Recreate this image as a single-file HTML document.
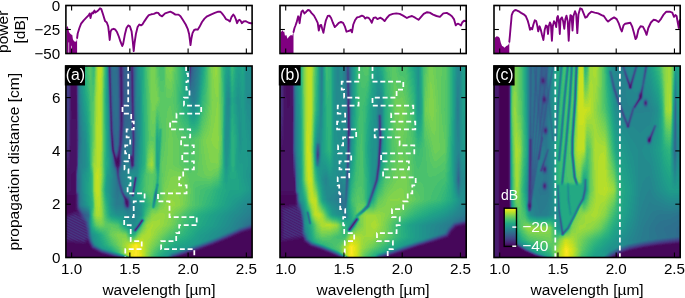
<!DOCTYPE html>
<html><head><meta charset="utf-8"><style>
html,body{margin:0;padding:0;background:#fff}
body{width:685px;height:298px;overflow:hidden;position:relative;font-family:"Liberation Sans",sans-serif}
canvas{position:absolute}
svg{position:absolute;left:0;top:0}
svg text{font-family:"Liberation Sans",sans-serif}
</style></head><body>
<svg width="186" height="192" shape-rendering="crispEdges" style="position:absolute;left:66px;top:66px"><path fill="#443b84" d="M0 0h3v4h-3zM53 0h1v4h-1zM56 0h1v4h-1zM0 4h3v4h-3zM44 4h1v4h-1zM53 4h1v4h-1zM56 4h1v4h-1zM124 4h1v4h-1zM0 8h3v4h-3zM44 8h1v4h-1zM56 8h1v4h-1zM0 12h3v4h-3zM43 12h2v4h-2zM56 12h1v4h-1zM0 16h3v4h-3zM43 16h1v4h-1zM65 16h1v4h-1zM0 20h3v4h-3zM43 20h1v4h-1zM65 20h1v4h-1zM0 24h3v4h-3zM65 24h1v4h-1zM0 28h3v4h-3zM65 28h1v4h-1zM0 32h3v4h-3zM65 32h1v4h-1zM67 32h1v4h-1zM0 36h3v4h-3zM45 36h1v4h-1zM67 36h1v4h-1zM0 40h3v4h-3zM11 40h1v4h-1zM45 40h1v4h-1zM67 40h1v4h-1zM0 44h3v4h-3zM11 44h1v4h-1zM45 44h1v4h-1zM67 44h1v4h-1zM1 48h2v4h-2zM11 48h1v4h-1zM44 48h1v4h-1zM67 48h1v4h-1zM1 52h2v4h-2zM11 52h1v4h-1zM44 52h1v4h-1zM66 52h2v4h-2zM1 56h2v4h-2zM11 56h1v4h-1zM66 56h2v4h-2zM1 60h2v4h-2zM11 60h1v4h-1zM56 60h1v4h-1zM66 60h1v4h-1zM1 64h2v4h-2zM46 64h1v4h-1zM56 64h1v4h-1zM1 68h2v4h-2zM1 72h2v4h-2zM45 72h1v4h-1zM53 72h1v4h-1zM2 76h1v4h-1zM47 76h1v4h-1zM53 76h1v4h-1zM55 76h1v4h-1zM11 84h1v4h-1zM46 84h1v4h-1zM48 84h1v4h-1zM54 84h1v4h-1zM66 84h1v4h-1zM11 88h1v4h-1zM47 88h1v4h-1zM50 88h1v4h-1zM65 88h1v4h-1zM11 92h1v4h-1zM11 96h1v4h-1zM67 96h1v4h-1zM50 100h1v4h-1zM51 104h2v4h-2zM10 108h1v4h-1zM10 112h1v4h-1zM69 112h1v4h-1zM10 116h1v4h-1zM10 120h1v4h-1zM67 120h1v4h-1zM10 124h1v4h-1zM11 128h1v4h-1zM58 128h1v4h-1zM11 132h1v4h-1zM11 136h1v4h-1zM15 148h1v4h-1zM17 152h1v4h-1zM19 156h1v4h-1zM20 160h1v4h-1zM182 160h2v4h-2zM21 164h1v4h-1zM171 164h1v4h-1zM21 168h1v4h-1zM162 168h2v4h-2zM23 172h1v4h-1zM153 172h1v4h-1zM143 176h1v4h-1zM28 180h1v4h-1zM132 180h1v4h-1zM35 184h1v4h-1zM120 184h2v4h-2zM48 188h2v4h-2zM108 188h2v4h-2z"/><path fill="#472e7c" d="M3 0h1v4h-1zM43 0h1v4h-1zM65 0h2v4h-2zM124 0h1v4h-1zM3 4h1v4h-1zM43 4h1v4h-1zM65 4h2v4h-2zM3 8h1v4h-1zM43 8h1v4h-1zM65 8h2v4h-2zM3 12h1v4h-1zM65 12h2v4h-2zM3 16h1v4h-1zM44 16h1v4h-1zM56 16h1v4h-1zM66 16h1v4h-1zM3 20h1v4h-1zM44 20h1v4h-1zM54 20h1v4h-1zM56 20h1v4h-1zM66 20h1v4h-1zM3 24h1v4h-1zM44 24h1v4h-1zM54 24h1v4h-1zM56 24h1v4h-1zM66 24h1v4h-1zM3 28h1v4h-1zM44 28h1v4h-1zM54 28h1v4h-1zM56 28h1v4h-1zM66 28h1v4h-1zM3 32h1v4h-1zM44 32h1v4h-1zM54 32h1v4h-1zM56 32h1v4h-1zM66 32h1v4h-1zM3 36h1v4h-1zM44 36h1v4h-1zM54 36h1v4h-1zM56 36h1v4h-1zM66 36h1v4h-1zM3 40h1v4h-1zM44 40h1v4h-1zM54 40h1v4h-1zM56 40h1v4h-1zM66 40h1v4h-1zM3 44h1v4h-1zM44 44h1v4h-1zM54 44h1v4h-1zM56 44h1v4h-1zM66 44h1v4h-1zM0 48h1v4h-1zM3 48h1v4h-1zM45 48h1v4h-1zM54 48h1v4h-1zM56 48h1v4h-1zM66 48h1v4h-1zM0 52h1v4h-1zM3 52h1v4h-1zM45 52h1v4h-1zM54 52h1v4h-1zM56 52h1v4h-1zM0 56h1v4h-1zM3 56h1v4h-1zM45 56h1v4h-1zM54 56h1v4h-1zM56 56h1v4h-1zM0 60h1v4h-1zM3 60h1v4h-1zM54 60h1v4h-1zM67 60h1v4h-1zM0 64h1v4h-1zM3 64h1v4h-1zM11 64h1v4h-1zM54 64h1v4h-1zM67 64h1v4h-1zM0 68h1v4h-1zM3 68h1v4h-1zM11 68h1v4h-1zM45 68h2v4h-2zM54 68h2v4h-2zM67 68h1v4h-1zM0 72h1v4h-1zM3 72h1v4h-1zM11 72h1v4h-1zM54 72h2v4h-2zM67 72h1v4h-1zM0 76h2v4h-2zM11 76h1v4h-1zM54 76h1v4h-1zM67 76h1v4h-1zM0 80h3v4h-3zM11 80h1v4h-1zM47 80h1v4h-1zM53 80h2v4h-2zM67 80h1v4h-1zM0 84h3v4h-3zM52 84h1v4h-1zM67 84h1v4h-1zM1 88h1v4h-1zM49 88h1v4h-1zM51 88h1v4h-1zM66 88h2v4h-2zM48 92h1v4h-1zM67 92h1v4h-1zM49 96h1v4h-1zM53 96h1v4h-1zM65 96h1v4h-1zM52 100h1v4h-1zM10 104h1v4h-1zM68 116h1v4h-1zM67 124h1v4h-1zM61 132h1v4h-1zM59 136h1v4h-1zM62 136h1v4h-1zM11 140h1v4h-1zM13 144h1v4h-1zM7 148h3v4h-3zM14 148h1v4h-1zM2 152h15v4h-15zM2 156h17v4h-17zM2 160h18v4h-18zM184 160h2v4h-2zM1 164h20v4h-20zM172 164h2v4h-2zM2 168h19v4h-19zM164 168h1v4h-1zM17 172h1v4h-1zM22 172h1v4h-1zM154 172h2v4h-2zM24 176h1v4h-1zM144 176h2v4h-2zM27 180h1v4h-1zM133 180h2v4h-2zM34 184h1v4h-1zM122 184h2v4h-2zM46 188h2v4h-2zM110 188h2v4h-2z"/><path fill="#482071" d="M4 0h1v4h-1zM10 0h1v4h-1zM54 0h2v4h-2zM4 4h1v4h-1zM10 4h1v4h-1zM54 4h2v4h-2zM4 8h1v4h-1zM10 8h1v4h-1zM54 8h2v4h-2zM4 12h1v4h-1zM10 12h1v4h-1zM54 12h2v4h-2zM4 16h1v4h-1zM10 16h1v4h-1zM54 16h2v4h-2zM4 20h1v4h-1zM55 20h1v4h-1zM4 24h1v4h-1zM55 24h1v4h-1zM4 28h1v4h-1zM55 28h1v4h-1zM4 32h1v4h-1zM4 36h1v4h-1zM55 36h1v4h-1zM4 40h1v4h-1zM55 40h1v4h-1zM4 44h1v4h-1zM55 44h1v4h-1zM4 48h1v4h-1zM55 48h1v4h-1zM4 52h1v4h-1zM55 52h1v4h-1zM4 56h1v4h-1zM55 56h1v4h-1zM4 60h1v4h-1zM45 60h1v4h-1zM55 60h1v4h-1zM45 64h1v4h-1zM55 64h1v4h-1zM46 72h1v4h-1zM3 76h1v4h-1zM46 76h1v4h-1zM3 80h1v4h-1zM46 80h1v4h-1zM3 84h1v4h-1zM47 84h1v4h-1zM53 84h1v4h-1zM0 88h1v4h-1zM2 88h2v4h-2zM48 88h1v4h-1zM52 88h2v4h-2zM0 92h4v4h-4zM53 92h1v4h-1zM65 92h2v4h-2zM0 96h3v4h-3zM66 96h1v4h-1zM0 100h2v4h-2zM10 100h1v4h-1zM51 100h1v4h-1zM10 128h1v4h-1zM10 132h1v4h-1zM59 132h2v4h-2zM10 136h1v4h-1zM60 136h1v4h-1zM11 144h2v4h-2zM1 148h6v4h-6zM10 148h4v4h-4zM0 152h2v4h-2zM0 156h2v4h-2zM0 160h2v4h-2zM0 164h1v4h-1zM174 164h3v4h-3zM0 168h2v4h-2zM165 168h2v4h-2zM0 172h17v4h-17zM18 172h4v4h-4zM156 172h2v4h-2zM146 176h2v4h-2zM26 180h1v4h-1zM135 180h2v4h-2zM32 184h2v4h-2zM124 184h2v4h-2zM44 188h2v4h-2zM112 188h2v4h-2z"/><path fill="#471164" d="M5 0h5v4h-5zM5 4h5v4h-5zM5 8h5v4h-5zM5 12h5v4h-5zM5 16h5v4h-5zM5 20h6v4h-6zM5 24h6v4h-6zM5 28h6v4h-6zM5 32h6v4h-6zM55 32h1v4h-1zM5 36h6v4h-6zM5 40h6v4h-6zM5 44h6v4h-6zM5 48h6v4h-6zM5 52h6v4h-6zM5 56h6v4h-6zM5 60h6v4h-6zM4 64h7v4h-7zM4 68h7v4h-7zM4 72h7v4h-7zM4 76h7v4h-7zM4 80h7v4h-7zM4 84h7v4h-7zM4 88h7v4h-7zM4 92h7v4h-7zM49 92h4v4h-4zM3 96h8v4h-8zM50 96h3v4h-3zM2 100h8v4h-8zM0 104h10v4h-10zM0 108h10v4h-10zM0 112h10v4h-10zM0 116h10v4h-10zM0 120h10v4h-10zM0 124h10v4h-10zM0 128h10v4h-10zM9 132h1v4h-1zM9 136h1v4h-1zM61 136h1v4h-1zM9 140h2v4h-2zM3 144h8v4h-8zM0 148h1v4h-1zM177 164h7v4h-7zM167 168h6v4h-6zM158 172h6v4h-6zM2 176h19v4h-19zM22 176h2v4h-2zM148 176h6v4h-6zM24 180h2v4h-2zM137 180h7v4h-7zM28 184h4v4h-4zM126 184h6v4h-6zM37 188h7v4h-7zM114 188h7v4h-7z"/><path fill="#3f4889" d="M11 0h1v4h-1zM44 0h1v4h-1zM64 0h1v4h-1zM67 0h1v4h-1zM11 4h1v4h-1zM64 4h1v4h-1zM67 4h1v4h-1zM11 8h1v4h-1zM53 8h1v4h-1zM67 8h1v4h-1zM124 8h1v4h-1zM11 12h1v4h-1zM53 12h1v4h-1zM57 12h1v4h-1zM67 12h1v4h-1zM11 16h1v4h-1zM53 16h1v4h-1zM57 16h1v4h-1zM67 16h1v4h-1zM11 20h1v4h-1zM53 20h1v4h-1zM57 20h1v4h-1zM67 20h1v4h-1zM11 24h1v4h-1zM43 24h1v4h-1zM53 24h1v4h-1zM57 24h1v4h-1zM67 24h1v4h-1zM11 28h1v4h-1zM43 28h1v4h-1zM45 28h1v4h-1zM53 28h1v4h-1zM57 28h1v4h-1zM67 28h1v4h-1zM11 32h1v4h-1zM45 32h1v4h-1zM53 32h1v4h-1zM57 32h1v4h-1zM11 36h1v4h-1zM53 36h1v4h-1zM57 36h1v4h-1zM65 36h1v4h-1zM53 40h1v4h-1zM57 40h1v4h-1zM65 40h1v4h-1zM57 44h1v4h-1zM57 48h1v4h-1zM44 56h1v4h-1zM46 56h1v4h-1zM44 60h1v4h-1zM46 60h1v4h-1zM53 60h1v4h-1zM53 64h1v4h-1zM66 64h1v4h-1zM53 68h1v4h-1zM56 68h1v4h-1zM66 68h1v4h-1zM47 72h1v4h-1zM66 72h1v4h-1zM45 76h1v4h-1zM66 76h1v4h-1zM52 80h1v4h-1zM55 80h1v4h-1zM66 80h1v4h-1zM51 84h1v4h-1zM54 88h1v4h-1zM64 88h1v4h-1zM54 92h1v4h-1zM64 92h1v4h-1zM48 96h1v4h-1zM54 96h1v4h-1zM11 100h1v4h-1zM53 100h1v4h-1zM51 108h2v4h-2zM52 112h1v4h-1zM53 116h1v4h-1zM54 120h1v4h-1zM68 120h1v4h-1zM55 124h2v4h-2zM57 128h1v4h-1zM58 132h1v4h-1zM62 132h1v4h-1zM12 140h1v4h-1zM14 144h1v4h-1zM16 148h1v4h-1zM18 152h1v4h-1zM20 156h1v4h-1zM73 156h1v4h-1zM21 160h1v4h-1zM70 160h1v4h-1zM180 160h2v4h-2zM170 164h1v4h-1zM22 168h1v4h-1zM161 168h1v4h-1zM152 172h1v4h-1zM25 176h1v4h-1zM141 176h2v4h-2zM29 180h1v4h-1zM130 180h2v4h-2zM36 184h2v4h-2zM119 184h1v4h-1zM50 188h2v4h-2zM107 188h1v4h-1z"/><path fill="#2f6c8e" d="M12 0h1v4h-1zM46 0h1v4h-1zM49 0h3v4h-3zM123 0h1v4h-1zM127 0h2v4h-2zM12 4h1v4h-1zM46 4h1v4h-1zM49 4h3v4h-3zM123 4h1v4h-1zM127 4h1v4h-1zM12 8h1v4h-1zM42 8h1v4h-1zM46 8h2v4h-2zM49 8h3v4h-3zM126 8h2v4h-2zM12 12h1v4h-1zM42 12h1v4h-1zM46 12h2v4h-2zM49 12h3v4h-3zM126 12h2v4h-2zM12 16h1v4h-1zM46 16h2v4h-2zM50 16h2v4h-2zM125 16h2v4h-2zM12 20h1v4h-1zM46 20h3v4h-3zM50 20h2v4h-2zM124 20h1v4h-1zM12 24h1v4h-1zM46 24h3v4h-3zM50 24h2v4h-2zM12 28h1v4h-1zM47 28h2v4h-2zM50 28h2v4h-2zM12 32h1v4h-1zM47 32h2v4h-2zM50 32h2v4h-2zM47 36h2v4h-2zM50 36h2v4h-2zM47 40h5v4h-5zM43 44h1v4h-1zM47 44h5v4h-5zM43 48h1v4h-1zM47 48h5v4h-5zM61 48h3v4h-3zM47 52h5v4h-5zM60 52h5v4h-5zM48 56h4v4h-4zM59 56h6v4h-6zM48 60h4v4h-4zM59 60h6v4h-6zM48 64h4v4h-4zM58 64h7v4h-7zM69 64h1v4h-1zM13 68h1v4h-1zM49 68h3v4h-3zM58 68h5v4h-5zM64 68h2v4h-2zM69 68h1v4h-1zM13 72h1v4h-1zM44 72h1v4h-1zM49 72h3v4h-3zM58 72h4v4h-4zM65 72h1v4h-1zM69 72h1v4h-1zM49 76h3v4h-3zM57 76h3v4h-3zM65 76h1v4h-1zM69 76h1v4h-1zM49 80h2v4h-2zM57 80h1v4h-1zM65 80h1v4h-1zM45 84h1v4h-1zM56 84h1v4h-1zM65 84h1v4h-1zM12 88h1v4h-1zM46 88h1v4h-1zM56 88h1v4h-1zM63 88h1v4h-1zM12 92h1v4h-1zM56 92h1v4h-1zM63 92h1v4h-1zM47 96h1v4h-1zM56 96h1v4h-1zM68 96h1v4h-1zM48 100h1v4h-1zM55 100h1v4h-1zM49 104h1v4h-1zM11 108h1v4h-1zM50 108h1v4h-1zM11 112h1v4h-1zM54 112h1v4h-1zM70 112h1v4h-1zM12 116h1v4h-1zM51 116h1v4h-1zM55 116h1v4h-1zM67 116h1v4h-1zM12 120h1v4h-1zM52 120h1v4h-1zM56 120h1v4h-1zM12 124h1v4h-1zM54 124h1v4h-1zM68 124h1v4h-1zM13 128h1v4h-1zM60 128h2v4h-2zM67 128h1v4h-1zM13 132h1v4h-1zM57 132h1v4h-1zM13 136h1v4h-1zM57 136h1v4h-1zM14 140h1v4h-1zM59 140h1v4h-1zM63 140h1v4h-1zM18 144h2v4h-2zM21 148h2v4h-2zM21 152h1v4h-1zM76 152h1v4h-1zM22 156h1v4h-1zM182 156h4v4h-4zM173 160h3v4h-3zM23 164h1v4h-1zM165 164h2v4h-2zM157 168h1v4h-1zM147 172h2v4h-2zM137 176h2v4h-2zM31 180h1v4h-1zM126 180h1v4h-1zM41 184h1v4h-1zM114 184h2v4h-2zM54 188h1v4h-1z"/><path fill="#26818e" d="M13 0h1v4h-1zM70 0h1v4h-1zM131 0h2v4h-2zM13 4h1v4h-1zM70 4h1v4h-1zM131 4h2v4h-2zM13 8h1v4h-1zM70 8h1v4h-1zM130 8h2v4h-2zM13 12h1v4h-1zM70 12h1v4h-1zM130 12h2v4h-2zM13 16h1v4h-1zM70 16h1v4h-1zM123 16h1v4h-1zM129 16h3v4h-3zM13 20h1v4h-1zM70 20h1v4h-1zM123 20h1v4h-1zM129 20h2v4h-2zM13 24h1v4h-1zM70 24h1v4h-1zM128 24h3v4h-3zM42 28h1v4h-1zM70 28h1v4h-1zM124 28h6v4h-6zM42 32h1v4h-1zM70 32h1v4h-1zM125 32h5v4h-5zM14 36h1v4h-1zM70 36h1v4h-1zM14 40h1v4h-1zM70 40h1v4h-1zM14 44h1v4h-1zM70 44h1v4h-1zM14 48h1v4h-1zM70 48h2v4h-2zM14 52h1v4h-1zM70 52h2v4h-2zM14 56h2v4h-2zM70 56h2v4h-2zM14 60h2v4h-2zM70 60h2v4h-2zM15 64h1v4h-1zM43 64h1v4h-1zM70 64h2v4h-2zM15 68h1v4h-1zM43 68h1v4h-1zM71 68h1v4h-1zM15 72h2v4h-2zM71 72h1v4h-1zM15 76h2v4h-2zM70 76h2v4h-2zM15 80h1v4h-1zM44 80h1v4h-1zM70 80h2v4h-2zM14 84h2v4h-2zM44 84h1v4h-1zM70 84h1v4h-1zM14 88h2v4h-2zM45 88h1v4h-1zM70 88h1v4h-1zM14 92h2v4h-2zM45 92h1v4h-1zM59 92h3v4h-3zM69 92h2v4h-2zM13 96h3v4h-3zM45 96h1v4h-1zM58 96h5v4h-5zM69 96h1v4h-1zM13 100h3v4h-3zM46 100h1v4h-1zM57 100h7v4h-7zM68 100h1v4h-1zM14 104h1v4h-1zM47 104h1v4h-1zM56 104h4v4h-4zM14 108h1v4h-1zM47 108h2v4h-2zM55 108h5v4h-5zM70 108h1v4h-1zM14 112h1v4h-1zM47 112h2v4h-2zM56 112h4v4h-4zM67 112h1v4h-1zM14 116h1v4h-1zM47 116h3v4h-3zM56 116h4v4h-4zM14 120h1v4h-1zM47 120h2v4h-2zM57 120h3v4h-3zM66 120h1v4h-1zM69 120h1v4h-1zM14 124h1v4h-1zM47 124h3v4h-3zM59 124h2v4h-2zM65 124h1v4h-1zM14 128h2v4h-2zM47 128h3v4h-3zM63 128h2v4h-2zM14 132h2v4h-2zM47 132h3v4h-3zM53 132h3v4h-3zM65 132h1v4h-1zM88 132h1v4h-1zM15 136h1v4h-1zM48 136h8v4h-8zM65 136h3v4h-3zM18 140h2v4h-2zM49 140h9v4h-9zM65 140h4v4h-4zM182 140h4v4h-4zM22 144h1v4h-1zM59 144h10v4h-10zM179 144h7v4h-7zM23 148h1v4h-1zM62 148h7v4h-7zM176 148h10v4h-10zM23 152h1v4h-1zM74 152h1v4h-1zM172 152h9v4h-9zM23 156h1v4h-1zM71 156h1v4h-1zM75 156h1v4h-1zM169 156h9v4h-9zM68 160h1v4h-1zM167 160h4v4h-4zM24 164h1v4h-1zM161 164h3v4h-3zM25 168h1v4h-1zM153 168h2v4h-2zM26 172h1v4h-1zM144 172h2v4h-2zM28 176h1v4h-1zM134 176h1v4h-1zM33 180h1v4h-1zM123 180h1v4h-1zM44 184h1v4h-1zM111 184h2v4h-2zM56 188h1v4h-1zM103 188h1v4h-1z"/><path fill="#1f958b" d="M14 0h1v4h-1zM72 0h2v4h-2zM135 0h1v4h-1zM179 0h2v4h-2zM14 4h2v4h-2zM72 4h2v4h-2zM134 4h2v4h-2zM162 4h1v4h-1zM179 4h1v4h-1zM15 8h1v4h-1zM72 8h2v4h-2zM122 8h1v4h-1zM134 8h1v4h-1zM161 8h2v4h-2zM172 8h1v4h-1zM178 8h2v4h-2zM15 12h1v4h-1zM41 12h1v4h-1zM73 12h2v4h-2zM122 12h1v4h-1zM134 12h1v4h-1zM160 12h4v4h-4zM172 12h2v4h-2zM178 12h2v4h-2zM15 16h2v4h-2zM41 16h1v4h-1zM73 16h2v4h-2zM122 16h1v4h-1zM133 16h1v4h-1zM160 16h4v4h-4zM171 16h3v4h-3zM178 16h2v4h-2zM15 20h2v4h-2zM41 20h1v4h-1zM73 20h2v4h-2zM122 20h1v4h-1zM133 20h1v4h-1zM160 20h2v4h-2zM163 20h1v4h-1zM171 20h4v4h-4zM178 20h2v4h-2zM15 24h2v4h-2zM41 24h1v4h-1zM73 24h2v4h-2zM122 24h1v4h-1zM133 24h1v4h-1zM160 24h1v4h-1zM163 24h1v4h-1zM170 24h5v4h-5zM178 24h2v4h-2zM16 28h1v4h-1zM41 28h1v4h-1zM73 28h2v4h-2zM132 28h1v4h-1zM159 28h2v4h-2zM164 28h1v4h-1zM170 28h6v4h-6zM178 28h2v4h-2zM16 32h2v4h-2zM41 32h1v4h-1zM74 32h1v4h-1zM123 32h1v4h-1zM132 32h1v4h-1zM159 32h1v4h-1zM164 32h1v4h-1zM169 32h7v4h-7zM177 32h3v4h-3zM16 36h2v4h-2zM41 36h1v4h-1zM74 36h1v4h-1zM123 36h1v4h-1zM131 36h2v4h-2zM159 36h1v4h-1zM164 36h1v4h-1zM170 36h10v4h-10zM16 40h2v4h-2zM41 40h1v4h-1zM74 40h1v4h-1zM124 40h2v4h-2zM129 40h3v4h-3zM159 40h1v4h-1zM164 40h1v4h-1zM170 40h10v4h-10zM17 44h2v4h-2zM41 44h1v4h-1zM74 44h1v4h-1zM125 44h5v4h-5zM159 44h1v4h-1zM164 44h1v4h-1zM171 44h10v4h-10zM17 48h2v4h-2zM41 48h1v4h-1zM74 48h1v4h-1zM159 48h1v4h-1zM171 48h10v4h-10zM17 52h3v4h-3zM74 52h1v4h-1zM159 52h1v4h-1zM163 52h1v4h-1zM171 52h12v4h-12zM18 56h2v4h-2zM74 56h1v4h-1zM159 56h1v4h-1zM163 56h1v4h-1zM171 56h13v4h-13zM18 60h3v4h-3zM42 60h1v4h-1zM74 60h1v4h-1zM159 60h1v4h-1zM163 60h1v4h-1zM172 60h13v4h-13zM19 64h2v4h-2zM42 64h1v4h-1zM74 64h1v4h-1zM159 64h1v4h-1zM163 64h1v4h-1zM172 64h13v4h-13zM19 68h2v4h-2zM42 68h1v4h-1zM74 68h1v4h-1zM159 68h1v4h-1zM163 68h1v4h-1zM172 68h6v4h-6zM179 68h7v4h-7zM20 72h1v4h-1zM42 72h1v4h-1zM73 72h2v4h-2zM159 72h5v4h-5zM172 72h6v4h-6zM179 72h7v4h-7zM20 76h1v4h-1zM42 76h1v4h-1zM73 76h2v4h-2zM159 76h5v4h-5zM172 76h6v4h-6zM179 76h7v4h-7zM20 80h2v4h-2zM42 80h1v4h-1zM73 80h2v4h-2zM159 80h5v4h-5zM172 80h5v4h-5zM179 80h7v4h-7zM20 84h2v4h-2zM42 84h2v4h-2zM73 84h1v4h-1zM159 84h4v4h-4zM173 84h4v4h-4zM179 84h7v4h-7zM20 88h2v4h-2zM43 88h1v4h-1zM73 88h1v4h-1zM159 88h4v4h-4zM173 88h4v4h-4zM179 88h7v4h-7zM20 92h2v4h-2zM43 92h1v4h-1zM72 92h2v4h-2zM159 92h4v4h-4zM173 92h2v4h-2zM178 92h8v4h-8zM20 96h2v4h-2zM43 96h1v4h-1zM72 96h2v4h-2zM159 96h4v4h-4zM178 96h8v4h-8zM19 100h3v4h-3zM43 100h1v4h-1zM72 100h1v4h-1zM159 100h3v4h-3zM178 100h8v4h-8zM18 104h3v4h-3zM42 104h3v4h-3zM72 104h1v4h-1zM177 104h9v4h-9zM17 108h4v4h-4zM42 108h3v4h-3zM66 108h1v4h-1zM72 108h1v4h-1zM178 108h8v4h-8zM17 112h3v4h-3zM41 112h3v4h-3zM64 112h3v4h-3zM71 112h1v4h-1zM179 112h7v4h-7zM17 116h3v4h-3zM41 116h3v4h-3zM64 116h2v4h-2zM180 116h6v4h-6zM17 120h3v4h-3zM41 120h3v4h-3zM64 120h2v4h-2zM90 120h1v4h-1zM181 120h5v4h-5zM17 124h3v4h-3zM41 124h3v4h-3zM69 124h1v4h-1zM179 124h7v4h-7zM18 128h2v4h-2zM42 128h3v4h-3zM69 128h2v4h-2zM175 128h9v4h-9zM18 132h3v4h-3zM43 132h2v4h-2zM70 132h4v4h-4zM89 132h1v4h-1zM169 132h11v4h-11zM19 136h3v4h-3zM43 136h2v4h-2zM73 136h3v4h-3zM88 136h1v4h-1zM166 136h9v4h-9zM23 140h1v4h-1zM44 140h2v4h-2zM74 140h2v4h-2zM162 140h10v4h-10zM45 144h3v4h-3zM74 144h2v4h-2zM157 144h11v4h-11zM49 148h9v4h-9zM73 148h3v4h-3zM153 148h11v4h-11zM24 152h1v4h-1zM57 152h4v4h-4zM71 152h3v4h-3zM151 152h11v4h-11zM24 156h1v4h-1zM60 156h3v4h-3zM149 156h10v4h-10zM64 160h3v4h-3zM145 160h11v4h-11zM25 164h1v4h-1zM140 164h12v4h-12zM26 168h4v4h-4zM135 168h13v4h-13zM28 172h3v4h-3zM133 172h8v4h-8zM30 176h3v4h-3zM127 176h4v4h-4zM36 180h2v4h-2zM117 180h3v4h-3zM46 184h2v4h-2zM105 184h3v4h-3zM100 188h2v4h-2z"/><path fill="#1fa088" d="M15 0h2v4h-2zM40 0h1v4h-1zM74 0h2v4h-2zM119 0h3v4h-3zM136 0h1v4h-1zM160 0h4v4h-4zM170 0h6v4h-6zM177 0h2v4h-2zM16 4h2v4h-2zM40 4h1v4h-1zM74 4h2v4h-2zM120 4h2v4h-2zM136 4h1v4h-1zM159 4h3v4h-3zM163 4h1v4h-1zM170 4h9v4h-9zM16 8h2v4h-2zM40 8h1v4h-1zM74 8h2v4h-2zM120 8h2v4h-2zM135 8h2v4h-2zM159 8h2v4h-2zM163 8h1v4h-1zM169 8h3v4h-3zM173 8h5v4h-5zM16 12h2v4h-2zM40 12h1v4h-1zM75 12h1v4h-1zM120 12h2v4h-2zM135 12h1v4h-1zM159 12h1v4h-1zM164 12h1v4h-1zM169 12h3v4h-3zM174 12h4v4h-4zM17 16h1v4h-1zM40 16h1v4h-1zM75 16h1v4h-1zM120 16h2v4h-2zM134 16h2v4h-2zM159 16h1v4h-1zM164 16h1v4h-1zM169 16h2v4h-2zM174 16h4v4h-4zM17 20h2v4h-2zM40 20h1v4h-1zM75 20h1v4h-1zM120 20h2v4h-2zM134 20h1v4h-1zM159 20h1v4h-1zM164 20h1v4h-1zM168 20h3v4h-3zM175 20h3v4h-3zM17 24h2v4h-2zM40 24h1v4h-1zM75 24h1v4h-1zM121 24h1v4h-1zM134 24h1v4h-1zM159 24h1v4h-1zM164 24h1v4h-1zM168 24h2v4h-2zM175 24h3v4h-3zM17 28h2v4h-2zM40 28h1v4h-1zM75 28h1v4h-1zM121 28h2v4h-2zM133 28h2v4h-2zM165 28h1v4h-1zM167 28h3v4h-3zM176 28h2v4h-2zM18 32h2v4h-2zM40 32h1v4h-1zM75 32h1v4h-1zM121 32h2v4h-2zM133 32h1v4h-1zM165 32h1v4h-1zM167 32h2v4h-2zM176 32h1v4h-1zM18 36h2v4h-2zM40 36h1v4h-1zM75 36h1v4h-1zM122 36h1v4h-1zM133 36h1v4h-1zM165 36h1v4h-1zM167 36h3v4h-3zM18 40h3v4h-3zM40 40h1v4h-1zM75 40h1v4h-1zM123 40h1v4h-1zM132 40h1v4h-1zM165 40h1v4h-1zM167 40h3v4h-3zM19 44h2v4h-2zM40 44h1v4h-1zM75 44h1v4h-1zM123 44h2v4h-2zM130 44h2v4h-2zM158 44h1v4h-1zM165 44h1v4h-1zM168 44h3v4h-3zM19 48h2v4h-2zM40 48h1v4h-1zM75 48h1v4h-1zM124 48h7v4h-7zM158 48h1v4h-1zM164 48h1v4h-1zM168 48h3v4h-3zM20 52h2v4h-2zM41 52h1v4h-1zM75 52h1v4h-1zM125 52h4v4h-4zM158 52h1v4h-1zM164 52h1v4h-1zM169 52h2v4h-2zM20 56h2v4h-2zM41 56h1v4h-1zM75 56h1v4h-1zM158 56h1v4h-1zM164 56h1v4h-1zM169 56h2v4h-2zM21 60h1v4h-1zM41 60h1v4h-1zM75 60h1v4h-1zM158 60h1v4h-1zM164 60h1v4h-1zM169 60h3v4h-3zM21 64h1v4h-1zM41 64h1v4h-1zM75 64h1v4h-1zM158 64h1v4h-1zM164 64h1v4h-1zM170 64h2v4h-2zM21 68h1v4h-1zM41 68h1v4h-1zM75 68h1v4h-1zM158 68h1v4h-1zM164 68h1v4h-1zM170 68h2v4h-2zM178 68h1v4h-1zM21 72h2v4h-2zM41 72h1v4h-1zM75 72h1v4h-1zM91 72h1v4h-1zM158 72h1v4h-1zM164 72h1v4h-1zM170 72h2v4h-2zM178 72h1v4h-1zM21 76h2v4h-2zM41 76h1v4h-1zM75 76h1v4h-1zM91 76h1v4h-1zM158 76h1v4h-1zM164 76h1v4h-1zM170 76h2v4h-2zM178 76h1v4h-1zM22 80h1v4h-1zM41 80h1v4h-1zM75 80h1v4h-1zM91 80h1v4h-1zM158 80h1v4h-1zM164 80h1v4h-1zM170 80h2v4h-2zM177 80h2v4h-2zM22 84h1v4h-1zM41 84h1v4h-1zM74 84h2v4h-2zM91 84h1v4h-1zM158 84h1v4h-1zM163 84h2v4h-2zM170 84h3v4h-3zM177 84h2v4h-2zM22 88h1v4h-1zM41 88h2v4h-2zM74 88h2v4h-2zM91 88h1v4h-1zM158 88h1v4h-1zM163 88h2v4h-2zM170 88h3v4h-3zM177 88h2v4h-2zM22 92h1v4h-1zM41 92h2v4h-2zM74 92h2v4h-2zM91 92h2v4h-2zM158 92h1v4h-1zM163 92h2v4h-2zM170 92h3v4h-3zM175 92h3v4h-3zM22 96h1v4h-1zM41 96h2v4h-2zM74 96h2v4h-2zM91 96h2v4h-2zM158 96h1v4h-1zM163 96h1v4h-1zM170 96h8v4h-8zM22 100h1v4h-1zM41 100h2v4h-2zM73 100h2v4h-2zM158 100h1v4h-1zM162 100h2v4h-2zM170 100h8v4h-8zM21 104h2v4h-2zM41 104h1v4h-1zM73 104h1v4h-1zM158 104h6v4h-6zM170 104h7v4h-7zM21 108h2v4h-2zM40 108h2v4h-2zM73 108h1v4h-1zM159 108h4v4h-4zM171 108h7v4h-7zM20 112h3v4h-3zM40 112h1v4h-1zM72 112h1v4h-1zM159 112h4v4h-4zM171 112h8v4h-8zM20 116h3v4h-3zM40 116h1v4h-1zM71 116h2v4h-2zM91 116h1v4h-1zM159 116h5v4h-5zM170 116h10v4h-10zM20 120h3v4h-3zM40 120h1v4h-1zM70 120h2v4h-2zM91 120h1v4h-1zM162 120h19v4h-19zM20 124h3v4h-3zM40 124h1v4h-1zM70 124h2v4h-2zM161 124h18v4h-18zM20 128h3v4h-3zM40 128h2v4h-2zM71 128h3v4h-3zM90 128h1v4h-1zM160 128h15v4h-15zM21 132h2v4h-2zM41 132h2v4h-2zM74 132h2v4h-2zM87 132h1v4h-1zM158 132h11v4h-11zM22 136h2v4h-2zM42 136h1v4h-1zM76 136h2v4h-2zM157 136h9v4h-9zM24 140h1v4h-1zM43 140h1v4h-1zM76 140h2v4h-2zM153 140h9v4h-9zM24 144h1v4h-1zM43 144h2v4h-2zM76 144h1v4h-1zM147 144h10v4h-10zM24 148h1v4h-1zM44 148h5v4h-5zM76 148h1v4h-1zM142 148h11v4h-11zM54 152h3v4h-3zM77 152h1v4h-1zM140 152h11v4h-11zM57 156h3v4h-3zM138 156h11v4h-11zM25 160h1v4h-1zM62 160h2v4h-2zM73 160h1v4h-1zM134 160h11v4h-11zM26 164h3v4h-3zM66 164h2v4h-2zM70 164h1v4h-1zM130 164h10v4h-10zM30 168h3v4h-3zM127 168h8v4h-8zM31 172h4v4h-4zM123 172h10v4h-10zM33 176h3v4h-3zM115 176h12v4h-12zM38 180h3v4h-3zM107 180h10v4h-10zM48 184h1v4h-1zM101 184h4v4h-4zM58 188h1v4h-1zM97 188h3v4h-3z"/><path fill="#24aa83" d="M17 0h2v4h-2zM76 0h2v4h-2zM116 0h3v4h-3zM137 0h2v4h-2zM158 0h2v4h-2zM164 0h1v4h-1zM168 0h2v4h-2zM176 0h1v4h-1zM18 4h1v4h-1zM76 4h2v4h-2zM116 4h4v4h-4zM137 4h2v4h-2zM158 4h1v4h-1zM164 4h1v4h-1zM168 4h2v4h-2zM18 8h1v4h-1zM76 8h2v4h-2zM116 8h4v4h-4zM137 8h1v4h-1zM158 8h1v4h-1zM164 8h1v4h-1zM168 8h1v4h-1zM18 12h2v4h-2zM76 12h2v4h-2zM116 12h4v4h-4zM136 12h2v4h-2zM158 12h1v4h-1zM165 12h1v4h-1zM167 12h2v4h-2zM18 16h2v4h-2zM76 16h2v4h-2zM116 16h4v4h-4zM136 16h2v4h-2zM158 16h1v4h-1zM165 16h1v4h-1zM167 16h2v4h-2zM19 20h1v4h-1zM76 20h2v4h-2zM116 20h4v4h-4zM135 20h2v4h-2zM158 20h1v4h-1zM165 20h3v4h-3zM19 24h2v4h-2zM76 24h2v4h-2zM116 24h5v4h-5zM135 24h1v4h-1zM158 24h1v4h-1zM165 24h3v4h-3zM19 28h2v4h-2zM39 28h1v4h-1zM76 28h2v4h-2zM116 28h5v4h-5zM135 28h1v4h-1zM158 28h1v4h-1zM166 28h1v4h-1zM20 32h2v4h-2zM39 32h1v4h-1zM76 32h2v4h-2zM116 32h5v4h-5zM134 32h2v4h-2zM158 32h1v4h-1zM166 32h1v4h-1zM20 36h2v4h-2zM39 36h1v4h-1zM76 36h2v4h-2zM117 36h5v4h-5zM134 36h1v4h-1zM158 36h1v4h-1zM166 36h1v4h-1zM21 40h1v4h-1zM39 40h1v4h-1zM76 40h2v4h-2zM119 40h4v4h-4zM133 40h2v4h-2zM158 40h1v4h-1zM166 40h1v4h-1zM21 44h2v4h-2zM76 44h2v4h-2zM121 44h2v4h-2zM132 44h2v4h-2zM166 44h2v4h-2zM21 48h2v4h-2zM76 48h2v4h-2zM122 48h2v4h-2zM131 48h2v4h-2zM165 48h3v4h-3zM22 52h1v4h-1zM40 52h1v4h-1zM76 52h2v4h-2zM123 52h2v4h-2zM129 52h3v4h-3zM165 52h4v4h-4zM22 56h1v4h-1zM40 56h1v4h-1zM76 56h2v4h-2zM124 56h6v4h-6zM165 56h4v4h-4zM22 60h1v4h-1zM40 60h1v4h-1zM76 60h2v4h-2zM165 60h4v4h-4zM22 64h1v4h-1zM40 64h1v4h-1zM76 64h2v4h-2zM91 64h1v4h-1zM94 64h1v4h-1zM165 64h5v4h-5zM22 68h2v4h-2zM40 68h1v4h-1zM76 68h2v4h-2zM90 68h2v4h-2zM93 68h2v4h-2zM157 68h1v4h-1zM165 68h1v4h-1zM167 68h3v4h-3zM23 72h1v4h-1zM40 72h1v4h-1zM76 72h2v4h-2zM90 72h1v4h-1zM92 72h2v4h-2zM157 72h1v4h-1zM165 72h1v4h-1zM168 72h2v4h-2zM23 76h1v4h-1zM40 76h1v4h-1zM76 76h2v4h-2zM90 76h1v4h-1zM92 76h2v4h-2zM157 76h1v4h-1zM165 76h1v4h-1zM168 76h2v4h-2zM23 80h1v4h-1zM40 80h1v4h-1zM76 80h2v4h-2zM90 80h1v4h-1zM92 80h2v4h-2zM157 80h1v4h-1zM165 80h1v4h-1zM168 80h2v4h-2zM23 84h1v4h-1zM40 84h1v4h-1zM76 84h2v4h-2zM90 84h1v4h-1zM92 84h2v4h-2zM157 84h1v4h-1zM165 84h1v4h-1zM168 84h2v4h-2zM23 88h1v4h-1zM40 88h1v4h-1zM76 88h2v4h-2zM90 88h1v4h-1zM92 88h2v4h-2zM157 88h1v4h-1zM165 88h1v4h-1zM168 88h2v4h-2zM23 92h1v4h-1zM40 92h1v4h-1zM76 92h2v4h-2zM90 92h1v4h-1zM93 92h1v4h-1zM157 92h1v4h-1zM165 92h1v4h-1zM168 92h2v4h-2zM23 96h1v4h-1zM40 96h1v4h-1zM76 96h2v4h-2zM90 96h1v4h-1zM157 96h1v4h-1zM164 96h2v4h-2zM168 96h2v4h-2zM23 100h1v4h-1zM40 100h1v4h-1zM75 100h2v4h-2zM91 100h2v4h-2zM157 100h1v4h-1zM164 100h6v4h-6zM23 104h2v4h-2zM40 104h1v4h-1zM74 104h2v4h-2zM91 104h2v4h-2zM157 104h1v4h-1zM164 104h6v4h-6zM23 108h2v4h-2zM74 108h1v4h-1zM157 108h2v4h-2zM163 108h8v4h-8zM23 112h2v4h-2zM39 112h1v4h-1zM73 112h2v4h-2zM91 112h1v4h-1zM156 112h3v4h-3zM163 112h8v4h-8zM23 116h2v4h-2zM39 116h1v4h-1zM73 116h2v4h-2zM90 116h1v4h-1zM156 116h3v4h-3zM164 116h6v4h-6zM23 120h2v4h-2zM39 120h1v4h-1zM72 120h2v4h-2zM89 120h1v4h-1zM154 120h8v4h-8zM23 124h2v4h-2zM39 124h1v4h-1zM72 124h3v4h-3zM91 124h1v4h-1zM152 124h9v4h-9zM23 128h2v4h-2zM39 128h1v4h-1zM74 128h3v4h-3zM151 128h9v4h-9zM23 132h3v4h-3zM40 132h1v4h-1zM76 132h3v4h-3zM150 132h8v4h-8zM24 136h2v4h-2zM40 136h2v4h-2zM78 136h2v4h-2zM86 136h1v4h-1zM148 136h9v4h-9zM25 140h1v4h-1zM41 140h2v4h-2zM78 140h1v4h-1zM144 140h9v4h-9zM25 144h1v4h-1zM42 144h1v4h-1zM77 144h2v4h-2zM137 144h10v4h-10zM25 148h1v4h-1zM43 148h1v4h-1zM77 148h1v4h-1zM132 148h10v4h-10zM25 152h1v4h-1zM48 152h6v4h-6zM130 152h10v4h-10zM25 156h1v4h-1zM55 156h2v4h-2zM128 156h10v4h-10zM26 160h2v4h-2zM59 160h3v4h-3zM125 160h9v4h-9zM29 164h3v4h-3zM63 164h3v4h-3zM123 164h7v4h-7zM33 168h3v4h-3zM119 168h8v4h-8zM35 172h3v4h-3zM113 172h10v4h-10zM36 176h4v4h-4zM106 176h9v4h-9zM41 180h4v4h-4zM101 180h6v4h-6zM49 184h2v4h-2zM96 184h5v4h-5zM59 188h1v4h-1zM93 188h4v4h-4z"/><path fill="#2fb47c" d="M19 0h1v4h-1zM27 0h1v4h-1zM39 0h1v4h-1zM78 0h1v4h-1zM114 0h2v4h-2zM139 0h1v4h-1zM157 0h1v4h-1zM165 0h1v4h-1zM167 0h1v4h-1zM19 4h2v4h-2zM39 4h1v4h-1zM78 4h1v4h-1zM114 4h2v4h-2zM139 4h1v4h-1zM157 4h1v4h-1zM165 4h3v4h-3zM19 8h2v4h-2zM39 8h1v4h-1zM78 8h1v4h-1zM114 8h2v4h-2zM138 8h2v4h-2zM157 8h1v4h-1zM165 8h3v4h-3zM20 12h1v4h-1zM39 12h1v4h-1zM78 12h1v4h-1zM114 12h2v4h-2zM138 12h2v4h-2zM157 12h1v4h-1zM166 12h1v4h-1zM20 16h2v4h-2zM39 16h1v4h-1zM78 16h1v4h-1zM114 16h2v4h-2zM138 16h1v4h-1zM157 16h1v4h-1zM166 16h1v4h-1zM20 20h3v4h-3zM39 20h1v4h-1zM78 20h1v4h-1zM114 20h2v4h-2zM137 20h2v4h-2zM157 20h1v4h-1zM21 24h2v4h-2zM39 24h1v4h-1zM78 24h2v4h-2zM114 24h2v4h-2zM136 24h3v4h-3zM157 24h1v4h-1zM21 28h2v4h-2zM78 28h2v4h-2zM113 28h3v4h-3zM136 28h2v4h-2zM157 28h1v4h-1zM22 32h2v4h-2zM78 32h2v4h-2zM113 32h3v4h-3zM136 32h2v4h-2zM157 32h1v4h-1zM22 36h2v4h-2zM78 36h2v4h-2zM114 36h3v4h-3zM135 36h2v4h-2zM157 36h1v4h-1zM22 40h2v4h-2zM78 40h2v4h-2zM115 40h4v4h-4zM135 40h1v4h-1zM157 40h1v4h-1zM23 44h1v4h-1zM39 44h1v4h-1zM78 44h2v4h-2zM115 44h6v4h-6zM134 44h2v4h-2zM157 44h1v4h-1zM23 48h1v4h-1zM39 48h1v4h-1zM78 48h2v4h-2zM116 48h6v4h-6zM133 48h2v4h-2zM157 48h1v4h-1zM23 52h1v4h-1zM39 52h1v4h-1zM78 52h2v4h-2zM118 52h5v4h-5zM132 52h2v4h-2zM157 52h1v4h-1zM23 56h1v4h-1zM39 56h1v4h-1zM78 56h2v4h-2zM91 56h1v4h-1zM121 56h3v4h-3zM130 56h3v4h-3zM157 56h1v4h-1zM23 60h2v4h-2zM39 60h1v4h-1zM78 60h2v4h-2zM90 60h3v4h-3zM123 60h9v4h-9zM157 60h1v4h-1zM23 64h2v4h-2zM39 64h1v4h-1zM78 64h2v4h-2zM90 64h1v4h-1zM92 64h2v4h-2zM124 64h4v4h-4zM157 64h1v4h-1zM24 68h1v4h-1zM39 68h1v4h-1zM78 68h2v4h-2zM92 68h1v4h-1zM166 68h1v4h-1zM24 72h1v4h-1zM39 72h1v4h-1zM78 72h2v4h-2zM94 72h1v4h-1zM166 72h2v4h-2zM24 76h1v4h-1zM39 76h1v4h-1zM78 76h2v4h-2zM94 76h1v4h-1zM166 76h2v4h-2zM24 80h1v4h-1zM39 80h1v4h-1zM78 80h2v4h-2zM94 80h1v4h-1zM166 80h2v4h-2zM24 84h1v4h-1zM39 84h1v4h-1zM78 84h2v4h-2zM166 84h2v4h-2zM24 88h1v4h-1zM39 88h1v4h-1zM78 88h2v4h-2zM166 88h2v4h-2zM24 92h1v4h-1zM39 92h1v4h-1zM78 92h2v4h-2zM166 92h2v4h-2zM24 96h1v4h-1zM39 96h1v4h-1zM78 96h1v4h-1zM93 96h1v4h-1zM166 96h2v4h-2zM24 100h1v4h-1zM39 100h1v4h-1zM77 100h2v4h-2zM90 100h1v4h-1zM93 100h1v4h-1zM156 100h1v4h-1zM25 104h1v4h-1zM39 104h1v4h-1zM76 104h2v4h-2zM90 104h1v4h-1zM156 104h1v4h-1zM25 108h1v4h-1zM39 108h1v4h-1zM75 108h3v4h-3zM91 108h2v4h-2zM155 108h2v4h-2zM25 112h1v4h-1zM38 112h1v4h-1zM75 112h2v4h-2zM90 112h1v4h-1zM92 112h1v4h-1zM154 112h2v4h-2zM25 116h1v4h-1zM38 116h1v4h-1zM75 116h2v4h-2zM92 116h1v4h-1zM152 116h4v4h-4zM25 120h1v4h-1zM38 120h1v4h-1zM74 120h3v4h-3zM147 120h7v4h-7zM25 124h1v4h-1zM38 124h1v4h-1zM75 124h2v4h-2zM88 124h1v4h-1zM144 124h8v4h-8zM25 128h1v4h-1zM38 128h1v4h-1zM77 128h2v4h-2zM87 128h1v4h-1zM142 128h9v4h-9zM26 132h1v4h-1zM39 132h1v4h-1zM79 132h2v4h-2zM90 132h1v4h-1zM141 132h9v4h-9zM26 136h1v4h-1zM39 136h1v4h-1zM80 136h3v4h-3zM89 136h1v4h-1zM139 136h9v4h-9zM26 140h1v4h-1zM40 140h1v4h-1zM79 140h3v4h-3zM87 140h1v4h-1zM134 140h10v4h-10zM40 144h2v4h-2zM79 144h1v4h-1zM129 144h8v4h-8zM41 148h2v4h-2zM78 148h1v4h-1zM125 148h7v4h-7zM26 152h1v4h-1zM43 152h5v4h-5zM123 152h7v4h-7zM26 156h1v4h-1zM53 156h2v4h-2zM76 156h1v4h-1zM121 156h7v4h-7zM28 160h1v4h-1zM57 160h2v4h-2zM119 160h6v4h-6zM32 164h3v4h-3zM62 164h1v4h-1zM116 164h7v4h-7zM36 168h3v4h-3zM65 168h3v4h-3zM111 168h8v4h-8zM38 172h3v4h-3zM105 172h8v4h-8zM40 176h3v4h-3zM101 176h5v4h-5zM45 180h3v4h-3zM96 180h5v4h-5zM51 184h2v4h-2zM92 184h4v4h-4zM90 188h3v4h-3z"/><path fill="#42be71" d="M20 0h2v4h-2zM25 0h2v4h-2zM28 0h1v4h-1zM38 0h1v4h-1zM79 0h2v4h-2zM93 0h5v4h-5zM111 0h3v4h-3zM140 0h2v4h-2zM155 0h2v4h-2zM166 0h1v4h-1zM21 4h2v4h-2zM25 4h4v4h-4zM38 4h1v4h-1zM79 4h2v4h-2zM93 4h5v4h-5zM111 4h3v4h-3zM140 4h2v4h-2zM156 4h1v4h-1zM21 8h2v4h-2zM25 8h3v4h-3zM38 8h1v4h-1zM79 8h2v4h-2zM94 8h4v4h-4zM111 8h3v4h-3zM140 8h2v4h-2zM156 8h1v4h-1zM21 12h3v4h-3zM25 12h3v4h-3zM38 12h1v4h-1zM79 12h2v4h-2zM111 12h3v4h-3zM140 12h1v4h-1zM156 12h1v4h-1zM22 16h2v4h-2zM25 16h3v4h-3zM38 16h1v4h-1zM79 16h2v4h-2zM111 16h3v4h-3zM139 16h2v4h-2zM156 16h1v4h-1zM23 20h5v4h-5zM38 20h1v4h-1zM79 20h3v4h-3zM111 20h3v4h-3zM139 20h2v4h-2zM156 20h1v4h-1zM23 24h4v4h-4zM38 24h1v4h-1zM80 24h2v4h-2zM110 24h4v4h-4zM139 24h2v4h-2zM156 24h1v4h-1zM23 28h2v4h-2zM38 28h1v4h-1zM80 28h2v4h-2zM110 28h3v4h-3zM138 28h3v4h-3zM156 28h1v4h-1zM24 32h1v4h-1zM38 32h1v4h-1zM80 32h2v4h-2zM110 32h3v4h-3zM138 32h3v4h-3zM156 32h1v4h-1zM24 36h2v4h-2zM38 36h1v4h-1zM80 36h2v4h-2zM110 36h4v4h-4zM137 36h3v4h-3zM156 36h1v4h-1zM24 40h2v4h-2zM38 40h1v4h-1zM80 40h2v4h-2zM111 40h4v4h-4zM136 40h3v4h-3zM156 40h1v4h-1zM24 44h2v4h-2zM38 44h1v4h-1zM80 44h2v4h-2zM111 44h4v4h-4zM136 44h2v4h-2zM156 44h1v4h-1zM24 48h2v4h-2zM38 48h1v4h-1zM80 48h2v4h-2zM91 48h1v4h-1zM112 48h4v4h-4zM135 48h2v4h-2zM156 48h1v4h-1zM24 52h2v4h-2zM38 52h1v4h-1zM80 52h2v4h-2zM90 52h3v4h-3zM113 52h5v4h-5zM134 52h2v4h-2zM156 52h1v4h-1zM24 56h2v4h-2zM38 56h1v4h-1zM80 56h2v4h-2zM90 56h1v4h-1zM92 56h2v4h-2zM114 56h7v4h-7zM133 56h3v4h-3zM156 56h1v4h-1zM25 60h1v4h-1zM38 60h1v4h-1zM80 60h2v4h-2zM93 60h2v4h-2zM115 60h8v4h-8zM132 60h3v4h-3zM156 60h1v4h-1zM25 64h1v4h-1zM38 64h1v4h-1zM80 64h2v4h-2zM89 64h1v4h-1zM95 64h1v4h-1zM117 64h7v4h-7zM128 64h5v4h-5zM156 64h1v4h-1zM25 68h1v4h-1zM38 68h1v4h-1zM80 68h2v4h-2zM89 68h1v4h-1zM95 68h1v4h-1zM120 68h11v4h-11zM156 68h1v4h-1zM25 72h1v4h-1zM38 72h1v4h-1zM80 72h2v4h-2zM89 72h1v4h-1zM95 72h1v4h-1zM156 72h1v4h-1zM25 76h1v4h-1zM38 76h1v4h-1zM80 76h2v4h-2zM89 76h1v4h-1zM95 76h1v4h-1zM156 76h1v4h-1zM25 80h1v4h-1zM38 80h1v4h-1zM80 80h1v4h-1zM89 80h1v4h-1zM156 80h1v4h-1zM25 84h1v4h-1zM38 84h1v4h-1zM80 84h1v4h-1zM89 84h1v4h-1zM94 84h1v4h-1zM156 84h1v4h-1zM25 88h1v4h-1zM38 88h1v4h-1zM80 88h1v4h-1zM89 88h1v4h-1zM94 88h1v4h-1zM156 88h1v4h-1zM38 92h1v4h-1zM80 92h1v4h-1zM89 92h1v4h-1zM94 92h1v4h-1zM156 92h1v4h-1zM38 96h1v4h-1zM79 96h1v4h-1zM89 96h1v4h-1zM155 96h2v4h-2zM25 100h1v4h-1zM38 100h1v4h-1zM79 100h1v4h-1zM89 100h1v4h-1zM155 100h1v4h-1zM38 104h1v4h-1zM78 104h2v4h-2zM89 104h1v4h-1zM93 104h1v4h-1zM154 104h2v4h-2zM26 108h1v4h-1zM38 108h1v4h-1zM78 108h2v4h-2zM90 108h1v4h-1zM93 108h1v4h-1zM153 108h2v4h-2zM26 112h1v4h-1zM77 112h3v4h-3zM89 112h1v4h-1zM93 112h1v4h-1zM151 112h3v4h-3zM26 116h1v4h-1zM37 116h1v4h-1zM77 116h3v4h-3zM89 116h1v4h-1zM93 116h1v4h-1zM144 116h8v4h-8zM26 120h1v4h-1zM37 120h1v4h-1zM77 120h2v4h-2zM88 120h1v4h-1zM92 120h2v4h-2zM132 120h15v4h-15zM26 124h1v4h-1zM37 124h1v4h-1zM77 124h4v4h-4zM87 124h1v4h-1zM92 124h1v4h-1zM130 124h14v4h-14zM26 128h1v4h-1zM79 128h4v4h-4zM91 128h1v4h-1zM130 128h12v4h-12zM38 132h1v4h-1zM81 132h4v4h-4zM86 132h1v4h-1zM130 132h11v4h-11zM27 136h1v4h-1zM38 136h1v4h-1zM83 136h3v4h-3zM90 136h1v4h-1zM130 136h9v4h-9zM39 140h1v4h-1zM82 140h2v4h-2zM86 140h1v4h-1zM88 140h1v4h-1zM126 140h8v4h-8zM26 144h1v4h-1zM39 144h1v4h-1zM80 144h2v4h-2zM122 144h7v4h-7zM26 148h1v4h-1zM39 148h2v4h-2zM79 148h1v4h-1zM118 148h7v4h-7zM27 152h1v4h-1zM40 152h3v4h-3zM78 152h1v4h-1zM117 152h6v4h-6zM27 156h2v4h-2zM48 156h5v4h-5zM115 156h6v4h-6zM29 160h4v4h-4zM54 160h3v4h-3zM74 160h1v4h-1zM112 160h7v4h-7zM35 164h6v4h-6zM60 164h2v4h-2zM71 164h1v4h-1zM108 164h8v4h-8zM39 168h3v4h-3zM63 168h2v4h-2zM68 168h2v4h-2zM103 168h8v4h-8zM41 172h3v4h-3zM99 172h6v4h-6zM43 176h4v4h-4zM96 176h5v4h-5zM48 180h3v4h-3zM92 180h4v4h-4zM53 184h1v4h-1zM89 184h3v4h-3zM60 188h1v4h-1zM87 188h3v4h-3z"/><path fill="#58c765" d="M22 0h3v4h-3zM81 0h2v4h-2zM90 0h3v4h-3zM98 0h2v4h-2zM108 0h3v4h-3zM142 0h1v4h-1zM154 0h1v4h-1zM23 4h2v4h-2zM81 4h2v4h-2zM90 4h3v4h-3zM98 4h2v4h-2zM108 4h3v4h-3zM142 4h1v4h-1zM154 4h2v4h-2zM23 8h2v4h-2zM28 8h1v4h-1zM81 8h2v4h-2zM91 8h3v4h-3zM98 8h2v4h-2zM108 8h3v4h-3zM142 8h1v4h-1zM154 8h2v4h-2zM24 12h1v4h-1zM28 12h1v4h-1zM81 12h2v4h-2zM91 12h9v4h-9zM107 12h4v4h-4zM141 12h2v4h-2zM154 12h2v4h-2zM24 16h1v4h-1zM28 16h1v4h-1zM37 16h1v4h-1zM81 16h3v4h-3zM92 16h8v4h-8zM107 16h4v4h-4zM141 16h2v4h-2zM154 16h2v4h-2zM28 20h1v4h-1zM37 20h1v4h-1zM82 20h2v4h-2zM92 20h8v4h-8zM106 20h5v4h-5zM141 20h2v4h-2zM154 20h2v4h-2zM27 24h2v4h-2zM37 24h1v4h-1zM82 24h2v4h-2zM93 24h7v4h-7zM106 24h4v4h-4zM141 24h3v4h-3zM154 24h2v4h-2zM25 28h3v4h-3zM37 28h1v4h-1zM82 28h2v4h-2zM93 28h17v4h-17zM141 28h3v4h-3zM154 28h2v4h-2zM25 32h3v4h-3zM37 32h1v4h-1zM82 32h2v4h-2zM93 32h17v4h-17zM141 32h3v4h-3zM154 32h2v4h-2zM26 36h2v4h-2zM37 36h1v4h-1zM82 36h2v4h-2zM93 36h17v4h-17zM140 36h3v4h-3zM155 36h1v4h-1zM26 40h2v4h-2zM37 40h1v4h-1zM82 40h2v4h-2zM91 40h20v4h-20zM139 40h4v4h-4zM155 40h1v4h-1zM26 44h2v4h-2zM37 44h1v4h-1zM82 44h2v4h-2zM90 44h21v4h-21zM138 44h4v4h-4zM155 44h1v4h-1zM26 48h2v4h-2zM37 48h1v4h-1zM82 48h2v4h-2zM89 48h2v4h-2zM92 48h12v4h-12zM105 48h7v4h-7zM137 48h5v4h-5zM155 48h1v4h-1zM26 52h2v4h-2zM37 52h1v4h-1zM82 52h3v4h-3zM89 52h1v4h-1zM93 52h10v4h-10zM106 52h7v4h-7zM136 52h5v4h-5zM155 52h1v4h-1zM26 56h2v4h-2zM37 56h1v4h-1zM82 56h3v4h-3zM89 56h1v4h-1zM94 56h8v4h-8zM106 56h8v4h-8zM136 56h4v4h-4zM155 56h1v4h-1zM26 60h2v4h-2zM37 60h1v4h-1zM82 60h3v4h-3zM89 60h1v4h-1zM95 60h7v4h-7zM107 60h8v4h-8zM135 60h3v4h-3zM155 60h1v4h-1zM26 64h2v4h-2zM37 64h1v4h-1zM82 64h7v4h-7zM96 64h5v4h-5zM108 64h9v4h-9zM133 64h4v4h-4zM155 64h1v4h-1zM26 68h1v4h-1zM37 68h1v4h-1zM82 68h7v4h-7zM96 68h5v4h-5zM109 68h11v4h-11zM131 68h5v4h-5zM155 68h1v4h-1zM26 72h1v4h-1zM37 72h1v4h-1zM82 72h7v4h-7zM96 72h5v4h-5zM110 72h24v4h-24zM155 72h1v4h-1zM26 76h1v4h-1zM37 76h1v4h-1zM82 76h2v4h-2zM87 76h2v4h-2zM96 76h5v4h-5zM110 76h24v4h-24zM155 76h1v4h-1zM26 80h1v4h-1zM37 80h1v4h-1zM81 80h2v4h-2zM88 80h1v4h-1zM95 80h5v4h-5zM110 80h24v4h-24zM155 80h1v4h-1zM26 84h1v4h-1zM37 84h1v4h-1zM81 84h1v4h-1zM88 84h1v4h-1zM95 84h5v4h-5zM110 84h24v4h-24zM154 84h2v4h-2zM26 88h1v4h-1zM37 88h1v4h-1zM81 88h1v4h-1zM88 88h1v4h-1zM95 88h4v4h-4zM110 88h24v4h-24zM154 88h2v4h-2zM25 92h1v4h-1zM37 92h1v4h-1zM81 92h1v4h-1zM95 92h4v4h-4zM110 92h24v4h-24zM154 92h2v4h-2zM25 96h1v4h-1zM37 96h1v4h-1zM80 96h1v4h-1zM94 96h4v4h-4zM111 96h23v4h-23zM154 96h1v4h-1zM26 100h1v4h-1zM37 100h1v4h-1zM80 100h2v4h-2zM88 100h1v4h-1zM94 100h4v4h-4zM115 100h19v4h-19zM153 100h2v4h-2zM26 104h1v4h-1zM37 104h1v4h-1zM80 104h3v4h-3zM88 104h1v4h-1zM94 104h4v4h-4zM119 104h15v4h-15zM152 104h2v4h-2zM37 108h1v4h-1zM80 108h10v4h-10zM94 108h4v4h-4zM121 108h16v4h-16zM147 108h6v4h-6zM37 112h1v4h-1zM80 112h9v4h-9zM94 112h3v4h-3zM122 112h29v4h-29zM80 116h9v4h-9zM94 116h3v4h-3zM123 116h21v4h-21zM36 120h1v4h-1zM79 120h9v4h-9zM94 120h3v4h-3zM124 120h8v4h-8zM36 124h1v4h-1zM81 124h6v4h-6zM93 124h3v4h-3zM124 124h6v4h-6zM27 128h1v4h-1zM37 128h1v4h-1zM83 128h4v4h-4zM92 128h3v4h-3zM123 128h7v4h-7zM27 132h1v4h-1zM37 132h1v4h-1zM85 132h1v4h-1zM91 132h3v4h-3zM123 132h7v4h-7zM37 136h1v4h-1zM91 136h2v4h-2zM122 136h8v4h-8zM27 140h1v4h-1zM38 140h1v4h-1zM84 140h2v4h-2zM89 140h2v4h-2zM119 140h7v4h-7zM27 144h1v4h-1zM38 144h1v4h-1zM82 144h2v4h-2zM115 144h7v4h-7zM27 148h1v4h-1zM38 148h1v4h-1zM80 148h3v4h-3zM112 148h6v4h-6zM28 152h1v4h-1zM38 152h2v4h-2zM79 152h1v4h-1zM111 152h6v4h-6zM29 156h1v4h-1zM38 156h10v4h-10zM77 156h1v4h-1zM109 156h6v4h-6zM33 160h21v4h-21zM75 160h1v4h-1zM106 160h6v4h-6zM41 164h4v4h-4zM56 164h4v4h-4zM72 164h2v4h-2zM102 164h6v4h-6zM42 168h3v4h-3zM61 168h2v4h-2zM70 168h1v4h-1zM98 168h5v4h-5zM44 172h4v4h-4zM94 172h5v4h-5zM47 176h3v4h-3zM91 176h5v4h-5zM51 180h2v4h-2zM88 180h4v4h-4zM54 184h2v4h-2zM86 184h3v4h-3zM61 188h1v4h-1zM84 188h3v4h-3z"/><path fill="#70cf57" d="M29 0h1v4h-1zM37 0h1v4h-1zM83 0h7v4h-7zM100 0h2v4h-2zM106 0h2v4h-2zM143 0h3v4h-3zM153 0h1v4h-1zM29 4h1v4h-1zM37 4h1v4h-1zM83 4h7v4h-7zM100 4h4v4h-4zM105 4h3v4h-3zM143 4h3v4h-3zM153 4h1v4h-1zM29 8h1v4h-1zM37 8h1v4h-1zM83 8h8v4h-8zM100 8h8v4h-8zM143 8h3v4h-3zM153 8h1v4h-1zM29 12h1v4h-1zM37 12h1v4h-1zM83 12h8v4h-8zM100 12h7v4h-7zM143 12h3v4h-3zM153 12h1v4h-1zM29 16h1v4h-1zM84 16h8v4h-8zM100 16h7v4h-7zM143 16h3v4h-3zM153 16h1v4h-1zM29 20h1v4h-1zM84 20h8v4h-8zM100 20h6v4h-6zM143 20h3v4h-3zM153 20h1v4h-1zM84 24h9v4h-9zM100 24h6v4h-6zM144 24h3v4h-3zM153 24h1v4h-1zM28 28h1v4h-1zM84 28h9v4h-9zM144 28h3v4h-3zM153 28h1v4h-1zM28 32h1v4h-1zM84 32h9v4h-9zM144 32h3v4h-3zM153 32h1v4h-1zM28 36h1v4h-1zM84 36h9v4h-9zM143 36h4v4h-4zM153 36h2v4h-2zM28 40h1v4h-1zM84 40h7v4h-7zM143 40h3v4h-3zM153 40h2v4h-2zM28 44h1v4h-1zM84 44h6v4h-6zM142 44h4v4h-4zM153 44h2v4h-2zM28 48h1v4h-1zM84 48h5v4h-5zM104 48h1v4h-1zM142 48h4v4h-4zM153 48h2v4h-2zM28 52h1v4h-1zM85 52h4v4h-4zM103 52h3v4h-3zM141 52h4v4h-4zM153 52h2v4h-2zM28 56h1v4h-1zM85 56h4v4h-4zM102 56h4v4h-4zM140 56h5v4h-5zM153 56h2v4h-2zM28 60h1v4h-1zM85 60h4v4h-4zM102 60h5v4h-5zM138 60h7v4h-7zM153 60h2v4h-2zM28 64h1v4h-1zM101 64h7v4h-7zM137 64h7v4h-7zM153 64h2v4h-2zM27 68h2v4h-2zM101 68h8v4h-8zM136 68h7v4h-7zM153 68h2v4h-2zM27 72h2v4h-2zM101 72h9v4h-9zM134 72h7v4h-7zM153 72h2v4h-2zM27 76h1v4h-1zM84 76h3v4h-3zM101 76h9v4h-9zM134 76h7v4h-7zM153 76h2v4h-2zM27 80h1v4h-1zM36 80h1v4h-1zM83 80h5v4h-5zM100 80h10v4h-10zM134 80h8v4h-8zM153 80h2v4h-2zM27 84h1v4h-1zM36 84h1v4h-1zM82 84h6v4h-6zM100 84h10v4h-10zM134 84h9v4h-9zM152 84h2v4h-2zM27 88h1v4h-1zM36 88h1v4h-1zM82 88h2v4h-2zM87 88h1v4h-1zM99 88h11v4h-11zM134 88h10v4h-10zM152 88h2v4h-2zM26 92h1v4h-1zM36 92h1v4h-1zM82 92h1v4h-1zM87 92h2v4h-2zM99 92h11v4h-11zM134 92h13v4h-13zM152 92h2v4h-2zM26 96h1v4h-1zM36 96h1v4h-1zM81 96h2v4h-2zM88 96h1v4h-1zM98 96h13v4h-13zM134 96h20v4h-20zM36 100h1v4h-1zM82 100h2v4h-2zM87 100h1v4h-1zM98 100h17v4h-17zM134 100h19v4h-19zM27 104h1v4h-1zM36 104h1v4h-1zM83 104h5v4h-5zM98 104h21v4h-21zM134 104h18v4h-18zM27 108h1v4h-1zM36 108h1v4h-1zM98 108h23v4h-23zM137 108h10v4h-10zM27 112h1v4h-1zM36 112h1v4h-1zM97 112h9v4h-9zM112 112h10v4h-10zM27 116h1v4h-1zM36 116h1v4h-1zM97 116h7v4h-7zM114 116h9v4h-9zM27 120h1v4h-1zM97 120h5v4h-5zM116 120h8v4h-8zM27 124h1v4h-1zM96 124h4v4h-4zM117 124h7v4h-7zM36 128h1v4h-1zM95 128h4v4h-4zM116 128h7v4h-7zM36 132h1v4h-1zM94 132h4v4h-4zM116 132h7v4h-7zM28 136h1v4h-1zM36 136h1v4h-1zM93 136h5v4h-5zM116 136h6v4h-6zM28 140h1v4h-1zM36 140h2v4h-2zM91 140h4v4h-4zM113 140h6v4h-6zM37 144h1v4h-1zM84 144h7v4h-7zM108 144h7v4h-7zM28 148h1v4h-1zM37 148h1v4h-1zM83 148h2v4h-2zM106 148h6v4h-6zM29 152h1v4h-1zM36 152h2v4h-2zM80 152h3v4h-3zM105 152h6v4h-6zM30 156h8v4h-8zM78 156h2v4h-2zM103 156h6v4h-6zM76 160h2v4h-2zM99 160h7v4h-7zM45 164h11v4h-11zM74 164h2v4h-2zM96 164h6v4h-6zM45 168h7v4h-7zM59 168h2v4h-2zM71 168h1v4h-1zM92 168h6v4h-6zM48 172h5v4h-5zM63 172h5v4h-5zM89 172h5v4h-5zM50 176h4v4h-4zM87 176h4v4h-4zM53 180h3v4h-3zM85 180h3v4h-3zM56 184h1v4h-1zM83 184h3v4h-3zM62 188h1v4h-1zM82 188h2v4h-2z"/><path fill="#8bd646" d="M30 0h1v4h-1zM36 0h1v4h-1zM102 0h4v4h-4zM146 0h7v4h-7zM30 4h1v4h-1zM36 4h1v4h-1zM104 4h1v4h-1zM146 4h7v4h-7zM30 8h1v4h-1zM36 8h1v4h-1zM146 8h7v4h-7zM30 12h1v4h-1zM36 12h1v4h-1zM146 12h7v4h-7zM30 16h1v4h-1zM36 16h1v4h-1zM146 16h7v4h-7zM30 20h1v4h-1zM36 20h1v4h-1zM146 20h7v4h-7zM29 24h1v4h-1zM36 24h1v4h-1zM147 24h6v4h-6zM29 28h1v4h-1zM36 28h1v4h-1zM147 28h6v4h-6zM29 32h1v4h-1zM36 32h1v4h-1zM147 32h6v4h-6zM29 36h1v4h-1zM36 36h1v4h-1zM147 36h6v4h-6zM29 40h1v4h-1zM36 40h1v4h-1zM146 40h7v4h-7zM29 44h1v4h-1zM36 44h1v4h-1zM146 44h7v4h-7zM29 48h1v4h-1zM36 48h1v4h-1zM146 48h7v4h-7zM29 52h1v4h-1zM36 52h1v4h-1zM145 52h8v4h-8zM29 56h1v4h-1zM36 56h1v4h-1zM145 56h8v4h-8zM29 60h1v4h-1zM36 60h1v4h-1zM145 60h8v4h-8zM29 64h1v4h-1zM36 64h1v4h-1zM144 64h9v4h-9zM29 68h1v4h-1zM36 68h1v4h-1zM143 68h10v4h-10zM29 72h1v4h-1zM36 72h1v4h-1zM141 72h12v4h-12zM28 76h2v4h-2zM36 76h1v4h-1zM141 76h12v4h-12zM28 80h1v4h-1zM142 80h11v4h-11zM28 84h1v4h-1zM143 84h9v4h-9zM28 88h1v4h-1zM35 88h1v4h-1zM84 88h3v4h-3zM144 88h8v4h-8zM27 92h2v4h-2zM35 92h1v4h-1zM83 92h4v4h-4zM147 92h5v4h-5zM27 96h1v4h-1zM35 96h1v4h-1zM83 96h2v4h-2zM86 96h2v4h-2zM27 100h1v4h-1zM35 100h1v4h-1zM84 100h3v4h-3zM35 104h1v4h-1zM35 108h1v4h-1zM35 112h1v4h-1zM106 112h6v4h-6zM35 116h1v4h-1zM104 116h10v4h-10zM35 120h1v4h-1zM102 120h14v4h-14zM35 124h1v4h-1zM100 124h17v4h-17zM28 128h1v4h-1zM35 128h1v4h-1zM99 128h17v4h-17zM28 132h1v4h-1zM35 132h1v4h-1zM98 132h18v4h-18zM35 136h1v4h-1zM98 136h18v4h-18zM35 140h1v4h-1zM95 140h18v4h-18zM28 144h2v4h-2zM35 144h2v4h-2zM91 144h17v4h-17zM29 148h1v4h-1zM35 148h2v4h-2zM85 148h21v4h-21zM30 152h6v4h-6zM83 152h8v4h-8zM94 152h11v4h-11zM80 156h3v4h-3zM94 156h9v4h-9zM78 160h3v4h-3zM91 160h8v4h-8zM76 164h3v4h-3zM88 164h8v4h-8zM52 168h7v4h-7zM72 168h3v4h-3zM87 168h5v4h-5zM53 172h10v4h-10zM68 172h2v4h-2zM84 172h5v4h-5zM54 176h5v4h-5zM83 176h4v4h-4zM56 180h3v4h-3zM81 180h4v4h-4zM57 184h2v4h-2zM81 184h2v4h-2zM80 188h2v4h-2z"/><path fill="#a8db34" d="M31 0h1v4h-1zM35 0h1v4h-1zM31 4h1v4h-1zM35 4h1v4h-1zM31 8h1v4h-1zM35 8h1v4h-1zM31 12h1v4h-1zM35 12h1v4h-1zM31 16h1v4h-1zM34 16h2v4h-2zM31 20h1v4h-1zM34 20h2v4h-2zM30 24h2v4h-2zM34 24h2v4h-2zM30 28h2v4h-2zM34 28h2v4h-2zM30 32h6v4h-6zM30 36h6v4h-6zM30 40h6v4h-6zM30 44h6v4h-6zM30 48h6v4h-6zM30 52h3v4h-3zM34 52h2v4h-2zM30 56h3v4h-3zM34 56h2v4h-2zM30 60h3v4h-3zM34 60h2v4h-2zM30 64h3v4h-3zM34 64h2v4h-2zM30 68h3v4h-3zM35 68h1v4h-1zM30 72h3v4h-3zM35 72h1v4h-1zM30 76h3v4h-3zM34 76h2v4h-2zM29 80h7v4h-7zM29 84h7v4h-7zM29 88h3v4h-3zM33 88h2v4h-2zM29 92h3v4h-3zM33 92h2v4h-2zM28 96h4v4h-4zM33 96h2v4h-2zM85 96h1v4h-1zM28 100h3v4h-3zM33 100h2v4h-2zM28 104h2v4h-2zM34 104h1v4h-1zM28 108h2v4h-2zM34 108h1v4h-1zM28 112h2v4h-2zM34 112h1v4h-1zM28 116h2v4h-2zM33 116h2v4h-2zM28 120h2v4h-2zM33 120h2v4h-2zM28 124h2v4h-2zM33 124h2v4h-2zM29 128h1v4h-1zM33 128h2v4h-2zM29 132h3v4h-3zM33 132h2v4h-2zM29 136h3v4h-3zM33 136h2v4h-2zM29 140h6v4h-6zM30 144h5v4h-5zM30 148h5v4h-5zM91 152h3v4h-3zM83 156h11v4h-11zM81 160h10v4h-10zM79 164h9v4h-9zM75 168h12v4h-12zM70 172h5v4h-5zM76 172h8v4h-8zM59 176h4v4h-4zM78 176h5v4h-5zM59 180h2v4h-2zM78 180h3v4h-3zM59 184h2v4h-2zM78 184h3v4h-3zM63 188h1v4h-1zM78 188h2v4h-2z"/><path fill="#c5e021" d="M32 0h3v4h-3zM32 4h3v4h-3zM32 8h3v4h-3zM32 12h3v4h-3zM32 16h2v4h-2zM32 20h2v4h-2zM32 24h2v4h-2zM32 28h2v4h-2zM33 52h1v4h-1zM33 56h1v4h-1zM33 60h1v4h-1zM33 64h1v4h-1zM33 68h2v4h-2zM33 72h2v4h-2zM33 76h1v4h-1zM32 88h1v4h-1zM32 92h1v4h-1zM32 96h1v4h-1zM31 100h2v4h-2zM30 104h4v4h-4zM30 108h4v4h-4zM30 112h4v4h-4zM30 116h3v4h-3zM30 120h3v4h-3zM30 124h3v4h-3zM30 128h3v4h-3zM32 132h1v4h-1zM32 136h1v4h-1zM75 172h1v4h-1zM63 176h4v4h-4zM75 176h3v4h-3zM61 180h3v4h-3zM76 180h2v4h-2zM61 184h2v4h-2zM76 184h2v4h-2zM64 188h1v4h-1zM76 188h2v4h-2z"/><path fill="#228b8d" d="M41 0h1v4h-1zM71 0h1v4h-1zM122 0h1v4h-1zM133 0h2v4h-2zM181 0h5v4h-5zM41 4h1v4h-1zM71 4h1v4h-1zM122 4h1v4h-1zM133 4h1v4h-1zM180 4h6v4h-6zM14 8h1v4h-1zM41 8h1v4h-1zM71 8h1v4h-1zM132 8h2v4h-2zM180 8h6v4h-6zM14 12h1v4h-1zM71 12h2v4h-2zM132 12h2v4h-2zM180 12h6v4h-6zM14 16h1v4h-1zM71 16h2v4h-2zM132 16h1v4h-1zM180 16h6v4h-6zM14 20h1v4h-1zM71 20h2v4h-2zM131 20h2v4h-2zM162 20h1v4h-1zM180 20h6v4h-6zM14 24h1v4h-1zM71 24h2v4h-2zM123 24h1v4h-1zM131 24h2v4h-2zM161 24h2v4h-2zM180 24h6v4h-6zM14 28h2v4h-2zM71 28h2v4h-2zM123 28h1v4h-1zM130 28h2v4h-2zM161 28h3v4h-3zM180 28h6v4h-6zM14 32h2v4h-2zM71 32h3v4h-3zM124 32h1v4h-1zM130 32h2v4h-2zM160 32h4v4h-4zM180 32h6v4h-6zM15 36h1v4h-1zM42 36h1v4h-1zM71 36h3v4h-3zM124 36h7v4h-7zM160 36h4v4h-4zM180 36h6v4h-6zM15 40h1v4h-1zM42 40h1v4h-1zM71 40h3v4h-3zM126 40h3v4h-3zM160 40h4v4h-4zM180 40h6v4h-6zM15 44h2v4h-2zM42 44h1v4h-1zM71 44h3v4h-3zM160 44h4v4h-4zM181 44h5v4h-5zM15 48h2v4h-2zM42 48h1v4h-1zM72 48h2v4h-2zM160 48h4v4h-4zM181 48h5v4h-5zM15 52h2v4h-2zM42 52h1v4h-1zM72 52h2v4h-2zM160 52h3v4h-3zM183 52h3v4h-3zM16 56h2v4h-2zM42 56h1v4h-1zM72 56h2v4h-2zM160 56h3v4h-3zM184 56h2v4h-2zM16 60h2v4h-2zM72 60h2v4h-2zM160 60h3v4h-3zM185 60h1v4h-1zM16 64h3v4h-3zM72 64h2v4h-2zM160 64h3v4h-3zM185 64h1v4h-1zM16 68h3v4h-3zM72 68h2v4h-2zM160 68h3v4h-3zM17 72h3v4h-3zM43 72h1v4h-1zM72 72h1v4h-1zM17 76h3v4h-3zM43 76h1v4h-1zM72 76h1v4h-1zM16 80h4v4h-4zM43 80h1v4h-1zM72 80h1v4h-1zM16 84h4v4h-4zM71 84h2v4h-2zM16 88h4v4h-4zM44 88h1v4h-1zM71 88h2v4h-2zM16 92h4v4h-4zM44 92h1v4h-1zM71 92h1v4h-1zM16 96h4v4h-4zM44 96h1v4h-1zM70 96h2v4h-2zM16 100h3v4h-3zM44 100h2v4h-2zM69 100h3v4h-3zM15 104h3v4h-3zM45 104h2v4h-2zM60 104h12v4h-12zM15 108h2v4h-2zM45 108h2v4h-2zM60 108h6v4h-6zM67 108h2v4h-2zM71 108h1v4h-1zM15 112h2v4h-2zM44 112h3v4h-3zM60 112h4v4h-4zM15 116h2v4h-2zM44 116h3v4h-3zM60 116h4v4h-4zM66 116h1v4h-1zM70 116h1v4h-1zM15 120h2v4h-2zM44 120h3v4h-3zM60 120h4v4h-4zM15 124h2v4h-2zM44 124h3v4h-3zM61 124h4v4h-4zM89 124h2v4h-2zM16 128h2v4h-2zM45 128h2v4h-2zM68 128h1v4h-1zM88 128h1v4h-1zM184 128h2v4h-2zM16 132h2v4h-2zM45 132h2v4h-2zM66 132h4v4h-4zM180 132h6v4h-6zM16 136h3v4h-3zM45 136h3v4h-3zM68 136h5v4h-5zM87 136h1v4h-1zM175 136h11v4h-11zM20 140h3v4h-3zM46 140h3v4h-3zM69 140h5v4h-5zM172 140h10v4h-10zM23 144h1v4h-1zM48 144h11v4h-11zM69 144h5v4h-5zM168 144h11v4h-11zM58 148h4v4h-4zM69 148h4v4h-4zM164 148h12v4h-12zM61 152h10v4h-10zM162 152h10v4h-10zM63 156h8v4h-8zM159 156h10v4h-10zM24 160h1v4h-1zM67 160h1v4h-1zM156 160h11v4h-11zM68 164h2v4h-2zM152 164h9v4h-9zM148 168h5v4h-5zM27 172h1v4h-1zM141 172h3v4h-3zM29 176h1v4h-1zM131 176h3v4h-3zM34 180h2v4h-2zM120 180h3v4h-3zM45 184h1v4h-1zM108 184h3v4h-3zM57 188h1v4h-1zM102 188h1v4h-1z"/><path fill="#3a548c" d="M42 0h1v4h-1zM52 0h1v4h-1zM57 0h1v4h-1zM63 0h1v4h-1zM125 0h1v4h-1zM52 4h1v4h-1zM57 4h1v4h-1zM63 4h1v4h-1zM125 4h1v4h-1zM57 8h1v4h-1zM63 8h2v4h-2zM64 12h1v4h-1zM124 12h1v4h-1zM45 16h1v4h-1zM64 16h1v4h-1zM45 20h1v4h-1zM58 20h1v4h-1zM64 20h1v4h-1zM45 24h1v4h-1zM58 24h1v4h-1zM64 24h1v4h-1zM58 28h1v4h-1zM64 28h1v4h-1zM43 32h1v4h-1zM58 32h1v4h-1zM64 32h1v4h-1zM46 44h1v4h-1zM53 44h1v4h-1zM65 44h1v4h-1zM46 48h1v4h-1zM53 48h1v4h-1zM65 48h1v4h-1zM46 52h1v4h-1zM53 52h1v4h-1zM57 52h1v4h-1zM65 52h1v4h-1zM53 56h1v4h-1zM57 56h1v4h-1zM68 56h1v4h-1zM57 60h1v4h-1zM68 60h1v4h-1zM12 64h1v4h-1zM44 64h1v4h-1zM68 64h1v4h-1zM12 68h1v4h-1zM47 68h1v4h-1zM68 68h1v4h-1zM12 72h1v4h-1zM56 72h1v4h-1zM68 72h1v4h-1zM52 76h1v4h-1zM56 76h1v4h-1zM68 76h1v4h-1zM45 80h1v4h-1zM48 80h1v4h-1zM68 80h1v4h-1zM55 84h1v4h-1zM64 96h1v4h-1zM49 100h1v4h-1zM50 104h1v4h-1zM53 112h1v4h-1zM68 112h1v4h-1zM54 116h1v4h-1zM55 120h1v4h-1zM11 124h1v4h-1zM66 124h1v4h-1zM12 128h1v4h-1zM59 128h1v4h-1zM12 132h1v4h-1zM12 136h1v4h-1zM58 136h1v4h-1zM63 136h1v4h-1zM13 140h1v4h-1zM60 140h2v4h-2zM15 144h1v4h-1zM17 148h2v4h-2zM19 152h1v4h-1zM21 156h1v4h-1zM74 156h1v4h-1zM71 160h1v4h-1zM178 160h2v4h-2zM22 164h1v4h-1zM168 164h2v4h-2zM160 168h1v4h-1zM24 172h1v4h-1zM150 172h2v4h-2zM140 176h1v4h-1zM30 180h1v4h-1zM129 180h1v4h-1zM38 184h1v4h-1zM117 184h2v4h-2zM52 188h1v4h-1zM106 188h1v4h-1z"/><path fill="#34608d" d="M45 0h1v4h-1zM58 0h5v4h-5zM68 0h1v4h-1zM126 0h1v4h-1zM42 4h1v4h-1zM45 4h1v4h-1zM58 4h5v4h-5zM68 4h1v4h-1zM126 4h1v4h-1zM45 8h1v4h-1zM52 8h1v4h-1zM58 8h5v4h-5zM68 8h1v4h-1zM125 8h1v4h-1zM45 12h1v4h-1zM52 12h1v4h-1zM58 12h6v4h-6zM68 12h1v4h-1zM125 12h1v4h-1zM52 16h1v4h-1zM58 16h6v4h-6zM68 16h1v4h-1zM124 16h1v4h-1zM52 20h1v4h-1zM59 20h5v4h-5zM68 20h1v4h-1zM52 24h1v4h-1zM59 24h5v4h-5zM68 24h1v4h-1zM46 28h1v4h-1zM52 28h1v4h-1zM59 28h5v4h-5zM68 28h1v4h-1zM46 32h1v4h-1zM52 32h1v4h-1zM59 32h5v4h-5zM68 32h1v4h-1zM12 36h1v4h-1zM43 36h1v4h-1zM46 36h1v4h-1zM52 36h1v4h-1zM58 36h7v4h-7zM68 36h1v4h-1zM12 40h1v4h-1zM43 40h1v4h-1zM46 40h1v4h-1zM52 40h1v4h-1zM58 40h7v4h-7zM68 40h1v4h-1zM12 44h1v4h-1zM52 44h1v4h-1zM58 44h7v4h-7zM68 44h1v4h-1zM12 48h1v4h-1zM52 48h1v4h-1zM58 48h3v4h-3zM64 48h1v4h-1zM68 48h1v4h-1zM12 52h1v4h-1zM52 52h1v4h-1zM58 52h2v4h-2zM68 52h1v4h-1zM12 56h1v4h-1zM47 56h1v4h-1zM52 56h1v4h-1zM58 56h1v4h-1zM65 56h1v4h-1zM12 60h1v4h-1zM47 60h1v4h-1zM52 60h1v4h-1zM58 60h1v4h-1zM65 60h1v4h-1zM47 64h1v4h-1zM52 64h1v4h-1zM57 64h1v4h-1zM65 64h1v4h-1zM44 68h1v4h-1zM48 68h1v4h-1zM52 68h1v4h-1zM57 68h1v4h-1zM48 72h1v4h-1zM52 72h1v4h-1zM57 72h1v4h-1zM12 76h1v4h-1zM48 76h1v4h-1zM12 80h1v4h-1zM51 80h1v4h-1zM56 80h1v4h-1zM12 84h1v4h-1zM49 84h2v4h-2zM68 84h1v4h-1zM55 88h1v4h-1zM68 88h1v4h-1zM47 92h1v4h-1zM55 92h1v4h-1zM68 92h1v4h-1zM55 96h1v4h-1zM54 100h1v4h-1zM65 100h2v4h-2zM11 104h1v4h-1zM53 104h1v4h-1zM53 108h1v4h-1zM51 112h1v4h-1zM11 116h1v4h-1zM52 116h1v4h-1zM69 116h1v4h-1zM11 120h1v4h-1zM53 120h1v4h-1zM57 124h1v4h-1zM56 128h1v4h-1zM66 128h1v4h-1zM63 132h1v4h-1zM62 140h1v4h-1zM16 144h2v4h-2zM19 148h2v4h-2zM20 152h1v4h-1zM75 152h1v4h-1zM72 156h1v4h-1zM22 160h1v4h-1zM69 160h1v4h-1zM176 160h2v4h-2zM167 164h1v4h-1zM23 168h1v4h-1zM158 168h2v4h-2zM149 172h1v4h-1zM26 176h1v4h-1zM139 176h1v4h-1zM127 180h2v4h-2zM39 184h2v4h-2zM116 184h1v4h-1zM53 188h1v4h-1zM105 188h1v4h-1z"/><path fill="#2a768e" d="M47 0h2v4h-2zM69 0h1v4h-1zM129 0h2v4h-2zM47 4h2v4h-2zM69 4h1v4h-1zM128 4h3v4h-3zM48 8h1v4h-1zM69 8h1v4h-1zM123 8h1v4h-1zM128 8h2v4h-2zM48 12h1v4h-1zM69 12h1v4h-1zM123 12h1v4h-1zM128 12h2v4h-2zM42 16h1v4h-1zM48 16h2v4h-2zM69 16h1v4h-1zM127 16h2v4h-2zM42 20h1v4h-1zM49 20h1v4h-1zM69 20h1v4h-1zM125 20h4v4h-4zM42 24h1v4h-1zM49 24h1v4h-1zM69 24h1v4h-1zM124 24h4v4h-4zM13 28h1v4h-1zM49 28h1v4h-1zM69 28h1v4h-1zM13 32h1v4h-1zM49 32h1v4h-1zM69 32h1v4h-1zM13 36h1v4h-1zM49 36h1v4h-1zM69 36h1v4h-1zM13 40h1v4h-1zM69 40h1v4h-1zM13 44h1v4h-1zM69 44h1v4h-1zM13 48h1v4h-1zM69 48h1v4h-1zM13 52h1v4h-1zM43 52h1v4h-1zM69 52h1v4h-1zM13 56h1v4h-1zM43 56h1v4h-1zM69 56h1v4h-1zM13 60h1v4h-1zM43 60h1v4h-1zM69 60h1v4h-1zM13 64h2v4h-2zM14 68h1v4h-1zM63 68h1v4h-1zM70 68h1v4h-1zM14 72h1v4h-1zM62 72h3v4h-3zM70 72h1v4h-1zM13 76h2v4h-2zM44 76h1v4h-1zM60 76h5v4h-5zM13 80h2v4h-2zM58 80h7v4h-7zM69 80h1v4h-1zM13 84h1v4h-1zM57 84h8v4h-8zM69 84h1v4h-1zM13 88h1v4h-1zM57 88h6v4h-6zM69 88h1v4h-1zM13 92h1v4h-1zM46 92h1v4h-1zM57 92h2v4h-2zM62 92h1v4h-1zM12 96h1v4h-1zM46 96h1v4h-1zM57 96h1v4h-1zM63 96h1v4h-1zM12 100h1v4h-1zM47 100h1v4h-1zM56 100h1v4h-1zM64 100h1v4h-1zM67 100h1v4h-1zM12 104h2v4h-2zM48 104h1v4h-1zM54 104h2v4h-2zM12 108h2v4h-2zM49 108h1v4h-1zM54 108h1v4h-1zM69 108h1v4h-1zM12 112h2v4h-2zM49 112h2v4h-2zM55 112h1v4h-1zM13 116h1v4h-1zM50 116h1v4h-1zM13 120h1v4h-1zM49 120h3v4h-3zM13 124h1v4h-1zM50 124h4v4h-4zM58 124h1v4h-1zM50 128h6v4h-6zM62 128h1v4h-1zM65 128h1v4h-1zM89 128h1v4h-1zM50 132h3v4h-3zM56 132h1v4h-1zM64 132h1v4h-1zM14 136h1v4h-1zM56 136h1v4h-1zM64 136h1v4h-1zM15 140h3v4h-3zM58 140h1v4h-1zM64 140h1v4h-1zM20 144h2v4h-2zM22 152h1v4h-1zM181 152h5v4h-5zM178 156h4v4h-4zM23 160h1v4h-1zM72 160h1v4h-1zM171 160h2v4h-2zM164 164h1v4h-1zM24 168h1v4h-1zM155 168h2v4h-2zM25 172h1v4h-1zM146 172h1v4h-1zM27 176h1v4h-1zM135 176h2v4h-2zM32 180h1v4h-1zM124 180h2v4h-2zM42 184h2v4h-2zM113 184h1v4h-1zM55 188h1v4h-1zM104 188h1v4h-1z"/><path fill="#440154" d="M0 132h9v4h-9zM0 136h9v4h-9zM0 140h9v4h-9zM0 144h3v4h-3zM184 164h2v4h-2zM173 168h13v4h-13zM164 172h22v4h-22zM0 176h2v4h-2zM21 176h1v4h-1zM154 176h32v4h-32zM0 180h24v4h-24zM144 180h42v4h-42zM0 184h28v4h-28zM132 184h54v4h-54zM0 188h37v4h-37zM121 188h65v4h-65z"/><path fill="#e2e418" d="M67 176h8v4h-8zM64 180h3v4h-3zM72 180h4v4h-4zM63 184h4v4h-4zM72 184h4v4h-4zM65 188h2v4h-2zM73 188h3v4h-3z"/><path fill="#fde725" d="M67 180h5v4h-5zM67 184h5v4h-5zM67 188h6v4h-6z"/></svg><canvas id="ca" width="186" height="192" style="left:66px;top:66px"></canvas><svg width="186" height="192" shape-rendering="crispEdges" style="position:absolute;left:280px;top:66px"><path fill="#472e7c" d="M0 0h3v4h-3zM0 4h3v4h-3zM0 8h3v4h-3zM0 12h3v4h-3zM0 16h3v4h-3zM0 20h3v4h-3zM0 24h3v4h-3zM0 28h3v4h-3zM0 32h3v4h-3zM68 32h1v4h-1zM0 36h3v4h-3zM68 36h1v4h-1zM0 40h3v4h-3zM68 40h1v4h-1zM0 44h3v4h-3zM68 44h1v4h-1zM0 48h2v4h-2zM68 48h1v4h-1zM0 52h2v4h-2zM68 52h1v4h-1zM0 56h1v4h-1zM68 64h1v4h-1zM68 68h1v4h-1zM100 68h1v4h-1zM68 72h1v4h-1zM100 72h1v4h-1zM68 76h1v4h-1zM100 76h1v4h-1zM99 80h1v4h-1zM99 84h1v4h-1zM99 88h1v4h-1zM13 92h1v4h-1zM13 96h1v4h-1zM98 100h1v4h-1zM14 104h1v4h-1zM15 120h1v4h-1zM16 128h1v4h-1zM17 136h1v4h-1zM17 140h1v4h-1zM4 144h2v4h-2zM8 144h3v4h-3zM14 144h3v4h-3zM19 144h1v4h-1zM6 148h3v4h-3zM11 148h3v4h-3zM16 148h3v4h-3zM20 148h1v4h-1zM4 152h2v4h-2zM8 152h3v4h-3zM14 152h3v4h-3zM19 152h2v4h-2zM6 156h3v4h-3zM11 156h3v4h-3zM16 156h3v4h-3zM21 156h1v4h-1zM180 156h3v4h-3zM4 160h2v4h-2zM8 160h3v4h-3zM13 160h3v4h-3zM19 160h3v4h-3zM5 164h3v4h-3zM11 164h3v4h-3zM16 164h3v4h-3zM21 164h1v4h-1zM169 164h1v4h-1zM4 168h1v4h-1zM166 168h1v4h-1zM154 172h2v4h-2zM29 176h1v4h-1zM141 176h2v4h-2zM38 180h2v4h-2zM129 180h2v4h-2zM48 184h2v4h-2zM117 184h2v4h-2zM58 188h1v4h-1zM105 188h2v4h-2z"/><path fill="#482071" d="M3 0h1v4h-1zM12 0h1v4h-1zM3 4h1v4h-1zM3 8h1v4h-1zM3 12h1v4h-1zM3 16h1v4h-1zM3 20h1v4h-1zM3 24h1v4h-1zM3 28h1v4h-1zM3 32h1v4h-1zM3 36h1v4h-1zM3 40h1v4h-1zM3 44h1v4h-1zM2 48h2v4h-2zM2 52h2v4h-2zM1 56h3v4h-3zM68 56h1v4h-1zM0 60h4v4h-4zM68 60h1v4h-1zM0 64h3v4h-3zM0 68h3v4h-3zM0 72h2v4h-2zM13 100h1v4h-1zM13 104h1v4h-1zM14 108h1v4h-1zM15 124h1v4h-1zM16 132h1v4h-1zM16 136h1v4h-1zM3 140h14v4h-14zM2 144h2v4h-2zM6 144h2v4h-2zM11 144h3v4h-3zM17 144h2v4h-2zM2 148h4v4h-4zM9 148h2v4h-2zM14 148h2v4h-2zM19 148h1v4h-1zM2 152h2v4h-2zM6 152h2v4h-2zM11 152h3v4h-3zM17 152h2v4h-2zM2 156h4v4h-4zM9 156h2v4h-2zM14 156h2v4h-2zM19 156h2v4h-2zM183 156h3v4h-3zM2 160h2v4h-2zM6 160h2v4h-2zM11 160h2v4h-2zM16 160h3v4h-3zM173 160h2v4h-2zM2 164h3v4h-3zM8 164h3v4h-3zM14 164h2v4h-2zM19 164h2v4h-2zM170 164h1v4h-1zM2 168h2v4h-2zM5 168h18v4h-18zM167 168h1v4h-1zM24 172h1v4h-1zM156 172h3v4h-3zM28 176h1v4h-1zM143 176h3v4h-3zM36 180h2v4h-2zM131 180h2v4h-2zM47 184h1v4h-1zM119 184h2v4h-2zM56 188h2v4h-2zM107 188h2v4h-2z"/><path fill="#471164" d="M4 0h8v4h-8zM4 4h9v4h-9zM4 8h9v4h-9zM4 12h9v4h-9zM4 16h9v4h-9zM4 20h9v4h-9zM4 24h9v4h-9zM4 28h9v4h-9zM4 32h9v4h-9zM4 36h9v4h-9zM4 40h9v4h-9zM4 44h9v4h-9zM4 48h9v4h-9zM4 52h9v4h-9zM4 56h9v4h-9zM4 60h9v4h-9zM3 64h10v4h-10zM3 68h10v4h-10zM2 72h11v4h-11zM0 76h13v4h-13zM0 80h13v4h-13zM0 84h13v4h-13zM0 88h13v4h-13zM0 92h13v4h-13zM0 96h13v4h-13zM0 100h13v4h-13zM0 104h13v4h-13zM0 108h14v4h-14zM0 112h15v4h-15zM0 116h15v4h-15zM0 120h15v4h-15zM0 124h15v4h-15zM0 128h16v4h-16zM15 132h1v4h-1zM4 136h12v4h-12zM0 140h3v4h-3zM0 144h2v4h-2zM0 148h2v4h-2zM0 152h2v4h-2zM0 156h2v4h-2zM0 160h2v4h-2zM175 160h6v4h-6zM0 164h2v4h-2zM171 164h2v4h-2zM0 168h2v4h-2zM168 168h3v4h-3zM0 172h24v4h-24zM159 172h6v4h-6zM25 176h3v4h-3zM146 176h7v4h-7zM30 180h6v4h-6zM133 180h7v4h-7zM42 184h5v4h-5zM121 184h7v4h-7zM52 188h4v4h-4zM109 188h6v4h-6z"/><path fill="#3f4889" d="M13 0h1v4h-1zM67 0h1v4h-1zM13 4h1v4h-1zM67 4h2v4h-2zM13 8h1v4h-1zM67 8h2v4h-2zM13 12h1v4h-1zM67 12h2v4h-2zM67 16h2v4h-2zM67 20h1v4h-1zM67 24h1v4h-1zM67 28h1v4h-1zM67 32h1v4h-1zM69 36h1v4h-1zM69 40h1v4h-1zM100 52h1v4h-1zM100 56h1v4h-1zM99 64h1v4h-1zM69 68h1v4h-1zM99 68h1v4h-1zM69 72h1v4h-1zM99 72h1v4h-1zM13 76h1v4h-1zM13 80h1v4h-1zM37 84h1v4h-1zM100 84h1v4h-1zM37 88h1v4h-1zM68 88h1v4h-1zM98 88h1v4h-1zM14 92h1v4h-1zM68 92h1v4h-1zM14 96h1v4h-1zM99 96h1v4h-1zM98 104h1v4h-1zM15 108h1v4h-1zM15 112h1v4h-1zM95 116h1v4h-1zM94 120h1v4h-1zM17 132h1v4h-1zM18 136h1v4h-1zM19 140h1v4h-1zM21 148h1v4h-1zM22 152h1v4h-1zM76 152h1v4h-1zM72 156h1v4h-1zM175 156h3v4h-3zM71 160h1v4h-1zM171 160h1v4h-1zM168 164h1v4h-1zM162 168h2v4h-2zM26 172h1v4h-1zM151 172h1v4h-1zM138 176h2v4h-2zM41 180h1v4h-1zM126 180h1v4h-1zM51 184h1v4h-1zM114 184h2v4h-2zM102 188h1v4h-1z"/><path fill="#2f6c8e" d="M14 0h1v4h-1zM69 0h1v4h-1zM14 4h1v4h-1zM69 4h1v4h-1zM14 8h1v4h-1zM66 12h1v4h-1zM66 16h1v4h-1zM66 20h1v4h-1zM66 24h1v4h-1zM66 28h1v4h-1zM70 40h1v4h-1zM70 44h1v4h-1zM70 48h1v4h-1zM98 48h1v4h-1zM70 52h1v4h-1zM70 56h1v4h-1zM98 56h1v4h-1zM101 56h1v4h-1zM70 60h1v4h-1zM98 60h1v4h-1zM101 60h1v4h-1zM98 64h1v4h-1zM101 64h1v4h-1zM98 76h1v4h-1zM101 76h1v4h-1zM36 84h1v4h-1zM39 84h1v4h-1zM15 88h1v4h-1zM36 88h1v4h-1zM39 88h1v4h-1zM69 88h1v4h-1zM100 92h1v4h-1zM97 96h1v4h-1zM66 100h1v4h-1zM66 104h1v4h-1zM68 104h1v4h-1zM96 104h1v4h-1zM178 104h1v4h-1zM68 108h1v4h-1zM98 108h1v4h-1zM178 108h1v4h-1zM16 112h1v4h-1zM177 112h1v4h-1zM179 112h1v4h-1zM16 116h1v4h-1zM178 116h1v4h-1zM67 120h1v4h-1zM65 124h1v4h-1zM18 128h1v4h-1zM59 128h2v4h-2zM65 128h2v4h-2zM90 128h1v4h-1zM92 128h1v4h-1zM60 132h2v4h-2zM65 132h2v4h-2zM62 136h1v4h-1zM65 136h1v4h-1zM63 140h2v4h-2zM64 144h1v4h-1zM23 152h1v4h-1zM180 152h4v4h-4zM23 156h1v4h-1zM172 156h1v4h-1zM168 160h1v4h-1zM24 164h1v4h-1zM166 164h1v4h-1zM25 168h1v4h-1zM157 168h2v4h-2zM146 172h2v4h-2zM33 176h1v4h-1zM134 176h1v4h-1zM44 180h1v4h-1zM122 180h1v4h-1zM53 184h1v4h-1zM110 184h2v4h-2zM61 188h1v4h-1zM98 188h1v4h-1z"/><path fill="#26818e" d="M15 0h1v4h-1zM41 0h2v4h-2zM63 0h2v4h-2zM71 0h1v4h-1zM15 4h1v4h-1zM41 4h2v4h-2zM63 4h2v4h-2zM71 4h1v4h-1zM15 8h1v4h-1zM41 8h1v4h-1zM63 8h2v4h-2zM71 8h1v4h-1zM15 12h1v4h-1zM41 12h1v4h-1zM63 12h2v4h-2zM41 16h1v4h-1zM63 16h2v4h-2zM178 16h1v4h-1zM41 20h1v4h-1zM64 20h1v4h-1zM177 20h2v4h-2zM41 24h1v4h-1zM64 24h2v4h-2zM177 24h2v4h-2zM64 28h2v4h-2zM177 28h2v4h-2zM64 32h2v4h-2zM177 32h2v4h-2zM65 36h1v4h-1zM98 36h2v4h-2zM177 36h2v4h-2zM65 40h1v4h-1zM98 40h4v4h-4zM177 40h2v4h-2zM65 44h1v4h-1zM98 44h4v4h-4zM177 44h2v4h-2zM16 48h1v4h-1zM65 48h1v4h-1zM97 48h1v4h-1zM177 48h2v4h-2zM16 52h1v4h-1zM65 52h1v4h-1zM97 52h1v4h-1zM177 52h2v4h-2zM16 56h1v4h-1zM97 56h1v4h-1zM177 56h2v4h-2zM16 60h1v4h-1zM66 60h1v4h-1zM97 60h1v4h-1zM177 60h2v4h-2zM16 64h1v4h-1zM66 64h1v4h-1zM97 64h1v4h-1zM177 64h2v4h-2zM16 68h1v4h-1zM66 68h1v4h-1zM177 68h2v4h-2zM16 72h1v4h-1zM66 72h1v4h-1zM177 72h2v4h-2zM16 76h1v4h-1zM39 76h1v4h-1zM66 76h1v4h-1zM70 76h1v4h-1zM97 76h1v4h-1zM178 76h1v4h-1zM16 80h1v4h-1zM66 80h1v4h-1zM70 80h1v4h-1zM97 80h1v4h-1zM16 84h1v4h-1zM66 84h1v4h-1zM70 84h1v4h-1zM97 84h1v4h-1zM101 84h1v4h-1zM178 84h1v4h-1zM16 88h1v4h-1zM66 88h1v4h-1zM177 88h3v4h-3zM39 92h1v4h-1zM177 92h1v4h-1zM179 92h1v4h-1zM17 96h1v4h-1zM100 96h1v4h-1zM176 96h2v4h-2zM179 96h2v4h-2zM17 100h1v4h-1zM69 100h1v4h-1zM96 100h1v4h-1zM176 100h1v4h-1zM180 100h1v4h-1zM17 104h1v4h-1zM65 104h1v4h-1zM99 104h1v4h-1zM176 104h1v4h-1zM180 104h1v4h-1zM17 108h1v4h-1zM65 108h1v4h-1zM95 108h1v4h-1zM176 108h1v4h-1zM180 108h1v4h-1zM17 112h1v4h-1zM60 112h1v4h-1zM65 112h1v4h-1zM94 112h1v4h-1zM176 112h1v4h-1zM180 112h2v4h-2zM17 116h1v4h-1zM59 116h3v4h-3zM68 116h1v4h-1zM93 116h1v4h-1zM176 116h1v4h-1zM180 116h1v4h-1zM17 120h1v4h-1zM58 120h5v4h-5zM64 120h1v4h-1zM92 120h1v4h-1zM177 120h1v4h-1zM179 120h2v4h-2zM18 124h1v4h-1zM56 124h9v4h-9zM94 124h1v4h-1zM178 124h2v4h-2zM55 128h3v4h-3zM63 128h1v4h-1zM67 128h1v4h-1zM19 132h1v4h-1zM53 132h6v4h-6zM91 132h1v4h-1zM56 136h4v4h-4zM87 136h1v4h-1zM22 140h1v4h-1zM60 140h2v4h-2zM66 140h1v4h-1zM86 140h1v4h-1zM183 140h3v4h-3zM23 144h1v4h-1zM62 144h1v4h-1zM179 144h7v4h-7zM27 148h1v4h-1zM64 148h1v4h-1zM66 148h1v4h-1zM174 148h8v4h-8zM28 152h1v4h-1zM169 152h6v4h-6zM24 156h1v4h-1zM75 156h1v4h-1zM162 156h8v4h-8zM24 160h1v4h-1zM68 160h1v4h-1zM158 160h9v4h-9zM25 164h1v4h-1zM157 164h7v4h-7zM152 168h3v4h-3zM29 172h1v4h-1zM142 172h2v4h-2zM35 176h1v4h-1zM130 176h2v4h-2zM46 180h1v4h-1zM119 180h2v4h-2zM55 184h1v4h-1zM108 184h1v4h-1zM97 188h1v4h-1z"/><path fill="#228b8d" d="M16 0h1v4h-1zM40 0h1v4h-1zM55 0h8v4h-8zM72 0h1v4h-1zM176 0h5v4h-5zM16 4h1v4h-1zM40 4h1v4h-1zM55 4h8v4h-8zM176 4h5v4h-5zM16 8h1v4h-1zM40 8h1v4h-1zM42 8h1v4h-1zM55 8h8v4h-8zM176 8h5v4h-5zM16 12h1v4h-1zM40 12h1v4h-1zM42 12h1v4h-1zM55 12h8v4h-8zM71 12h1v4h-1zM176 12h5v4h-5zM16 16h1v4h-1zM40 16h1v4h-1zM42 16h1v4h-1zM55 16h8v4h-8zM71 16h1v4h-1zM176 16h2v4h-2zM179 16h2v4h-2zM16 20h1v4h-1zM40 20h1v4h-1zM42 20h1v4h-1zM55 20h9v4h-9zM71 20h1v4h-1zM176 20h1v4h-1zM179 20h2v4h-2zM16 24h2v4h-2zM40 24h1v4h-1zM42 24h1v4h-1zM55 24h9v4h-9zM71 24h1v4h-1zM97 24h3v4h-3zM176 24h1v4h-1zM179 24h2v4h-2zM16 28h2v4h-2zM40 28h3v4h-3zM55 28h9v4h-9zM71 28h1v4h-1zM97 28h5v4h-5zM176 28h1v4h-1zM179 28h2v4h-2zM16 32h2v4h-2zM40 32h3v4h-3zM55 32h9v4h-9zM71 32h1v4h-1zM97 32h5v4h-5zM176 32h1v4h-1zM179 32h2v4h-2zM16 36h2v4h-2zM40 36h2v4h-2zM55 36h10v4h-10zM71 36h1v4h-1zM96 36h2v4h-2zM100 36h2v4h-2zM176 36h1v4h-1zM179 36h2v4h-2zM16 40h2v4h-2zM40 40h2v4h-2zM55 40h10v4h-10zM71 40h1v4h-1zM96 40h2v4h-2zM102 40h1v4h-1zM175 40h2v4h-2zM179 40h2v4h-2zM16 44h2v4h-2zM40 44h2v4h-2zM55 44h10v4h-10zM71 44h1v4h-1zM96 44h2v4h-2zM102 44h1v4h-1zM175 44h2v4h-2zM179 44h2v4h-2zM17 48h1v4h-1zM40 48h2v4h-2zM55 48h10v4h-10zM71 48h1v4h-1zM96 48h1v4h-1zM102 48h1v4h-1zM175 48h2v4h-2zM179 48h2v4h-2zM17 52h1v4h-1zM40 52h2v4h-2zM55 52h10v4h-10zM71 52h1v4h-1zM96 52h1v4h-1zM102 52h1v4h-1zM175 52h2v4h-2zM179 52h2v4h-2zM17 56h1v4h-1zM39 56h3v4h-3zM56 56h10v4h-10zM71 56h1v4h-1zM96 56h1v4h-1zM102 56h1v4h-1zM175 56h2v4h-2zM179 56h2v4h-2zM17 60h1v4h-1zM39 60h3v4h-3zM56 60h10v4h-10zM71 60h1v4h-1zM96 60h1v4h-1zM102 60h1v4h-1zM175 60h2v4h-2zM179 60h2v4h-2zM17 64h1v4h-1zM39 64h2v4h-2zM57 64h9v4h-9zM71 64h1v4h-1zM96 64h1v4h-1zM102 64h1v4h-1zM175 64h2v4h-2zM179 64h2v4h-2zM17 68h1v4h-1zM38 68h3v4h-3zM57 68h9v4h-9zM71 68h1v4h-1zM96 68h2v4h-2zM102 68h1v4h-1zM175 68h2v4h-2zM179 68h2v4h-2zM17 72h1v4h-1zM37 72h4v4h-4zM58 72h8v4h-8zM71 72h1v4h-1zM96 72h2v4h-2zM102 72h1v4h-1zM175 72h2v4h-2zM179 72h2v4h-2zM17 76h1v4h-1zM36 76h1v4h-1zM40 76h1v4h-1zM59 76h7v4h-7zM71 76h1v4h-1zM96 76h1v4h-1zM102 76h1v4h-1zM175 76h3v4h-3zM179 76h2v4h-2zM17 80h1v4h-1zM40 80h1v4h-1zM60 80h6v4h-6zM96 80h1v4h-1zM175 80h6v4h-6zM17 84h1v4h-1zM35 84h1v4h-1zM40 84h1v4h-1zM59 84h7v4h-7zM96 84h1v4h-1zM175 84h3v4h-3zM179 84h2v4h-2zM17 88h1v4h-1zM35 88h1v4h-1zM40 88h1v4h-1zM58 88h8v4h-8zM70 88h1v4h-1zM96 88h1v4h-1zM101 88h1v4h-1zM175 88h2v4h-2zM180 88h2v4h-2zM17 92h2v4h-2zM40 92h1v4h-1zM58 92h8v4h-8zM70 92h1v4h-1zM95 92h2v4h-2zM175 92h2v4h-2zM180 92h2v4h-2zM18 96h1v4h-1zM36 96h1v4h-1zM39 96h1v4h-1zM57 96h9v4h-9zM95 96h2v4h-2zM175 96h1v4h-1zM181 96h2v4h-2zM18 100h1v4h-1zM57 100h9v4h-9zM95 100h1v4h-1zM100 100h1v4h-1zM175 100h1v4h-1zM181 100h3v4h-3zM18 104h1v4h-1zM45 104h1v4h-1zM56 104h9v4h-9zM69 104h1v4h-1zM94 104h2v4h-2zM175 104h1v4h-1zM181 104h4v4h-4zM18 108h1v4h-1zM43 108h5v4h-5zM56 108h9v4h-9zM69 108h1v4h-1zM94 108h1v4h-1zM175 108h1v4h-1zM181 108h5v4h-5zM18 112h1v4h-1zM42 112h8v4h-8zM53 112h7v4h-7zM61 112h4v4h-4zM93 112h1v4h-1zM98 112h1v4h-1zM175 112h1v4h-1zM182 112h4v4h-4zM18 116h1v4h-1zM43 116h16v4h-16zM62 116h3v4h-3zM97 116h1v4h-1zM175 116h1v4h-1zM181 116h5v4h-5zM18 120h1v4h-1zM44 120h14v4h-14zM63 120h1v4h-1zM68 120h1v4h-1zM176 120h1v4h-1zM181 120h5v4h-5zM19 124h1v4h-1zM45 124h11v4h-11zM176 124h2v4h-2zM180 124h6v4h-6zM19 128h1v4h-1zM45 128h10v4h-10zM177 128h9v4h-9zM20 132h1v4h-1zM47 132h6v4h-6zM67 132h1v4h-1zM88 132h1v4h-1zM180 132h6v4h-6zM21 136h2v4h-2zM50 136h6v4h-6zM178 136h8v4h-8zM23 140h1v4h-1zM53 140h7v4h-7zM85 140h1v4h-1zM176 140h7v4h-7zM24 144h1v4h-1zM27 144h1v4h-1zM56 144h6v4h-6zM66 144h1v4h-1zM172 144h7v4h-7zM24 148h1v4h-1zM63 148h1v4h-1zM67 148h1v4h-1zM167 148h7v4h-7zM24 152h1v4h-1zM159 152h10v4h-10zM29 156h1v4h-1zM149 156h13v4h-13zM25 160h1v4h-1zM146 160h12v4h-12zM26 164h1v4h-1zM146 164h11v4h-11zM27 168h1v4h-1zM146 168h6v4h-6zM30 172h1v4h-1zM139 172h3v4h-3zM36 176h1v4h-1zM128 176h2v4h-2zM47 180h1v4h-1zM117 180h2v4h-2zM56 184h1v4h-1zM106 184h2v4h-2zM63 188h1v4h-1z"/><path fill="#1f958b" d="M17 0h1v4h-1zM39 0h1v4h-1zM53 0h2v4h-2zM73 0h1v4h-1zM136 0h4v4h-4zM175 0h1v4h-1zM181 0h2v4h-2zM17 4h1v4h-1zM39 4h1v4h-1zM53 4h2v4h-2zM72 4h2v4h-2zM97 4h1v4h-1zM136 4h4v4h-4zM175 4h1v4h-1zM181 4h2v4h-2zM17 8h1v4h-1zM39 8h1v4h-1zM53 8h2v4h-2zM72 8h2v4h-2zM97 8h2v4h-2zM137 8h3v4h-3zM175 8h1v4h-1zM181 8h2v4h-2zM17 12h2v4h-2zM39 12h1v4h-1zM53 12h2v4h-2zM72 12h2v4h-2zM96 12h4v4h-4zM137 12h3v4h-3zM175 12h1v4h-1zM181 12h2v4h-2zM17 16h2v4h-2zM39 16h1v4h-1zM53 16h2v4h-2zM72 16h2v4h-2zM96 16h5v4h-5zM137 16h3v4h-3zM175 16h1v4h-1zM181 16h2v4h-2zM17 20h2v4h-2zM39 20h1v4h-1zM53 20h2v4h-2zM72 20h2v4h-2zM95 20h7v4h-7zM137 20h3v4h-3zM175 20h1v4h-1zM181 20h2v4h-2zM18 24h1v4h-1zM39 24h1v4h-1zM53 24h2v4h-2zM72 24h2v4h-2zM95 24h2v4h-2zM100 24h3v4h-3zM137 24h3v4h-3zM174 24h2v4h-2zM181 24h2v4h-2zM18 28h1v4h-1zM39 28h1v4h-1zM53 28h2v4h-2zM72 28h2v4h-2zM94 28h3v4h-3zM102 28h1v4h-1zM137 28h3v4h-3zM174 28h2v4h-2zM181 28h2v4h-2zM18 32h1v4h-1zM39 32h1v4h-1zM53 32h2v4h-2zM72 32h2v4h-2zM94 32h3v4h-3zM102 32h1v4h-1zM137 32h3v4h-3zM174 32h2v4h-2zM181 32h2v4h-2zM18 36h1v4h-1zM39 36h1v4h-1zM42 36h1v4h-1zM53 36h2v4h-2zM72 36h1v4h-1zM93 36h3v4h-3zM102 36h1v4h-1zM137 36h3v4h-3zM174 36h2v4h-2zM181 36h2v4h-2zM18 40h2v4h-2zM39 40h1v4h-1zM42 40h1v4h-1zM53 40h2v4h-2zM72 40h1v4h-1zM93 40h3v4h-3zM103 40h1v4h-1zM137 40h3v4h-3zM174 40h1v4h-1zM181 40h2v4h-2zM18 44h2v4h-2zM39 44h1v4h-1zM42 44h1v4h-1zM53 44h2v4h-2zM72 44h1v4h-1zM92 44h4v4h-4zM103 44h1v4h-1zM138 44h2v4h-2zM174 44h1v4h-1zM181 44h2v4h-2zM18 48h2v4h-2zM39 48h1v4h-1zM42 48h1v4h-1zM53 48h2v4h-2zM72 48h1v4h-1zM92 48h4v4h-4zM103 48h1v4h-1zM174 48h1v4h-1zM181 48h2v4h-2zM18 52h2v4h-2zM38 52h2v4h-2zM42 52h1v4h-1zM53 52h2v4h-2zM72 52h1v4h-1zM92 52h4v4h-4zM103 52h1v4h-1zM174 52h1v4h-1zM181 52h2v4h-2zM18 56h2v4h-2zM38 56h1v4h-1zM42 56h1v4h-1zM53 56h3v4h-3zM72 56h1v4h-1zM92 56h4v4h-4zM103 56h1v4h-1zM174 56h1v4h-1zM181 56h3v4h-3zM18 60h2v4h-2zM37 60h2v4h-2zM42 60h1v4h-1zM53 60h3v4h-3zM72 60h1v4h-1zM91 60h5v4h-5zM103 60h1v4h-1zM174 60h1v4h-1zM181 60h4v4h-4zM18 64h2v4h-2zM37 64h2v4h-2zM41 64h2v4h-2zM53 64h4v4h-4zM72 64h1v4h-1zM91 64h5v4h-5zM103 64h1v4h-1zM174 64h1v4h-1zM181 64h4v4h-4zM18 68h2v4h-2zM36 68h2v4h-2zM41 68h2v4h-2zM53 68h4v4h-4zM72 68h1v4h-1zM91 68h5v4h-5zM103 68h1v4h-1zM174 68h1v4h-1zM181 68h4v4h-4zM18 72h2v4h-2zM36 72h1v4h-1zM41 72h1v4h-1zM53 72h5v4h-5zM72 72h1v4h-1zM90 72h6v4h-6zM103 72h1v4h-1zM174 72h1v4h-1zM181 72h5v4h-5zM18 76h2v4h-2zM35 76h1v4h-1zM41 76h1v4h-1zM53 76h6v4h-6zM72 76h1v4h-1zM90 76h6v4h-6zM174 76h1v4h-1zM181 76h5v4h-5zM18 80h2v4h-2zM35 80h1v4h-1zM41 80h1v4h-1zM53 80h7v4h-7zM71 80h2v4h-2zM90 80h6v4h-6zM102 80h1v4h-1zM174 80h1v4h-1zM181 80h5v4h-5zM18 84h2v4h-2zM41 84h1v4h-1zM53 84h6v4h-6zM71 84h2v4h-2zM90 84h6v4h-6zM102 84h1v4h-1zM174 84h1v4h-1zM181 84h5v4h-5zM18 88h2v4h-2zM41 88h1v4h-1zM53 88h5v4h-5zM71 88h1v4h-1zM90 88h6v4h-6zM174 88h1v4h-1zM182 88h4v4h-4zM19 92h1v4h-1zM35 92h1v4h-1zM41 92h2v4h-2zM53 92h5v4h-5zM71 92h1v4h-1zM90 92h5v4h-5zM101 92h1v4h-1zM174 92h1v4h-1zM182 92h4v4h-4zM19 96h1v4h-1zM40 96h6v4h-6zM52 96h5v4h-5zM70 96h1v4h-1zM90 96h5v4h-5zM174 96h1v4h-1zM183 96h3v4h-3zM19 100h1v4h-1zM37 100h11v4h-11zM51 100h6v4h-6zM70 100h1v4h-1zM90 100h5v4h-5zM174 100h1v4h-1zM184 100h2v4h-2zM19 104h1v4h-1zM39 104h6v4h-6zM46 104h10v4h-10zM90 104h4v4h-4zM174 104h1v4h-1zM185 104h1v4h-1zM19 108h2v4h-2zM40 108h3v4h-3zM48 108h8v4h-8zM90 108h4v4h-4zM99 108h1v4h-1zM174 108h1v4h-1zM19 112h2v4h-2zM40 112h2v4h-2zM50 112h3v4h-3zM69 112h1v4h-1zM91 112h2v4h-2zM174 112h1v4h-1zM19 116h2v4h-2zM41 116h2v4h-2zM69 116h1v4h-1zM91 116h2v4h-2zM174 116h1v4h-1zM19 120h2v4h-2zM42 120h2v4h-2zM91 120h1v4h-1zM96 120h1v4h-1zM174 120h2v4h-2zM20 124h1v4h-1zM42 124h3v4h-3zM68 124h1v4h-1zM90 124h1v4h-1zM175 124h1v4h-1zM20 128h2v4h-2zM43 128h2v4h-2zM68 128h1v4h-1zM89 128h1v4h-1zM93 128h1v4h-1zM175 128h2v4h-2zM21 132h2v4h-2zM44 132h3v4h-3zM176 132h4v4h-4zM23 136h1v4h-1zM47 136h3v4h-3zM67 136h1v4h-1zM174 136h4v4h-4zM24 140h1v4h-1zM50 140h3v4h-3zM67 140h1v4h-1zM84 140h1v4h-1zM87 140h1v4h-1zM171 140h5v4h-5zM25 144h2v4h-2zM52 144h4v4h-4zM67 144h1v4h-1zM82 144h1v4h-1zM165 144h7v4h-7zM25 148h2v4h-2zM29 148h1v4h-1zM57 148h6v4h-6zM68 148h1v4h-1zM157 148h10v4h-10zM25 152h3v4h-3zM73 152h1v4h-1zM147 152h12v4h-12zM25 156h4v4h-4zM30 156h1v4h-1zM70 156h1v4h-1zM139 156h10v4h-10zM26 160h2v4h-2zM136 160h10v4h-10zM27 164h2v4h-2zM136 164h10v4h-10zM28 168h2v4h-2zM136 168h10v4h-10zM31 172h1v4h-1zM134 172h5v4h-5zM37 176h2v4h-2zM125 176h3v4h-3zM48 180h1v4h-1zM115 180h2v4h-2zM57 184h1v4h-1zM104 184h2v4h-2zM96 188h1v4h-1z"/><path fill="#1fa088" d="M18 0h2v4h-2zM43 0h1v4h-1zM52 0h1v4h-1zM74 0h1v4h-1zM94 0h6v4h-6zM134 0h2v4h-2zM140 0h1v4h-1zM173 0h2v4h-2zM183 0h3v4h-3zM18 4h2v4h-2zM38 4h1v4h-1zM43 4h1v4h-1zM52 4h1v4h-1zM74 4h1v4h-1zM93 4h4v4h-4zM98 4h3v4h-3zM134 4h2v4h-2zM140 4h1v4h-1zM173 4h2v4h-2zM183 4h3v4h-3zM18 8h2v4h-2zM38 8h1v4h-1zM43 8h1v4h-1zM52 8h1v4h-1zM74 8h1v4h-1zM93 8h4v4h-4zM99 8h3v4h-3zM135 8h2v4h-2zM140 8h1v4h-1zM173 8h2v4h-2zM183 8h3v4h-3zM19 12h1v4h-1zM38 12h1v4h-1zM43 12h1v4h-1zM52 12h1v4h-1zM74 12h1v4h-1zM93 12h3v4h-3zM100 12h3v4h-3zM135 12h2v4h-2zM140 12h1v4h-1zM173 12h2v4h-2zM183 12h3v4h-3zM19 16h1v4h-1zM38 16h1v4h-1zM43 16h1v4h-1zM52 16h1v4h-1zM74 16h1v4h-1zM92 16h4v4h-4zM101 16h2v4h-2zM135 16h2v4h-2zM140 16h1v4h-1zM173 16h2v4h-2zM183 16h3v4h-3zM19 20h1v4h-1zM38 20h1v4h-1zM43 20h1v4h-1zM52 20h1v4h-1zM74 20h1v4h-1zM92 20h3v4h-3zM102 20h1v4h-1zM135 20h2v4h-2zM140 20h1v4h-1zM173 20h2v4h-2zM183 20h3v4h-3zM19 24h1v4h-1zM38 24h1v4h-1zM43 24h1v4h-1zM52 24h1v4h-1zM74 24h1v4h-1zM92 24h3v4h-3zM103 24h1v4h-1zM136 24h1v4h-1zM140 24h1v4h-1zM173 24h1v4h-1zM183 24h3v4h-3zM19 28h1v4h-1zM38 28h1v4h-1zM43 28h2v4h-2zM52 28h1v4h-1zM74 28h1v4h-1zM91 28h3v4h-3zM103 28h1v4h-1zM136 28h1v4h-1zM140 28h1v4h-1zM173 28h1v4h-1zM183 28h3v4h-3zM19 32h1v4h-1zM38 32h1v4h-1zM43 32h2v4h-2zM52 32h1v4h-1zM74 32h1v4h-1zM91 32h3v4h-3zM103 32h1v4h-1zM136 32h1v4h-1zM140 32h1v4h-1zM173 32h1v4h-1zM183 32h3v4h-3zM19 36h2v4h-2zM38 36h1v4h-1zM43 36h2v4h-2zM52 36h1v4h-1zM73 36h2v4h-2zM91 36h2v4h-2zM103 36h1v4h-1zM136 36h1v4h-1zM140 36h2v4h-2zM173 36h1v4h-1zM183 36h3v4h-3zM20 40h1v4h-1zM38 40h1v4h-1zM43 40h2v4h-2zM52 40h1v4h-1zM73 40h2v4h-2zM90 40h3v4h-3zM136 40h1v4h-1zM140 40h2v4h-2zM173 40h1v4h-1zM183 40h3v4h-3zM20 44h1v4h-1zM38 44h1v4h-1zM43 44h2v4h-2zM52 44h1v4h-1zM73 44h2v4h-2zM90 44h2v4h-2zM136 44h2v4h-2zM140 44h1v4h-1zM173 44h1v4h-1zM183 44h3v4h-3zM20 48h1v4h-1zM37 48h2v4h-2zM43 48h2v4h-2zM52 48h1v4h-1zM73 48h2v4h-2zM89 48h3v4h-3zM137 48h4v4h-4zM173 48h1v4h-1zM183 48h3v4h-3zM20 52h1v4h-1zM37 52h1v4h-1zM43 52h2v4h-2zM52 52h1v4h-1zM73 52h2v4h-2zM89 52h3v4h-3zM104 52h1v4h-1zM137 52h4v4h-4zM173 52h1v4h-1zM183 52h3v4h-3zM20 56h1v4h-1zM36 56h2v4h-2zM43 56h2v4h-2zM52 56h1v4h-1zM73 56h2v4h-2zM89 56h3v4h-3zM104 56h1v4h-1zM138 56h1v4h-1zM173 56h1v4h-1zM184 56h2v4h-2zM20 60h1v4h-1zM36 60h1v4h-1zM43 60h2v4h-2zM52 60h1v4h-1zM73 60h2v4h-2zM89 60h2v4h-2zM104 60h1v4h-1zM173 60h1v4h-1zM185 60h1v4h-1zM20 64h1v4h-1zM36 64h1v4h-1zM43 64h2v4h-2zM52 64h1v4h-1zM73 64h1v4h-1zM89 64h2v4h-2zM104 64h1v4h-1zM173 64h1v4h-1zM185 64h1v4h-1zM20 68h1v4h-1zM35 68h1v4h-1zM43 68h1v4h-1zM52 68h1v4h-1zM73 68h1v4h-1zM88 68h3v4h-3zM104 68h1v4h-1zM172 68h2v4h-2zM185 68h1v4h-1zM20 72h1v4h-1zM35 72h1v4h-1zM42 72h2v4h-2zM52 72h1v4h-1zM73 72h1v4h-1zM88 72h2v4h-2zM104 72h1v4h-1zM172 72h2v4h-2zM20 76h1v4h-1zM42 76h2v4h-2zM52 76h1v4h-1zM73 76h1v4h-1zM88 76h2v4h-2zM103 76h2v4h-2zM172 76h2v4h-2zM20 80h1v4h-1zM42 80h2v4h-2zM52 80h1v4h-1zM73 80h1v4h-1zM88 80h2v4h-2zM103 80h2v4h-2zM172 80h2v4h-2zM20 84h1v4h-1zM42 84h3v4h-3zM52 84h1v4h-1zM73 84h1v4h-1zM88 84h2v4h-2zM103 84h1v4h-1zM172 84h2v4h-2zM20 88h1v4h-1zM42 88h4v4h-4zM51 88h2v4h-2zM72 88h2v4h-2zM88 88h2v4h-2zM102 88h2v4h-2zM172 88h2v4h-2zM20 92h1v4h-1zM43 92h5v4h-5zM51 92h2v4h-2zM72 92h1v4h-1zM88 92h2v4h-2zM102 92h1v4h-1zM172 92h2v4h-2zM20 96h1v4h-1zM35 96h1v4h-1zM46 96h6v4h-6zM71 96h2v4h-2zM88 96h2v4h-2zM101 96h1v4h-1zM172 96h2v4h-2zM20 100h1v4h-1zM36 100h1v4h-1zM48 100h3v4h-3zM71 100h1v4h-1zM89 100h1v4h-1zM101 100h1v4h-1zM172 100h2v4h-2zM20 104h1v4h-1zM37 104h2v4h-2zM70 104h2v4h-2zM89 104h1v4h-1zM100 104h1v4h-1zM172 104h2v4h-2zM38 108h2v4h-2zM70 108h1v4h-1zM89 108h1v4h-1zM172 108h2v4h-2zM21 112h1v4h-1zM39 112h1v4h-1zM70 112h1v4h-1zM89 112h2v4h-2zM172 112h2v4h-2zM21 116h1v4h-1zM40 116h1v4h-1zM70 116h1v4h-1zM89 116h2v4h-2zM172 116h2v4h-2zM21 120h1v4h-1zM40 120h2v4h-2zM69 120h1v4h-1zM89 120h2v4h-2zM172 120h2v4h-2zM21 124h2v4h-2zM41 124h1v4h-1zM69 124h1v4h-1zM89 124h1v4h-1zM95 124h1v4h-1zM173 124h2v4h-2zM22 128h1v4h-1zM42 128h1v4h-1zM88 128h1v4h-1zM173 128h2v4h-2zM23 132h1v4h-1zM42 132h2v4h-2zM68 132h1v4h-1zM92 132h1v4h-1zM173 132h3v4h-3zM24 136h1v4h-1zM45 136h2v4h-2zM68 136h1v4h-1zM90 136h1v4h-1zM169 136h5v4h-5zM25 140h1v4h-1zM48 140h2v4h-2zM68 140h2v4h-2zM164 140h7v4h-7zM28 144h1v4h-1zM50 144h2v4h-2zM68 144h2v4h-2zM81 144h1v4h-1zM83 144h1v4h-1zM155 144h10v4h-10zM52 148h5v4h-5zM69 148h1v4h-1zM77 148h1v4h-1zM146 148h11v4h-11zM30 152h1v4h-1zM63 152h7v4h-7zM138 152h9v4h-9zM69 156h1v4h-1zM130 156h9v4h-9zM28 160h2v4h-2zM67 160h1v4h-1zM73 160h1v4h-1zM129 160h7v4h-7zM29 164h2v4h-2zM69 164h1v4h-1zM129 164h7v4h-7zM30 168h1v4h-1zM129 168h7v4h-7zM32 172h1v4h-1zM125 172h9v4h-9zM39 176h1v4h-1zM119 176h6v4h-6zM49 180h1v4h-1zM112 180h3v4h-3zM102 184h2v4h-2zM64 188h1v4h-1zM95 188h1v4h-1z"/><path fill="#24aa83" d="M20 0h1v4h-1zM38 0h1v4h-1zM44 0h1v4h-1zM51 0h1v4h-1zM75 0h1v4h-1zM92 0h2v4h-2zM100 0h3v4h-3zM131 0h3v4h-3zM141 0h1v4h-1zM172 0h1v4h-1zM20 4h1v4h-1zM44 4h1v4h-1zM51 4h1v4h-1zM75 4h1v4h-1zM91 4h2v4h-2zM101 4h2v4h-2zM131 4h3v4h-3zM141 4h1v4h-1zM172 4h1v4h-1zM20 8h1v4h-1zM44 8h1v4h-1zM51 8h1v4h-1zM75 8h1v4h-1zM91 8h2v4h-2zM102 8h2v4h-2zM132 8h3v4h-3zM141 8h1v4h-1zM172 8h1v4h-1zM20 12h1v4h-1zM44 12h1v4h-1zM51 12h1v4h-1zM75 12h1v4h-1zM91 12h2v4h-2zM103 12h1v4h-1zM133 12h2v4h-2zM141 12h1v4h-1zM172 12h1v4h-1zM20 16h1v4h-1zM37 16h1v4h-1zM44 16h1v4h-1zM51 16h1v4h-1zM75 16h1v4h-1zM90 16h2v4h-2zM103 16h1v4h-1zM133 16h2v4h-2zM141 16h1v4h-1zM172 16h1v4h-1zM20 20h1v4h-1zM37 20h1v4h-1zM44 20h2v4h-2zM51 20h1v4h-1zM75 20h1v4h-1zM90 20h2v4h-2zM103 20h2v4h-2zM134 20h1v4h-1zM141 20h1v4h-1zM172 20h1v4h-1zM20 24h1v4h-1zM37 24h1v4h-1zM44 24h2v4h-2zM51 24h1v4h-1zM75 24h1v4h-1zM90 24h2v4h-2zM104 24h1v4h-1zM134 24h2v4h-2zM141 24h1v4h-1zM172 24h1v4h-1zM20 28h1v4h-1zM37 28h1v4h-1zM45 28h1v4h-1zM51 28h1v4h-1zM75 28h1v4h-1zM89 28h2v4h-2zM104 28h1v4h-1zM134 28h2v4h-2zM141 28h1v4h-1zM172 28h1v4h-1zM20 32h1v4h-1zM37 32h1v4h-1zM45 32h1v4h-1zM51 32h1v4h-1zM75 32h1v4h-1zM89 32h2v4h-2zM104 32h1v4h-1zM135 32h1v4h-1zM141 32h1v4h-1zM172 32h1v4h-1zM37 36h1v4h-1zM45 36h1v4h-1zM51 36h1v4h-1zM75 36h1v4h-1zM88 36h3v4h-3zM104 36h1v4h-1zM135 36h1v4h-1zM172 36h1v4h-1zM37 40h1v4h-1zM45 40h1v4h-1zM51 40h1v4h-1zM75 40h2v4h-2zM88 40h2v4h-2zM104 40h2v4h-2zM135 40h1v4h-1zM172 40h1v4h-1zM21 44h1v4h-1zM36 44h2v4h-2zM45 44h1v4h-1zM51 44h1v4h-1zM75 44h1v4h-1zM87 44h3v4h-3zM104 44h2v4h-2zM135 44h1v4h-1zM141 44h1v4h-1zM172 44h1v4h-1zM21 48h1v4h-1zM36 48h1v4h-1zM45 48h1v4h-1zM51 48h1v4h-1zM75 48h1v4h-1zM87 48h2v4h-2zM104 48h2v4h-2zM136 48h1v4h-1zM141 48h1v4h-1zM171 48h2v4h-2zM21 52h1v4h-1zM36 52h1v4h-1zM45 52h1v4h-1zM51 52h1v4h-1zM75 52h1v4h-1zM87 52h2v4h-2zM105 52h1v4h-1zM136 52h1v4h-1zM141 52h1v4h-1zM171 52h2v4h-2zM21 56h1v4h-1zM35 56h1v4h-1zM45 56h1v4h-1zM51 56h1v4h-1zM75 56h1v4h-1zM87 56h2v4h-2zM105 56h1v4h-1zM136 56h2v4h-2zM139 56h3v4h-3zM171 56h2v4h-2zM21 60h1v4h-1zM35 60h1v4h-1zM45 60h2v4h-2zM51 60h1v4h-1zM75 60h1v4h-1zM87 60h2v4h-2zM105 60h1v4h-1zM136 60h5v4h-5zM171 60h2v4h-2zM21 64h1v4h-1zM35 64h1v4h-1zM45 64h2v4h-2zM51 64h1v4h-1zM74 64h2v4h-2zM86 64h3v4h-3zM105 64h1v4h-1zM137 64h4v4h-4zM171 64h2v4h-2zM21 68h1v4h-1zM44 68h3v4h-3zM51 68h1v4h-1zM74 68h2v4h-2zM86 68h2v4h-2zM105 68h1v4h-1zM138 68h1v4h-1zM171 68h1v4h-1zM21 72h1v4h-1zM44 72h3v4h-3zM51 72h1v4h-1zM74 72h2v4h-2zM86 72h2v4h-2zM105 72h2v4h-2zM171 72h1v4h-1zM21 76h1v4h-1zM34 76h1v4h-1zM44 76h3v4h-3zM51 76h1v4h-1zM74 76h2v4h-2zM86 76h2v4h-2zM105 76h2v4h-2zM171 76h1v4h-1zM21 80h1v4h-1zM34 80h1v4h-1zM44 80h3v4h-3zM51 80h1v4h-1zM74 80h2v4h-2zM86 80h2v4h-2zM105 80h2v4h-2zM171 80h1v4h-1zM21 84h1v4h-1zM34 84h1v4h-1zM45 84h3v4h-3zM51 84h1v4h-1zM74 84h1v4h-1zM86 84h2v4h-2zM104 84h2v4h-2zM171 84h1v4h-1zM21 88h1v4h-1zM34 88h1v4h-1zM46 88h5v4h-5zM74 88h1v4h-1zM86 88h2v4h-2zM104 88h2v4h-2zM171 88h1v4h-1zM21 92h1v4h-1zM48 92h3v4h-3zM73 92h2v4h-2zM86 92h2v4h-2zM103 92h2v4h-2zM170 92h2v4h-2zM21 96h1v4h-1zM73 96h1v4h-1zM86 96h2v4h-2zM102 96h2v4h-2zM170 96h2v4h-2zM21 100h1v4h-1zM35 100h1v4h-1zM72 100h2v4h-2zM87 100h2v4h-2zM102 100h1v4h-1zM170 100h2v4h-2zM21 104h1v4h-1zM36 104h1v4h-1zM72 104h2v4h-2zM87 104h2v4h-2zM101 104h1v4h-1zM170 104h2v4h-2zM21 108h1v4h-1zM37 108h1v4h-1zM71 108h2v4h-2zM87 108h2v4h-2zM100 108h2v4h-2zM170 108h2v4h-2zM37 112h2v4h-2zM71 112h2v4h-2zM87 112h2v4h-2zM99 112h2v4h-2zM170 112h2v4h-2zM22 116h1v4h-1zM38 116h2v4h-2zM71 116h1v4h-1zM87 116h2v4h-2zM98 116h1v4h-1zM170 116h2v4h-2zM22 120h1v4h-1zM39 120h1v4h-1zM70 120h1v4h-1zM87 120h2v4h-2zM97 120h1v4h-1zM169 120h3v4h-3zM23 124h1v4h-1zM40 124h1v4h-1zM70 124h1v4h-1zM87 124h2v4h-2zM96 124h1v4h-1zM169 124h4v4h-4zM23 128h1v4h-1zM41 128h1v4h-1zM69 128h2v4h-2zM87 128h1v4h-1zM94 128h1v4h-1zM168 128h5v4h-5zM24 132h1v4h-1zM41 132h1v4h-1zM69 132h1v4h-1zM87 132h1v4h-1zM93 132h1v4h-1zM167 132h6v4h-6zM25 136h1v4h-1zM43 136h2v4h-2zM69 136h2v4h-2zM86 136h1v4h-1zM162 136h7v4h-7zM26 140h1v4h-1zM46 140h2v4h-2zM70 140h1v4h-1zM88 140h1v4h-1zM153 140h11v4h-11zM48 144h2v4h-2zM70 144h2v4h-2zM80 144h1v4h-1zM144 144h11v4h-11zM50 148h2v4h-2zM70 148h2v4h-2zM76 148h1v4h-1zM78 148h1v4h-1zM137 148h9v4h-9zM60 152h3v4h-3zM70 152h3v4h-3zM78 152h1v4h-1zM130 152h8v4h-8zM31 156h1v4h-1zM65 156h4v4h-4zM76 156h1v4h-1zM124 156h6v4h-6zM30 160h2v4h-2zM66 160h1v4h-1zM122 160h7v4h-7zM31 164h1v4h-1zM68 164h1v4h-1zM123 164h6v4h-6zM31 168h2v4h-2zM123 168h6v4h-6zM33 172h2v4h-2zM119 172h6v4h-6zM40 176h2v4h-2zM113 176h6v4h-6zM50 180h1v4h-1zM107 180h5v4h-5zM58 184h1v4h-1zM99 184h3v4h-3zM94 188h1v4h-1z"/><path fill="#2fb47c" d="M21 0h1v4h-1zM37 0h1v4h-1zM45 0h1v4h-1zM48 0h3v4h-3zM76 0h2v4h-2zM90 0h2v4h-2zM103 0h2v4h-2zM128 0h3v4h-3zM142 0h1v4h-1zM170 0h2v4h-2zM21 4h1v4h-1zM37 4h1v4h-1zM45 4h1v4h-1zM48 4h3v4h-3zM76 4h2v4h-2zM90 4h1v4h-1zM103 4h3v4h-3zM128 4h3v4h-3zM142 4h1v4h-1zM170 4h2v4h-2zM21 8h1v4h-1zM37 8h1v4h-1zM45 8h1v4h-1zM48 8h3v4h-3zM76 8h2v4h-2zM89 8h2v4h-2zM104 8h2v4h-2zM129 8h3v4h-3zM142 8h1v4h-1zM170 8h2v4h-2zM21 12h1v4h-1zM36 12h2v4h-2zM45 12h1v4h-1zM48 12h3v4h-3zM76 12h2v4h-2zM89 12h2v4h-2zM104 12h2v4h-2zM129 12h4v4h-4zM142 12h1v4h-1zM170 12h2v4h-2zM21 16h1v4h-1zM36 16h1v4h-1zM45 16h6v4h-6zM76 16h2v4h-2zM89 16h1v4h-1zM104 16h2v4h-2zM130 16h3v4h-3zM142 16h1v4h-1zM170 16h2v4h-2zM21 20h1v4h-1zM36 20h1v4h-1zM46 20h5v4h-5zM76 20h2v4h-2zM88 20h2v4h-2zM105 20h2v4h-2zM131 20h3v4h-3zM142 20h1v4h-1zM170 20h2v4h-2zM21 24h1v4h-1zM36 24h1v4h-1zM46 24h5v4h-5zM76 24h2v4h-2zM88 24h2v4h-2zM105 24h2v4h-2zM131 24h3v4h-3zM142 24h1v4h-1zM170 24h2v4h-2zM21 28h1v4h-1zM36 28h1v4h-1zM46 28h5v4h-5zM76 28h2v4h-2zM87 28h2v4h-2zM105 28h3v4h-3zM132 28h2v4h-2zM142 28h1v4h-1zM170 28h2v4h-2zM21 32h1v4h-1zM36 32h1v4h-1zM46 32h5v4h-5zM76 32h2v4h-2zM86 32h3v4h-3zM105 32h3v4h-3zM133 32h2v4h-2zM142 32h1v4h-1zM170 32h2v4h-2zM21 36h1v4h-1zM36 36h1v4h-1zM46 36h5v4h-5zM76 36h3v4h-3zM86 36h2v4h-2zM105 36h4v4h-4zM133 36h2v4h-2zM142 36h1v4h-1zM170 36h2v4h-2zM21 40h1v4h-1zM36 40h1v4h-1zM46 40h5v4h-5zM77 40h2v4h-2zM85 40h3v4h-3zM106 40h3v4h-3zM134 40h1v4h-1zM142 40h1v4h-1zM170 40h2v4h-2zM35 44h1v4h-1zM46 44h5v4h-5zM76 44h3v4h-3zM85 44h2v4h-2zM106 44h3v4h-3zM134 44h1v4h-1zM142 44h1v4h-1zM170 44h2v4h-2zM35 48h1v4h-1zM46 48h5v4h-5zM76 48h3v4h-3zM85 48h2v4h-2zM106 48h3v4h-3zM134 48h2v4h-2zM142 48h1v4h-1zM170 48h1v4h-1zM35 52h1v4h-1zM46 52h5v4h-5zM76 52h2v4h-2zM85 52h2v4h-2zM106 52h3v4h-3zM134 52h2v4h-2zM142 52h1v4h-1zM170 52h1v4h-1zM46 56h5v4h-5zM76 56h2v4h-2zM84 56h3v4h-3zM106 56h3v4h-3zM135 56h1v4h-1zM142 56h1v4h-1zM170 56h1v4h-1zM34 60h1v4h-1zM47 60h4v4h-4zM76 60h2v4h-2zM84 60h3v4h-3zM106 60h3v4h-3zM135 60h1v4h-1zM141 60h2v4h-2zM169 60h2v4h-2zM34 64h1v4h-1zM47 64h4v4h-4zM76 64h2v4h-2zM84 64h2v4h-2zM106 64h3v4h-3zM135 64h2v4h-2zM141 64h2v4h-2zM169 64h2v4h-2zM34 68h1v4h-1zM47 68h4v4h-4zM76 68h2v4h-2zM84 68h2v4h-2zM106 68h3v4h-3zM135 68h3v4h-3zM139 68h3v4h-3zM169 68h2v4h-2zM34 72h1v4h-1zM47 72h4v4h-4zM76 72h1v4h-1zM84 72h2v4h-2zM107 72h2v4h-2zM136 72h6v4h-6zM169 72h2v4h-2zM22 76h1v4h-1zM47 76h4v4h-4zM76 76h1v4h-1zM84 76h2v4h-2zM107 76h2v4h-2zM137 76h4v4h-4zM169 76h2v4h-2zM22 80h1v4h-1zM47 80h4v4h-4zM76 80h1v4h-1zM84 80h2v4h-2zM107 80h2v4h-2zM169 80h2v4h-2zM22 84h1v4h-1zM48 84h3v4h-3zM75 84h2v4h-2zM84 84h2v4h-2zM106 84h3v4h-3zM169 84h2v4h-2zM22 88h1v4h-1zM75 88h2v4h-2zM84 88h2v4h-2zM106 88h2v4h-2zM169 88h2v4h-2zM22 92h1v4h-1zM34 92h1v4h-1zM75 92h1v4h-1zM84 92h2v4h-2zM105 92h2v4h-2zM168 92h2v4h-2zM22 96h1v4h-1zM34 96h1v4h-1zM74 96h2v4h-2zM84 96h2v4h-2zM104 96h2v4h-2zM168 96h2v4h-2zM22 100h1v4h-1zM74 100h2v4h-2zM84 100h3v4h-3zM103 100h2v4h-2zM168 100h2v4h-2zM22 104h1v4h-1zM35 104h1v4h-1zM74 104h2v4h-2zM84 104h3v4h-3zM102 104h2v4h-2zM168 104h2v4h-2zM22 108h1v4h-1zM36 108h1v4h-1zM73 108h2v4h-2zM85 108h2v4h-2zM102 108h2v4h-2zM167 108h3v4h-3zM22 112h1v4h-1zM36 112h1v4h-1zM73 112h2v4h-2zM85 112h2v4h-2zM101 112h2v4h-2zM167 112h3v4h-3zM37 116h1v4h-1zM72 116h2v4h-2zM85 116h2v4h-2zM99 116h2v4h-2zM166 116h4v4h-4zM23 120h1v4h-1zM38 120h1v4h-1zM71 120h2v4h-2zM85 120h2v4h-2zM98 120h2v4h-2zM165 120h4v4h-4zM24 124h1v4h-1zM39 124h1v4h-1zM71 124h2v4h-2zM85 124h2v4h-2zM97 124h1v4h-1zM164 124h5v4h-5zM24 128h2v4h-2zM39 128h2v4h-2zM71 128h1v4h-1zM85 128h2v4h-2zM95 128h2v4h-2zM162 128h6v4h-6zM25 132h1v4h-1zM40 132h1v4h-1zM70 132h1v4h-1zM86 132h1v4h-1zM94 132h1v4h-1zM160 132h7v4h-7zM26 136h1v4h-1zM42 136h1v4h-1zM71 136h1v4h-1zM91 136h2v4h-2zM150 136h12v4h-12zM27 140h1v4h-1zM44 140h2v4h-2zM71 140h2v4h-2zM83 140h1v4h-1zM141 140h12v4h-12zM29 144h1v4h-1zM47 144h1v4h-1zM72 144h2v4h-2zM79 144h1v4h-1zM84 144h1v4h-1zM135 144h9v4h-9zM49 148h1v4h-1zM72 148h4v4h-4zM130 148h7v4h-7zM57 152h3v4h-3zM123 152h7v4h-7zM62 156h3v4h-3zM118 156h6v4h-6zM32 160h1v4h-1zM63 160h3v4h-3zM117 160h5v4h-5zM32 164h2v4h-2zM64 164h2v4h-2zM67 164h1v4h-1zM70 164h1v4h-1zM117 164h6v4h-6zM33 168h2v4h-2zM117 168h6v4h-6zM35 172h3v4h-3zM113 172h6v4h-6zM42 176h4v4h-4zM108 176h5v4h-5zM51 180h2v4h-2zM102 180h5v4h-5zM59 184h1v4h-1zM95 184h4v4h-4zM65 188h1v4h-1zM91 188h3v4h-3z"/><path fill="#42be71" d="M22 0h1v4h-1zM36 0h1v4h-1zM46 0h2v4h-2zM78 0h4v4h-4zM89 0h1v4h-1zM105 0h3v4h-3zM118 0h10v4h-10zM143 0h2v4h-2zM167 0h3v4h-3zM22 4h1v4h-1zM36 4h1v4h-1zM46 4h2v4h-2zM78 4h4v4h-4zM88 4h2v4h-2zM106 4h3v4h-3zM119 4h9v4h-9zM143 4h1v4h-1zM167 4h3v4h-3zM22 8h1v4h-1zM35 8h2v4h-2zM46 8h2v4h-2zM78 8h5v4h-5zM88 8h1v4h-1zM106 8h4v4h-4zM125 8h4v4h-4zM143 8h1v4h-1zM167 8h3v4h-3zM22 12h1v4h-1zM35 12h1v4h-1zM46 12h2v4h-2zM78 12h11v4h-11zM106 12h4v4h-4zM126 12h3v4h-3zM143 12h1v4h-1zM167 12h3v4h-3zM22 16h1v4h-1zM35 16h1v4h-1zM78 16h11v4h-11zM106 16h5v4h-5zM127 16h3v4h-3zM143 16h1v4h-1zM167 16h3v4h-3zM22 20h1v4h-1zM35 20h1v4h-1zM78 20h10v4h-10zM107 20h4v4h-4zM127 20h4v4h-4zM143 20h1v4h-1zM167 20h3v4h-3zM22 24h1v4h-1zM35 24h1v4h-1zM78 24h10v4h-10zM107 24h4v4h-4zM128 24h3v4h-3zM143 24h1v4h-1zM167 24h3v4h-3zM22 28h1v4h-1zM35 28h1v4h-1zM78 28h9v4h-9zM108 28h3v4h-3zM129 28h3v4h-3zM143 28h1v4h-1zM167 28h3v4h-3zM22 32h1v4h-1zM35 32h1v4h-1zM78 32h8v4h-8zM108 32h4v4h-4zM129 32h4v4h-4zM143 32h1v4h-1zM168 32h2v4h-2zM22 36h1v4h-1zM35 36h1v4h-1zM79 36h7v4h-7zM109 36h3v4h-3zM130 36h3v4h-3zM143 36h1v4h-1zM168 36h2v4h-2zM22 40h1v4h-1zM35 40h1v4h-1zM79 40h6v4h-6zM109 40h3v4h-3zM130 40h4v4h-4zM143 40h1v4h-1zM168 40h2v4h-2zM22 44h1v4h-1zM79 44h6v4h-6zM109 44h3v4h-3zM131 44h3v4h-3zM143 44h1v4h-1zM168 44h2v4h-2zM22 48h1v4h-1zM34 48h1v4h-1zM79 48h6v4h-6zM109 48h3v4h-3zM131 48h3v4h-3zM143 48h1v4h-1zM168 48h2v4h-2zM22 52h1v4h-1zM34 52h1v4h-1zM78 52h7v4h-7zM109 52h3v4h-3zM131 52h3v4h-3zM143 52h1v4h-1zM167 52h3v4h-3zM22 56h1v4h-1zM34 56h1v4h-1zM78 56h6v4h-6zM109 56h3v4h-3zM131 56h4v4h-4zM143 56h1v4h-1zM167 56h3v4h-3zM22 60h1v4h-1zM78 60h6v4h-6zM109 60h3v4h-3zM132 60h3v4h-3zM143 60h1v4h-1zM167 60h2v4h-2zM22 64h1v4h-1zM78 64h6v4h-6zM109 64h3v4h-3zM132 64h3v4h-3zM143 64h1v4h-1zM167 64h2v4h-2zM22 68h1v4h-1zM78 68h6v4h-6zM109 68h3v4h-3zM132 68h3v4h-3zM142 68h2v4h-2zM167 68h2v4h-2zM22 72h1v4h-1zM77 72h7v4h-7zM109 72h3v4h-3zM132 72h4v4h-4zM142 72h2v4h-2zM167 72h2v4h-2zM33 76h1v4h-1zM77 76h7v4h-7zM109 76h3v4h-3zM133 76h4v4h-4zM141 76h3v4h-3zM167 76h2v4h-2zM33 80h1v4h-1zM77 80h7v4h-7zM109 80h3v4h-3zM133 80h12v4h-12zM167 80h2v4h-2zM33 84h1v4h-1zM77 84h7v4h-7zM109 84h3v4h-3zM133 84h12v4h-12zM167 84h2v4h-2zM77 88h7v4h-7zM108 88h3v4h-3zM134 88h11v4h-11zM166 88h3v4h-3zM76 92h8v4h-8zM107 92h4v4h-4zM134 92h11v4h-11zM166 92h2v4h-2zM76 96h8v4h-8zM106 96h4v4h-4zM134 96h11v4h-11zM166 96h2v4h-2zM23 100h1v4h-1zM34 100h1v4h-1zM76 100h8v4h-8zM105 100h4v4h-4zM134 100h11v4h-11zM165 100h3v4h-3zM23 104h1v4h-1zM34 104h1v4h-1zM76 104h8v4h-8zM104 104h4v4h-4zM135 104h9v4h-9zM164 104h4v4h-4zM23 108h1v4h-1zM35 108h1v4h-1zM75 108h10v4h-10zM104 108h3v4h-3zM136 108h6v4h-6zM158 108h9v4h-9zM23 112h1v4h-1zM35 112h1v4h-1zM75 112h6v4h-6zM82 112h3v4h-3zM103 112h2v4h-2zM152 112h15v4h-15zM23 116h1v4h-1zM36 116h1v4h-1zM74 116h5v4h-5zM82 116h3v4h-3zM101 116h3v4h-3zM150 116h16v4h-16zM24 120h1v4h-1zM37 120h1v4h-1zM73 120h4v4h-4zM82 120h3v4h-3zM100 120h3v4h-3zM147 120h18v4h-18zM25 124h1v4h-1zM38 124h1v4h-1zM73 124h3v4h-3zM83 124h2v4h-2zM98 124h3v4h-3zM147 124h17v4h-17zM72 128h3v4h-3zM83 128h2v4h-2zM97 128h1v4h-1zM146 128h16v4h-16zM26 132h1v4h-1zM39 132h1v4h-1zM71 132h3v4h-3zM84 132h2v4h-2zM95 132h2v4h-2zM145 132h15v4h-15zM27 136h1v4h-1zM41 136h1v4h-1zM72 136h3v4h-3zM85 136h1v4h-1zM93 136h2v4h-2zM138 136h12v4h-12zM28 140h1v4h-1zM43 140h1v4h-1zM73 140h2v4h-2zM82 140h1v4h-1zM89 140h1v4h-1zM132 140h9v4h-9zM45 144h2v4h-2zM74 144h2v4h-2zM78 144h1v4h-1zM128 144h7v4h-7zM30 148h1v4h-1zM47 148h2v4h-2zM79 148h1v4h-1zM123 148h7v4h-7zM31 152h1v4h-1zM52 152h5v4h-5zM117 152h6v4h-6zM32 156h2v4h-2zM60 156h2v4h-2zM113 156h5v4h-5zM33 160h2v4h-2zM61 160h2v4h-2zM74 160h1v4h-1zM113 160h4v4h-4zM34 164h2v4h-2zM60 164h4v4h-4zM66 164h1v4h-1zM112 164h5v4h-5zM35 168h2v4h-2zM57 168h9v4h-9zM112 168h5v4h-5zM38 172h5v4h-5zM52 172h9v4h-9zM108 172h5v4h-5zM46 176h10v4h-10zM103 176h5v4h-5zM53 180h4v4h-4zM97 180h5v4h-5zM60 184h1v4h-1zM91 184h4v4h-4zM87 188h4v4h-4z"/><path fill="#70cf57" d="M23 0h1v4h-1zM33 0h1v4h-1zM147 0h10v4h-10zM23 4h1v4h-1zM33 4h1v4h-1zM147 4h11v4h-11zM23 8h1v4h-1zM33 8h1v4h-1zM147 8h12v4h-12zM23 12h1v4h-1zM33 12h1v4h-1zM147 12h12v4h-12zM33 16h1v4h-1zM146 16h13v4h-13zM24 20h1v4h-1zM33 20h1v4h-1zM146 20h13v4h-13zM24 24h1v4h-1zM33 24h1v4h-1zM115 24h2v4h-2zM146 24h4v4h-4zM152 24h8v4h-8zM24 28h1v4h-1zM33 28h1v4h-1zM114 28h9v4h-9zM145 28h5v4h-5zM153 28h7v4h-7zM24 32h1v4h-1zM33 32h1v4h-1zM114 32h11v4h-11zM145 32h5v4h-5zM153 32h7v4h-7zM24 36h1v4h-1zM33 36h1v4h-1zM114 36h12v4h-12zM145 36h5v4h-5zM154 36h6v4h-6zM24 40h1v4h-1zM33 40h1v4h-1zM114 40h12v4h-12zM145 40h4v4h-4zM154 40h6v4h-6zM24 44h1v4h-1zM33 44h1v4h-1zM114 44h13v4h-13zM145 44h5v4h-5zM154 44h6v4h-6zM24 48h1v4h-1zM33 48h1v4h-1zM114 48h12v4h-12zM145 48h6v4h-6zM153 48h7v4h-7zM24 52h1v4h-1zM115 52h11v4h-11zM145 52h15v4h-15zM24 56h1v4h-1zM115 56h11v4h-11zM146 56h15v4h-15zM24 60h1v4h-1zM115 60h11v4h-11zM147 60h14v4h-14zM24 64h1v4h-1zM116 64h10v4h-10zM148 64h13v4h-13zM24 68h1v4h-1zM32 68h1v4h-1zM117 68h8v4h-8zM149 68h13v4h-13zM24 72h1v4h-1zM32 72h1v4h-1zM117 72h8v4h-8zM150 72h12v4h-12zM24 76h1v4h-1zM32 76h1v4h-1zM118 76h6v4h-6zM151 76h12v4h-12zM24 80h1v4h-1zM32 80h1v4h-1zM118 80h6v4h-6zM152 80h12v4h-12zM24 84h1v4h-1zM32 84h1v4h-1zM118 84h6v4h-6zM153 84h9v4h-9zM24 88h1v4h-1zM32 88h1v4h-1zM118 88h8v4h-8zM154 88h4v4h-4zM24 92h1v4h-1zM117 92h10v4h-10zM24 96h1v4h-1zM116 96h12v4h-12zM24 100h1v4h-1zM33 100h1v4h-1zM115 100h14v4h-14zM24 104h1v4h-1zM33 104h1v4h-1zM114 104h15v4h-15zM24 108h1v4h-1zM33 108h1v4h-1zM113 108h17v4h-17zM24 112h1v4h-1zM112 112h18v4h-18zM25 116h1v4h-1zM34 116h1v4h-1zM109 116h21v4h-21zM26 120h1v4h-1zM35 120h1v4h-1zM107 120h24v4h-24zM36 124h1v4h-1zM105 124h11v4h-11zM122 124h10v4h-10zM27 128h1v4h-1zM37 128h1v4h-1zM103 128h7v4h-7zM123 128h10v4h-10zM100 132h8v4h-8zM123 132h11v4h-11zM29 136h1v4h-1zM38 136h1v4h-1zM97 136h10v4h-10zM118 136h11v4h-11zM30 140h1v4h-1zM40 140h1v4h-1zM78 140h3v4h-3zM95 140h8v4h-8zM111 140h13v4h-13zM31 144h1v4h-1zM42 144h2v4h-2zM86 144h8v4h-8zM109 144h11v4h-11zM32 148h1v4h-1zM44 148h2v4h-2zM81 148h1v4h-1zM107 148h9v4h-9zM33 152h2v4h-2zM47 152h3v4h-3zM80 152h1v4h-1zM106 152h5v4h-5zM35 156h2v4h-2zM57 156h2v4h-2zM78 156h4v4h-4zM105 156h4v4h-4zM36 160h3v4h-3zM57 160h2v4h-2zM76 160h4v4h-4zM104 160h4v4h-4zM38 164h4v4h-4zM50 164h7v4h-7zM73 164h2v4h-2zM103 164h5v4h-5zM41 168h6v4h-6zM68 168h1v4h-1zM101 168h6v4h-6zM66 172h1v4h-1zM96 172h7v4h-7zM62 176h2v4h-2zM90 176h7v4h-7zM61 180h1v4h-1zM87 180h5v4h-5zM62 184h1v4h-1zM83 184h4v4h-4zM82 188h2v4h-2z"/><path fill="#8bd646" d="M24 0h2v4h-2zM24 4h2v4h-2zM24 8h2v4h-2zM24 12h2v4h-2zM24 16h2v4h-2zM32 16h1v4h-1zM25 20h1v4h-1zM32 20h1v4h-1zM25 24h1v4h-1zM32 24h1v4h-1zM150 24h2v4h-2zM25 28h1v4h-1zM32 28h1v4h-1zM150 28h3v4h-3zM25 32h1v4h-1zM32 32h1v4h-1zM150 32h3v4h-3zM25 36h1v4h-1zM32 36h1v4h-1zM150 36h4v4h-4zM25 40h1v4h-1zM32 40h1v4h-1zM149 40h5v4h-5zM25 44h1v4h-1zM32 44h1v4h-1zM150 44h4v4h-4zM25 48h1v4h-1zM32 48h1v4h-1zM151 48h2v4h-2zM25 52h1v4h-1zM32 52h1v4h-1zM25 56h1v4h-1zM32 56h1v4h-1zM25 60h1v4h-1zM32 60h1v4h-1zM25 64h1v4h-1zM32 64h1v4h-1zM25 68h1v4h-1zM25 72h1v4h-1zM31 80h1v4h-1zM25 84h1v4h-1zM31 84h1v4h-1zM25 88h1v4h-1zM25 92h1v4h-1zM32 92h1v4h-1zM25 96h1v4h-1zM32 96h1v4h-1zM25 100h1v4h-1zM32 100h1v4h-1zM25 104h1v4h-1zM32 104h1v4h-1zM25 108h1v4h-1zM25 112h1v4h-1zM33 112h1v4h-1zM26 116h1v4h-1zM33 116h1v4h-1zM27 120h1v4h-1zM34 120h1v4h-1zM27 124h1v4h-1zM34 124h2v4h-2zM116 124h6v4h-6zM28 128h1v4h-1zM36 128h1v4h-1zM110 128h13v4h-13zM28 132h1v4h-1zM37 132h1v4h-1zM108 132h15v4h-15zM30 136h1v4h-1zM37 136h1v4h-1zM107 136h11v4h-11zM31 140h1v4h-1zM38 140h2v4h-2zM103 140h8v4h-8zM32 144h1v4h-1zM40 144h2v4h-2zM94 144h15v4h-15zM33 148h1v4h-1zM43 148h1v4h-1zM82 148h5v4h-5zM96 148h11v4h-11zM35 152h2v4h-2zM44 152h3v4h-3zM81 152h5v4h-5zM98 152h8v4h-8zM37 156h3v4h-3zM52 156h5v4h-5zM82 156h4v4h-4zM99 156h6v4h-6zM39 160h3v4h-3zM52 160h5v4h-5zM80 160h6v4h-6zM98 160h6v4h-6zM42 164h8v4h-8zM75 164h11v4h-11zM96 164h7v4h-7zM69 168h2v4h-2zM93 168h8v4h-8zM67 172h2v4h-2zM84 172h12v4h-12zM64 176h2v4h-2zM83 176h7v4h-7zM62 180h2v4h-2zM82 180h5v4h-5zM63 184h1v4h-1zM81 184h2v4h-2zM80 188h2v4h-2z"/><path fill="#a8db34" d="M26 0h2v4h-2zM32 0h1v4h-1zM26 4h2v4h-2zM32 4h1v4h-1zM26 8h2v4h-2zM32 8h1v4h-1zM26 12h2v4h-2zM32 12h1v4h-1zM26 16h2v4h-2zM26 20h2v4h-2zM26 24h2v4h-2zM26 28h2v4h-2zM26 32h2v4h-2zM26 36h2v4h-2zM26 40h2v4h-2zM26 44h2v4h-2zM31 44h1v4h-1zM26 48h1v4h-1zM31 48h1v4h-1zM26 52h1v4h-1zM31 52h1v4h-1zM26 56h1v4h-1zM31 56h1v4h-1zM26 60h1v4h-1zM31 60h1v4h-1zM26 64h1v4h-1zM31 64h1v4h-1zM26 68h1v4h-1zM31 68h1v4h-1zM26 72h1v4h-1zM31 72h1v4h-1zM25 76h2v4h-2zM31 76h1v4h-1zM25 80h2v4h-2zM26 84h1v4h-1zM26 88h1v4h-1zM31 88h1v4h-1zM26 92h1v4h-1zM31 92h1v4h-1zM26 96h1v4h-1zM31 96h1v4h-1zM26 100h1v4h-1zM31 100h1v4h-1zM26 104h1v4h-1zM31 104h1v4h-1zM26 108h1v4h-1zM32 108h1v4h-1zM26 112h2v4h-2zM32 112h1v4h-1zM27 116h1v4h-1zM32 116h1v4h-1zM28 120h1v4h-1zM32 120h2v4h-2zM28 124h2v4h-2zM33 124h1v4h-1zM29 128h2v4h-2zM34 128h2v4h-2zM29 132h2v4h-2zM36 132h1v4h-1zM31 136h2v4h-2zM36 136h1v4h-1zM32 140h2v4h-2zM36 140h2v4h-2zM33 144h2v4h-2zM38 144h2v4h-2zM34 148h2v4h-2zM40 148h3v4h-3zM87 148h9v4h-9zM37 152h7v4h-7zM86 152h12v4h-12zM40 156h12v4h-12zM86 156h13v4h-13zM42 160h10v4h-10zM86 160h12v4h-12zM86 164h10v4h-10zM71 168h22v4h-22zM69 172h1v4h-1zM78 172h6v4h-6zM66 176h2v4h-2zM79 176h4v4h-4zM64 180h2v4h-2zM79 180h3v4h-3zM64 184h2v4h-2zM79 184h2v4h-2zM67 188h1v4h-1zM78 188h2v4h-2z"/><path fill="#c5e021" d="M28 0h4v4h-4zM28 4h4v4h-4zM28 8h4v4h-4zM28 12h4v4h-4zM28 16h4v4h-4zM28 20h4v4h-4zM28 24h4v4h-4zM28 28h4v4h-4zM28 32h4v4h-4zM28 36h4v4h-4zM28 40h4v4h-4zM28 44h3v4h-3zM27 48h4v4h-4zM27 52h4v4h-4zM27 56h4v4h-4zM27 60h4v4h-4zM27 64h4v4h-4zM27 68h4v4h-4zM27 72h4v4h-4zM27 76h4v4h-4zM27 80h4v4h-4zM27 84h4v4h-4zM27 88h4v4h-4zM27 92h4v4h-4zM27 96h4v4h-4zM27 100h4v4h-4zM27 104h4v4h-4zM27 108h5v4h-5zM28 112h4v4h-4zM28 116h4v4h-4zM29 120h3v4h-3zM30 124h3v4h-3zM31 128h3v4h-3zM31 132h5v4h-5zM33 136h3v4h-3zM34 140h2v4h-2zM35 144h3v4h-3zM36 148h4v4h-4zM70 172h8v4h-8zM68 176h2v4h-2zM75 176h4v4h-4zM66 180h2v4h-2zM77 180h2v4h-2zM66 184h2v4h-2zM76 184h3v4h-3zM68 188h1v4h-1zM76 188h2v4h-2z"/><path fill="#58c765" d="M34 0h2v4h-2zM82 0h7v4h-7zM108 0h10v4h-10zM145 0h2v4h-2zM157 0h10v4h-10zM34 4h2v4h-2zM82 4h6v4h-6zM109 4h10v4h-10zM144 4h3v4h-3zM158 4h9v4h-9zM34 8h1v4h-1zM83 8h5v4h-5zM110 8h15v4h-15zM144 8h3v4h-3zM159 8h8v4h-8zM34 12h1v4h-1zM110 12h16v4h-16zM144 12h3v4h-3zM159 12h8v4h-8zM23 16h1v4h-1zM34 16h1v4h-1zM111 16h16v4h-16zM144 16h2v4h-2zM159 16h8v4h-8zM23 20h1v4h-1zM34 20h1v4h-1zM111 20h16v4h-16zM144 20h2v4h-2zM159 20h8v4h-8zM23 24h1v4h-1zM34 24h1v4h-1zM111 24h4v4h-4zM117 24h11v4h-11zM144 24h2v4h-2zM160 24h7v4h-7zM23 28h1v4h-1zM34 28h1v4h-1zM111 28h3v4h-3zM123 28h6v4h-6zM144 28h1v4h-1zM160 28h7v4h-7zM23 32h1v4h-1zM34 32h1v4h-1zM112 32h2v4h-2zM125 32h4v4h-4zM144 32h1v4h-1zM160 32h8v4h-8zM23 36h1v4h-1zM34 36h1v4h-1zM112 36h2v4h-2zM126 36h4v4h-4zM144 36h1v4h-1zM160 36h8v4h-8zM23 40h1v4h-1zM34 40h1v4h-1zM112 40h2v4h-2zM126 40h4v4h-4zM144 40h1v4h-1zM160 40h8v4h-8zM23 44h1v4h-1zM34 44h1v4h-1zM112 44h2v4h-2zM127 44h4v4h-4zM144 44h1v4h-1zM160 44h8v4h-8zM23 48h1v4h-1zM112 48h2v4h-2zM126 48h5v4h-5zM144 48h1v4h-1zM160 48h8v4h-8zM23 52h1v4h-1zM33 52h1v4h-1zM112 52h3v4h-3zM126 52h5v4h-5zM144 52h1v4h-1zM160 52h7v4h-7zM23 56h1v4h-1zM33 56h1v4h-1zM112 56h3v4h-3zM126 56h5v4h-5zM144 56h2v4h-2zM161 56h6v4h-6zM23 60h1v4h-1zM33 60h1v4h-1zM112 60h3v4h-3zM126 60h6v4h-6zM144 60h3v4h-3zM161 60h6v4h-6zM23 64h1v4h-1zM33 64h1v4h-1zM112 64h4v4h-4zM126 64h6v4h-6zM144 64h4v4h-4zM161 64h6v4h-6zM23 68h1v4h-1zM33 68h1v4h-1zM112 68h5v4h-5zM125 68h7v4h-7zM144 68h5v4h-5zM162 68h5v4h-5zM23 72h1v4h-1zM33 72h1v4h-1zM112 72h5v4h-5zM125 72h7v4h-7zM144 72h6v4h-6zM162 72h5v4h-5zM23 76h1v4h-1zM112 76h6v4h-6zM124 76h9v4h-9zM144 76h7v4h-7zM163 76h4v4h-4zM23 80h1v4h-1zM112 80h6v4h-6zM124 80h9v4h-9zM145 80h7v4h-7zM164 80h3v4h-3zM23 84h1v4h-1zM112 84h6v4h-6zM124 84h9v4h-9zM145 84h8v4h-8zM162 84h5v4h-5zM23 88h1v4h-1zM33 88h1v4h-1zM111 88h7v4h-7zM126 88h8v4h-8zM145 88h9v4h-9zM158 88h8v4h-8zM23 92h1v4h-1zM33 92h1v4h-1zM111 92h6v4h-6zM127 92h7v4h-7zM145 92h21v4h-21zM23 96h1v4h-1zM33 96h1v4h-1zM110 96h6v4h-6zM128 96h6v4h-6zM145 96h21v4h-21zM109 100h6v4h-6zM129 100h5v4h-5zM145 100h20v4h-20zM108 104h6v4h-6zM129 104h6v4h-6zM144 104h20v4h-20zM34 108h1v4h-1zM107 108h6v4h-6zM130 108h6v4h-6zM142 108h16v4h-16zM34 112h1v4h-1zM81 112h1v4h-1zM105 112h7v4h-7zM130 112h22v4h-22zM24 116h1v4h-1zM35 116h1v4h-1zM79 116h3v4h-3zM104 116h5v4h-5zM130 116h20v4h-20zM25 120h1v4h-1zM36 120h1v4h-1zM77 120h5v4h-5zM103 120h4v4h-4zM131 120h16v4h-16zM26 124h1v4h-1zM37 124h1v4h-1zM76 124h7v4h-7zM101 124h4v4h-4zM132 124h15v4h-15zM26 128h1v4h-1zM38 128h1v4h-1zM75 128h8v4h-8zM98 128h5v4h-5zM133 128h13v4h-13zM27 132h1v4h-1zM38 132h1v4h-1zM74 132h10v4h-10zM97 132h3v4h-3zM134 132h11v4h-11zM28 136h1v4h-1zM39 136h2v4h-2zM75 136h10v4h-10zM95 136h2v4h-2zM129 136h9v4h-9zM29 140h1v4h-1zM41 140h2v4h-2zM75 140h3v4h-3zM81 140h1v4h-1zM90 140h5v4h-5zM124 140h8v4h-8zM30 144h1v4h-1zM44 144h1v4h-1zM76 144h2v4h-2zM85 144h1v4h-1zM120 144h8v4h-8zM31 148h1v4h-1zM46 148h1v4h-1zM80 148h1v4h-1zM116 148h7v4h-7zM32 152h1v4h-1zM50 152h2v4h-2zM79 152h1v4h-1zM111 152h6v4h-6zM34 156h1v4h-1zM59 156h1v4h-1zM77 156h1v4h-1zM109 156h4v4h-4zM35 160h1v4h-1zM59 160h2v4h-2zM75 160h1v4h-1zM108 160h5v4h-5zM36 164h2v4h-2zM57 164h3v4h-3zM71 164h2v4h-2zM108 164h4v4h-4zM37 168h4v4h-4zM47 168h10v4h-10zM66 168h2v4h-2zM107 168h5v4h-5zM43 172h9v4h-9zM61 172h5v4h-5zM103 172h5v4h-5zM56 176h6v4h-6zM97 176h6v4h-6zM57 180h4v4h-4zM92 180h5v4h-5zM61 184h1v4h-1zM87 184h4v4h-4zM66 188h1v4h-1zM84 188h3v4h-3z"/><path fill="#2a768e" d="M65 0h1v4h-1zM70 0h1v4h-1zM65 4h1v4h-1zM70 4h1v4h-1zM65 8h1v4h-1zM70 8h1v4h-1zM65 12h1v4h-1zM70 12h1v4h-1zM15 16h1v4h-1zM65 16h1v4h-1zM70 16h1v4h-1zM15 20h1v4h-1zM65 20h1v4h-1zM70 20h1v4h-1zM15 24h1v4h-1zM70 24h1v4h-1zM15 28h1v4h-1zM70 28h1v4h-1zM15 32h1v4h-1zM66 32h1v4h-1zM70 32h1v4h-1zM15 36h1v4h-1zM66 36h1v4h-1zM70 36h1v4h-1zM15 40h1v4h-1zM66 40h1v4h-1zM15 44h1v4h-1zM66 44h1v4h-1zM15 48h1v4h-1zM66 48h1v4h-1zM101 48h1v4h-1zM15 52h1v4h-1zM66 52h1v4h-1zM101 52h1v4h-1zM15 56h1v4h-1zM66 56h1v4h-1zM15 60h1v4h-1zM15 64h1v4h-1zM70 64h1v4h-1zM15 68h1v4h-1zM70 68h1v4h-1zM98 68h1v4h-1zM15 72h1v4h-1zM70 72h1v4h-1zM98 72h1v4h-1zM15 76h1v4h-1zM37 76h2v4h-2zM15 80h1v4h-1zM36 80h1v4h-1zM39 80h1v4h-1zM101 80h1v4h-1zM15 84h1v4h-1zM97 88h1v4h-1zM16 92h1v4h-1zM36 92h1v4h-1zM66 92h1v4h-1zM69 92h1v4h-1zM97 92h1v4h-1zM178 92h1v4h-1zM16 96h1v4h-1zM37 96h2v4h-2zM66 96h1v4h-1zM69 96h1v4h-1zM178 96h1v4h-1zM16 100h1v4h-1zM177 100h3v4h-3zM16 104h1v4h-1zM177 104h1v4h-1zM179 104h1v4h-1zM16 108h1v4h-1zM177 108h1v4h-1zM179 108h1v4h-1zM68 112h1v4h-1zM65 116h1v4h-1zM177 116h1v4h-1zM179 116h1v4h-1zM65 120h1v4h-1zM95 120h1v4h-1zM178 120h1v4h-1zM17 124h1v4h-1zM67 124h1v4h-1zM91 124h1v4h-1zM58 128h1v4h-1zM61 128h2v4h-2zM64 128h1v4h-1zM59 132h1v4h-1zM62 132h3v4h-3zM20 136h1v4h-1zM60 136h2v4h-2zM63 136h2v4h-2zM66 136h1v4h-1zM89 136h1v4h-1zM21 140h1v4h-1zM62 140h1v4h-1zM65 140h1v4h-1zM22 144h1v4h-1zM63 144h1v4h-1zM65 144h1v4h-1zM23 148h1v4h-1zM28 148h1v4h-1zM65 148h1v4h-1zM182 148h4v4h-4zM29 152h1v4h-1zM74 152h1v4h-1zM77 152h1v4h-1zM175 152h5v4h-5zM71 156h1v4h-1zM170 156h2v4h-2zM72 160h1v4h-1zM167 160h1v4h-1zM164 164h2v4h-2zM26 168h1v4h-1zM155 168h2v4h-2zM28 172h1v4h-1zM144 172h2v4h-2zM34 176h1v4h-1zM132 176h2v4h-2zM45 180h1v4h-1zM121 180h1v4h-1zM54 184h1v4h-1zM109 184h1v4h-1zM62 188h1v4h-1z"/><path fill="#34608d" d="M66 0h1v4h-1zM66 4h1v4h-1zM66 8h1v4h-1zM69 8h1v4h-1zM14 12h1v4h-1zM69 12h1v4h-1zM14 16h1v4h-1zM69 16h1v4h-1zM14 20h1v4h-1zM69 20h1v4h-1zM14 24h1v4h-1zM14 28h1v4h-1zM14 32h1v4h-1zM14 36h1v4h-1zM14 40h1v4h-1zM14 44h1v4h-1zM14 48h1v4h-1zM100 48h1v4h-1zM14 52h1v4h-1zM98 52h1v4h-1zM14 56h1v4h-1zM14 60h1v4h-1zM14 64h1v4h-1zM14 68h1v4h-1zM101 68h1v4h-1zM14 72h1v4h-1zM101 72h1v4h-1zM14 76h1v4h-1zM67 76h1v4h-1zM14 80h1v4h-1zM37 80h2v4h-2zM67 80h1v4h-1zM98 80h1v4h-1zM14 84h1v4h-1zM67 84h1v4h-1zM69 84h1v4h-1zM100 88h1v4h-1zM15 92h1v4h-1zM37 92h2v4h-2zM15 96h1v4h-1zM68 100h1v4h-1zM99 100h1v4h-1zM66 108h1v4h-1zM66 112h1v4h-1zM95 112h1v4h-1zM178 112h1v4h-1zM66 116h2v4h-2zM94 116h1v4h-1zM96 116h1v4h-1zM16 120h1v4h-1zM66 120h1v4h-1zM66 124h1v4h-1zM93 124h1v4h-1zM18 132h1v4h-1zM89 132h2v4h-2zM19 136h1v4h-1zM88 136h1v4h-1zM21 144h1v4h-1zM22 148h1v4h-1zM184 152h2v4h-2zM173 156h1v4h-1zM23 160h1v4h-1zM169 160h1v4h-1zM159 168h2v4h-2zM27 172h1v4h-1zM148 172h1v4h-1zM32 176h1v4h-1zM135 176h2v4h-2zM43 180h1v4h-1zM123 180h2v4h-2zM112 184h1v4h-1zM99 188h1v4h-1z"/><path fill="#3a548c" d="M68 0h1v4h-1zM69 24h1v4h-1zM69 28h1v4h-1zM69 32h1v4h-1zM67 36h1v4h-1zM67 40h1v4h-1zM67 44h1v4h-1zM67 48h1v4h-1zM99 48h1v4h-1zM67 52h1v4h-1zM67 56h1v4h-1zM67 60h1v4h-1zM67 64h1v4h-1zM67 68h1v4h-1zM67 72h1v4h-1zM69 76h1v4h-1zM69 80h1v4h-1zM38 84h1v4h-1zM98 84h1v4h-1zM14 88h1v4h-1zM38 88h1v4h-1zM67 88h1v4h-1zM67 92h1v4h-1zM67 96h2v4h-2zM15 100h1v4h-1zM67 100h1v4h-1zM97 100h1v4h-1zM15 104h1v4h-1zM67 104h1v4h-1zM67 108h1v4h-1zM96 108h1v4h-1zM67 112h1v4h-1zM97 112h1v4h-1zM93 120h1v4h-1zM16 124h1v4h-1zM92 124h1v4h-1zM17 128h1v4h-1zM91 128h1v4h-1zM20 140h1v4h-1zM75 152h1v4h-1zM74 156h1v4h-1zM174 156h1v4h-1zM69 160h1v4h-1zM170 160h1v4h-1zM23 164h1v4h-1zM167 164h1v4h-1zM24 168h1v4h-1zM161 168h1v4h-1zM149 172h2v4h-2zM31 176h1v4h-1zM137 176h1v4h-1zM42 180h1v4h-1zM125 180h1v4h-1zM52 184h1v4h-1zM113 184h1v4h-1zM60 188h1v4h-1zM100 188h2v4h-2z"/><path fill="#443b84" d="M13 16h1v4h-1zM13 20h1v4h-1zM68 20h1v4h-1zM13 24h1v4h-1zM68 24h1v4h-1zM13 28h1v4h-1zM68 28h1v4h-1zM13 32h1v4h-1zM13 36h1v4h-1zM13 40h1v4h-1zM13 44h1v4h-1zM69 44h1v4h-1zM13 48h1v4h-1zM69 48h1v4h-1zM13 52h1v4h-1zM69 52h1v4h-1zM99 52h1v4h-1zM13 56h1v4h-1zM69 56h1v4h-1zM99 56h1v4h-1zM13 60h1v4h-1zM69 60h1v4h-1zM99 60h2v4h-2zM13 64h1v4h-1zM69 64h1v4h-1zM100 64h1v4h-1zM13 68h1v4h-1zM13 72h1v4h-1zM99 76h1v4h-1zM68 80h1v4h-1zM100 80h1v4h-1zM13 84h1v4h-1zM68 84h1v4h-1zM13 88h1v4h-1zM98 92h2v4h-2zM98 96h1v4h-1zM14 100h1v4h-1zM97 104h1v4h-1zM97 108h1v4h-1zM96 112h1v4h-1zM15 116h1v4h-1zM18 140h1v4h-1zM20 144h1v4h-1zM21 152h1v4h-1zM22 156h1v4h-1zM73 156h1v4h-1zM178 156h2v4h-2zM22 160h1v4h-1zM70 160h1v4h-1zM172 160h1v4h-1zM22 164h1v4h-1zM23 168h1v4h-1zM164 168h2v4h-2zM25 172h1v4h-1zM152 172h2v4h-2zM30 176h1v4h-1zM140 176h1v4h-1zM40 180h1v4h-1zM127 180h2v4h-2zM50 184h1v4h-1zM116 184h1v4h-1zM59 188h1v4h-1zM103 188h2v4h-2z"/><path fill="#440154" d="M0 132h15v4h-15zM0 136h4v4h-4zM181 160h5v4h-5zM173 164h13v4h-13zM171 168h15v4h-15zM165 172h21v4h-21zM0 176h25v4h-25zM153 176h33v4h-33zM0 180h30v4h-30zM140 180h46v4h-46zM0 184h42v4h-42zM128 184h58v4h-58zM0 188h52v4h-52zM115 188h71v4h-71z"/><path fill="#e2e418" d="M70 176h5v4h-5zM68 180h2v4h-2zM73 180h4v4h-4zM68 184h2v4h-2zM73 184h3v4h-3zM69 188h1v4h-1zM73 188h3v4h-3z"/><path fill="#fde725" d="M70 180h3v4h-3zM70 184h3v4h-3zM70 188h3v4h-3z"/></svg><canvas id="cb" width="186" height="192" style="left:280px;top:66px"></canvas><svg width="186" height="192" shape-rendering="crispEdges" style="position:absolute;left:494px;top:66px"><path fill="#482071" d="M0 0h4v4h-4zM15 0h1v4h-1zM0 4h4v4h-4zM15 4h1v4h-1zM0 8h4v4h-4zM15 8h1v4h-1zM0 12h4v4h-4zM15 12h1v4h-1zM0 16h4v4h-4zM15 16h1v4h-1zM0 20h4v4h-4zM15 20h1v4h-1zM0 24h4v4h-4zM15 24h1v4h-1zM0 28h4v4h-4zM15 28h1v4h-1zM0 32h4v4h-4zM15 32h1v4h-1zM0 36h4v4h-4zM15 36h1v4h-1zM0 40h4v4h-4zM15 40h1v4h-1zM0 44h4v4h-4zM15 44h1v4h-1zM0 48h4v4h-4zM15 48h1v4h-1zM0 52h4v4h-4zM15 52h1v4h-1zM0 56h4v4h-4zM15 56h1v4h-1zM0 60h4v4h-4zM15 60h1v4h-1zM0 64h4v4h-4zM15 64h1v4h-1zM0 68h4v4h-4zM15 68h1v4h-1zM0 72h4v4h-4zM15 72h1v4h-1zM155 72h1v4h-1zM0 76h4v4h-4zM15 76h1v4h-1zM0 80h4v4h-4zM15 80h1v4h-1zM0 84h4v4h-4zM15 84h1v4h-1zM0 88h4v4h-4zM15 88h1v4h-1zM0 92h4v4h-4zM15 92h1v4h-1zM0 96h4v4h-4zM15 96h1v4h-1zM0 100h4v4h-4zM15 100h1v4h-1zM0 104h4v4h-4zM15 104h1v4h-1zM0 108h4v4h-4zM15 108h1v4h-1zM0 112h4v4h-4zM15 112h1v4h-1zM0 116h4v4h-4zM15 116h1v4h-1zM0 120h4v4h-4zM15 120h1v4h-1zM0 124h4v4h-4zM15 124h1v4h-1zM0 128h4v4h-4zM0 132h4v4h-4zM0 136h4v4h-4zM0 140h4v4h-4zM0 144h4v4h-4zM0 148h4v4h-4zM16 148h1v4h-1zM0 152h4v4h-4zM16 152h1v4h-1zM0 156h4v4h-4zM0 160h4v4h-4zM0 164h4v4h-4zM18 164h1v4h-1zM0 168h4v4h-4zM18 168h1v4h-1zM0 172h4v4h-4zM19 172h1v4h-1zM0 176h4v4h-4zM164 176h9v4h-9zM0 180h4v4h-4zM26 180h1v4h-1zM141 180h5v4h-5zM0 184h4v4h-4zM32 184h2v4h-2zM127 184h3v4h-3zM0 188h4v4h-4zM41 188h2v4h-2zM119 188h2v4h-2z"/><path fill="#471164" d="M4 0h2v4h-2zM4 4h2v4h-2zM4 8h2v4h-2zM4 12h2v4h-2zM4 16h2v4h-2zM4 20h2v4h-2zM4 24h2v4h-2zM4 28h2v4h-2zM146 28h1v4h-1zM4 32h2v4h-2zM4 36h2v4h-2zM4 40h2v4h-2zM4 44h2v4h-2zM4 48h2v4h-2zM4 52h2v4h-2zM4 56h2v4h-2zM4 60h2v4h-2zM4 64h2v4h-2zM4 68h2v4h-2zM4 72h2v4h-2zM4 76h2v4h-2zM4 80h2v4h-2zM4 84h2v4h-2zM4 88h2v4h-2zM4 92h2v4h-2zM4 96h2v4h-2zM4 100h2v4h-2zM4 104h2v4h-2zM4 108h2v4h-2zM4 112h2v4h-2zM4 116h2v4h-2zM4 120h2v4h-2zM4 124h2v4h-2zM4 128h2v4h-2zM15 128h1v4h-1zM4 132h2v4h-2zM15 132h1v4h-1zM4 136h2v4h-2zM15 136h1v4h-1zM4 140h2v4h-2zM15 140h1v4h-1zM4 144h2v4h-2zM15 144h1v4h-1zM4 148h2v4h-2zM4 152h2v4h-2zM4 156h2v4h-2zM16 156h1v4h-1zM4 160h2v4h-2zM17 160h1v4h-1zM4 164h2v4h-2zM17 164h1v4h-1zM4 168h2v4h-2zM4 172h2v4h-2zM18 172h1v4h-1zM4 176h2v4h-2zM20 176h1v4h-1zM173 176h13v4h-13zM4 180h2v4h-2zM24 180h2v4h-2zM146 180h12v4h-12zM4 184h2v4h-2zM30 184h2v4h-2zM130 184h6v4h-6zM4 188h2v4h-2zM39 188h2v4h-2zM121 188h4v4h-4z"/><path fill="#440154" d="M6 0h9v4h-9zM6 4h9v4h-9zM6 8h9v4h-9zM6 12h9v4h-9zM6 16h9v4h-9zM6 20h9v4h-9zM6 24h9v4h-9zM6 28h9v4h-9zM6 32h9v4h-9zM6 36h9v4h-9zM6 40h9v4h-9zM6 44h9v4h-9zM6 48h9v4h-9zM6 52h9v4h-9zM6 56h9v4h-9zM6 60h9v4h-9zM6 64h9v4h-9zM6 68h9v4h-9zM6 72h9v4h-9zM6 76h9v4h-9zM6 80h9v4h-9zM6 84h9v4h-9zM6 88h9v4h-9zM6 92h9v4h-9zM6 96h9v4h-9zM6 100h9v4h-9zM6 104h9v4h-9zM6 108h9v4h-9zM6 112h9v4h-9zM6 116h9v4h-9zM6 120h9v4h-9zM6 124h9v4h-9zM6 128h9v4h-9zM6 132h9v4h-9zM6 136h9v4h-9zM6 140h9v4h-9zM6 144h9v4h-9zM6 148h10v4h-10zM6 152h10v4h-10zM6 156h10v4h-10zM6 160h11v4h-11zM6 164h11v4h-11zM6 168h12v4h-12zM6 172h12v4h-12zM6 176h14v4h-14zM6 180h18v4h-18zM158 180h28v4h-28zM6 184h24v4h-24zM136 184h50v4h-50zM6 188h33v4h-33zM125 188h61v4h-61z"/><path fill="#2f6c8e" d="M16 0h1v4h-1zM38 0h3v4h-3zM43 0h3v4h-3zM128 0h1v4h-1zM130 0h1v4h-1zM39 4h1v4h-1zM43 4h3v4h-3zM53 4h1v4h-1zM82 4h1v4h-1zM139 4h1v4h-1zM37 8h1v4h-1zM40 8h1v4h-1zM43 8h3v4h-3zM53 8h1v4h-1zM57 8h1v4h-1zM82 8h1v4h-1zM117 8h1v4h-1zM133 8h1v4h-1zM149 8h1v4h-1zM151 8h1v4h-1zM37 12h1v4h-1zM40 12h1v4h-1zM43 12h2v4h-2zM53 12h1v4h-1zM56 12h1v4h-1zM81 12h1v4h-1zM117 12h1v4h-1zM37 16h1v4h-1zM40 16h1v4h-1zM43 16h2v4h-2zM53 16h1v4h-1zM55 16h2v4h-2zM81 16h1v4h-1zM133 16h1v4h-1zM37 20h1v4h-1zM40 20h1v4h-1zM43 20h2v4h-2zM54 20h2v4h-2zM149 20h1v4h-1zM37 24h1v4h-1zM40 24h1v4h-1zM43 24h2v4h-2zM52 24h1v4h-1zM55 24h1v4h-1zM122 24h1v4h-1zM37 28h1v4h-1zM39 28h1v4h-1zM42 28h1v4h-1zM81 28h1v4h-1zM121 28h1v4h-1zM144 28h1v4h-1zM37 32h1v4h-1zM39 32h1v4h-1zM42 32h1v4h-1zM81 32h1v4h-1zM125 32h1v4h-1zM147 32h1v4h-1zM150 32h1v4h-1zM152 32h1v4h-1zM37 36h1v4h-1zM39 36h1v4h-1zM41 36h2v4h-2zM46 36h1v4h-1zM54 36h2v4h-2zM80 36h1v4h-1zM140 36h1v4h-1zM144 36h1v4h-1zM149 36h1v4h-1zM153 36h1v4h-1zM181 36h1v4h-1zM37 40h1v4h-1zM39 40h1v4h-1zM41 40h2v4h-2zM46 40h1v4h-1zM53 40h1v4h-1zM55 40h1v4h-1zM125 40h1v4h-1zM128 40h1v4h-1zM138 40h1v4h-1zM181 40h1v4h-1zM37 44h3v4h-3zM41 44h2v4h-2zM80 44h1v4h-1zM139 44h1v4h-1zM181 44h1v4h-1zM35 48h1v4h-1zM37 48h2v4h-2zM41 48h2v4h-2zM52 48h1v4h-1zM128 48h1v4h-1zM181 48h1v4h-1zM35 52h1v4h-1zM37 52h2v4h-2zM40 52h1v4h-1zM42 52h1v4h-1zM44 52h1v4h-1zM48 52h1v4h-1zM51 52h2v4h-2zM79 52h1v4h-1zM134 52h1v4h-1zM181 52h1v4h-1zM35 56h1v4h-1zM37 56h2v4h-2zM40 56h1v4h-1zM42 56h3v4h-3zM51 56h2v4h-2zM131 56h1v4h-1zM181 56h1v4h-1zM35 60h1v4h-1zM37 60h2v4h-2zM40 60h2v4h-2zM43 60h2v4h-2zM53 60h1v4h-1zM79 60h1v4h-1zM133 60h2v4h-2zM159 60h1v4h-1zM181 60h1v4h-1zM35 64h1v4h-1zM37 64h2v4h-2zM41 64h2v4h-2zM44 64h1v4h-1zM78 64h1v4h-1zM157 64h1v4h-1zM181 64h1v4h-1zM35 68h1v4h-1zM38 68h2v4h-2zM41 68h2v4h-2zM44 68h3v4h-3zM49 68h4v4h-4zM158 68h1v4h-1zM181 68h1v4h-1zM39 72h1v4h-1zM41 72h5v4h-5zM49 72h1v4h-1zM157 72h1v4h-1zM181 72h1v4h-1zM39 76h3v4h-3zM43 76h3v4h-3zM48 76h1v4h-1zM180 76h2v4h-2zM39 80h6v4h-6zM180 80h2v4h-2zM39 84h5v4h-5zM52 84h1v4h-1zM180 84h2v4h-2zM39 88h4v4h-4zM46 88h1v4h-1zM50 88h1v4h-1zM40 92h1v4h-1zM42 92h1v4h-1zM45 92h1v4h-1zM49 92h1v4h-1zM78 92h1v4h-1zM40 96h1v4h-1zM43 96h1v4h-1zM51 96h1v4h-1zM34 100h1v4h-1zM46 100h1v4h-1zM79 100h1v4h-1zM34 104h1v4h-1zM42 104h1v4h-1zM46 104h1v4h-1zM48 104h1v4h-1zM80 104h1v4h-1zM34 108h1v4h-1zM41 108h1v4h-1zM34 112h1v4h-1zM81 112h1v4h-1zM16 116h1v4h-1zM40 116h1v4h-1zM48 116h1v4h-1zM16 120h1v4h-1zM48 120h1v4h-1zM53 120h1v4h-1zM91 120h1v4h-1zM16 124h1v4h-1zM39 124h1v4h-1zM38 128h1v4h-1zM64 132h1v4h-1zM64 136h1v4h-1zM64 140h1v4h-1zM17 144h1v4h-1zM65 144h1v4h-1zM65 148h1v4h-1zM18 152h1v4h-1zM19 156h1v4h-1zM66 156h2v4h-2zM180 156h6v4h-6zM173 160h13v4h-13zM20 164h1v4h-1zM69 164h1v4h-1zM173 164h13v4h-13zM174 168h12v4h-12zM21 172h1v4h-1zM156 172h6v4h-6zM24 176h1v4h-1zM139 176h3v4h-3zM30 180h1v4h-1zM127 180h2v4h-2zM119 184h1v4h-1zM48 188h1v4h-1zM113 188h1v4h-1z"/><path fill="#2fb47c" d="M17 0h1v4h-1zM29 0h1v4h-1zM75 0h1v4h-1zM79 0h2v4h-2zM91 0h2v4h-2zM111 0h2v4h-2zM162 0h3v4h-3zM180 0h1v4h-1zM17 4h1v4h-1zM29 4h1v4h-1zM71 4h1v4h-1zM75 4h1v4h-1zM80 4h1v4h-1zM91 4h1v4h-1zM111 4h2v4h-2zM163 4h3v4h-3zM17 8h1v4h-1zM29 8h1v4h-1zM68 8h1v4h-1zM74 8h2v4h-2zM80 8h1v4h-1zM83 8h1v4h-1zM112 8h1v4h-1zM164 8h2v4h-2zM17 12h1v4h-1zM29 12h1v4h-1zM68 12h1v4h-1zM70 12h1v4h-1zM75 12h1v4h-1zM78 12h1v4h-1zM112 12h1v4h-1zM165 12h2v4h-2zM17 16h1v4h-1zM29 16h1v4h-1zM73 16h1v4h-1zM112 16h1v4h-1zM165 16h2v4h-2zM179 16h1v4h-1zM17 20h1v4h-1zM29 20h1v4h-1zM67 20h1v4h-1zM112 20h2v4h-2zM166 20h1v4h-1zM179 20h1v4h-1zM17 24h1v4h-1zM29 24h1v4h-1zM67 24h1v4h-1zM69 24h1v4h-1zM74 24h1v4h-1zM112 24h2v4h-2zM166 24h2v4h-2zM29 28h1v4h-1zM72 28h1v4h-1zM74 28h1v4h-1zM77 28h1v4h-1zM112 28h2v4h-2zM167 28h1v4h-1zM29 32h1v4h-1zM66 32h1v4h-1zM68 32h1v4h-1zM79 32h1v4h-1zM82 32h1v4h-1zM113 32h2v4h-2zM167 32h1v4h-1zM29 36h2v4h-2zM66 36h1v4h-1zM113 36h2v4h-2zM168 36h1v4h-1zM29 40h2v4h-2zM67 40h1v4h-1zM71 40h1v4h-1zM73 40h1v4h-1zM113 40h2v4h-2zM168 40h1v4h-1zM29 44h2v4h-2zM65 44h1v4h-1zM67 44h1v4h-1zM114 44h2v4h-2zM168 44h1v4h-1zM178 44h1v4h-1zM29 48h2v4h-2zM65 48h2v4h-2zM78 48h1v4h-1zM81 48h1v4h-1zM114 48h2v4h-2zM168 48h1v4h-1zM178 48h1v4h-1zM30 52h1v4h-1zM65 52h2v4h-2zM70 52h1v4h-1zM72 52h1v4h-1zM115 52h2v4h-2zM168 52h1v4h-1zM178 52h1v4h-1zM17 56h1v4h-1zM30 56h1v4h-1zM65 56h2v4h-2zM116 56h1v4h-1zM168 56h2v4h-2zM17 60h1v4h-1zM30 60h1v4h-1zM65 60h1v4h-1zM77 60h1v4h-1zM116 60h2v4h-2zM169 60h1v4h-1zM17 64h1v4h-1zM30 64h1v4h-1zM64 64h2v4h-2zM69 64h1v4h-1zM71 64h1v4h-1zM117 64h1v4h-1zM169 64h1v4h-1zM17 68h1v4h-1zM30 68h1v4h-1zM64 68h1v4h-1zM74 68h1v4h-1zM117 68h2v4h-2zM169 68h2v4h-2zM177 68h1v4h-1zM17 72h1v4h-1zM30 72h2v4h-2zM64 72h1v4h-1zM70 72h1v4h-1zM118 72h1v4h-1zM169 72h2v4h-2zM30 76h2v4h-2zM68 76h1v4h-1zM73 76h1v4h-1zM118 76h2v4h-2zM170 76h3v4h-3zM176 76h1v4h-1zM30 80h2v4h-2zM118 80h2v4h-2zM171 80h6v4h-6zM30 84h2v4h-2zM67 84h1v4h-1zM69 84h1v4h-1zM76 84h1v4h-1zM119 84h2v4h-2zM172 84h4v4h-4zM30 88h2v4h-2zM67 88h1v4h-1zM72 88h1v4h-1zM120 88h1v4h-1zM174 88h2v4h-2zM30 92h1v4h-1zM68 92h1v4h-1zM120 92h2v4h-2zM30 96h1v4h-1zM63 96h3v4h-3zM68 96h1v4h-1zM77 96h1v4h-1zM121 96h2v4h-2zM29 100h2v4h-2zM63 100h3v4h-3zM67 100h1v4h-1zM71 100h1v4h-1zM92 100h1v4h-1zM122 100h2v4h-2zM29 104h2v4h-2zM63 104h3v4h-3zM67 104h1v4h-1zM78 104h1v4h-1zM81 104h1v4h-1zM90 104h4v4h-4zM123 104h2v4h-2zM29 108h1v4h-1zM63 108h4v4h-4zM70 108h1v4h-1zM89 108h1v4h-1zM92 108h2v4h-2zM123 108h2v4h-2zM18 112h1v4h-1zM29 112h1v4h-1zM63 112h4v4h-4zM70 112h1v4h-1zM88 112h1v4h-1zM93 112h1v4h-1zM124 112h2v4h-2zM18 116h1v4h-1zM29 116h1v4h-1zM70 116h3v4h-3zM75 116h6v4h-6zM84 116h1v4h-1zM86 116h2v4h-2zM124 116h2v4h-2zM18 120h1v4h-1zM28 120h2v4h-2zM125 120h2v4h-2zM18 124h1v4h-1zM28 124h2v4h-2zM93 124h1v4h-1zM125 124h2v4h-2zM29 128h1v4h-1zM92 128h1v4h-1zM124 128h2v4h-2zM19 132h1v4h-1zM29 132h2v4h-2zM91 132h1v4h-1zM124 132h2v4h-2zM19 136h1v4h-1zM30 136h1v4h-1zM88 136h1v4h-1zM123 136h3v4h-3zM20 140h1v4h-1zM30 140h2v4h-2zM123 140h2v4h-2zM20 144h1v4h-1zM31 144h1v4h-1zM122 144h3v4h-3zM21 148h1v4h-1zM32 148h1v4h-1zM120 148h4v4h-4zM22 152h1v4h-1zM34 152h3v4h-3zM118 152h4v4h-4zM22 156h2v4h-2zM58 156h2v4h-2zM116 156h4v4h-4zM23 160h2v4h-2zM60 160h1v4h-1zM114 160h4v4h-4zM25 164h1v4h-1zM61 164h1v4h-1zM111 164h4v4h-4zM27 168h2v4h-2zM67 168h1v4h-1zM69 168h1v4h-1zM107 168h5v4h-5zM29 172h4v4h-4zM102 172h5v4h-5zM36 176h4v4h-4zM98 176h5v4h-5zM42 180h7v4h-7zM96 180h4v4h-4zM51 184h5v4h-5zM93 184h4v4h-4zM56 188h2v4h-2zM91 188h4v4h-4z"/><path fill="#58c765" d="M18 0h1v4h-1zM24 0h3v4h-3zM94 0h1v4h-1zM108 0h2v4h-2zM167 0h1v4h-1zM179 0h1v4h-1zM18 4h1v4h-1zM24 4h3v4h-3zM93 4h1v4h-1zM108 4h2v4h-2zM167 4h2v4h-2zM18 8h1v4h-1zM25 8h2v4h-2zM90 8h1v4h-1zM93 8h1v4h-1zM108 8h2v4h-2zM168 8h1v4h-1zM178 8h1v4h-1zM18 12h1v4h-1zM25 12h2v4h-2zM90 12h3v4h-3zM108 12h2v4h-2zM168 12h1v4h-1zM178 12h1v4h-1zM18 16h1v4h-1zM25 16h2v4h-2zM83 16h1v4h-1zM91 16h1v4h-1zM108 16h2v4h-2zM168 16h1v4h-1zM178 16h1v4h-1zM18 20h1v4h-1zM25 20h2v4h-2zM108 20h2v4h-2zM169 20h1v4h-1zM178 20h1v4h-1zM25 24h3v4h-3zM108 24h2v4h-2zM169 24h1v4h-1zM178 24h1v4h-1zM25 28h3v4h-3zM78 28h1v4h-1zM108 28h3v4h-3zM169 28h1v4h-1zM25 32h3v4h-3zM78 32h1v4h-1zM108 32h3v4h-3zM169 32h1v4h-1zM25 36h3v4h-3zM78 36h1v4h-1zM108 36h3v4h-3zM169 36h1v4h-1zM25 40h3v4h-3zM77 40h1v4h-1zM82 40h1v4h-1zM108 40h3v4h-3zM26 44h2v4h-2zM77 44h1v4h-1zM108 44h4v4h-4zM170 44h1v4h-1zM26 48h2v4h-2zM77 48h1v4h-1zM109 48h3v4h-3zM170 48h1v4h-1zM27 52h1v4h-1zM76 52h1v4h-1zM81 52h1v4h-1zM111 52h2v4h-2zM170 52h1v4h-1zM177 52h1v4h-1zM18 56h1v4h-1zM27 56h1v4h-1zM76 56h1v4h-1zM112 56h2v4h-2zM171 56h1v4h-1zM177 56h1v4h-1zM18 60h1v4h-1zM27 60h2v4h-2zM76 60h1v4h-1zM112 60h2v4h-2zM171 60h2v4h-2zM176 60h1v4h-1zM18 64h1v4h-1zM27 64h2v4h-2zM75 64h2v4h-2zM113 64h2v4h-2zM172 64h5v4h-5zM18 68h1v4h-1zM28 68h1v4h-1zM75 68h1v4h-1zM80 68h1v4h-1zM114 68h1v4h-1zM173 68h3v4h-3zM18 72h1v4h-1zM28 72h1v4h-1zM75 72h1v4h-1zM114 72h2v4h-2zM18 76h1v4h-1zM28 76h1v4h-1zM75 76h1v4h-1zM93 76h1v4h-1zM115 76h1v4h-1zM28 80h1v4h-1zM74 80h2v4h-2zM93 80h3v4h-3zM115 80h2v4h-2zM28 84h1v4h-1zM74 84h2v4h-2zM92 84h4v4h-4zM116 84h1v4h-1zM28 88h1v4h-1zM74 88h2v4h-2zM80 88h1v4h-1zM92 88h1v4h-1zM94 88h2v4h-2zM116 88h2v4h-2zM19 92h1v4h-1zM28 92h1v4h-1zM74 92h2v4h-2zM91 92h1v4h-1zM94 92h2v4h-2zM117 92h2v4h-2zM19 96h1v4h-1zM27 96h1v4h-1zM75 96h2v4h-2zM89 96h2v4h-2zM95 96h1v4h-1zM118 96h2v4h-2zM19 100h1v4h-1zM27 100h1v4h-1zM75 100h2v4h-2zM81 100h1v4h-1zM88 100h1v4h-1zM95 100h1v4h-1zM118 100h2v4h-2zM19 104h1v4h-1zM27 104h1v4h-1zM76 104h1v4h-1zM87 104h1v4h-1zM95 104h2v4h-2zM119 104h2v4h-2zM19 108h1v4h-1zM27 108h1v4h-1zM76 108h2v4h-2zM82 108h1v4h-1zM87 108h1v4h-1zM95 108h2v4h-2zM120 108h2v4h-2zM19 112h1v4h-1zM27 112h1v4h-1zM77 112h2v4h-2zM86 112h1v4h-1zM95 112h2v4h-2zM121 112h1v4h-1zM19 116h1v4h-1zM26 116h1v4h-1zM95 116h2v4h-2zM122 116h1v4h-1zM19 120h1v4h-1zM26 120h1v4h-1zM95 120h2v4h-2zM122 120h1v4h-1zM26 124h1v4h-1zM95 124h1v4h-1zM122 124h1v4h-1zM20 128h1v4h-1zM26 128h1v4h-1zM94 128h2v4h-2zM122 128h1v4h-1zM21 132h1v4h-1zM26 132h1v4h-1zM93 132h2v4h-2zM121 132h1v4h-1zM21 136h2v4h-2zM25 136h3v4h-3zM92 136h2v4h-2zM119 136h3v4h-3zM22 140h6v4h-6zM86 140h1v4h-1zM88 140h4v4h-4zM117 140h4v4h-4zM23 144h6v4h-6zM84 144h1v4h-1zM116 144h3v4h-3zM25 148h5v4h-5zM82 148h1v4h-1zM114 148h3v4h-3zM25 152h7v4h-7zM80 152h1v4h-1zM112 152h3v4h-3zM26 156h4v4h-4zM34 156h12v4h-12zM78 156h1v4h-1zM110 156h3v4h-3zM26 160h3v4h-3zM57 160h2v4h-2zM76 160h1v4h-1zM107 160h4v4h-4zM29 164h3v4h-3zM58 164h1v4h-1zM74 164h1v4h-1zM102 164h5v4h-5zM32 168h4v4h-4zM58 168h2v4h-2zM66 168h1v4h-1zM95 168h7v4h-7zM37 172h13v4h-13zM58 172h6v4h-6zM91 172h5v4h-5zM49 176h13v4h-13zM89 176h4v4h-4zM56 180h3v4h-3zM88 180h4v4h-4zM58 184h2v4h-2zM87 184h3v4h-3zM59 188h2v4h-2zM86 188h2v4h-2z"/><path fill="#70cf57" d="M19 0h5v4h-5zM106 0h2v4h-2zM168 0h2v4h-2zM178 0h1v4h-1zM19 4h5v4h-5zM94 4h1v4h-1zM106 4h2v4h-2zM169 4h1v4h-1zM178 4h1v4h-1zM19 8h6v4h-6zM94 8h1v4h-1zM106 8h2v4h-2zM169 8h1v4h-1zM19 12h1v4h-1zM22 12h3v4h-3zM93 12h2v4h-2zM106 12h2v4h-2zM169 12h2v4h-2zM19 16h1v4h-1zM22 16h3v4h-3zM90 16h1v4h-1zM92 16h2v4h-2zM106 16h2v4h-2zM169 16h2v4h-2zM19 20h1v4h-1zM22 20h3v4h-3zM83 20h1v4h-1zM90 20h4v4h-4zM105 20h3v4h-3zM170 20h1v4h-1zM18 24h2v4h-2zM22 24h3v4h-3zM83 24h1v4h-1zM91 24h1v4h-1zM105 24h3v4h-3zM170 24h1v4h-1zM18 28h2v4h-2zM23 28h2v4h-2zM105 28h3v4h-3zM170 28h1v4h-1zM18 32h1v4h-1zM23 32h2v4h-2zM105 32h3v4h-3zM170 32h1v4h-1zM18 36h1v4h-1zM23 36h2v4h-2zM104 36h4v4h-4zM170 36h1v4h-1zM18 40h1v4h-1zM23 40h2v4h-2zM104 40h4v4h-4zM170 40h1v4h-1zM18 44h1v4h-1zM23 44h3v4h-3zM82 44h1v4h-1zM104 44h4v4h-4zM177 44h1v4h-1zM18 48h1v4h-1zM23 48h3v4h-3zM82 48h1v4h-1zM105 48h4v4h-4zM171 48h1v4h-1zM177 48h1v4h-1zM18 52h2v4h-2zM24 52h3v4h-3zM106 52h5v4h-5zM171 52h2v4h-2zM19 56h1v4h-1zM24 56h3v4h-3zM81 56h1v4h-1zM107 56h5v4h-5zM172 56h5v4h-5zM19 60h1v4h-1zM25 60h2v4h-2zM81 60h1v4h-1zM109 60h3v4h-3zM173 60h3v4h-3zM19 64h1v4h-1zM26 64h1v4h-1zM111 64h2v4h-2zM19 68h1v4h-1zM26 68h2v4h-2zM93 68h3v4h-3zM112 68h2v4h-2zM19 72h1v4h-1zM27 72h1v4h-1zM80 72h1v4h-1zM92 72h5v4h-5zM112 72h2v4h-2zM19 76h1v4h-1zM27 76h1v4h-1zM80 76h1v4h-1zM92 76h1v4h-1zM94 76h4v4h-4zM113 76h2v4h-2zM19 80h1v4h-1zM27 80h1v4h-1zM80 80h1v4h-1zM92 80h1v4h-1zM96 80h2v4h-2zM114 80h1v4h-1zM19 84h1v4h-1zM27 84h1v4h-1zM80 84h1v4h-1zM91 84h1v4h-1zM96 84h2v4h-2zM114 84h2v4h-2zM19 88h1v4h-1zM27 88h1v4h-1zM91 88h1v4h-1zM96 88h2v4h-2zM114 88h2v4h-2zM27 92h1v4h-1zM89 92h2v4h-2zM96 92h2v4h-2zM115 92h2v4h-2zM20 96h1v4h-1zM26 96h1v4h-1zM81 96h1v4h-1zM88 96h1v4h-1zM96 96h2v4h-2zM115 96h3v4h-3zM20 100h1v4h-1zM26 100h1v4h-1zM87 100h1v4h-1zM96 100h2v4h-2zM116 100h2v4h-2zM20 104h1v4h-1zM26 104h1v4h-1zM82 104h1v4h-1zM86 104h1v4h-1zM97 104h1v4h-1zM117 104h2v4h-2zM20 108h1v4h-1zM26 108h1v4h-1zM83 108h4v4h-4zM97 108h2v4h-2zM118 108h2v4h-2zM20 112h1v4h-1zM25 112h2v4h-2zM84 112h2v4h-2zM97 112h2v4h-2zM119 112h2v4h-2zM20 116h1v4h-1zM25 116h1v4h-1zM97 116h2v4h-2zM120 116h2v4h-2zM20 120h1v4h-1zM25 120h1v4h-1zM97 120h2v4h-2zM121 120h1v4h-1zM20 124h1v4h-1zM25 124h1v4h-1zM96 124h3v4h-3zM121 124h1v4h-1zM21 128h1v4h-1zM24 128h2v4h-2zM96 128h2v4h-2zM120 128h2v4h-2zM22 132h4v4h-4zM95 132h2v4h-2zM118 132h3v4h-3zM23 136h2v4h-2zM94 136h2v4h-2zM116 136h3v4h-3zM87 140h1v4h-1zM92 140h2v4h-2zM114 140h3v4h-3zM85 144h1v4h-1zM87 144h4v4h-4zM113 144h3v4h-3zM83 148h1v4h-1zM111 148h3v4h-3zM81 152h1v4h-1zM108 152h4v4h-4zM30 156h4v4h-4zM79 156h1v4h-1zM105 156h5v4h-5zM29 160h3v4h-3zM55 160h2v4h-2zM77 160h2v4h-2zM101 160h6v4h-6zM32 164h3v4h-3zM56 164h2v4h-2zM75 164h2v4h-2zM95 164h7v4h-7zM36 168h22v4h-22zM70 168h2v4h-2zM89 168h6v4h-6zM50 172h8v4h-8zM64 172h2v4h-2zM86 172h5v4h-5zM62 176h2v4h-2zM85 176h4v4h-4zM59 180h4v4h-4zM85 180h3v4h-3zM60 184h2v4h-2zM85 184h2v4h-2zM61 188h1v4h-1zM84 188h2v4h-2z"/><path fill="#42be71" d="M27 0h2v4h-2zM69 0h3v4h-3zM90 0h1v4h-1zM93 0h1v4h-1zM110 0h1v4h-1zM165 0h2v4h-2zM27 4h2v4h-2zM69 4h2v4h-2zM79 4h1v4h-1zM90 4h1v4h-1zM92 4h1v4h-1zM110 4h1v4h-1zM166 4h1v4h-1zM179 4h1v4h-1zM27 8h2v4h-2zM69 8h2v4h-2zM79 8h1v4h-1zM91 8h2v4h-2zM110 8h2v4h-2zM166 8h2v4h-2zM179 8h1v4h-1zM27 12h2v4h-2zM69 12h1v4h-1zM74 12h1v4h-1zM79 12h1v4h-1zM83 12h1v4h-1zM110 12h2v4h-2zM167 12h1v4h-1zM179 12h1v4h-1zM27 16h2v4h-2zM68 16h2v4h-2zM74 16h1v4h-1zM78 16h2v4h-2zM110 16h2v4h-2zM167 16h1v4h-1zM27 20h2v4h-2zM68 20h2v4h-2zM73 20h2v4h-2zM78 20h2v4h-2zM110 20h2v4h-2zM167 20h2v4h-2zM28 24h1v4h-1zM68 24h1v4h-1zM73 24h1v4h-1zM78 24h2v4h-2zM110 24h2v4h-2zM168 24h1v4h-1zM17 28h1v4h-1zM28 28h1v4h-1zM67 28h2v4h-2zM73 28h1v4h-1zM79 28h1v4h-1zM111 28h1v4h-1zM168 28h1v4h-1zM178 28h1v4h-1zM17 32h1v4h-1zM28 32h1v4h-1zM67 32h1v4h-1zM72 32h2v4h-2zM77 32h1v4h-1zM111 32h2v4h-2zM168 32h1v4h-1zM178 32h1v4h-1zM17 36h1v4h-1zM28 36h1v4h-1zM67 36h1v4h-1zM72 36h2v4h-2zM77 36h1v4h-1zM82 36h1v4h-1zM111 36h2v4h-2zM178 36h1v4h-1zM17 40h1v4h-1zM28 40h1v4h-1zM66 40h1v4h-1zM72 40h1v4h-1zM78 40h1v4h-1zM111 40h2v4h-2zM169 40h1v4h-1zM178 40h1v4h-1zM17 44h1v4h-1zM28 44h1v4h-1zM66 44h1v4h-1zM71 44h2v4h-2zM76 44h1v4h-1zM78 44h1v4h-1zM112 44h2v4h-2zM169 44h1v4h-1zM17 48h1v4h-1zM28 48h1v4h-1zM71 48h2v4h-2zM76 48h1v4h-1zM112 48h2v4h-2zM169 48h1v4h-1zM17 52h1v4h-1zM28 52h2v4h-2zM71 52h1v4h-1zM77 52h1v4h-1zM113 52h2v4h-2zM169 52h1v4h-1zM28 56h2v4h-2zM70 56h2v4h-2zM75 56h1v4h-1zM77 56h1v4h-1zM114 56h2v4h-2zM170 56h1v4h-1zM29 60h1v4h-1zM70 60h2v4h-2zM75 60h1v4h-1zM114 60h2v4h-2zM170 60h1v4h-1zM177 60h1v4h-1zM29 64h1v4h-1zM70 64h1v4h-1zM80 64h1v4h-1zM115 64h2v4h-2zM170 64h2v4h-2zM177 64h1v4h-1zM29 68h1v4h-1zM69 68h2v4h-2zM76 68h1v4h-1zM115 68h2v4h-2zM171 68h2v4h-2zM176 68h1v4h-1zM29 72h1v4h-1zM69 72h1v4h-1zM74 72h1v4h-1zM76 72h1v4h-1zM116 72h2v4h-2zM171 72h6v4h-6zM29 76h1v4h-1zM69 76h1v4h-1zM74 76h1v4h-1zM76 76h1v4h-1zM116 76h2v4h-2zM173 76h3v4h-3zM18 80h1v4h-1zM29 80h1v4h-1zM68 80h2v4h-2zM73 80h1v4h-1zM76 80h1v4h-1zM117 80h1v4h-1zM18 84h1v4h-1zM29 84h1v4h-1zM68 84h1v4h-1zM73 84h1v4h-1zM117 84h2v4h-2zM18 88h1v4h-1zM29 88h1v4h-1zM68 88h1v4h-1zM73 88h1v4h-1zM76 88h1v4h-1zM93 88h1v4h-1zM118 88h2v4h-2zM18 92h1v4h-1zM29 92h1v4h-1zM67 92h1v4h-1zM72 92h2v4h-2zM76 92h1v4h-1zM80 92h1v4h-1zM92 92h2v4h-2zM119 92h1v4h-1zM18 96h1v4h-1zM28 96h2v4h-2zM66 96h2v4h-2zM72 96h3v4h-3zM91 96h4v4h-4zM120 96h1v4h-1zM18 100h1v4h-1zM28 100h1v4h-1zM66 100h1v4h-1zM72 100h3v4h-3zM77 100h1v4h-1zM89 100h3v4h-3zM93 100h2v4h-2zM120 100h2v4h-2zM18 104h1v4h-1zM28 104h1v4h-1zM66 104h1v4h-1zM71 104h5v4h-5zM77 104h1v4h-1zM88 104h2v4h-2zM94 104h1v4h-1zM121 104h2v4h-2zM18 108h1v4h-1zM28 108h1v4h-1zM71 108h5v4h-5zM78 108h1v4h-1zM88 108h1v4h-1zM94 108h1v4h-1zM122 108h1v4h-1zM28 112h1v4h-1zM71 112h6v4h-6zM79 112h1v4h-1zM83 112h1v4h-1zM87 112h1v4h-1zM94 112h1v4h-1zM122 112h2v4h-2zM27 116h2v4h-2zM85 116h1v4h-1zM94 116h1v4h-1zM123 116h1v4h-1zM27 120h1v4h-1zM94 120h1v4h-1zM123 120h2v4h-2zM19 124h1v4h-1zM27 124h1v4h-1zM94 124h1v4h-1zM123 124h2v4h-2zM19 128h1v4h-1zM27 128h2v4h-2zM93 128h1v4h-1zM123 128h1v4h-1zM20 132h1v4h-1zM27 132h2v4h-2zM92 132h1v4h-1zM122 132h2v4h-2zM20 136h1v4h-1zM28 136h2v4h-2zM89 136h3v4h-3zM122 136h1v4h-1zM21 140h1v4h-1zM28 140h2v4h-2zM121 140h2v4h-2zM21 144h2v4h-2zM29 144h2v4h-2zM119 144h3v4h-3zM22 148h3v4h-3zM30 148h2v4h-2zM117 148h3v4h-3zM23 152h2v4h-2zM32 152h2v4h-2zM115 152h3v4h-3zM24 156h2v4h-2zM46 156h12v4h-12zM113 156h3v4h-3zM25 160h1v4h-1zM59 160h1v4h-1zM111 160h3v4h-3zM26 164h3v4h-3zM59 164h2v4h-2zM73 164h1v4h-1zM107 164h4v4h-4zM29 168h3v4h-3zM60 168h6v4h-6zM102 168h5v4h-5zM33 172h4v4h-4zM96 172h6v4h-6zM40 176h9v4h-9zM93 176h5v4h-5zM49 180h7v4h-7zM92 180h4v4h-4zM56 184h2v4h-2zM90 184h3v4h-3zM58 188h1v4h-1zM88 188h3v4h-3z"/><path fill="#24aa83" d="M30 0h1v4h-1zM63 0h3v4h-3zM113 0h1v4h-1zM159 0h3v4h-3zM30 4h1v4h-1zM63 4h2v4h-2zM68 4h1v4h-1zM74 4h1v4h-1zM83 4h1v4h-1zM113 4h1v4h-1zM160 4h3v4h-3zM180 4h1v4h-1zM30 8h1v4h-1zM63 8h2v4h-2zM71 8h1v4h-1zM78 8h1v4h-1zM113 8h1v4h-1zM161 8h3v4h-3zM180 8h1v4h-1zM30 12h1v4h-1zM63 12h2v4h-2zM80 12h1v4h-1zM113 12h2v4h-2zM162 12h3v4h-3zM30 16h1v4h-1zM63 16h1v4h-1zM67 16h1v4h-1zM70 16h1v4h-1zM75 16h1v4h-1zM113 16h2v4h-2zM163 16h2v4h-2zM30 20h2v4h-2zM62 20h2v4h-2zM114 20h2v4h-2zM164 20h2v4h-2zM30 24h2v4h-2zM66 24h1v4h-1zM72 24h1v4h-1zM77 24h1v4h-1zM114 24h2v4h-2zM165 24h1v4h-1zM179 24h1v4h-1zM30 28h2v4h-2zM66 28h1v4h-1zM69 28h1v4h-1zM82 28h1v4h-1zM114 28h2v4h-2zM165 28h2v4h-2zM179 28h1v4h-1zM30 32h2v4h-2zM74 32h1v4h-1zM115 32h2v4h-2zM166 32h1v4h-1zM179 32h1v4h-1zM31 36h1v4h-1zM68 36h1v4h-1zM71 36h1v4h-1zM79 36h1v4h-1zM115 36h2v4h-2zM166 36h2v4h-2zM31 40h1v4h-1zM65 40h1v4h-1zM76 40h1v4h-1zM115 40h2v4h-2zM167 40h1v4h-1zM31 44h1v4h-1zM73 44h1v4h-1zM81 44h1v4h-1zM116 44h2v4h-2zM167 44h1v4h-1zM31 48h1v4h-1zM67 48h1v4h-1zM70 48h1v4h-1zM116 48h2v4h-2zM167 48h1v4h-1zM31 52h1v4h-1zM75 52h1v4h-1zM117 52h2v4h-2zM167 52h1v4h-1zM31 56h1v4h-1zM64 56h1v4h-1zM72 56h1v4h-1zM117 56h2v4h-2zM167 56h1v4h-1zM178 56h1v4h-1zM31 60h1v4h-1zM64 60h1v4h-1zM66 60h1v4h-1zM69 60h1v4h-1zM80 60h1v4h-1zM118 60h2v4h-2zM167 60h2v4h-2zM178 60h1v4h-1zM31 64h1v4h-1zM74 64h1v4h-1zM77 64h1v4h-1zM118 64h2v4h-2zM167 64h2v4h-2zM178 64h1v4h-1zM31 68h2v4h-2zM65 68h1v4h-1zM71 68h1v4h-1zM119 68h1v4h-1zM167 68h2v4h-2zM32 72h1v4h-1zM63 72h1v4h-1zM65 72h1v4h-1zM68 72h1v4h-1zM119 72h2v4h-2zM167 72h2v4h-2zM177 72h1v4h-1zM17 76h1v4h-1zM32 76h1v4h-1zM62 76h3v4h-3zM70 76h1v4h-1zM120 76h1v4h-1zM168 76h2v4h-2zM177 76h1v4h-1zM17 80h1v4h-1zM32 80h1v4h-1zM62 80h3v4h-3zM67 80h1v4h-1zM120 80h2v4h-2zM168 80h3v4h-3zM17 84h1v4h-1zM32 84h1v4h-1zM62 84h2v4h-2zM72 84h1v4h-1zM121 84h1v4h-1zM168 84h4v4h-4zM176 84h1v4h-1zM17 88h1v4h-1zM32 88h1v4h-1zM62 88h2v4h-2zM69 88h1v4h-1zM121 88h3v4h-3zM169 88h5v4h-5zM176 88h1v4h-1zM17 92h1v4h-1zM31 92h2v4h-2zM62 92h2v4h-2zM66 92h1v4h-1zM77 92h1v4h-1zM122 92h3v4h-3zM169 92h8v4h-8zM17 96h1v4h-1zM31 96h1v4h-1zM62 96h1v4h-1zM71 96h1v4h-1zM123 96h3v4h-3zM170 96h7v4h-7zM17 100h1v4h-1zM31 100h1v4h-1zM62 100h1v4h-1zM124 100h3v4h-3zM172 100h5v4h-5zM17 104h1v4h-1zM31 104h1v4h-1zM62 104h1v4h-1zM125 104h2v4h-2zM174 104h2v4h-2zM30 108h2v4h-2zM62 108h1v4h-1zM67 108h1v4h-1zM90 108h2v4h-2zM125 108h3v4h-3zM30 112h1v4h-1zM62 112h1v4h-1zM126 112h2v4h-2zM30 116h1v4h-1zM61 116h2v4h-2zM64 116h3v4h-3zM69 116h1v4h-1zM73 116h2v4h-2zM88 116h1v4h-1zM93 116h1v4h-1zM126 116h3v4h-3zM30 120h1v4h-1zM61 120h1v4h-1zM66 120h6v4h-6zM76 120h13v4h-13zM93 120h1v4h-1zM127 120h3v4h-3zM30 124h1v4h-1zM66 124h7v4h-7zM76 124h12v4h-12zM127 124h3v4h-3zM18 128h1v4h-1zM30 128h1v4h-1zM66 128h7v4h-7zM76 128h11v4h-11zM126 128h3v4h-3zM18 132h1v4h-1zM31 132h1v4h-1zM67 132h6v4h-6zM76 132h10v4h-10zM126 132h3v4h-3zM31 136h1v4h-1zM67 136h6v4h-6zM77 136h7v4h-7zM126 136h2v4h-2zM19 140h1v4h-1zM67 140h7v4h-7zM77 140h5v4h-5zM85 140h1v4h-1zM125 140h3v4h-3zM19 144h1v4h-1zM32 144h1v4h-1zM68 144h7v4h-7zM78 144h2v4h-2zM83 144h1v4h-1zM125 144h3v4h-3zM20 148h1v4h-1zM33 148h1v4h-1zM68 148h8v4h-8zM81 148h1v4h-1zM124 148h3v4h-3zM21 152h1v4h-1zM37 152h8v4h-8zM53 152h5v4h-5zM69 152h7v4h-7zM79 152h1v4h-1zM122 152h4v4h-4zM60 156h1v4h-1zM69 156h4v4h-4zM77 156h1v4h-1zM120 156h4v4h-4zM22 160h1v4h-1zM61 160h1v4h-1zM75 160h1v4h-1zM118 160h4v4h-4zM23 164h2v4h-2zM62 164h4v4h-4zM72 164h1v4h-1zM115 164h4v4h-4zM25 168h2v4h-2zM68 168h1v4h-1zM112 168h5v4h-5zM27 172h2v4h-2zM107 172h6v4h-6zM33 176h3v4h-3zM103 176h6v4h-6zM39 180h3v4h-3zM100 180h5v4h-5zM45 184h6v4h-6zM97 184h4v4h-4zM55 188h1v4h-1zM95 188h4v4h-4z"/><path fill="#1fa088" d="M31 0h1v4h-1zM61 0h2v4h-2zM68 0h1v4h-1zM72 0h1v4h-1zM76 0h1v4h-1zM83 0h1v4h-1zM114 0h2v4h-2zM156 0h3v4h-3zM181 0h5v4h-5zM31 4h1v4h-1zM61 4h2v4h-2zM65 4h1v4h-1zM78 4h1v4h-1zM114 4h1v4h-1zM157 4h3v4h-3zM182 4h4v4h-4zM31 8h1v4h-1zM61 8h2v4h-2zM114 8h1v4h-1zM158 8h3v4h-3zM183 8h3v4h-3zM31 12h2v4h-2zM61 12h2v4h-2zM67 12h1v4h-1zM73 12h1v4h-1zM115 12h1v4h-1zM159 12h3v4h-3zM180 12h1v4h-1zM183 12h3v4h-3zM31 16h2v4h-2zM61 16h2v4h-2zM64 16h1v4h-1zM80 16h1v4h-1zM115 16h1v4h-1zM159 16h4v4h-4zM180 16h1v4h-1zM184 16h2v4h-2zM32 20h1v4h-1zM61 20h1v4h-1zM70 20h1v4h-1zM75 20h1v4h-1zM77 20h1v4h-1zM116 20h1v4h-1zM160 20h4v4h-4zM184 20h2v4h-2zM32 24h1v4h-1zM61 24h3v4h-3zM82 24h1v4h-1zM116 24h2v4h-2zM162 24h3v4h-3zM184 24h2v4h-2zM32 28h1v4h-1zM61 28h2v4h-2zM116 28h2v4h-2zM163 28h2v4h-2zM185 28h1v4h-1zM32 32h1v4h-1zM61 32h2v4h-2zM71 32h1v4h-1zM117 32h2v4h-2zM164 32h2v4h-2zM32 36h1v4h-1zM61 36h2v4h-2zM65 36h1v4h-1zM76 36h1v4h-1zM117 36h2v4h-2zM165 36h1v4h-1zM179 36h1v4h-1zM32 40h1v4h-1zM61 40h1v4h-1zM68 40h1v4h-1zM117 40h2v4h-2zM165 40h2v4h-2zM179 40h1v4h-1zM32 44h1v4h-1zM61 44h1v4h-1zM70 44h1v4h-1zM118 44h1v4h-1zM165 44h2v4h-2zM179 44h1v4h-1zM32 48h1v4h-1zM64 48h1v4h-1zM75 48h1v4h-1zM118 48h2v4h-2zM165 48h2v4h-2zM32 52h1v4h-1zM64 52h1v4h-1zM67 52h1v4h-1zM78 52h1v4h-1zM119 52h1v4h-1zM165 52h2v4h-2zM32 56h1v4h-1zM69 56h1v4h-1zM80 56h1v4h-1zM119 56h2v4h-2zM165 56h2v4h-2zM32 60h1v4h-1zM74 60h1v4h-1zM120 60h1v4h-1zM165 60h2v4h-2zM32 64h1v4h-1zM66 64h1v4h-1zM120 64h2v4h-2zM165 64h2v4h-2zM63 68h1v4h-1zM68 68h1v4h-1zM77 68h1v4h-1zM120 68h3v4h-3zM165 68h2v4h-2zM178 68h1v4h-1zM73 72h1v4h-1zM79 72h1v4h-1zM121 72h3v4h-3zM165 72h2v4h-2zM178 72h1v4h-1zM61 76h1v4h-1zM79 76h1v4h-1zM121 76h4v4h-4zM164 76h4v4h-4zM61 80h1v4h-1zM70 80h1v4h-1zM79 80h1v4h-1zM122 80h4v4h-4zM164 80h4v4h-4zM177 80h1v4h-1zM61 84h1v4h-1zM64 84h1v4h-1zM79 84h1v4h-1zM122 84h6v4h-6zM164 84h4v4h-4zM177 84h1v4h-1zM61 88h1v4h-1zM66 88h1v4h-1zM124 88h5v4h-5zM165 88h4v4h-4zM177 88h1v4h-1zM61 92h1v4h-1zM125 92h5v4h-5zM166 92h3v4h-3zM177 92h1v4h-1zM32 96h1v4h-1zM61 96h1v4h-1zM80 96h1v4h-1zM126 96h5v4h-5zM166 96h4v4h-4zM177 96h1v4h-1zM32 100h1v4h-1zM61 100h1v4h-1zM68 100h1v4h-1zM78 100h1v4h-1zM127 100h5v4h-5zM167 100h5v4h-5zM177 100h1v4h-1zM32 104h1v4h-1zM61 104h1v4h-1zM70 104h1v4h-1zM127 104h6v4h-6zM168 104h6v4h-6zM176 104h2v4h-2zM17 108h1v4h-1zM32 108h1v4h-1zM61 108h1v4h-1zM128 108h6v4h-6zM169 108h9v4h-9zM17 112h1v4h-1zM31 112h1v4h-1zM61 112h1v4h-1zM89 112h1v4h-1zM92 112h1v4h-1zM128 112h7v4h-7zM170 112h8v4h-8zM17 116h1v4h-1zM31 116h1v4h-1zM60 116h1v4h-1zM63 116h1v4h-1zM81 116h1v4h-1zM83 116h1v4h-1zM89 116h1v4h-1zM129 116h7v4h-7zM172 116h7v4h-7zM17 120h1v4h-1zM31 120h1v4h-1zM60 120h1v4h-1zM62 120h1v4h-1zM65 120h1v4h-1zM72 120h1v4h-1zM75 120h1v4h-1zM130 120h7v4h-7zM174 120h6v4h-6zM183 120h3v4h-3zM17 124h1v4h-1zM31 124h1v4h-1zM60 124h3v4h-3zM65 124h1v4h-1zM75 124h1v4h-1zM88 124h1v4h-1zM92 124h1v4h-1zM130 124h7v4h-7zM31 128h1v4h-1zM61 128h2v4h-2zM75 128h1v4h-1zM87 128h1v4h-1zM91 128h1v4h-1zM129 128h7v4h-7zM32 132h1v4h-1zM61 132h1v4h-1zM66 132h1v4h-1zM73 132h1v4h-1zM86 132h1v4h-1zM90 132h1v4h-1zM129 132h6v4h-6zM18 136h1v4h-1zM32 136h1v4h-1zM66 136h1v4h-1zM73 136h1v4h-1zM76 136h1v4h-1zM87 136h1v4h-1zM128 136h7v4h-7zM18 140h1v4h-1zM32 140h1v4h-1zM66 140h1v4h-1zM74 140h1v4h-1zM76 140h1v4h-1zM128 140h6v4h-6zM33 144h1v4h-1zM67 144h1v4h-1zM75 144h1v4h-1zM77 144h1v4h-1zM80 144h1v4h-1zM128 144h5v4h-5zM19 148h1v4h-1zM34 148h2v4h-2zM67 148h1v4h-1zM76 148h3v4h-3zM127 148h5v4h-5zM45 152h8v4h-8zM58 152h3v4h-3zM68 152h1v4h-1zM126 152h5v4h-5zM21 156h1v4h-1zM61 156h1v4h-1zM73 156h1v4h-1zM124 156h5v4h-5zM62 160h1v4h-1zM69 160h2v4h-2zM122 160h6v4h-6zM22 164h1v4h-1zM66 164h1v4h-1zM119 164h6v4h-6zM24 168h1v4h-1zM117 168h5v4h-5zM26 172h1v4h-1zM113 172h7v4h-7zM30 176h3v4h-3zM109 176h6v4h-6zM36 180h3v4h-3zM105 180h6v4h-6zM42 184h3v4h-3zM101 184h8v4h-8zM54 188h1v4h-1zM99 188h8v4h-8z"/><path fill="#1f958b" d="M32 0h1v4h-1zM60 0h1v4h-1zM74 0h1v4h-1zM78 0h1v4h-1zM116 0h2v4h-2zM154 0h2v4h-2zM32 4h1v4h-1zM60 4h1v4h-1zM76 4h1v4h-1zM154 4h3v4h-3zM181 4h1v4h-1zM32 8h1v4h-1zM59 8h2v4h-2zM65 8h1v4h-1zM67 8h1v4h-1zM115 8h1v4h-1zM153 8h5v4h-5zM181 8h2v4h-2zM59 12h2v4h-2zM71 12h1v4h-1zM153 12h6v4h-6zM182 12h1v4h-1zM59 16h2v4h-2zM116 16h1v4h-1zM155 16h4v4h-4zM182 16h2v4h-2zM58 20h3v4h-3zM64 20h1v4h-1zM66 20h1v4h-1zM72 20h1v4h-1zM80 20h1v4h-1zM82 20h1v4h-1zM117 20h1v4h-1zM156 20h4v4h-4zM180 20h1v4h-1zM183 20h1v4h-1zM59 24h2v4h-2zM118 24h1v4h-1zM157 24h5v4h-5zM180 24h1v4h-1zM183 24h1v4h-1zM59 28h2v4h-2zM63 28h1v4h-1zM118 28h2v4h-2zM158 28h5v4h-5zM183 28h2v4h-2zM59 32h2v4h-2zM65 32h1v4h-1zM69 32h1v4h-1zM119 32h1v4h-1zM160 32h4v4h-4zM183 32h3v4h-3zM59 36h2v4h-2zM74 36h1v4h-1zM119 36h2v4h-2zM161 36h4v4h-4zM183 36h3v4h-3zM59 40h2v4h-2zM62 40h1v4h-1zM70 40h1v4h-1zM79 40h1v4h-1zM81 40h1v4h-1zM119 40h2v4h-2zM163 40h2v4h-2zM183 40h3v4h-3zM33 44h1v4h-1zM59 44h2v4h-2zM64 44h1v4h-1zM68 44h1v4h-1zM119 44h3v4h-3zM163 44h2v4h-2zM184 44h2v4h-2zM33 48h1v4h-1zM59 48h3v4h-3zM73 48h1v4h-1zM120 48h2v4h-2zM163 48h2v4h-2zM179 48h1v4h-1zM184 48h2v4h-2zM33 52h1v4h-1zM59 52h3v4h-3zM69 52h1v4h-1zM120 52h3v4h-3zM162 52h3v4h-3zM179 52h1v4h-1zM184 52h2v4h-2zM33 56h1v4h-1zM59 56h2v4h-2zM67 56h1v4h-1zM78 56h1v4h-1zM121 56h3v4h-3zM163 56h2v4h-2zM179 56h1v4h-1zM184 56h2v4h-2zM33 60h1v4h-1zM60 60h1v4h-1zM63 60h1v4h-1zM72 60h1v4h-1zM121 60h4v4h-4zM163 60h2v4h-2zM179 60h1v4h-1zM185 60h1v4h-1zM33 64h1v4h-1zM63 64h1v4h-1zM68 64h1v4h-1zM122 64h6v4h-6zM162 64h3v4h-3zM185 64h1v4h-1zM33 68h1v4h-1zM123 68h8v4h-8zM160 68h5v4h-5zM33 72h1v4h-1zM71 72h1v4h-1zM124 72h9v4h-9zM159 72h6v4h-6zM33 76h1v4h-1zM60 76h1v4h-1zM65 76h1v4h-1zM67 76h1v4h-1zM125 76h9v4h-9zM158 76h6v4h-6zM178 76h1v4h-1zM33 80h1v4h-1zM60 80h1v4h-1zM72 80h1v4h-1zM126 80h10v4h-10zM157 80h7v4h-7zM178 80h1v4h-1zM33 84h1v4h-1zM60 84h1v4h-1zM128 84h9v4h-9zM156 84h8v4h-8zM178 84h1v4h-1zM33 88h1v4h-1zM60 88h1v4h-1zM77 88h1v4h-1zM79 88h1v4h-1zM129 88h10v4h-10zM157 88h8v4h-8zM178 88h1v4h-1zM33 92h1v4h-1zM60 92h1v4h-1zM69 92h1v4h-1zM71 92h1v4h-1zM130 92h10v4h-10zM158 92h8v4h-8zM178 92h1v4h-1zM33 96h1v4h-1zM60 96h1v4h-1zM131 96h9v4h-9zM159 96h7v4h-7zM178 96h1v4h-1zM185 96h1v4h-1zM33 100h1v4h-1zM59 100h2v4h-2zM132 100h9v4h-9zM160 100h7v4h-7zM178 100h1v4h-1zM184 100h2v4h-2zM59 104h2v4h-2zM133 104h8v4h-8zM161 104h7v4h-7zM178 104h2v4h-2zM183 104h3v4h-3zM59 108h2v4h-2zM79 108h1v4h-1zM81 108h1v4h-1zM134 108h8v4h-8zM162 108h7v4h-7zM178 108h2v4h-2zM182 108h4v4h-4zM32 112h1v4h-1zM59 112h2v4h-2zM67 112h1v4h-1zM69 112h1v4h-1zM80 112h1v4h-1zM82 112h1v4h-1zM90 112h1v4h-1zM135 112h7v4h-7zM163 112h7v4h-7zM178 112h3v4h-3zM182 112h4v4h-4zM32 116h1v4h-1zM59 116h1v4h-1zM67 116h2v4h-2zM92 116h1v4h-1zM136 116h6v4h-6zM164 116h8v4h-8zM179 116h7v4h-7zM32 120h1v4h-1zM59 120h1v4h-1zM73 120h2v4h-2zM89 120h1v4h-1zM92 120h1v4h-1zM137 120h5v4h-5zM165 120h9v4h-9zM180 120h3v4h-3zM32 124h1v4h-1zM59 124h1v4h-1zM73 124h1v4h-1zM137 124h5v4h-5zM168 124h18v4h-18zM17 128h1v4h-1zM32 128h1v4h-1zM59 128h2v4h-2zM65 128h1v4h-1zM73 128h1v4h-1zM136 128h6v4h-6zM172 128h14v4h-14zM59 132h2v4h-2zM62 132h1v4h-1zM75 132h1v4h-1zM135 132h6v4h-6zM60 136h3v4h-3zM74 136h2v4h-2zM84 136h1v4h-1zM135 136h5v4h-5zM60 140h3v4h-3zM75 140h1v4h-1zM82 140h1v4h-1zM134 140h6v4h-6zM18 144h1v4h-1zM76 144h1v4h-1zM133 144h6v4h-6zM36 148h3v4h-3zM57 148h4v4h-4zM132 148h7v4h-7zM20 152h1v4h-1zM61 152h2v4h-2zM76 152h1v4h-1zM131 152h6v4h-6zM62 156h3v4h-3zM68 156h1v4h-1zM74 156h1v4h-1zM129 156h7v4h-7zM21 160h1v4h-1zM63 160h3v4h-3zM71 160h1v4h-1zM128 160h6v4h-6zM125 164h7v4h-7zM22 168h2v4h-2zM122 168h8v4h-8zM24 172h2v4h-2zM120 172h6v4h-6zM28 176h2v4h-2zM115 176h10v4h-10zM34 180h2v4h-2zM111 180h9v4h-9zM41 184h1v4h-1zM109 184h5v4h-5zM52 188h2v4h-2zM107 188h3v4h-3z"/><path fill="#228b8d" d="M33 0h1v4h-1zM66 0h1v4h-1zM81 0h1v4h-1zM118 0h4v4h-4zM133 0h7v4h-7zM144 0h6v4h-6zM33 4h1v4h-1zM59 4h1v4h-1zM67 4h1v4h-1zM72 4h1v4h-1zM115 4h1v4h-1zM118 4h4v4h-4zM134 4h4v4h-4zM143 4h6v4h-6zM153 4h1v4h-1zM33 8h1v4h-1zM73 8h1v4h-1zM76 8h1v4h-1zM119 8h4v4h-4zM135 8h2v4h-2zM142 8h7v4h-7zM152 8h1v4h-1zM33 12h1v4h-1zM58 12h1v4h-1zM65 12h1v4h-1zM116 12h1v4h-1zM121 12h3v4h-3zM141 12h7v4h-7zM152 12h1v4h-1zM181 12h1v4h-1zM33 16h1v4h-1zM58 16h1v4h-1zM66 16h1v4h-1zM77 16h1v4h-1zM82 16h1v4h-1zM122 16h2v4h-2zM140 16h7v4h-7zM151 16h4v4h-4zM181 16h1v4h-1zM33 20h1v4h-1zM57 20h1v4h-1zM123 20h2v4h-2zM139 20h7v4h-7zM151 20h5v4h-5zM182 20h1v4h-1zM33 24h1v4h-1zM57 24h2v4h-2zM70 24h1v4h-1zM75 24h1v4h-1zM80 24h1v4h-1zM134 24h10v4h-10zM150 24h7v4h-7zM182 24h1v4h-1zM33 28h1v4h-1zM57 28h2v4h-2zM65 28h1v4h-1zM71 28h1v4h-1zM134 28h9v4h-9zM150 28h8v4h-8zM180 28h1v4h-1zM182 28h1v4h-1zM33 32h1v4h-1zM57 32h2v4h-2zM63 32h1v4h-1zM76 32h1v4h-1zM120 32h2v4h-2zM136 32h5v4h-5zM155 32h5v4h-5zM180 32h1v4h-1zM182 32h1v4h-1zM33 36h1v4h-1zM57 36h2v4h-2zM69 36h1v4h-1zM121 36h2v4h-2zM155 36h6v4h-6zM33 40h1v4h-1zM57 40h2v4h-2zM64 40h1v4h-1zM74 40h1v4h-1zM121 40h3v4h-3zM156 40h7v4h-7zM16 44h1v4h-1zM57 44h2v4h-2zM62 44h1v4h-1zM75 44h1v4h-1zM79 44h1v4h-1zM122 44h3v4h-3zM157 44h6v4h-6zM183 44h1v4h-1zM58 48h1v4h-1zM62 48h1v4h-1zM122 48h5v4h-5zM153 48h10v4h-10zM183 48h1v4h-1zM58 52h1v4h-1zM73 52h1v4h-1zM80 52h1v4h-1zM123 52h6v4h-6zM139 52h23v4h-23zM183 52h1v4h-1zM58 56h1v4h-1zM61 56h1v4h-1zM63 56h1v4h-1zM74 56h1v4h-1zM124 56h6v4h-6zM137 56h26v4h-26zM183 56h1v4h-1zM59 60h1v4h-1zM61 60h1v4h-1zM125 60h7v4h-7zM136 60h22v4h-22zM162 60h1v4h-1zM183 60h2v4h-2zM59 64h2v4h-2zM72 64h1v4h-1zM128 64h28v4h-28zM161 64h1v4h-1zM179 64h1v4h-1zM183 64h2v4h-2zM60 68h1v4h-1zM66 68h1v4h-1zM73 68h1v4h-1zM79 68h1v4h-1zM131 68h22v4h-22zM159 68h1v4h-1zM179 68h1v4h-1zM183 68h3v4h-3zM56 72h2v4h-2zM60 72h1v4h-1zM62 72h1v4h-1zM77 72h1v4h-1zM133 72h19v4h-19zM158 72h1v4h-1zM179 72h1v4h-1zM183 72h3v4h-3zM56 76h4v4h-4zM77 76h1v4h-1zM134 76h19v4h-19zM157 76h1v4h-1zM179 76h1v4h-1zM183 76h3v4h-3zM56 80h4v4h-4zM65 80h1v4h-1zM77 80h1v4h-1zM136 80h21v4h-21zM184 80h2v4h-2zM56 84h4v4h-4zM66 84h1v4h-1zM70 84h1v4h-1zM77 84h1v4h-1zM137 84h19v4h-19zM183 84h3v4h-3zM56 88h4v4h-4zM64 88h1v4h-1zM71 88h1v4h-1zM139 88h18v4h-18zM179 88h1v4h-1zM183 88h3v4h-3zM56 92h4v4h-4zM64 92h2v4h-2zM140 92h18v4h-18zM179 92h1v4h-1zM183 92h3v4h-3zM57 96h3v4h-3zM78 96h1v4h-1zM140 96h19v4h-19zM179 96h1v4h-1zM182 96h3v4h-3zM57 100h2v4h-2zM70 100h1v4h-1zM80 100h1v4h-1zM141 100h19v4h-19zM179 100h1v4h-1zM182 100h2v4h-2zM33 104h1v4h-1zM57 104h2v4h-2zM68 104h1v4h-1zM141 104h20v4h-20zM180 104h3v4h-3zM33 108h1v4h-1zM57 108h2v4h-2zM142 108h20v4h-20zM180 108h2v4h-2zM33 112h1v4h-1zM57 112h2v4h-2zM142 112h21v4h-21zM181 112h1v4h-1zM33 116h1v4h-1zM57 116h2v4h-2zM82 116h1v4h-1zM142 116h22v4h-22zM57 120h2v4h-2zM142 120h12v4h-12zM157 120h8v4h-8zM57 124h2v4h-2zM74 124h1v4h-1zM142 124h10v4h-10zM158 124h10v4h-10zM33 128h1v4h-1zM57 128h2v4h-2zM74 128h1v4h-1zM88 128h1v4h-1zM142 128h8v4h-8zM160 128h12v4h-12zM17 132h1v4h-1zM33 132h1v4h-1zM57 132h2v4h-2zM63 132h1v4h-1zM65 132h1v4h-1zM74 132h1v4h-1zM89 132h1v4h-1zM141 132h7v4h-7zM164 132h22v4h-22zM57 136h3v4h-3zM63 136h1v4h-1zM140 136h7v4h-7zM172 136h13v4h-13zM56 140h4v4h-4zM63 140h1v4h-1zM140 140h6v4h-6zM34 144h1v4h-1zM38 144h1v4h-1zM56 144h8v4h-8zM66 144h1v4h-1zM82 144h1v4h-1zM139 144h6v4h-6zM18 148h1v4h-1zM39 148h18v4h-18zM61 148h4v4h-4zM79 148h2v4h-2zM139 148h6v4h-6zM63 152h2v4h-2zM78 152h1v4h-1zM137 152h7v4h-7zM20 156h1v4h-1zM65 156h1v4h-1zM136 156h7v4h-7zM72 160h1v4h-1zM134 160h8v4h-8zM21 164h1v4h-1zM71 164h1v4h-1zM132 164h9v4h-9zM130 168h9v4h-9zM23 172h1v4h-1zM126 172h11v4h-11zM26 176h2v4h-2zM125 176h7v4h-7zM33 180h1v4h-1zM120 180h3v4h-3zM40 184h1v4h-1zM114 184h2v4h-2zM51 188h1v4h-1zM110 188h1v4h-1z"/><path fill="#26818e" d="M34 0h1v4h-1zM55 0h3v4h-3zM59 0h1v4h-1zM67 0h1v4h-1zM122 0h6v4h-6zM132 0h1v4h-1zM143 0h1v4h-1zM153 0h1v4h-1zM34 4h1v4h-1zM55 4h2v4h-2zM66 4h1v4h-1zM73 4h1v4h-1zM81 4h1v4h-1zM122 4h7v4h-7zM133 4h1v4h-1zM138 4h1v4h-1zM142 4h1v4h-1zM149 4h1v4h-1zM34 8h1v4h-1zM55 8h1v4h-1zM58 8h1v4h-1zM72 8h1v4h-1zM77 8h1v4h-1zM123 8h7v4h-7zM134 8h1v4h-1zM137 8h1v4h-1zM141 8h1v4h-1zM34 12h1v4h-1zM66 12h1v4h-1zM76 12h2v4h-2zM120 12h1v4h-1zM124 12h8v4h-8zM140 12h1v4h-1zM151 12h1v4h-1zM34 16h1v4h-1zM57 16h1v4h-1zM65 16h1v4h-1zM71 16h2v4h-2zM117 16h1v4h-1zM121 16h1v4h-1zM124 16h9v4h-9zM139 16h1v4h-1zM147 16h1v4h-1zM16 20h1v4h-1zM34 20h1v4h-1zM118 20h1v4h-1zM122 20h1v4h-1zM125 20h9v4h-9zM138 20h1v4h-1zM146 20h1v4h-1zM150 20h1v4h-1zM181 20h1v4h-1zM16 24h1v4h-1zM34 24h1v4h-1zM56 24h1v4h-1zM64 24h2v4h-2zM71 24h1v4h-1zM119 24h1v4h-1zM123 24h11v4h-11zM144 24h1v4h-1zM181 24h1v4h-1zM16 28h1v4h-1zM34 28h1v4h-1zM56 28h1v4h-1zM70 28h1v4h-1zM75 28h2v4h-2zM80 28h1v4h-1zM120 28h1v4h-1zM125 28h9v4h-9zM143 28h1v4h-1zM149 28h1v4h-1zM16 32h1v4h-1zM34 32h1v4h-1zM56 32h1v4h-1zM75 32h1v4h-1zM126 32h10v4h-10zM141 32h1v4h-1zM154 32h1v4h-1zM16 36h1v4h-1zM34 36h1v4h-1zM56 36h1v4h-1zM63 36h2v4h-2zM70 36h1v4h-1zM81 36h1v4h-1zM128 36h12v4h-12zM145 36h4v4h-4zM154 36h1v4h-1zM180 36h1v4h-1zM182 36h1v4h-1zM16 40h1v4h-1zM34 40h1v4h-1zM56 40h1v4h-1zM63 40h1v4h-1zM69 40h1v4h-1zM75 40h1v4h-1zM124 40h1v4h-1zM129 40h9v4h-9zM143 40h8v4h-8zM152 40h4v4h-4zM180 40h1v4h-1zM182 40h1v4h-1zM34 44h1v4h-1zM74 44h1v4h-1zM125 44h1v4h-1zM131 44h5v4h-5zM140 44h17v4h-17zM180 44h1v4h-1zM182 44h1v4h-1zM16 48h1v4h-1zM34 48h1v4h-1zM57 48h1v4h-1zM68 48h2v4h-2zM127 48h1v4h-1zM132 48h3v4h-3zM139 48h14v4h-14zM180 48h1v4h-1zM182 48h1v4h-1zM16 52h1v4h-1zM34 52h1v4h-1zM54 52h2v4h-2zM62 52h2v4h-2zM74 52h1v4h-1zM138 52h1v4h-1zM182 52h1v4h-1zM16 56h1v4h-1zM34 56h1v4h-1zM54 56h2v4h-2zM130 56h1v4h-1zM182 56h1v4h-1zM16 60h1v4h-1zM34 60h1v4h-1zM55 60h2v4h-2zM58 60h1v4h-1zM67 60h2v4h-2zM78 60h1v4h-1zM132 60h1v4h-1zM158 60h1v4h-1zM182 60h1v4h-1zM16 64h1v4h-1zM34 64h1v4h-1zM55 64h2v4h-2zM61 64h1v4h-1zM73 64h1v4h-1zM156 64h1v4h-1zM160 64h1v4h-1zM182 64h1v4h-1zM16 68h1v4h-1zM34 68h1v4h-1zM54 68h4v4h-4zM59 68h1v4h-1zM62 68h1v4h-1zM153 68h1v4h-1zM182 68h1v4h-1zM16 72h1v4h-1zM34 72h1v4h-1zM54 72h2v4h-2zM58 72h2v4h-2zM61 72h1v4h-1zM66 72h2v4h-2zM152 72h1v4h-1zM182 72h1v4h-1zM16 76h1v4h-1zM53 76h3v4h-3zM71 76h2v4h-2zM153 76h1v4h-1zM156 76h1v4h-1zM49 80h1v4h-1zM55 80h1v4h-1zM66 80h1v4h-1zM179 80h1v4h-1zM183 80h1v4h-1zM48 84h2v4h-2zM55 84h1v4h-1zM179 84h1v4h-1zM182 84h1v4h-1zM47 88h2v4h-2zM54 88h2v4h-2zM70 88h1v4h-1zM182 88h1v4h-1zM46 92h2v4h-2zM53 92h3v4h-3zM182 92h1v4h-1zM45 96h2v4h-2zM54 96h3v4h-3zM69 96h2v4h-2zM180 96h2v4h-2zM44 100h2v4h-2zM54 100h3v4h-3zM180 100h2v4h-2zM44 104h1v4h-1zM54 104h3v4h-3zM43 108h4v4h-4zM54 108h3v4h-3zM68 108h2v4h-2zM43 112h3v4h-3zM54 112h3v4h-3zM91 112h1v4h-1zM42 116h1v4h-1zM55 116h2v4h-2zM90 116h1v4h-1zM33 120h1v4h-1zM55 120h2v4h-2zM63 120h2v4h-2zM154 120h3v4h-3zM33 124h1v4h-1zM55 124h2v4h-2zM63 124h2v4h-2zM89 124h1v4h-1zM91 124h1v4h-1zM152 124h6v4h-6zM40 128h3v4h-3zM54 128h3v4h-3zM63 128h1v4h-1zM150 128h10v4h-10zM39 132h5v4h-5zM52 132h5v4h-5zM87 132h1v4h-1zM148 132h16v4h-16zM17 136h1v4h-1zM39 136h7v4h-7zM48 136h9v4h-9zM65 136h1v4h-1zM85 136h2v4h-2zM147 136h25v4h-25zM185 136h1v4h-1zM17 140h1v4h-1zM33 140h1v4h-1zM38 140h18v4h-18zM83 140h2v4h-2zM146 140h40v4h-40zM37 144h1v4h-1zM39 144h17v4h-17zM81 144h1v4h-1zM145 144h20v4h-20zM168 144h11v4h-11zM145 148h14v4h-14zM19 152h1v4h-1zM65 152h1v4h-1zM67 152h1v4h-1zM77 152h1v4h-1zM144 152h12v4h-12zM75 156h2v4h-2zM143 156h11v4h-11zM66 160h1v4h-1zM73 160h2v4h-2zM142 160h10v4h-10zM141 164h10v4h-10zM21 168h1v4h-1zM139 168h12v4h-12zM22 172h1v4h-1zM137 172h10v4h-10zM25 176h1v4h-1zM132 176h3v4h-3zM32 180h1v4h-1zM123 180h2v4h-2zM39 184h1v4h-1zM116 184h1v4h-1zM50 188h1v4h-1zM111 188h1v4h-1z"/><path fill="#2a768e" d="M35 0h1v4h-1zM54 0h1v4h-1zM58 0h1v4h-1zM73 0h1v4h-1zM77 0h1v4h-1zM131 0h1v4h-1zM140 0h1v4h-1zM150 0h1v4h-1zM16 4h1v4h-1zM35 4h1v4h-1zM38 4h1v4h-1zM54 4h1v4h-1zM57 4h2v4h-2zM77 4h1v4h-1zM116 4h2v4h-2zM129 4h1v4h-1zM132 4h1v4h-1zM152 4h1v4h-1zM16 8h1v4h-1zM35 8h1v4h-1zM38 8h2v4h-2zM54 8h1v4h-1zM56 8h1v4h-1zM66 8h1v4h-1zM81 8h1v4h-1zM116 8h1v4h-1zM118 8h1v4h-1zM130 8h1v4h-1zM16 12h1v4h-1zM35 12h1v4h-1zM38 12h2v4h-2zM54 12h2v4h-2zM57 12h1v4h-1zM72 12h1v4h-1zM82 12h1v4h-1zM119 12h1v4h-1zM135 12h2v4h-2zM148 12h1v4h-1zM16 16h1v4h-1zM35 16h1v4h-1zM38 16h2v4h-2zM54 16h1v4h-1zM76 16h1v4h-1zM120 16h1v4h-1zM150 16h1v4h-1zM35 20h1v4h-1zM38 20h2v4h-2zM56 20h1v4h-1zM65 20h1v4h-1zM71 20h1v4h-1zM76 20h1v4h-1zM121 20h1v4h-1zM134 20h1v4h-1zM35 24h1v4h-1zM38 24h2v4h-2zM76 24h1v4h-1zM145 24h1v4h-1zM149 24h1v4h-1zM35 28h1v4h-1zM38 28h1v4h-1zM55 28h1v4h-1zM64 28h1v4h-1zM124 28h1v4h-1zM181 28h1v4h-1zM35 32h1v4h-1zM38 32h1v4h-1zM55 32h1v4h-1zM64 32h1v4h-1zM70 32h1v4h-1zM80 32h1v4h-1zM122 32h1v4h-1zM142 32h1v4h-1zM148 32h2v4h-2zM153 32h1v4h-1zM181 32h1v4h-1zM35 36h1v4h-1zM38 36h1v4h-1zM75 36h1v4h-1zM123 36h1v4h-1zM127 36h1v4h-1zM35 40h1v4h-1zM38 40h1v4h-1zM54 40h1v4h-1zM142 40h1v4h-1zM151 40h1v4h-1zM35 44h1v4h-1zM53 44h4v4h-4zM63 44h1v4h-1zM69 44h1v4h-1zM126 44h1v4h-1zM130 44h1v4h-1zM136 44h1v4h-1zM53 48h4v4h-4zM63 48h1v4h-1zM74 48h1v4h-1zM79 48h2v4h-2zM131 48h1v4h-1zM135 48h1v4h-1zM138 48h1v4h-1zM41 52h1v4h-1zM53 52h1v4h-1zM56 52h2v4h-2zM68 52h1v4h-1zM129 52h1v4h-1zM133 52h1v4h-1zM137 52h1v4h-1zM180 52h1v4h-1zM41 56h1v4h-1zM53 56h1v4h-1zM56 56h2v4h-2zM62 56h1v4h-1zM68 56h1v4h-1zM73 56h1v4h-1zM136 56h1v4h-1zM180 56h1v4h-1zM54 60h1v4h-1zM57 60h1v4h-1zM62 60h1v4h-1zM73 60h1v4h-1zM135 60h1v4h-1zM161 60h1v4h-1zM180 60h1v4h-1zM40 64h1v4h-1zM43 64h1v4h-1zM54 64h1v4h-1zM57 64h2v4h-2zM62 64h1v4h-1zM67 64h1v4h-1zM79 64h1v4h-1zM180 64h1v4h-1zM40 68h1v4h-1zM43 68h1v4h-1zM53 68h1v4h-1zM58 68h1v4h-1zM61 68h1v4h-1zM67 68h1v4h-1zM72 68h1v4h-1zM154 68h1v4h-1zM180 68h1v4h-1zM40 72h1v4h-1zM50 72h4v4h-4zM72 72h1v4h-1zM180 72h1v4h-1zM34 76h1v4h-1zM42 76h1v4h-1zM49 76h4v4h-4zM66 76h1v4h-1zM154 76h2v4h-2zM182 76h1v4h-1zM16 80h1v4h-1zM34 80h1v4h-1zM48 80h1v4h-1zM50 80h5v4h-5zM71 80h1v4h-1zM182 80h1v4h-1zM16 84h1v4h-1zM34 84h1v4h-1zM47 84h1v4h-1zM50 84h2v4h-2zM54 84h1v4h-1zM65 84h1v4h-1zM71 84h1v4h-1zM16 88h1v4h-1zM34 88h1v4h-1zM49 88h1v4h-1zM53 88h1v4h-1zM65 88h1v4h-1zM180 88h2v4h-2zM16 92h1v4h-1zM34 92h1v4h-1zM48 92h1v4h-1zM52 92h1v4h-1zM70 92h1v4h-1zM79 92h1v4h-1zM180 92h2v4h-2zM16 96h1v4h-1zM34 96h1v4h-1zM44 96h1v4h-1zM47 96h1v4h-1zM52 96h2v4h-2zM16 100h1v4h-1zM43 100h1v4h-1zM53 100h1v4h-1zM69 100h1v4h-1zM16 104h1v4h-1zM43 104h1v4h-1zM45 104h1v4h-1zM53 104h1v4h-1zM69 104h1v4h-1zM79 104h1v4h-1zM16 108h1v4h-1zM42 108h1v4h-1zM47 108h7v4h-7zM16 112h1v4h-1zM41 112h2v4h-2zM46 112h8v4h-8zM68 112h1v4h-1zM41 116h1v4h-1zM43 116h5v4h-5zM53 116h2v4h-2zM91 116h1v4h-1zM40 120h8v4h-8zM54 120h1v4h-1zM90 120h1v4h-1zM40 124h15v4h-15zM39 128h1v4h-1zM43 128h11v4h-11zM64 128h1v4h-1zM90 128h1v4h-1zM38 132h1v4h-1zM44 132h8v4h-8zM88 132h1v4h-1zM33 136h1v4h-1zM38 136h1v4h-1zM46 136h2v4h-2zM65 140h1v4h-1zM35 144h2v4h-2zM64 144h1v4h-1zM165 144h3v4h-3zM179 144h7v4h-7zM66 148h1v4h-1zM159 148h27v4h-27zM156 152h30v4h-30zM154 156h26v4h-26zM20 160h1v4h-1zM68 160h1v4h-1zM152 160h21v4h-21zM67 164h1v4h-1zM70 164h1v4h-1zM151 164h22v4h-22zM151 168h23v4h-23zM147 172h9v4h-9zM135 176h4v4h-4zM31 180h1v4h-1zM125 180h2v4h-2zM38 184h1v4h-1zM117 184h2v4h-2zM49 188h1v4h-1zM112 188h1v4h-1z"/><path fill="#34608d" d="M36 0h2v4h-2zM41 0h2v4h-2zM46 0h1v4h-1zM49 0h5v4h-5zM82 0h1v4h-1zM129 0h1v4h-1zM142 0h1v4h-1zM36 4h2v4h-2zM40 4h3v4h-3zM46 4h1v4h-1zM48 4h4v4h-4zM130 4h1v4h-1zM141 4h1v4h-1zM150 4h1v4h-1zM36 8h1v4h-1zM41 8h2v4h-2zM46 8h1v4h-1zM131 8h1v4h-1zM138 8h1v4h-1zM140 8h1v4h-1zM36 12h1v4h-1zM42 12h1v4h-1zM45 12h1v4h-1zM118 12h1v4h-1zM132 12h1v4h-1zM139 12h1v4h-1zM149 12h2v4h-2zM36 16h1v4h-1zM42 16h1v4h-1zM45 16h1v4h-1zM52 16h1v4h-1zM118 16h2v4h-2zM138 16h1v4h-1zM148 16h2v4h-2zM36 20h1v4h-1zM41 20h2v4h-2zM45 20h5v4h-5zM51 20h3v4h-3zM81 20h1v4h-1zM119 20h1v4h-1zM137 20h1v4h-1zM147 20h1v4h-1zM36 24h1v4h-1zM41 24h2v4h-2zM45 24h4v4h-4zM51 24h1v4h-1zM53 24h2v4h-2zM81 24h1v4h-1zM120 24h1v4h-1zM36 28h1v4h-1zM40 28h2v4h-2zM43 28h5v4h-5zM52 28h3v4h-3zM123 28h1v4h-1zM148 28h1v4h-1zM36 32h1v4h-1zM40 32h2v4h-2zM43 32h5v4h-5zM54 32h1v4h-1zM143 32h1v4h-1zM151 32h1v4h-1zM36 36h1v4h-1zM40 36h1v4h-1zM43 36h1v4h-1zM45 36h1v4h-1zM47 36h1v4h-1zM53 36h1v4h-1zM124 36h1v4h-1zM126 36h1v4h-1zM36 40h1v4h-1zM40 40h1v4h-1zM43 40h1v4h-1zM45 40h1v4h-1zM47 40h1v4h-1zM49 40h4v4h-4zM80 40h1v4h-1zM139 40h1v4h-1zM141 40h1v4h-1zM36 44h1v4h-1zM40 44h1v4h-1zM43 44h4v4h-4zM48 44h3v4h-3zM52 44h1v4h-1zM127 44h1v4h-1zM129 44h1v4h-1zM137 44h1v4h-1zM36 48h1v4h-1zM39 48h2v4h-2zM43 48h9v4h-9zM36 52h1v4h-1zM39 52h1v4h-1zM43 52h1v4h-1zM45 52h1v4h-1zM47 52h1v4h-1zM49 52h2v4h-2zM130 52h1v4h-1zM132 52h1v4h-1zM36 56h1v4h-1zM39 56h1v4h-1zM45 56h1v4h-1zM47 56h4v4h-4zM79 56h1v4h-1zM36 60h1v4h-1zM39 60h1v4h-1zM42 60h1v4h-1zM45 60h4v4h-4zM160 60h1v4h-1zM36 64h1v4h-1zM39 64h1v4h-1zM45 64h3v4h-3zM53 64h1v4h-1zM159 64h1v4h-1zM36 68h2v4h-2zM48 68h1v4h-1zM78 68h1v4h-1zM155 68h1v4h-1zM38 72h1v4h-1zM46 72h1v4h-1zM78 72h1v4h-1zM153 72h1v4h-1zM38 76h1v4h-1zM78 76h1v4h-1zM38 80h1v4h-1zM45 80h1v4h-1zM47 80h1v4h-1zM78 80h1v4h-1zM38 84h1v4h-1zM44 84h1v4h-1zM53 84h1v4h-1zM78 84h1v4h-1zM38 88h1v4h-1zM43 88h1v4h-1zM51 88h2v4h-2zM78 88h1v4h-1zM38 92h2v4h-2zM41 92h1v4h-1zM43 92h2v4h-2zM51 92h1v4h-1zM38 96h2v4h-2zM41 96h2v4h-2zM48 96h1v4h-1zM50 96h1v4h-1zM79 96h1v4h-1zM38 100h5v4h-5zM52 100h1v4h-1zM38 104h4v4h-4zM47 104h1v4h-1zM52 104h1v4h-1zM39 108h2v4h-2zM80 108h1v4h-1zM40 112h1v4h-1zM34 116h1v4h-1zM39 116h1v4h-1zM52 116h1v4h-1zM34 120h1v4h-1zM39 120h1v4h-1zM52 120h1v4h-1zM34 124h1v4h-1zM90 124h1v4h-1zM16 128h1v4h-1zM34 128h1v4h-1zM89 128h1v4h-1zM37 140h1v4h-1zM17 148h1v4h-1zM66 152h1v4h-1zM67 160h1v4h-1zM20 168h1v4h-1zM162 172h6v4h-6zM23 176h1v4h-1zM142 176h4v4h-4zM29 180h1v4h-1zM129 180h1v4h-1zM37 184h1v4h-1zM120 184h1v4h-1zM47 188h1v4h-1zM114 188h1v4h-1z"/><path fill="#3a548c" d="M47 0h2v4h-2zM141 0h1v4h-1zM151 0h2v4h-2zM47 4h1v4h-1zM52 4h1v4h-1zM131 4h1v4h-1zM140 4h1v4h-1zM151 4h1v4h-1zM47 8h6v4h-6zM150 8h1v4h-1zM41 12h1v4h-1zM46 12h1v4h-1zM52 12h1v4h-1zM134 12h1v4h-1zM137 12h1v4h-1zM41 16h1v4h-1zM46 16h2v4h-2zM51 16h1v4h-1zM50 20h1v4h-1zM120 20h1v4h-1zM148 20h1v4h-1zM49 24h2v4h-2zM121 24h1v4h-1zM146 24h1v4h-1zM148 24h1v4h-1zM48 28h1v4h-1zM51 28h1v4h-1zM122 28h1v4h-1zM52 32h2v4h-2zM123 32h2v4h-2zM146 32h1v4h-1zM44 36h1v4h-1zM48 36h5v4h-5zM125 36h1v4h-1zM141 36h1v4h-1zM143 36h1v4h-1zM150 36h1v4h-1zM44 40h1v4h-1zM48 40h1v4h-1zM126 40h2v4h-2zM140 40h1v4h-1zM47 44h1v4h-1zM51 44h1v4h-1zM128 44h1v4h-1zM138 44h1v4h-1zM129 48h2v4h-2zM136 48h2v4h-2zM46 52h1v4h-1zM131 52h1v4h-1zM135 52h2v4h-2zM46 56h1v4h-1zM132 56h1v4h-1zM135 56h1v4h-1zM49 60h2v4h-2zM52 60h1v4h-1zM48 64h2v4h-2zM158 64h1v4h-1zM47 68h1v4h-1zM35 72h1v4h-1zM37 72h1v4h-1zM47 72h2v4h-2zM46 76h2v4h-2zM46 80h1v4h-1zM46 84h1v4h-1zM50 92h1v4h-1zM47 100h1v4h-1zM49 104h1v4h-1zM51 104h1v4h-1zM38 108h1v4h-1zM38 112h2v4h-2zM38 116h1v4h-1zM49 116h1v4h-1zM38 120h1v4h-1zM49 120h1v4h-1zM38 124h1v4h-1zM16 132h1v4h-1zM34 132h1v4h-1zM37 132h1v4h-1zM37 136h1v4h-1zM19 160h1v4h-1zM68 164h1v4h-1zM168 172h7v4h-7zM146 176h3v4h-3zM130 180h3v4h-3zM36 184h1v4h-1zM121 184h2v4h-2zM46 188h1v4h-1zM115 188h1v4h-1z"/><path fill="#8bd646" d="M84 0h1v4h-1zM89 0h1v4h-1zM95 0h1v4h-1zM104 0h2v4h-2zM170 0h4v4h-4zM176 0h2v4h-2zM84 4h1v4h-1zM89 4h1v4h-1zM95 4h1v4h-1zM103 4h3v4h-3zM170 4h4v4h-4zM176 4h2v4h-2zM84 8h1v4h-1zM95 8h1v4h-1zM103 8h3v4h-3zM170 8h4v4h-4zM177 8h1v4h-1zM20 12h2v4h-2zM95 12h1v4h-1zM103 12h3v4h-3zM171 12h2v4h-2zM177 12h1v4h-1zM20 16h2v4h-2zM94 16h1v4h-1zM103 16h3v4h-3zM171 16h2v4h-2zM177 16h1v4h-1zM20 20h2v4h-2zM94 20h1v4h-1zM102 20h3v4h-3zM171 20h2v4h-2zM177 20h1v4h-1zM20 24h2v4h-2zM90 24h1v4h-1zM92 24h3v4h-3zM102 24h3v4h-3zM171 24h2v4h-2zM177 24h1v4h-1zM20 28h3v4h-3zM83 28h1v4h-1zM90 28h4v4h-4zM101 28h4v4h-4zM171 28h2v4h-2zM177 28h1v4h-1zM19 32h4v4h-4zM83 32h1v4h-1zM101 32h4v4h-4zM171 32h2v4h-2zM177 32h1v4h-1zM19 36h4v4h-4zM83 36h1v4h-1zM101 36h3v4h-3zM171 36h1v4h-1zM177 36h1v4h-1zM19 40h4v4h-4zM100 40h4v4h-4zM171 40h1v4h-1zM177 40h1v4h-1zM19 44h4v4h-4zM100 44h4v4h-4zM171 44h2v4h-2zM19 48h4v4h-4zM100 48h5v4h-5zM172 48h5v4h-5zM20 52h4v4h-4zM82 52h1v4h-1zM101 52h5v4h-5zM173 52h4v4h-4zM20 56h4v4h-4zM82 56h1v4h-1zM94 56h2v4h-2zM102 56h5v4h-5zM20 60h5v4h-5zM82 60h1v4h-1zM92 60h7v4h-7zM102 60h7v4h-7zM20 64h6v4h-6zM81 64h2v4h-2zM92 64h7v4h-7zM104 64h7v4h-7zM20 68h1v4h-1zM23 68h3v4h-3zM81 68h2v4h-2zM92 68h1v4h-1zM96 68h4v4h-4zM105 68h7v4h-7zM20 72h1v4h-1zM24 72h3v4h-3zM81 72h1v4h-1zM91 72h1v4h-1zM97 72h3v4h-3zM108 72h4v4h-4zM20 76h1v4h-1zM25 76h2v4h-2zM81 76h1v4h-1zM91 76h1v4h-1zM98 76h2v4h-2zM111 76h2v4h-2zM20 80h1v4h-1zM25 80h2v4h-2zM81 80h1v4h-1zM91 80h1v4h-1zM98 80h2v4h-2zM112 80h2v4h-2zM20 84h1v4h-1zM26 84h1v4h-1zM81 84h1v4h-1zM90 84h1v4h-1zM98 84h2v4h-2zM112 84h2v4h-2zM20 88h1v4h-1zM25 88h2v4h-2zM81 88h1v4h-1zM89 88h2v4h-2zM98 88h2v4h-2zM112 88h2v4h-2zM20 92h2v4h-2zM25 92h2v4h-2zM81 92h2v4h-2zM87 92h2v4h-2zM98 92h2v4h-2zM113 92h2v4h-2zM21 96h1v4h-1zM25 96h1v4h-1zM82 96h6v4h-6zM98 96h2v4h-2zM113 96h2v4h-2zM21 100h1v4h-1zM24 100h2v4h-2zM82 100h5v4h-5zM98 100h2v4h-2zM113 100h3v4h-3zM21 104h1v4h-1zM24 104h2v4h-2zM83 104h3v4h-3zM98 104h2v4h-2zM114 104h3v4h-3zM21 108h1v4h-1zM24 108h2v4h-2zM99 108h2v4h-2zM114 108h4v4h-4zM21 112h1v4h-1zM24 112h1v4h-1zM99 112h2v4h-2zM115 112h4v4h-4zM21 116h1v4h-1zM24 116h1v4h-1zM99 116h2v4h-2zM117 116h3v4h-3zM21 120h1v4h-1zM24 120h1v4h-1zM99 120h2v4h-2zM119 120h2v4h-2zM21 124h4v4h-4zM99 124h2v4h-2zM118 124h3v4h-3zM22 128h2v4h-2zM98 128h3v4h-3zM115 128h5v4h-5zM97 132h3v4h-3zM113 132h5v4h-5zM96 136h3v4h-3zM112 136h4v4h-4zM94 140h4v4h-4zM110 140h4v4h-4zM86 144h1v4h-1zM91 144h5v4h-5zM107 144h6v4h-6zM84 148h7v4h-7zM105 148h6v4h-6zM82 152h8v4h-8zM102 152h6v4h-6zM80 156h8v4h-8zM95 156h10v4h-10zM32 160h23v4h-23zM79 160h6v4h-6zM90 160h11v4h-11zM35 164h21v4h-21zM77 164h18v4h-18zM72 168h5v4h-5zM79 168h10v4h-10zM66 172h2v4h-2zM81 172h5v4h-5zM64 176h2v4h-2zM82 176h3v4h-3zM63 180h2v4h-2zM83 180h2v4h-2zM62 184h2v4h-2zM82 184h3v4h-3zM62 188h2v4h-2zM82 188h2v4h-2z"/><path fill="#c5e021" d="M85 0h4v4h-4zM85 4h4v4h-4zM85 8h4v4h-4zM85 12h4v4h-4zM85 16h4v4h-4zM85 20h4v4h-4zM85 24h4v4h-4zM85 28h4v4h-4zM84 32h6v4h-6zM84 36h6v4h-6zM84 40h12v4h-12zM84 44h12v4h-12zM84 48h9v4h-9zM84 52h8v4h-8zM84 56h7v4h-7zM84 60h7v4h-7zM84 64h6v4h-6zM84 68h6v4h-6zM84 72h6v4h-6zM84 76h6v4h-6zM84 80h6v4h-6zM84 84h2v4h-2zM110 108h1v4h-1zM109 112h2v4h-2zM108 116h4v4h-4zM108 120h4v4h-4zM110 124h1v4h-1zM71 172h5v4h-5zM69 176h2v4h-2zM74 176h5v4h-5zM67 180h2v4h-2zM77 180h3v4h-3zM66 184h3v4h-3zM77 184h3v4h-3zM66 188h3v4h-3zM77 188h3v4h-3z"/><path fill="#a8db34" d="M96 0h8v4h-8zM174 0h2v4h-2zM96 4h7v4h-7zM174 4h2v4h-2zM89 8h1v4h-1zM96 8h7v4h-7zM174 8h3v4h-3zM84 12h1v4h-1zM89 12h1v4h-1zM96 12h7v4h-7zM173 12h4v4h-4zM84 16h1v4h-1zM89 16h1v4h-1zM95 16h8v4h-8zM173 16h4v4h-4zM84 20h1v4h-1zM89 20h1v4h-1zM95 20h7v4h-7zM173 20h4v4h-4zM84 24h1v4h-1zM89 24h1v4h-1zM95 24h7v4h-7zM173 24h4v4h-4zM84 28h1v4h-1zM89 28h1v4h-1zM94 28h7v4h-7zM173 28h4v4h-4zM90 32h11v4h-11zM173 32h4v4h-4zM90 36h11v4h-11zM172 36h5v4h-5zM83 40h1v4h-1zM96 40h4v4h-4zM172 40h5v4h-5zM83 44h1v4h-1zM96 44h4v4h-4zM173 44h4v4h-4zM83 48h1v4h-1zM93 48h7v4h-7zM83 52h1v4h-1zM92 52h9v4h-9zM83 56h1v4h-1zM91 56h3v4h-3zM96 56h6v4h-6zM83 60h1v4h-1zM91 60h1v4h-1zM99 60h3v4h-3zM83 64h1v4h-1zM90 64h2v4h-2zM99 64h5v4h-5zM21 68h2v4h-2zM83 68h1v4h-1zM90 68h2v4h-2zM100 68h5v4h-5zM21 72h3v4h-3zM82 72h2v4h-2zM90 72h1v4h-1zM100 72h8v4h-8zM21 76h4v4h-4zM82 76h2v4h-2zM90 76h1v4h-1zM100 76h11v4h-11zM21 80h4v4h-4zM82 80h2v4h-2zM90 80h1v4h-1zM100 80h12v4h-12zM21 84h5v4h-5zM82 84h2v4h-2zM86 84h4v4h-4zM100 84h12v4h-12zM21 88h4v4h-4zM82 88h7v4h-7zM100 88h12v4h-12zM22 92h3v4h-3zM83 92h4v4h-4zM100 92h13v4h-13zM22 96h3v4h-3zM100 96h13v4h-13zM22 100h2v4h-2zM100 100h13v4h-13zM22 104h2v4h-2zM100 104h14v4h-14zM22 108h2v4h-2zM101 108h9v4h-9zM111 108h3v4h-3zM22 112h2v4h-2zM101 112h8v4h-8zM111 112h4v4h-4zM22 116h2v4h-2zM101 116h7v4h-7zM112 116h5v4h-5zM22 120h2v4h-2zM101 120h7v4h-7zM112 120h7v4h-7zM101 124h9v4h-9zM111 124h7v4h-7zM101 128h14v4h-14zM100 132h13v4h-13zM99 136h13v4h-13zM98 140h12v4h-12zM96 144h11v4h-11zM91 148h14v4h-14zM90 152h12v4h-12zM88 156h7v4h-7zM85 160h5v4h-5zM77 168h2v4h-2zM68 172h3v4h-3zM76 172h5v4h-5zM66 176h3v4h-3zM79 176h3v4h-3zM65 180h2v4h-2zM80 180h3v4h-3zM64 184h2v4h-2zM80 184h2v4h-2zM64 188h2v4h-2zM80 188h2v4h-2z"/><path fill="#3f4889" d="M132 8h1v4h-1zM139 8h1v4h-1zM51 12h1v4h-1zM133 12h1v4h-1zM138 12h1v4h-1zM48 16h3v4h-3zM135 20h1v4h-1zM49 28h2v4h-2zM48 32h1v4h-1zM152 36h1v4h-1zM133 56h1v4h-1zM51 60h1v4h-1zM50 64h1v4h-1zM52 64h1v4h-1zM156 68h2v4h-2zM35 76h1v4h-1zM37 76h1v4h-1zM35 80h1v4h-1zM37 80h1v4h-1zM35 84h1v4h-1zM37 84h1v4h-1zM45 84h1v4h-1zM35 88h1v4h-1zM37 88h1v4h-1zM44 88h2v4h-2zM35 92h1v4h-1zM37 92h1v4h-1zM35 96h1v4h-1zM37 96h1v4h-1zM49 96h1v4h-1zM37 100h1v4h-1zM48 100h2v4h-2zM51 100h1v4h-1zM37 104h1v4h-1zM50 104h1v4h-1zM37 108h1v4h-1zM37 112h1v4h-1zM37 116h1v4h-1zM50 116h2v4h-2zM37 120h1v4h-1zM50 120h2v4h-2zM37 124h1v4h-1zM36 128h2v4h-2zM36 132h1v4h-1zM16 136h1v4h-1zM34 140h1v4h-1zM17 152h1v4h-1zM18 156h1v4h-1zM19 164h1v4h-1zM19 168h1v4h-1zM20 172h1v4h-1zM175 172h8v4h-8zM22 176h1v4h-1zM149 176h5v4h-5zM28 180h1v4h-1zM133 180h2v4h-2zM35 184h1v4h-1zM123 184h1v4h-1zM45 188h1v4h-1zM116 188h1v4h-1z"/><path fill="#443b84" d="M47 12h1v4h-1zM50 12h1v4h-1zM134 16h1v4h-1zM136 16h1v4h-1zM136 20h1v4h-1zM147 24h1v4h-1zM145 28h1v4h-1zM51 32h1v4h-1zM144 32h2v4h-2zM142 36h1v4h-1zM151 36h1v4h-1zM134 56h1v4h-1zM51 64h1v4h-1zM36 72h1v4h-1zM156 72h1v4h-1zM36 76h1v4h-1zM36 80h1v4h-1zM36 84h1v4h-1zM36 88h1v4h-1zM36 92h1v4h-1zM36 96h1v4h-1zM35 100h2v4h-2zM50 100h1v4h-1zM35 104h2v4h-2zM35 108h2v4h-2zM35 112h2v4h-2zM35 116h2v4h-2zM35 120h2v4h-2zM35 124h2v4h-2zM35 128h1v4h-1zM35 132h1v4h-1zM34 136h1v4h-1zM16 140h1v4h-1zM36 140h1v4h-1zM183 172h3v4h-3zM154 176h4v4h-4zM27 180h1v4h-1zM135 180h3v4h-3zM34 184h1v4h-1zM124 184h1v4h-1zM44 188h1v4h-1zM117 188h1v4h-1z"/><path fill="#472e7c" d="M48 12h2v4h-2zM135 16h1v4h-1zM137 16h1v4h-1zM147 28h1v4h-1zM49 32h2v4h-2zM154 72h1v4h-1zM35 136h2v4h-2zM35 140h1v4h-1zM16 144h1v4h-1zM17 156h1v4h-1zM18 160h1v4h-1zM21 176h1v4h-1zM158 176h6v4h-6zM138 180h3v4h-3zM125 184h2v4h-2zM43 188h1v4h-1zM118 188h1v4h-1z"/><path fill="#e2e418" d="M71 176h3v4h-3zM69 180h8v4h-8zM69 184h2v4h-2zM74 184h3v4h-3zM69 188h2v4h-2zM74 188h3v4h-3z"/><path fill="#fde725" d="M71 184h3v4h-3zM71 188h3v4h-3z"/></svg><canvas id="cc" width="186" height="192" style="left:494px;top:66px"></canvas>
<svg width="685" height="298" viewBox="0 0 685 298">
<polyline points="77.1,38.0 77.7,33.5 79.4,28.0 81.1,23.7 83.7,20.3 86.3,17.7 88.8,15.1 89.7,13.4 90.5,18.0 91.4,14.3 92.3,12.6 93.1,13.4 94.5,10.5 95.3,12.6 96.5,11.7 98.2,10.5 100.0,8.3 101.3,9.1 103.0,14.3 105.1,21.1 106.8,22.5 108.2,26.3 109.0,33.1 109.7,40.0 110.6,31.4 111.9,29.3 113.7,28.8 115.4,29.7 117.1,32.3 118.8,36.5 120.5,41.7 122.2,46.0 123.1,44.2 124.8,34.8 126.5,28.0 128.2,25.4 129.9,26.3 131.6,31.4 132.8,41.7 133.7,51.1 134.5,43.4 135.9,34.0 137.6,27.1 139.3,24.5 141.0,25.4 142.4,24.5 144.5,21.1 147.0,17.4 148.8,15.1 151.3,14.3 153.9,13.9 156.5,12.6 158.2,12.9 159.9,15.1 162.1,16.3 165.1,13.4 170.3,11.7 172.8,12.9 175.4,14.6 178.5,14.6 180.5,16.3 183.1,20.3 185.7,24.5 187.7,28.8 189.1,34.0 190.0,40.8 190.5,45.1 191.3,39.1 192.5,33.1 194.2,30.0 196.0,29.3 197.7,29.7 199.4,27.1 202.0,22.0 204.5,18.6 207.1,16.3 211.4,14.3 214.8,12.9 218.2,11.7 220.3,11.7 222.0,13.4 224.2,16.3 225.9,19.1 227.6,19.8 229.9,21.5 231.6,16.8 233.3,14.6 234.5,16.0 235.9,19.4 237.1,23.2 238.4,20.3 239.6,19.8 240.8,21.1 241.8,23.2 243.6,21.5 245.6,21.1 247.3,22.0 248.7,22.8 250.8,23.2 252.0,23.3" fill="none" stroke="#800080" stroke-width="1.9" stroke-linejoin="round" stroke-linecap="round"/>
<polyline points="293.5,32.1 294.5,28.0 295.3,26.0 296.6,22.4 297.5,19.0 298.2,16.3 298.9,18.6 299.6,23.2 300.3,17.7 301.5,11.7 302.8,10.5 304.5,13.4 306.3,11.7 308.0,10.0 309.7,10.5 311.4,12.9 314.0,15.6 316.0,19.4 317.7,22.8 318.8,30.5 320.0,25.4 321.2,24.9 322.2,28.8 323.4,32.8 324.6,26.3 325.9,20.3 327.7,16.0 329.4,15.6 331.1,18.0 332.8,22.5 334.8,27.1 336.6,25.4 338.8,22.8 341.0,22.0 343.1,22.8 344.8,26.3 346.5,31.7 348.2,31.1 349.9,30.5 350.8,29.7 352.0,32.3 353.3,24.5 355.0,20.3 357.1,17.4 359.3,16.8 361.9,15.6 363.6,16.3 365.3,18.6 366.7,17.4 368.8,18.0 370.5,20.3 371.8,22.8 373.5,18.0 375.7,17.4 377.4,19.1 380.5,17.7 382.6,19.1 384.6,21.1 386.8,18.0 389.4,15.1 392.8,13.9 396.3,13.4 399.7,13.9 403.1,15.6 406.9,18.0 409.1,16.8 412.0,16.0 415.1,17.7 418.5,19.8 421.1,16.8 423.7,13.9 427.1,12.2 429.7,12.6 433.1,14.6 436.5,16.0 439.9,16.8 443.3,13.4 446.8,12.9 449.3,14.3 451.9,16.3 454.1,19.4 455.8,25.4 457.0,24.2 458.2,23.7 459.6,24.5 461.0,25.4 462.2,22.5 464.0,20.8 466.2,21.1" fill="none" stroke="#800080" stroke-width="1.9" stroke-linejoin="round" stroke-linecap="round"/>
<polyline points="509.3,41.8 510.0,34.5 510.6,27.3 511.2,21.0 511.7,15.1 512.9,12.2 514.3,10.5 516.0,10.0 517.7,10.8 519.4,11.7 521.1,12.9 523.7,14.3 525.9,16.3 527.6,20.3 528.8,24.5 530.0,29.7 531.0,28.0 532.2,29.3 533.4,24.5 534.8,20.3 536.2,21.1 537.4,26.3 538.2,31.4 539.6,26.3 540.8,29.7 542.0,34.8 543.4,40.0 544.7,29.7 545.9,25.4 547.1,26.3 548.0,34.0 548.8,26.3 549.9,22.5 550.9,24.5 551.9,40.8 552.8,26.3 554.0,21.1 555.4,23.7 556.2,27.1 557.1,17.7 557.9,16.0 559.1,23.7 559.8,34.0 560.5,19.4 561.9,17.4 563.1,21.1 564.3,28.8 565.3,19.4 566.5,15.6 567.7,21.1 568.7,40.8 569.6,24.5 570.4,15.1 571.6,16.0 572.5,30.5 573.5,16.0 575.0,11.2 576.2,14.3 577.3,33.1 578.5,14.3 580.2,8.3 581.9,9.1 583.6,13.4 585.3,17.7 587.0,16.8 588.7,13.9 591.3,11.7 594.7,12.6 598.2,13.4 601.6,15.1 603.8,16.0 606.4,19.8 608.1,21.5 610.7,19.4 614.1,17.4 616.7,19.1 618.9,23.7 620.6,28.8 621.8,31.4 623.5,25.4 625.2,23.7 627.8,23.2 630.4,22.8 632.1,26.3 633.8,32.3 635.5,39.1 636.7,37.4 638.4,29.7 640.6,26.3 642.9,26.6 644.9,30.5 646.6,34.8 648.3,28.0 650.9,22.5 653.5,19.8 656.0,20.3 658.6,22.0 661.2,18.6 663.8,14.3 666.3,11.7 669.7,11.7 672.3,12.6 674.0,16.8 675.4,15.1 676.6,16.0 677.8,22.8 678.8,28.0 679.5,21.1 680.2,20.0" fill="none" stroke="#800080" stroke-width="1.9" stroke-linejoin="round" stroke-linecap="round"/>
<polygon points="66.5,53.0 66.5,27.5 67.4,26.0 68.3,28.0 69.0,32.0 69.9,33.3 71.1,34.5 72.3,35.0 72.9,39.3 74.1,41.2 75.3,41.8 76.5,41.2 77.1,38.0 77.1,53.0" fill="#800080"/>
<line x1="68.7" y1="42.4" x2="68.7" y2="53" stroke="#fff" stroke-width="0.8" opacity="0.8"/>
<line x1="71.6" y1="45.8" x2="71.6" y2="53" stroke="#fff" stroke-width="0.8" opacity="0.8"/>
<line x1="75.4" y1="55.1" x2="75.4" y2="53" stroke="#fff" stroke-width="0.8" opacity="0.8"/>
<polygon points="280.6,53.0 280.6,32.7 281.4,31.5 282.7,30.3 283.5,32.0 284.2,31.5 285.0,35.7 286.3,35.1 287.5,38.7 288.7,36.9 289.9,35.7 291.1,35.1 292.3,35.7 293.5,32.1 293.5,53.0" fill="#800080"/>
<polygon points="494.8,53.0 494.8,38.0 495.1,37.5 496.7,36.3 498.5,36.7 499.7,38.1 500.9,43.0 502.1,46.0 503.3,46.6 504.3,47.8 505.3,47.0 506.3,46.0 507.5,45.4 508.7,44.2 509.3,41.8 509.3,53.0" fill="#800080"/>
<polyline points="128.2,66.0 128.2,73.6 128.2,73.6 128.2,81.6 128.2,81.6 128.2,89.5 128.2,89.5 128.2,97.5 128.2,97.5 128.2,105.5 122.5,105.5 122.5,113.5 131.2,113.5 131.2,121.5 133.8,121.5 133.8,129.4 126.6,129.4 126.6,137.4 130.2,137.4 130.2,145.4 125.2,145.4 125.2,153.4 129.2,153.4 129.2,161.4 124.5,161.4 124.5,169.3 128.5,169.3 128.5,177.3 130.5,177.3 130.5,185.3 127.6,185.3 127.6,193.3 144.6,193.3 144.6,201.3 133.7,201.3 133.7,209.2 133.7,209.2 133.7,217.2 124.2,217.2 124.2,225.2 130.7,225.2 130.7,233.2 130.7,233.2 130.7,241.2 141.7,241.2 141.7,249.1 125.3,249.1 125.3,257.5" stroke="#fff" stroke-width="1.75" stroke-dasharray="5.0 2.8" fill="none"/>
<polyline points="186.1,66.0 186.1,73.6 188.0,73.6 188.0,81.6 186.4,81.6 186.4,89.5 189.5,89.5 189.5,97.5 184.0,97.5 184.0,105.5 201.2,105.5 201.2,113.5 176.5,113.5 176.5,121.5 170.1,121.5 170.1,129.4 190.2,129.4 190.2,137.4 181.1,137.4 181.1,145.4 193.8,145.4 193.8,153.4 182.2,153.4 182.2,161.4 193.9,161.4 193.9,169.3 183.2,169.3 183.2,177.3 179.2,177.3 179.2,185.3 186.6,185.3 186.6,193.3 158.0,193.3 158.0,201.3 169.5,201.3 169.5,209.2 169.5,209.2 169.5,217.2 196.7,217.2 196.7,225.2 179.2,225.2 179.2,233.2 176.2,233.2 176.2,241.2 161.1,241.2 161.1,249.1 194.3,249.1 194.3,257.5" stroke="#fff" stroke-width="1.75" stroke-dasharray="5.0 2.8" fill="none"/>
<polyline points="359.2,66.0 359.2,73.6 359.2,73.6 359.2,81.6 341.7,81.6 341.7,89.5 344.1,89.5 344.1,97.5 358.6,97.5 358.6,105.5 337.7,105.5 337.7,113.5 345.2,113.5 345.2,121.5 337.1,121.5 337.1,129.4 356.2,129.4 356.2,137.4 343.1,137.4 343.1,145.4 338.1,145.4 338.1,153.4 351.2,153.4 351.2,161.4 339.5,161.4 339.5,169.3 349.2,169.3 349.2,177.3 337.7,177.3 337.7,185.3 339.2,185.3 339.2,193.3 340.2,193.3 340.2,201.3 340.2,201.3 340.2,209.2 345.2,209.2 345.2,217.2 343.2,217.2 343.2,225.2 344.2,225.2 344.2,233.2 354.2,233.2 354.2,241.2 344.8,241.2 344.8,249.1 344.8,249.1 344.8,257.5" stroke="#fff" stroke-width="1.75" stroke-dasharray="5.0 2.8" fill="none"/>
<polyline points="372.5,66.0 372.5,73.6 372.5,73.6 372.5,81.6 403.3,81.6 403.3,89.5 396.6,89.5 396.6,97.5 372.5,97.5 372.5,105.5 413.3,105.5 413.3,113.5 391.2,113.5 391.2,121.5 415.3,121.5 415.3,129.4 374.7,129.4 374.7,137.4 399.6,137.4 399.6,145.4 414.3,145.4 414.3,153.4 381.1,153.4 381.1,161.4 408.9,161.4 408.9,169.3 383.1,169.3 383.1,177.3 415.7,177.3 415.7,185.3 412.3,185.3 412.3,193.3 407.7,193.3 407.7,201.3 403.2,201.3 403.2,209.2 392.0,209.2 392.0,217.2 399.7,217.2 399.7,225.2 396.6,225.2 396.6,233.2 377.0,233.2 377.0,241.2 392.9,241.2 392.9,249.1 387.7,249.1 387.7,257.5" stroke="#fff" stroke-width="1.75" stroke-dasharray="5.0 2.8" fill="none"/>
<line x1="555.3" y1="66.0" x2="555.3" y2="257.5" stroke="#fff" stroke-width="1.75" stroke-dasharray="5.0 2.8" fill="none"/>
<line x1="619.9" y1="66.0" x2="619.9" y2="257.5" stroke="#fff" stroke-width="1.75" stroke-dasharray="5.0 2.8" fill="none"/>
<line x1="71.60" y1="5.5" x2="71.60" y2="10.4" stroke="#000" stroke-width="1.1"/>
<line x1="71.60" y1="53.5" x2="71.60" y2="48.6" stroke="#000" stroke-width="1.1"/>
<line x1="129.85" y1="5.5" x2="129.85" y2="10.4" stroke="#000" stroke-width="1.1"/>
<line x1="129.85" y1="53.5" x2="129.85" y2="48.6" stroke="#000" stroke-width="1.1"/>
<line x1="188.10" y1="5.5" x2="188.10" y2="10.4" stroke="#000" stroke-width="1.1"/>
<line x1="188.10" y1="53.5" x2="188.10" y2="48.6" stroke="#000" stroke-width="1.1"/>
<line x1="246.35" y1="5.5" x2="246.35" y2="10.4" stroke="#000" stroke-width="1.1"/>
<line x1="246.35" y1="53.5" x2="246.35" y2="48.6" stroke="#000" stroke-width="1.1"/>
<line x1="65.9" y1="5.50" x2="70.80000000000001" y2="5.50" stroke="#000" stroke-width="1.1"/>
<line x1="252.1" y1="5.50" x2="247.2" y2="5.50" stroke="#000" stroke-width="1.1"/>
<line x1="65.9" y1="29.50" x2="70.80000000000001" y2="29.50" stroke="#000" stroke-width="1.1"/>
<line x1="252.1" y1="29.50" x2="247.2" y2="29.50" stroke="#000" stroke-width="1.1"/>
<line x1="65.9" y1="53.50" x2="70.80000000000001" y2="53.50" stroke="#000" stroke-width="1.1"/>
<line x1="252.1" y1="53.50" x2="247.2" y2="53.50" stroke="#000" stroke-width="1.1"/>
<rect x="65.9" y="5.5" width="186.2" height="48.0" fill="none" stroke="#000" stroke-width="1.6"/>
<line x1="71.60" y1="66.0" x2="71.60" y2="70.9" stroke="#000" stroke-width="1.1"/>
<line x1="71.60" y1="257.5" x2="71.60" y2="252.6" stroke="#000" stroke-width="1.1"/>
<line x1="129.85" y1="66.0" x2="129.85" y2="70.9" stroke="#000" stroke-width="1.1"/>
<line x1="129.85" y1="257.5" x2="129.85" y2="252.6" stroke="#000" stroke-width="1.1"/>
<line x1="188.10" y1="66.0" x2="188.10" y2="70.9" stroke="#000" stroke-width="1.1"/>
<line x1="188.10" y1="257.5" x2="188.10" y2="252.6" stroke="#000" stroke-width="1.1"/>
<line x1="246.35" y1="66.0" x2="246.35" y2="70.9" stroke="#000" stroke-width="1.1"/>
<line x1="246.35" y1="257.5" x2="246.35" y2="252.6" stroke="#000" stroke-width="1.1"/>
<line x1="65.9" y1="257.50" x2="70.80000000000001" y2="257.50" stroke="#000" stroke-width="1.1"/>
<line x1="252.1" y1="257.50" x2="247.2" y2="257.50" stroke="#000" stroke-width="1.1"/>
<line x1="65.9" y1="204.20" x2="70.80000000000001" y2="204.20" stroke="#000" stroke-width="1.1"/>
<line x1="252.1" y1="204.20" x2="247.2" y2="204.20" stroke="#000" stroke-width="1.1"/>
<line x1="65.9" y1="150.90" x2="70.80000000000001" y2="150.90" stroke="#000" stroke-width="1.1"/>
<line x1="252.1" y1="150.90" x2="247.2" y2="150.90" stroke="#000" stroke-width="1.1"/>
<line x1="65.9" y1="97.60" x2="70.80000000000001" y2="97.60" stroke="#000" stroke-width="1.1"/>
<line x1="252.1" y1="97.60" x2="247.2" y2="97.60" stroke="#000" stroke-width="1.1"/>
<rect x="65.9" y="66.0" width="186.2" height="191.5" fill="none" stroke="#000" stroke-width="1.6"/>
<line x1="285.70" y1="5.5" x2="285.70" y2="10.4" stroke="#000" stroke-width="1.1"/>
<line x1="285.70" y1="53.5" x2="285.70" y2="48.6" stroke="#000" stroke-width="1.1"/>
<line x1="343.95" y1="5.5" x2="343.95" y2="10.4" stroke="#000" stroke-width="1.1"/>
<line x1="343.95" y1="53.5" x2="343.95" y2="48.6" stroke="#000" stroke-width="1.1"/>
<line x1="402.20" y1="5.5" x2="402.20" y2="10.4" stroke="#000" stroke-width="1.1"/>
<line x1="402.20" y1="53.5" x2="402.20" y2="48.6" stroke="#000" stroke-width="1.1"/>
<line x1="460.45" y1="5.5" x2="460.45" y2="10.4" stroke="#000" stroke-width="1.1"/>
<line x1="460.45" y1="53.5" x2="460.45" y2="48.6" stroke="#000" stroke-width="1.1"/>
<line x1="280.0" y1="5.50" x2="284.9" y2="5.50" stroke="#000" stroke-width="1.1"/>
<line x1="466.2" y1="5.50" x2="461.3" y2="5.50" stroke="#000" stroke-width="1.1"/>
<line x1="280.0" y1="29.50" x2="284.9" y2="29.50" stroke="#000" stroke-width="1.1"/>
<line x1="466.2" y1="29.50" x2="461.3" y2="29.50" stroke="#000" stroke-width="1.1"/>
<line x1="280.0" y1="53.50" x2="284.9" y2="53.50" stroke="#000" stroke-width="1.1"/>
<line x1="466.2" y1="53.50" x2="461.3" y2="53.50" stroke="#000" stroke-width="1.1"/>
<rect x="280.0" y="5.5" width="186.2" height="48.0" fill="none" stroke="#000" stroke-width="1.6"/>
<line x1="285.70" y1="66.0" x2="285.70" y2="70.9" stroke="#000" stroke-width="1.1"/>
<line x1="285.70" y1="257.5" x2="285.70" y2="252.6" stroke="#000" stroke-width="1.1"/>
<line x1="343.95" y1="66.0" x2="343.95" y2="70.9" stroke="#000" stroke-width="1.1"/>
<line x1="343.95" y1="257.5" x2="343.95" y2="252.6" stroke="#000" stroke-width="1.1"/>
<line x1="402.20" y1="66.0" x2="402.20" y2="70.9" stroke="#000" stroke-width="1.1"/>
<line x1="402.20" y1="257.5" x2="402.20" y2="252.6" stroke="#000" stroke-width="1.1"/>
<line x1="460.45" y1="66.0" x2="460.45" y2="70.9" stroke="#000" stroke-width="1.1"/>
<line x1="460.45" y1="257.5" x2="460.45" y2="252.6" stroke="#000" stroke-width="1.1"/>
<line x1="280.0" y1="257.50" x2="284.9" y2="257.50" stroke="#000" stroke-width="1.1"/>
<line x1="466.2" y1="257.50" x2="461.3" y2="257.50" stroke="#000" stroke-width="1.1"/>
<line x1="280.0" y1="204.20" x2="284.9" y2="204.20" stroke="#000" stroke-width="1.1"/>
<line x1="466.2" y1="204.20" x2="461.3" y2="204.20" stroke="#000" stroke-width="1.1"/>
<line x1="280.0" y1="150.90" x2="284.9" y2="150.90" stroke="#000" stroke-width="1.1"/>
<line x1="466.2" y1="150.90" x2="461.3" y2="150.90" stroke="#000" stroke-width="1.1"/>
<line x1="280.0" y1="97.60" x2="284.9" y2="97.60" stroke="#000" stroke-width="1.1"/>
<line x1="466.2" y1="97.60" x2="461.3" y2="97.60" stroke="#000" stroke-width="1.1"/>
<rect x="280.0" y="66.0" width="186.2" height="191.5" fill="none" stroke="#000" stroke-width="1.6"/>
<line x1="499.70" y1="5.5" x2="499.70" y2="10.4" stroke="#000" stroke-width="1.1"/>
<line x1="499.70" y1="53.5" x2="499.70" y2="48.6" stroke="#000" stroke-width="1.1"/>
<line x1="557.95" y1="5.5" x2="557.95" y2="10.4" stroke="#000" stroke-width="1.1"/>
<line x1="557.95" y1="53.5" x2="557.95" y2="48.6" stroke="#000" stroke-width="1.1"/>
<line x1="616.20" y1="5.5" x2="616.20" y2="10.4" stroke="#000" stroke-width="1.1"/>
<line x1="616.20" y1="53.5" x2="616.20" y2="48.6" stroke="#000" stroke-width="1.1"/>
<line x1="674.45" y1="5.5" x2="674.45" y2="10.4" stroke="#000" stroke-width="1.1"/>
<line x1="674.45" y1="53.5" x2="674.45" y2="48.6" stroke="#000" stroke-width="1.1"/>
<line x1="494.0" y1="5.50" x2="498.9" y2="5.50" stroke="#000" stroke-width="1.1"/>
<line x1="680.2" y1="5.50" x2="675.3000000000001" y2="5.50" stroke="#000" stroke-width="1.1"/>
<line x1="494.0" y1="29.50" x2="498.9" y2="29.50" stroke="#000" stroke-width="1.1"/>
<line x1="680.2" y1="29.50" x2="675.3000000000001" y2="29.50" stroke="#000" stroke-width="1.1"/>
<line x1="494.0" y1="53.50" x2="498.9" y2="53.50" stroke="#000" stroke-width="1.1"/>
<line x1="680.2" y1="53.50" x2="675.3000000000001" y2="53.50" stroke="#000" stroke-width="1.1"/>
<rect x="494.0" y="5.5" width="186.2" height="48.0" fill="none" stroke="#000" stroke-width="1.6"/>
<line x1="499.70" y1="66.0" x2="499.70" y2="70.9" stroke="#000" stroke-width="1.1"/>
<line x1="499.70" y1="257.5" x2="499.70" y2="252.6" stroke="#000" stroke-width="1.1"/>
<line x1="557.95" y1="66.0" x2="557.95" y2="70.9" stroke="#000" stroke-width="1.1"/>
<line x1="557.95" y1="257.5" x2="557.95" y2="252.6" stroke="#000" stroke-width="1.1"/>
<line x1="616.20" y1="66.0" x2="616.20" y2="70.9" stroke="#000" stroke-width="1.1"/>
<line x1="616.20" y1="257.5" x2="616.20" y2="252.6" stroke="#000" stroke-width="1.1"/>
<line x1="674.45" y1="66.0" x2="674.45" y2="70.9" stroke="#000" stroke-width="1.1"/>
<line x1="674.45" y1="257.5" x2="674.45" y2="252.6" stroke="#000" stroke-width="1.1"/>
<line x1="494.0" y1="257.50" x2="498.9" y2="257.50" stroke="#000" stroke-width="1.1"/>
<line x1="680.2" y1="257.50" x2="675.3000000000001" y2="257.50" stroke="#000" stroke-width="1.1"/>
<line x1="494.0" y1="204.20" x2="498.9" y2="204.20" stroke="#000" stroke-width="1.1"/>
<line x1="680.2" y1="204.20" x2="675.3000000000001" y2="204.20" stroke="#000" stroke-width="1.1"/>
<line x1="494.0" y1="150.90" x2="498.9" y2="150.90" stroke="#000" stroke-width="1.1"/>
<line x1="680.2" y1="150.90" x2="675.3000000000001" y2="150.90" stroke="#000" stroke-width="1.1"/>
<line x1="494.0" y1="97.60" x2="498.9" y2="97.60" stroke="#000" stroke-width="1.1"/>
<line x1="680.2" y1="97.60" x2="675.3000000000001" y2="97.60" stroke="#000" stroke-width="1.1"/>
<rect x="494.0" y="66.0" width="186.2" height="191.5" fill="none" stroke="#000" stroke-width="1.6"/>
<rect x="64.8" y="65.3" width="20.2" height="20.2" fill="#000"/>
<text x="75.4" y="79.6" fill="#fff" font-size="15.8" text-anchor="middle">(a)</text>
<rect x="278.8" y="65.3" width="21.8" height="20.2" fill="#000"/>
<text x="290.0" y="79.6" fill="#fff" font-size="15.8" text-anchor="middle">(b)</text>
<rect x="493.3" y="65.3" width="21.3" height="20.2" fill="#000"/>
<text x="504.4" y="79.6" fill="#fff" font-size="15.8" text-anchor="middle">(c)</text>
<defs><linearGradient id="vg" x1="0" y1="1" x2="0" y2="0"><stop offset="0.0" stop-color="#440154"/><stop offset="0.1" stop-color="#482475"/><stop offset="0.2" stop-color="#414487"/><stop offset="0.3" stop-color="#355f8d"/><stop offset="0.4" stop-color="#2a788e"/><stop offset="0.5" stop-color="#21918c"/><stop offset="0.6" stop-color="#22a884"/><stop offset="0.7" stop-color="#44bf70"/><stop offset="0.8" stop-color="#7ad151"/><stop offset="0.9" stop-color="#bddf26"/><stop offset="1.0" stop-color="#fde725"/></linearGradient></defs>
<rect x="504.2" y="208.2" width="12.300000000000011" height="38.20000000000002" fill="url(#vg)" stroke="#000" stroke-width="1.4"/>
<line x1="516.3" y1="227.1" x2="512.3" y2="227.1" stroke="#fff" stroke-width="1.5"/>
<line x1="516.3" y1="246.2" x2="512.3" y2="246.2" stroke="#fff" stroke-width="1.5"/>
<text x="509.5" y="200.4" fill="#fff" font-size="13.9" text-anchor="middle">dB</text>
<text x="522.2" y="232.0" fill="#fff" font-size="15.5">−20</text>
<text x="522.2" y="251.4" fill="#fff" font-size="15.5">−40</text>
<text x="60.20" y="10.50" font-size="15.2" text-anchor="end" >0</text>
<text x="60.20" y="34.50" font-size="15.2" text-anchor="end" >−25</text>
<text x="60.20" y="58.50" font-size="15.2" text-anchor="end" >−50</text>
<text x="60.40" y="262.50" font-size="15.2" text-anchor="end" >0</text>
<text x="60.40" y="209.20" font-size="15.2" text-anchor="end" >2</text>
<text x="60.40" y="155.90" font-size="15.2" text-anchor="end" >4</text>
<text x="60.40" y="102.60" font-size="15.2" text-anchor="end" >6</text>
<text x="71.60" y="274.00" font-size="15.2" text-anchor="middle" >1.0</text>
<text x="129.85" y="274.00" font-size="15.2" text-anchor="middle" >1.5</text>
<text x="188.10" y="274.00" font-size="15.2" text-anchor="middle" >2.0</text>
<text x="246.35" y="274.00" font-size="15.2" text-anchor="middle" >2.5</text>
<text x="159.00" y="294.60" font-size="15.5" text-anchor="middle" >wavelength [µm]</text>
<text x="285.70" y="274.00" font-size="15.2" text-anchor="middle" >1.0</text>
<text x="343.95" y="274.00" font-size="15.2" text-anchor="middle" >1.5</text>
<text x="402.20" y="274.00" font-size="15.2" text-anchor="middle" >2.0</text>
<text x="460.45" y="274.00" font-size="15.2" text-anchor="middle" >2.5</text>
<text x="373.10" y="294.60" font-size="15.5" text-anchor="middle" >wavelength [µm]</text>
<text x="499.70" y="274.00" font-size="15.2" text-anchor="middle" >1.0</text>
<text x="557.95" y="274.00" font-size="15.2" text-anchor="middle" >1.5</text>
<text x="616.20" y="274.00" font-size="15.2" text-anchor="middle" >2.0</text>
<text x="674.45" y="274.00" font-size="15.2" text-anchor="middle" >2.5</text>
<text x="587.10" y="294.60" font-size="15.5" text-anchor="middle" >wavelength [µm]</text>
<text transform="translate(18.8,161.75) rotate(-90)" font-size="15.5" text-anchor="middle">propagation distance [cm]</text>
<text transform="translate(7.9,31.8) rotate(-90)" font-size="15.5" text-anchor="middle">power</text>
<text transform="translate(25.4,29.7) rotate(-90)" font-size="15.5" text-anchor="middle">[dB]</text>
</svg>
<script>
(function(){
var L="44015446075a470d6047136548186a481d6f482374482878472d7b46327e453781443b844240864045883e49893d4e8a3a538b38588c365c8d34608d32648e31688e2f6c8e2d708e2c738e2a778e297b8e277f8e26828e24868e238a8d218e8d20928c1f968b1f9a8a1f9e891fa18721a58523a98326ad812ab07f2fb47c35b7793bbb7542be714ac16d52c5695ac86465cb5e6ece5877d15381d34d8bd64695d840a0da39aadc32b5de2bc0df25cae11fd5e21adfe318eae51af4e61efde725";var A="ABCDEFGHIJKLMNOPQRSTUVWXYZabcdefghijklmnopqrstuvwxyz0123456789+/";
var M={};for(var i=0;i<64;i++)M[A.charAt(i)]=i;
var D={"a": "KMLJGCCCCCGNVbgjklnprtuvutrqsw0356541xtpleRINUXYYXWVRMGGLQSTTTSROIIPUYbegijklnprtuvwxyyyyxvuttssssuwyzzzzzyxwvutsrqpommlkjfVHPSVXYZabdfhjlnprtuwyzz01110zywtqonlkjjknqrpnmlkjjkllljhgfffffKMLJGCCCCCGNVbgjklnprsuuutrqsw0355541xtpleRINUXXYXWVRMGGLQSTTTSROIIPUYbegijklnprtuvwxyyyyxvuutssssuwyzzzzzyxwvutsrqpommlkjfWIPTVXYZacdfhjlnprtuwyzz01110zywtqonlkjjknqrpnmlkjjkklkjhgfffffKMLJGCCCCCGNVbgjklnprstuutrqsw0355541xtpleSINUXXYXWVRMGGLPSTTTSROIIPUYbegijklnprtuvwxyyyyxvuutssssuwyyzzzzyxwvutsrqpommlkjfWJQTVXYZacdfhjlnprtuwyzz00110zywtronlkjjknqqpnmlkjjkklkjhgfffffKMLJGCCCCCGNVbgjklnprstuutsrsw0355541xtpleSIMUXXYXWVRMGGLPSTTTSROIIPUYbegijklnprtuvwxyyyyxwvutssstuwyyzzzzyxwvutsrqponmlkjfWJQTVXYZacefhjlnprtvwxzz00110zywtronlkjjknqqpnlkkjjkklkihgfffffKMLJGCCCCCFNVbgiklnprstuutsrsw0355541xtplfTIMUWXYXWVRMGGLPSTTTSRPIIPUYbeghjklnprtuvwxyyyyxwvutttttuwyyyzzzyxwvutsrqponmlkjfXKRTWXYZbcegiklnprtvwxzz00110zywtronlkjiknpqpnlkjjjjklkihgfffffKMLJGCCCCCFNVbgiklnprstuutsrtx0355541xtplfTIMTWXXXWVSMGGKPSTTTSRPIIPUYbeghjklnprsuvwxyyyyxwvutttttuwyyyzzyxwwvutsrqponmlkjfXLRUWXYabcegikmoprtvwxzz00110zywtrpnljjijmpqonlkjjjjklkihffffffKMLJGCCCCCFNVbfijlmpqstuutsrtx0355541xtplfTIMTWXXXWVSMGGKPSTTTSRPIIOUYbeghjklnprsuvwxyyyyxwvutttttuwyyyyzyxwvvutsrqponmlkjfXLRUWXZabcegikmoqrtvwxzz00110zywtrpnljjijmpqonlkjjjjklkihffffffKMLJGCCCCCFNVbfijlmoqstuutsrtx0355531xtplfUJMTWXXXWVSMGGKPSTTTSSPJIOUYbeghjklnprsuvwxyyyyxwvutttttuwyyyyzyxwvvutsrqponmlkjfYMSUWYZabdegikmoqrtvwxyz00110zywtrpnljiijmpqonlkjijjklkigffffffKMLJGCCCCCFNVbfijkmoqrtuutsrtx0355531xtplfUJLTWXXXXVSMGFKPSTTTSSPJIOUYbeghjklnprsuvwxyyyyxwvutttttuwxyyyyyxwvuutsrqponmlkkgYNSVWYZabdegikmoqrtvwxyz00110zywtrpnkjiijmppomlkjiijkkkigffffffKMLJGCCCCCFNVbfijkmoqrstutsrtx0355531xsplfUJLTWXXXXVSMGFKPSTTTSSPJHOUYbeghjklnprsuvwxyyyyxwvutttttuwxyyyyyxwvuutsrqponmllkgYNSVWYZabdfhjlmoqstvwxyz00100zywtrpmkjihjmppomlkjiijkkkigffffffKMLJGCCCCCFNVbfijkmoqrstutsrtx1355531wsplfVJLTWXXXXVSMGFKPSTTTSSPJHOUYbeghiklnprsuvwxyyyyxwvuuttttuwxyyyyyxwvuutsrqponmllkgZOTVXYZabdfhjlmoqstvwxyz00100zywtrpmkjihilopomlkjiijkkkigffffffKMLJGCCCCCFNVbfijkmoqrstutssux1355530wsplgVJLTWXXXXVSMHFKPSTTTSSPJHOUYbeghiklnprsuvwxyyyyxwvvuttttuwxyyyyyxwvuutsrqponmllkgZPTVXYZacdfhjlnoqstvwxyz00000zywtrpmkjihilopomlkjiijkkkigffffffKMLJGCCCCCFNVbfhjkmoprstutssux1355430wsolgWKKSWXXXXVSNHFKPSTTTSSPJHOUYbeghiklnprsuvwxyyyyxwwvuttttuwxxyyyyxwvuutsrqponmllkgZPUWXYZbcdfhjlnoqstvwxyz00000zywurpmkiihilopnmkjjiijkkkigffffffKMLJGCCCCCFNVbfhjkmoprstutssuy1355430wsolgWKKSWXXXXVSNHFKPSTTTSSPJHOUYbefhiklnprstvwxyyyyxwwvuttttuwxxxyyxxwvuutsrqponmllkgaQUWXYabcdfhjlnpqstvwxyzz0000zywurpmkihhilopnmkjiiijjkkigffffffKLLJGCCCCCFNVbfhjklnpqstttssuy1355430wsolgWKKSWXXXXVSNHFKPSTTTSSQJHOUYcefhikmnprstvwxyyyyxxwvutttuuwxxxyyxxwvuttsrqponmllkgaRUWXZabcegiklnpqstvwxyzz0000zywurpmkihhiloonmkjiiijjkjigffffffKLLJGCCCCCFNVbfhiklnpqrtttssuy1355430wsolgXKKSWXXXXVSNHFJPSTTTSSQKHOUZcefhikmnprstvwxyyyyxxwvuuuuuuwxxxxyxwwvuttsrqponmllkhaRVWYZabcegikmnpqstvwxyzz0000zywurpmkihgilnonmkjiiijjkjigffffffKLLJFCCCCCFNVbfhiklnpqrtttssuy1345430wsolgXKKSWXXXXVSNHFJPSTTTSSQKHOUZcefhikmnprstvwxyyyyxxwvuuuuuuwxxxxxxwwvuttsrqponmllkhbSVXYZabcegikmnpqstvwxyzz0000zywuspmkihghknonlkjiiiijkjigffffffKLLJFCCCCCENVbehiklnpqrsttssuy1345430wsolgXLJRWXXXXVSNHFJPSTTTSSQKHOUZcefgikmnprstvwxyyyyxxwvuuuuuuwxxxxxxwwvuttsrqponmllkhbTWXYZabdegikmoprstvwxyzz0000zxwuspmjihghknonlkjihiijkjigffffffKLLJFCCCCCENVbehijlnoqrsttssvy1345430wsolgYLJRWXXXXVTNHFJPSTTTSSQKHOUZcefgikmnprstvwxyyyyyxwvuuuuuuwxxxxxxwvvutssrqponmllkhbTWXYZabdegikmoprstvwxyzz0000zxwuspmjhhghknonlkjihiijkjigffffffKLMJFCCCCCENVaehijlnoqrsttttvy1345430wsolgYLJRVXXXXVTNHFJPSTTTSSQKHNUZcefgikmnprstvwxyyyyyxwvuuuuuvwwxxxxxwvvutssrqponmllkhcUWYYZacdegjlmoprstvwxyzz0000zxwuspmjhgghknomlkjihiijkjigffffffKLMJFCCCCCENVaegijlnoprsttttvy1345430wsolgYMJRVXXXXWTNHFJPSTTTTSQKHNUZcefgikmnprstuwxyyyyyxwvvuuuuvwwxxxxxwvvutssrqponmllkhcVXYYZbcdfhjlnoprstvwxyzz0000zxwuspmjhgghkmnmlkjihiijjjigffffffKLMJFCCCCCENVaegijlmoprsttttvz1345430wsolhZMJRVXXXXWTNHFJPSTTTTSQKHNUZcefgikmnprstuwxyyyyyxwwvuuuuvvwxxxxxwvvutsrrqponmllkhcVXYZZbcdfhjlnoqrstvwxyzz0000zxwuspmjhgfgjmnmljiihhijjjigffffffKLMJFCCCCCENVaegijlmopqsttttvz1345430vrolhZMJQVXXXXWTOHFJPSTTTTSQKHNUZcefgikmnpqstuwxyyyyyxxwvuuuuvvwwxxxwwvvutsrrqponmllkhdWYYZabcdfhjlnoqrsuvwxyzzz000zxwuspmjhgfgjmnmljihhhijjjigffffffKLMJFCCCCCENVaegijkmopqsttttvz1345430vrokhZNJQVXXXXWTOHFJOSTTTTSQLHNUZcefgikmnpqstuwxyyyyyxxwvuuuuvvwwwwxwwvvutsrrqponmmlkidXYZZabcdfhjlnpqrsuvwxyzzz000zxwuspmjhgfgjmnmljihhhijjjigffffffKLMJFCCCCCENVaeghjkmnpqsttttwz1344420vrokhaNIQVXXXXWTOHEJOSTTTTSQLHNUZcefghkmnpqstuwxyyyyyxxwvuuuuvvwwwwwwwvuutsrrqponmmlkidXYZZabcefhkmnpqrsuvwxyzzz000zxwuspmjhgfgjmnmkjihhhijjjhgffffffKLMJFCCCCCENVaeghjkmnpqrttttwz1344420vrokhaNIQVXXXXWTOHEIOSTTTTSRLHNUZcefghkmnpqstuwxyyyyyyxwvvuuuvvwwwwwwwvuutsrqqponmmlkieYZZZabcefikmopqrsuvwxyzzz000zxwuspmjgffgjmnlkjihhhiijjhgffffffKLMJFCCCCCENVaeghjkmnoqrttttwz234442zvrokhaOIPVXXXXWTOHEIOSTTTTSRLHNUZcefghjmnpqstuwxyyyyyyxwvvvvvvvwwwwwwvvuutsrqqponmmlkieZZZaabdegikmopqrtuvwxyzzz000zxwusqmjgfegilmlkjihhhiijjhgffffffKLMJFCCCCCENVaeghjkmnoqrtttuwz234442zvrokhaOIPVXXXXWTOHEIOSTTTTSRLHNUZcefghjmnpqstuvxyyyyyyxwvvvvvvvwwwwwwvvuutsrqpponmmlkieZaaaabdegikmopqrtuvwxyzzz000zxwusqmigfefilmlkjihhhiijjhgffeeeeKLMJFCCCCCENVadfhiklnoprtttuwz234432zvrokhbOIPVXXXXWTOHEIOSTTTTTRLHNUZcefghjmopqstuvxyyyyyyxwvvvvvvvwwwwwwvvuutsrqpoonmmlkifaaaaacdegiknopqstuvwxyzzzz00zxwusqmigfefilmlkjihghiijihgfeeeeeKLMJFCCCCCDNVadfhiklnoprtttuwz234432zvrokhbPIPUXXYXWTOHEIOSTTTTTRLHNUZcefghjmopqstuvxyyyyyyxwvvvvvvvwwwwwwvvuutsrqpoonmmlkifbaaabcdegilnoqrstuvwxyzzzz00zxwusqmigfefilmlkjihghhijihgfeeeeeKLMJFCCCCCDNVadfhiklmoprsttux0234432zvrokhbPIOUWXYXWTOHEIOSTTTTTRLHMUZceffhjmopqstuvxyyyyyyxwvvvvvvvwwwwwvvvuutsrqpoonmmlljfbbaabcdegilnpqrstuvwxyzzzz00zxwusqmigfefilmlkjhhghhijihgfeeeeeKLMJFCCCCCDNVadfhiklmoprsttux0234432zvrokhbQIOUWXYXWTOIEIOSTTTTTRMHMUZceefhjmopqstuvxyyyyyyyxwvvvvvvvwwwwvvuuutsrqpoonmmlljgcbbabcdfgjlnpqrstuvwxyzzzzzzzxwutqmigeefiklljihgghhiiihgfeeeeeKLMJFCCCCCDNVadfgijlmnprsttux0234432zvrnkhcQIOUWXYXWUPIEIOSTTTTTRMHMUaceefhjmopqstuvxyyyyyyyxwvvvvvvvvvvvvvuuutsrqpoonmmlljgdcbbbcdfhjlnpqrstuvwxyzzzzzzzxwutqmifedehklkjihgghhiiihgfeeeeeKLMJFCCCCCDNVadfgijlmnpqsttux0234432zvrnkhcQIOUWXYXWUPIEIOSTTTTTRMHMUaceefhjmopqrtuvxyyyyyyyxwvvvvvvvvvvvvvuuutsrqpoonmmlljgdcbbbcefhjlopqrstuvwxyyzzzzzzxwutqmifedehklkjihggghiiihgfeeeeeKLMJFCCCCCDNVadfgijlmnpqsttux0234432zvrnkhcRINUWXYXWUPIEIOSTTTTTRMHMUaceefhjmopqrtuvwyyyyyyyxwvvvvvvvvvvvvvuuutsrqpponmmlljheccbbdefhjmopqrstuvwxyyzzzzzzxwutqmifedehklkjihggghiiihgfeeeeeKLMJFCCCCCDNVadfgijkmnoqsttvx0234432zvrnkhcRINUWXXXWUPIEIOSTTTTTSMHMUZcdefhjmopqrtuvwyyyyyyxwwvvvvvvvvvvvvvuuutsrqqponnmmljhedcccdeghkmoqrrstuvwxyzzzzzzzxwutqmifedehklkjihggghiiihgfeeeeeKLMJFCCCCCDNVadegijkmnoqstuvx0234432zvrnkhcRINTWXXXWUPIEIOSTTTTTSNHMUZcdefhjmopqrtuvwyyyyyyxwwvvvvvvvvvvvvvuuutsrrqponnmmlkhfddccdfgikmoqrsstuvwxyzzzzz0zxwutqmifedehklkjihggghiiihgfeeeeeKLMJFCCCCCDMVadeghjklnoqstuvx0234432zvrokhdSIMTWXXXWUPIEIOSTTTTTSNIMUZcdefhjmopqrtuvwxyyyyxxwvvvvvvvvvvvvvvuuutsrrqpoonnmlkifedddefgikmoqrsttuvwxyzzzzz0zxwutqmifedehkllkihggghiiihgffeeeeKLMJFCCCCCDMUZdeghjklnoqstuvx0234432zvrokidSIMTWXXXWUPIEIOSTTTTTSNIMUZcdefhjmopqrtuvwxyyyyxwwvvvvvvvvvvvvvvvuutssrqpoonnmmkigedddeghiknpqrstuuvwxyzzzzz0zywvtqlifedehkllkjiggghiiihgfffeeeKLMJFCCCCCDMUZceghjklnoqstuvx0234432zvrokidTIMTWXXXWUPIEIOSTTTUTSNIMUZcdefhjmnpqrtuvwxyyyxxwwvvvvvvvvvvvvvvvuuttsrqpponnmmligfeeefghjlnpqrstuvvwxyzzzzz0zywvtqlhfedfikmlkjihgghiiihgffffeeKLMJFCCCCCDMUZceghiklmoqstuvx0234432zvrolidTILTWXXXWUPIEIOSTUUUUTOILTZcdefhjmnpqrtuvwxyyyxwwvvvvvvvvvvvwwvvvuuttsrqppoonnmljgfeeefgijlnprrstuvwwxyzzzzz0zywvtplhfeefilmlkjihgghiiihgfffffeKLMJFCCCCCDMUZceghiklmoqstuvx0234432zvrolidTILSWXXXWUPIFIOSTUUUUTOILTZcdefhjmnpqrtuvwxyyyxwvvvvvvvvvvvvwwvvvuuttsrqqpoonnmljhffefghiklnprsstuvwxxyzzzzz0zywvtplhfeefilmlkjihgghiiihgffffffKLMIFCCCCCDMUZceghijlmoqstuvx0234432zvrolieUJLSWXXXWUPIFIOSTUUUUTOILTZcdefhjmnpqrtuvwxyyyxwvvvvvvvvvvvwwwvvvuuutsrrqpooonnljhgfffghikmoqrsttuvwxxyzzzz00zywvtplhfeefilmlkjihgghhiihgffffffKLMIFCCCCCDMUZcefhijlmoqstuvx0234432zvrolieUJKSWXXXWUPIFIOSTUUUUTOILTZcdefhjmnpqrtuvwxyyyxvvvvvvvvvvvvwwwvvvuuutsrrqppoonnmkiggfghijkmoqrstuuvwxxyzzzz00zywvtplhfeefilmlkjihgghhiihggfffffKLMIFCCCCCDMUZcefhijlmoqstuvx0234432zvrolieUJKSWWXXWUPIFIPSUUUUUTPILTZcdefhjmnpqrtuvwxyyxxvuvvvvvvvvvvwwwwvvvuutssrqppooonmkihggghijlmoqrstuuvwxyyzzzz00zywvtplhfeefilmlkjihgghhiihggfffffKLLIFDCCCCDMUZcefhijkmoprtuvy0234432zvrolieVJKRWWXXWUPIFIPSUUUUUTPILTZcdefhjmnpqrtuvwxxxxwvuuvvvvvvvvwwwwwvvvuutssrqqppoonmkihhghijklnpqsstuvvwxyyzzzz00zywvtplhfeefilmlkjihgghhiihhgfffffKLLIFDCCCCDLUZcefgijkmnprtuvy0234442zvrolieVJJRVWXXWUPIFIPSUUUUUUPJLTZcdefhjmnpqrtuvwxxxxwvuuuvvvvvvvwwwwwvvvuutssrqqppooomljihhhijklnprsttuvvwxyyzzzz00zywvtplhfeefilmlkjihhghhiihhgfffffKLLIFDCCCCDLUZcefgijkmnprtuvy0234442zvrolieWJJRVWXXWUPJFIPTUUUVVUPJLTZcdefhjlnpqrtuvwxxxxwutuuvvvvvvvwwwwwvvvuuttsrrqpppoonljiihijjkmnprstuuvwwxyyzzzz00zywvtplhfeefilmlkjihhghhiihhgfffffKLLIFDCCCCDLTZcdfghjkmnprtuvy0234442zvrolieWKJRVWXXWUPJFIPTUUUVVUQJLTZbdefhjlnpqrtuvwxxxxwutuuvvvvvvvwwwwwvvvuuttsrrqqppoonlkjiiijklmoprstuuvwwxyyzzzz00zywvtplhfeefilmmlkihhghhiiihgfffffKLLIFDCCCCDLTZcdfghjklnprtuvy0234442zvrolifWKJQVWXXWUPJFJPTUUVVVUQJKTZbdefhjlnpqrsuvwxxxxwuttuvvvvvvvwwwwwvvvvuttssrqqppponlkjjijjklmoqrstuvvwwxyzzzzz00zywvtpkhffefilmmlkjhhghhiiihgfffffKLLIFDCCCCDLTZbdfghiklnprtuvy0234442zvrolifXKIQVWXXWUPJFJPTUUVVVUQJKTZbdefhjlnpqrsuvwxxxxwtttuvvvvvvvwwwwwwvvvuutssrrqqpponmkjjjjklmnoqrttuvvwxxyzzzz000zywvtpkhffefilmmlkjhhghhiiihggffffJLLIFDCCCCDLTYbdfghiklnprtuvy0334442zvrolifXKIQVWXWWUPJFJPTUVVVVURJKTYbdefhjlnpqrsuvwxxxxvtstuuvvvvvvwwwwwwvvvuutssrrqqpppomlkkjkklmnpqstuuvvwxxyzzzz000zywvtpkhffegilmmlkjihghhiiihggffffJLLIFDCCCCDLTYbdfghijlnprtuvy0334442zvrolifXLIQVWWWWUPJFJPTUVVVVVRKKSYbdefhjlnpqrsuvwxxxxvtstuuvvvvvwwwwwwwvvvuuttsrrqqqppomlkkkklmmopqstuuvwwxxyzzzz000zywvtpkhffegjlnmlkjihghhiiihggffffJLLIFDDDDDDLTYbdfghijlnprtuvy0334442zvrolifXLIPVWWWWUQJFJPTUVVVVVRKKSYbdefhjlnpqrsuvwxxxxvsstuuvvvvvwwwwwwwvvvuuttssrrqqqponllkkllmnoprstuvvwwxyyzzzz000zywvtpkhffegjmnmlkjihghhiiihgggfffJLLIEDDDDDDLTYbdeghijlnprtuvy0334442zvrolifYLIPVWWWWUQJFJPTUVVVVVRKKSYbcefhjlnpqrsuvwwxxxvsrsuuvvvvvwwwwwwwvvvuuttssrrqqqponmllllmmnoqrstuvvwwxyyzzzz000zyxvtpkhffegjmnmlkjihghhiiihgggfffJLLIEDDDDDDKTYbdeghijlnprtuvy0334442zvrolifYMHPUWWWWUQJFJPTVVVVWVSKKSYbcefhjlnpqrsuvwwxxxvsrstuvvvvvwwwwwwwvvvvuttssrrrqqqpnmmllmmnopqrtuuvvwxxyyzzzz000zyxvtpkhffegjmnmlkjihghhiiihgggfffJLLIEDDDDDDKTYbdefgijlmprtuvy1334442zvrolifYMHOUWWWWUQJGJPTVVVWWVSKKSYbcefhjlnoqrsuvwwxxwvsrstuvvvvvwwwwwwwwvvvuuttssrrrqqponmmmmnnopqstuuvwwxxyyzzzz000zyxvtokhfffgjmnmlkjihgghiiihggggffJKLIEDDDDDDKTYbdefghjlmortuvy1334442zvrolifZMHOUWWWWUQJGJQTVVVWWVSLKSYbcefhjlnoqrsuvwwxxwvrqstuuvvvvwwwwwwwwvvvuuttssrrrqqponmmmmnooprstuvvwwxxyyzzz0000zyxvtokhfffgjmnmlkjihgghiiihhgggffJKLIEDDDDDDKSYbdefghjkmortuwy1334442zvsolifZNHOUWWWWUQJGJQTVVWWWVSLKSYbcefhjlnoqrsuvwwwwwurqrtuuvvvvwwwwwwwwvvvuuttsssrrrqqonnnnnoopqrstuvvwwxxyyzzz0000zyxvtokhfffgjmnmmljihgghiiihhgggffJKLIEDDDDDDKSYbcefghjkmorsuwy1344442zvsoljfZNHNUWWWWUQJGJQUVVWWWWTLKSYbcefhjlnoqrsuvwwwwwurqrtuuvvvvwwwwwwwwvvvuutttssrrrrqponnnnoppqrsuuvwwxxyyyzzz0000zyxvtokhfffgjmnmmlkihgghiiihhgggffJKLIEDDDDDDKSYacefghikmoqsuwy1344442zvsoljgZNHNUVWWWUPJGKQUVVWWWWTLJRYbcefhjlnoqrsuvwwwwwuqprtuuvvvvwwwwwwwwvvvuuuttsssrrrqpoooooopqrstuvvwwxxyyzzzz0000zyxvtokgfffgjmnnmlkihgghiiihhgggffJKLIEDDDDDDKSYacefghikmoqsuwy1344442zvsoljgaOHNUVWWWUPJGKQUVWWWWWTMJRYbcefhjlnoqrsuvwwwwwuqprtuuvvvvwwwwwwwwwvvvuutttsssrrqppooooppqrstuvvwwxxyyzzzz0000zyxvtojgfffgjmnnmlkihgghiiihhggggfJKLIEDDDDDDKSYacefghikmoqsuwy1344442zvsoljgaOHNTVWWWUPIGLRUVWWWWWTMJRXacefhjlnoqrsuvwwwwwuqpqsstuvvvwwwwxwwwwvvvuutttssssrrqppppppqqrstuvwwxxxyyzzz00000zyxvsojgfffgjmnnmlkihgghiiihhggggfJKLIEDDDDDEKSYacefghikmoqsuwy1344442zvspljgaOHMTVWWWUPIGLRUVWWWXWUMJRXacefhjlnoqrsuvwwwwwupoqqpruvvvwwwwxwwwwvvvuuutttsssrrqpppppqqrsttuvwwxxyyyzzz00000zyxvsojgfffgjmnnmlkjhgghiiihhggggfJKLIEDDDDDEJSXacefggikmoqsuwy1344442zvspljgaPGMTVWWWUOIHLRUVWWXXWUMJRXacefhjlnoqrsuvvwwwwtpopporuvvvwwwxxwwwwvvvuuutttssssrqqqqqqqrrstuvvwwxxyyyzzz00000zyxvsojgfffhjmonmlkjhgghiiiihhgggfJKLIEDDDDDEJSXacdefgikmoqsuwy1344442zvspmjgbQHLSVWWVTOIHMSVVWWXXXUNJRXacefhjlnoqrstvvwwwwtpopporuvvvwwwxxwwwwwvvvuuutttsssrrqqqqqrrsstuvwwxxxyyzzzz00000zyxvsojgfffhkmonmlkjhgghiiiihhgggfJKLIEDDDDDEJSXacdefgikloqsuwy1344442zvspmjgbRHKSVWWVTOIHMSVWWWXXXUNJRXacefhjlnoqrstvvwwwwtpnpooruvvvwwwxxxwwwwvvvuuuttttsssrrqqrrrsstuuvwwxxyyyzzzz00000zyxvsojgfffhknonmlkjhgghiiiihhgggfJKLIEDDDDDEJSXacdefghjloqsuwy1344442zvspmjgbRHJSVWWVTOIHNSVWWXXXXUNJQXacefhjlnoqrstvvwwwvtonoooruvvvwwwxxxwwwwvvvvuuuttttssrrrrrrssttuvvwxxxyyyzzz000000zyxvsojgfffhknonmlkjigghiiiihhgggfJKLHEDDDDDEJRXacdefghjloqsuwy1344442zvspmjgcSHJRVVWVTNIHNTVWWXXXXVOJQXacefhjlnoqrstvvwwwvtonoooruvvvwwwxxxwwwwvvvvuuuuttttssrrrssstttuvwwxxyyyyzzz000000zyxvsojgfffhknonmmkjigghiiiihhhgggJKLHEDDDDDEJRXacdefghjlnqsuwy1344443zvspmjgcTIIQUVWVTNIIOTVWWXXXXVOJQXacefhjlnoqrstvvwwwvtomoooruvvvwwwxxxwwwwwvvvuuuuttttssssssstttuuvwwxxyyyzzzz000000zyxwsojgfffhknonnmljigghiiiihhhgggJKLHEDDDDDEJRXacdefghjlnqsuwy1344443zvspmjgcUIHQUVWVTNHIOTVWWXXXXVOJQXacdfijlnoqrstvvvwwvsnmonoruvvvwwwxxxwwwwwvvvvuuuuttttssssstttuuvvwxxyyyyzzzz0000000yxwsojgfffhknonnmljigghiiiihhhgggJKLHEDDDDDEJRXZbdefghjlnqsuwy1344443zvspmjgdUJHPUVWVSNHIOTVWXXXYXVOJQWacdfijlnoqrstvvvvvvsnmnnosuvvvwwwxxxxwwwwvvvvvuuuutttttttttuuuvvwwxxyyyzzzzz0000000yxwsojgffghknoonmljigghiiiihhhgggJKLHEDDDDDEJRXZbdeffhjlnqsuwy1344443zvspmjgdVJGOUVVVSMHJPUWWXXXYYWPJPWacdfijlnoqrstvvvvvvsnlnnosuvvvwwxxxxxwwwwwvvvvvuuuutttttttuuuvvvwwxxyyyzzzz00000000yxwsnjgffghknoonmljigghhiiiihhgggIKLHEDDDDDEIRXZbdeefhjlnqsuwy1344443zvspmjgdWKGOTVVVSMHJPUWWXXYYYWPJPWacdgijlnoqrstvvvvvvsmlnnosuvvvwwxxxxxwwwwwvvvvvuuuuuttttuuuuvvvwwxxyyyzzzzz00000000yxwsnigffghknoonmljigghhiiiihhgggIKLHEDDDDDEIRXZbdeefhjlnqsuwz1344443zvspmjgdWLGNTVVVSMHJQUWWXXYYYWPJPWacdgijlnoqrstvvvvvvsmlmnosuvvvwwxxxxxwwwwwwvvvvvuuuuuttuuuuvvvvwwxxyyyzzzzz00000000yxwsnigggghknoonmljigghhiiiihhgggIKKHEDDDDDEJRXZbdeefhjlnqsuwz1344442zvspmjhdXLFMTVVVSMHKQUWXXXYYYWPJQWacegijlnoqrsuvwwwvvsmlmmosuvvvwwxxxxxwwwwwwvvvvvuuuuutuuuuuvvvvwwxxyyyzzzzzz000000zyxvsnjgggghknoonmljihghiiiiihhhggIJKHEDDDDDEJSXZbdeefhilnqsvxz1344442zvspmjheYMFMTVVVSLHKQVWXXYYYYWPJQXacegiklnoqrtuvwwwwvsmlmmpsuvvwwwxxxxxwwwwwwvvvvvuuuuutuuuuuvvvvwwxxyyyzzzzzz000000zyxvsnjgggghknoonmljihghiiiiihhhggIJKHEDDDDDEJSXabdeefhiknqsvxz1344442zvspmjheYNFLTVWVRLIKRVWXXYYYYWOJQXacegiklnoqrtuvwwwwvsmlmmptuvvwwwxxxxxwwwwwwvvvvvuuuuutuuuuuvvvvwwxxyyyzzzzzz000000zyxvsnjggggiknoonmljihghiiiiihhhggIJKHEDDDDDEJSXabdeefgiknqsvxz1344442zvspmjheZOFKSVWVRLILRVXXYYYYYWOJQXacegiklnoqrtuwwwwwvsmlmmptuvvwwwxxxxxwwwwwwvvvvvuuuuutuuuuuvvvvwwxxyyyyzzzzzz00000zyxvsnjggggiknoonmljihghiiiiihhhggIJJGEDDDDDEJSYacdeefgiknqsvxz1344442zvspmkheZPFKSVWUQKILSWXXYYYYYWOJRXacegiklnoqrtvwwxxwvsmlmmptuvvwwwxxxxxwwwwwwvvvvvuuuuutuuuuuvvvvwwxxyyyyzzzzzz00000zyxvsnjggggiknoonmljihhhiiiiihhhggIJJGDDDDDDEJTYacdeefgiknqsvxz1344442zvspmkheaQFJSVVUPJHMSWXYYYYYYVOJRYacegiklnoqstvwxxxwvsmlmmptvvvwwwxxxxxwwwwwwvvvvvuuuuutuuuuuvvvvwwxxxyyyzzzzzzz0000zywvsnjggggiknoonmljihhhiiiiihhhggIIJGDDDDDDEJTYacdeefgiknqtvxz1344442zvspmkhfaRGIRVVTOIINTWXYYYYYYVNJRYbcegiklnoqstvwxxxwvsmlmmqtvvvwwwxxxxxwwwwwwvvvvvuuuuutuuuuuvvvvwwxxxyyyzzzzzzzz000zywvsnjggggiknoonmljihhhiiiiihhhggIIJGDDDDDDEJTYacdeefgikmqtvx01344442zvspmkhfbSGHRVVTNIIOUXYYYZZYYVNJRYbdegiklnoqsuvwxyxxvsmlmmqtvvvwwwxxxxxwwwwwwvvvvvuuuuutuuuuuvvvvwwxxxyyyyzzzzzzzz00zywvsnjggghiknoonmkjihhhiiiiihhhggHIIGDDDDDDEJUYacdeefgikmqtvy02344442zvspmkifbTHHQVVSMHIPUXYYZZZZYVNJSYbdfgiklnoqsuvxxyyxvsmlmmquvvvwwwxxxxxwwwwwwvvvvvuuuuutuuuuuvvvvwwxxxyyyyzzzzzzzzzzzywvsnjggghilnoonmkjihhhiiiiihhhggHIIGDDDDDDEKUYacdeefgikmqtvy02344432zvspmkifcUIFOUURLGJQVXYZZZZZYVNJSYbdfgiklnoqsuwxyyyxvsmlmmquvvvwwwxxxxxwwwwwwvvvvvuuuuutuuuuuvvvvwwxxxyyyyzzzzzzzzzzzxwusnjggghilnoonmkjihhiiiiiihhhggHIIGDDDDDDEKUYacdeefgikmqtvy02344432yvspmkifcWKFMTUQJGKRVXYZZZZZYVMJSZbdfhiklnoqsuwxyyyxwsmllmruvvwwwwxxxxxwwwwwwvvvvvuuuuutuuuuuvvvvwwxxxyyyyzzzzzzzzzzzxwusnjggghilnoonmkjihhiiiiiihhhhgHIIGDDDDDDEKUZacdeefgikmqtwy02344431yvrpmkigdYNFJRTOIGKRWYYZZZZZYVMJTZbdfhiklnoqsuwxyzyxwsmllnruvvwwwwxxxxxwwwwwwvvvvvuuuuutuuuuuvvvvwwxxxyyyyzzzzzzzzzzzxwurnjhgghilnoonmkjiihiiiiiihhhhgHHHFDDDDDDEKVZbcdeefgijmqtwy02344431yvrpmkigdZQGHPRNHGLSWYZZaZZZYUMJTZbdfhiklnoqsvwyyzzxwsmklnruvvwwwwxxxxxwwwwwwvvvvvuuuuutuuuuuvvvvwwxxxyyyyyzzzzzzzzzyxwurnjhgghilnoonmkjiihiiiiiihhhhgHHHFDDDDDDEKVZbcdeefgijmqtwy02344431yvrpmkigeaTIFNPLGGMTWYZZaZZYWSLJTZcdfhjklnoqsvxyzzzxwsmklnruvvwwwwxxxxxwwwwwwvvvvvuuuuutuuuuuvvvvwwwxxxyyyyzzzzzzzzzyxwurnjhgghjlnoonlkjiiiiiiiiihhhhgHHHFDDDDDDEKVZbcdeefgijmqtwy02344431yvrpmkigebVKEKNJFGMTXYZaaaYWRNJJTZcdfhjkmnoqtvxyzzzywsmklnsuvvwwwwxxxxxwwwwwwvvvvvuuuuutuuuuuvvvvwwwxxxyyyyzzzzzzzzzyxvurnkhgghjlnoonlkjiiiiiiiiihhhhgHHHFDDDDDDEKVZbcdeefgijmqtwz12344431yvrpmkigebWMEHKHEGNTXYZaaaYTLHHJTacefhjkmnoqtvxyz0zywsmklnsvvvwwwxxxxxxwwwwwwvvvvvuuuuutuuuuuvvvvwwwxxxyyyyzzzzzzzzzyxvurnkhghhjlnoonlkjiiiiiiiiihhhhgHHGFDDDDDDEKWZbcdeefghjmqtwz12344431yvromkjgebXPFFHFDGNTXYZaaaYSJFGJTacefhjkmnoqtvxyz00ywsmklnsvvwwwwxxxxxxwwwwwwvvvvvuuuuutuuuuuvvvvwwwxxxyyyyzzzzzzzzzyxvurnkhghhjlnoonlkjiiiiiiiiiihhhhHGGFDDDDDDELWZbcdeefghjmqtwz12344431yvromljhecYQGDFDCGNTXYZabaYTKFFIUaceghjkmnoqtwxz000ywsmklnsvvwwwwxxxxxxwwwwwwvvvvvuuuuutuuuuuvvvvwwwxxxyyyyzzzzzzzzzyxvurnkhghijlnoonlkjiiiiiiiiiihhhhGGGFDDDDDDELWabcdeefghjmqtwz12344431yvromljhecYSIDDCCGNTWYaabaZUMFFIUaceghjkmnoqtwyz010ywsmklntvvwwwwxxxxxxwwwwwwvvvvvuuuuutuuuuuvvvvwwwxxxyyyyyzzzzzzzzyxvtrnkhghijlnoonlkjiiiiiiiiiihhhhGGGEDDDDDDELXabcdeefghjmqtwz12344431yuromljhfcYTJDCCCFMTWYabbaZVNFFJUaceghjkmnoqtwyz010ywsmklotvvwwwwxxxxxxwwwwwwvvvvvuuuuutuuuuuvvvvwwwxxxxyyyyzzzzzzzzywvtrnkhghijlnoonlkjjiiiiiiiiihhhhGGFEDDDDDDELXabcdeefghjlqtwz12344421yuromljhfcZULECBCFMTWZabbbZWOGFJUadegijkmnoqtwyz011ywsmklotvwwwwwxxxxxxwwwwwwvvvvvuuuuutuuuuuvvvvwwwxxxxyyyyzzzzzzzzywvtrnkhghijlnoonlkjjiiiiiiiiihhhhGGFEDDDDDDELXabcdeefghjlqtxz12344421yuronljhfcZUNFCBCGNTXZabbbaXQHFKVbdegijkmnortwy0111zwsmklotvwwwwwxxxxxxwwwwwwvvvvvuuuuutuuuuuvvvwwwwxxxxyyyyyzzzzzzzywvtrnkhghijlnoonlkjjiiiiiiiiihhhhGGFEDDDDDDELXaccdeefghilqtx022344421yuronljhfcZVOGCCCGOTXZabcbaXRHFKVbdfgijkmnoruwz0121zwsmkkouvwwwwwxxxxxxwwwwwwvvvvvuuuuutuuuuuvvvwwwwxxxxyyyyyyyyyyzyywvtrnkhghijlnoonlkjjjijiiiiiihhhhGFFEDDDDDDELYacddeefghilqux022344420yuronljhfdaWQIDCDHPUXZbccbaYSIFKUbdfgijlmnoruxz0121zwsmkkpuvwwwwwxxxxxxwwwwwwvvvvvuuuuutuuuuuvvvwwwwxxxxyyyyyyyyyyyyywvtqnkhghijlnoonlkjjjjjjiiiiihhhhGFEEDDDDDDEMYacddeefghilptx023344420yuromljhfdaXRKEDDIQVYZbccbaZTKGLVbdfgijlmnpruxz0121zwsmklpuvwwwwxxxxxxxxwwwwwwvvvvvuuuuuuuuuvvvvwwwwwxxxxyyyyyyyyyyyxwutqnkhghiklnoonlkjjjjjjiiiiihhhhFFEEDDDDDDFNYacddeefghjlptw023344421yuromljhfdbYTNGEFLSWYabcccbaVOLRYcdfgiklmopruwyz010ywsnklpuvwwwwxxxxxxxxxwwwwwwvvvvvuuuuuuuuvvvvwwwwwxxxxyyyyyyyyyyyxwusqnkihhjklmoomlkjjjjjjiiiiihhhhFFEEDDDDDDGOYacddeffghjlpswz23444431yuromkjhfdbZVQKFHOUXZabcccbaYSRXbdefhiklnopruwyz000ywsollquvwwwwxxxxxxxxxxxwwwwwvvvvvuuuuuuuvvvvwwwwwxxxxyyyyyyyyyyyxvusqnkihijklmnnmlkjjjjjjiiiihhhhhFEEDDDDDDDGPYacdeefghijlpsvz23445431yvromkjhfecaXTMHJQVYZabccccbZVVacdefhjkmnopruwxyz0zywtolmquvwwwwxxxxxxxxxxxxxwwwwvvvvuuuuuuvvvvvwwwwwxxxxxyyyyyyyyxxwvtsqnlihijklmnnmlkkjjjjjiiiihhhhgFEEDDDDDDDHQYacdeffghijlorvz23455431yvromkihfecaYVOIKSWYaabcdcccbaacdeefhjkmnoqsuvxyyzzxvtpmmquvwwwwxxxyyyxxxxxxxxxwwwvvvvuuuuuvvvvvwwwwwxxxxxyyyyyxxxxxwvtrpnliiijklmnnmlkkjjjjjiiiihhhhgEEEDDDDDDDIRYabdeffghijloruz23455431yvrolkihgedbZWQJLTXZabbcdddddcddeeefhjlmopqsuvwxyyyxvtpmmruvwwwwxxxyyyyyxxxxxxxxwwwvvvuuuuvvvvvvwwwwwxxxxxxyyyxxxxxxwutrpnljijkllmnnmllkkjjjjiiihhhhggEEDDDDDDCDJSYabdefgghijloquz23455431yvroljihgedbaXRKMTYZabccddddddeeeeffhjlnopqsuvwwxyxwvtqnnruvwwwxxxxyyyyyyyyxxxxxxwwwvvvuuuvvvvvvwwwwwwxxxxxxxxxxxxxwvusrpnljijkllmnnmmlkkkjjjiiihhhhggEEDDDDDCCDJTYabdefghiikloqtz23555431yvroljihgedcaYSLMUYabbccddeeeeeeefffhjlnoprsuvvwwxxwvtqnnruvwwwxxxyyyyyyyyyyyyxxxwwwvvvuuvvvvvvvwwwwwwxxxxxxxxxxxwwwvusrpnljijklmmmmmmlkkkjjjiiihhhhggDDDDDDCCCDKUYabdefghijklnpty24555431yvroljihgedcbYTMNUZabbcddeeefffffffghkmnoqrstuvvwwwvvtrnosuvvwwxxxyyyyyyyyyyyyyxxxwwwvvvvvvvvvvwwwwwwwxxxxxxxxxxwwwwvtsqpnljjjklmmmmmmllkkjjjiiihhhgggDDDDDCCCCDLUYabdfgghijklnpty24555442yvsolihhgfecbZUNNUZabccddeeffffffffgikmnpqrttuuvvvvvuuroosuvvwwxxxyyyyyyyyyyyyyyxxxwwvvvvvvvvvvwwwwwwwwxxxxxxxxwwwwvvtrqonljjkklmmmmmmllkkjjjiiihhhgggDDDDDCCCCDLVYabdfghhijklnpsy24565441yvrolihggfecbZVONUZbbccddefffgggfffgikmopqsttuuvvvvvuuroosuvvwwxxxyyyyyyyyyyyyyyxxxwwwvvvvvvvvvvwwwwwwwwxxxxxxwwwwvvutrqonlkjkllmmmmmmllkkjjjiiihhhgggDDDDDCCCCDLVYabdfghhijklnpsy24565431yvrokihggfecbaWPNTYabccddeffgggfdbdgikmopqstuuuvvvvvutropsuvvwwxxyyyyyyzzzzyyyyyyxxxwwvvvvvvvvvvvvwwwwwwwwwwwwwwvvvvusrponlkjkllmmmmmmllkkkjjiiihhhgggDDDDDCCCCDLVYabdfghhijkmnpsy24565431yurnkihgffecbaXQNRYabccddeffgggfXOVfikmopqstuuuvvvvvutroptuvwwxxxyyyyzzzzzzzzyyyyxxxwwvvvvvvvvvvvvvvwwwwwwwwwwvvvvuutsrponlkkkllmmmmmmllkkkjjiiihhhgggDDDDDCCCCDLVYZbdfghiijkmnpsy24565431yurnkihgffdcbaXRNQXabccddeffgggeUJUfjlnoprstuuuvvvvvutroptuvwwxxxyyyzzzzzzzzzzyyyxxxwwwvvvvvvvvvvvvvvvvvvwwwwvvvuuuutsqpomlkkklllmmmmlllkkkjjiiiihhhggDDDDDCCCCDLVXZbdfghiijkmnpsy24555431xuqnkihgfedcbaYTOPWabccddeffgggdRJWgjlnoprstuuuvvvvvutqnptuvwwxxxyyyzzzzzzzzzzyyyyxxwwwvvvvvvvvvvvvvvvvvvvvvvvvuuuttsrqpomlkkklllllllllllkkjjjiiihhhggDDDDDCCCCDLVXZbdfghiijkmnpsy24555430xuqnkihgfedcbaYUPPVabccddeffgggcPKYhjlnoqrstuuuvvvvuutqnqtuvwwxxyyyyzzzzzzzzzzyyyyxxxwwvvvvvvvvvvvvvvvvvvvvvvuuuutttsrqpomlkkklllllllllllkkjjjiiihhhggDDDDDCCCCDMUXZbdfghijjkmnpsy24555430xuqnkihgfedcbaYVQOUZbccddeffgggbMMbhklnoqrstuuuvvvvuutqnqtuvwwxxyyyzzzzzzzzzzzzyyyxxxwwvvvvvvuuuuuuuuuuuuuuuuuutttssrqponmlkkklllllllllllkkjjjiiihhhhgDDDDDCCCCDMUXZbdfghijjlmnpsy24555430xtqmjihgfedcbaZWROTZbccddeffggfZKOdikmnpqrstuuuvvvvuutpnqtuvwwxyyyyzzzzzzzzzzzzyyyyxxwwvvvvvuuuuuuuuuuuuuuuuuutttsssrqponmllkllllllllllllkkjjjiiiihhhgDDDDDCCCCDMUXZbdfghijklmnpsy24555420wtqmjihgfedcbaZWSORYbccddeffggfXJRejkmnpqrstuuuvvvvuusolptuvwwxyyyyzzzzzzzzzzzzyyyyxxwwwvvvvuuuuuuuuuuuuuuuutttssssrrqponmmlkllllllllllllkkkjjjiiihhhgDDDDDCCCCDMUXZbdfghijklmnpsy24555420wtpmjihgfedcbaZXUPQWaccddeffggfVITgjlmopqrstuuuvvvvuurlhntuvwxxyyyyzzzzzzzzzzzzyyyyxxxwwvvvuuuuuuuuuuuttttttttsssrrrqpponmmllllllllllllllkkkjjjiiihhhgDDDDDCCCCDMUXZbdfghijklmnpsy2455542zwtpmjihgfedcbaZXVQOUabcddeffggeSJWhklmopqrstuuvvvvvuurjgntuvwxxyyyzzzzzzzzzzzzzzyyyyxxwwvvvuuuuuuutttttttttttsssrrrqqpoonmmllllllllllllllkkkjjjiiihhhhDDDDDCCCCDMUXZbdfghijklmnpsy2455542zwspljihgfedcbaZYWROSZbcddeffggdPKZiklnopqrstuuvvvvvutqjiptuvwxxyyyzzzzzzzzzzzzzzyyyyxxwwvvvuuuuuttttttttttssssrrrqqqpponnmmllllllllllllllkkkjjjjiiihhhDDDDDCCCCDMUXZbdfghijklmnpsy2455542zwspljihgfedcbaZYXTOQXbcddeffggbNLbjkmnopqrttuuvvvvvutphjqtuvwxyyyyzzzzzzzzzzzzzzzyyyxxwwvvvuuutttttttttssssssrrrqqqppoonnmmllllllllllllllkkkkjjjiiihhhDDDDDCCCCDMUXZbdfghijklmnpsy2455542zvsoljihgfedcbaZYYUPPVacddeffggaLOdjlmnopqsttuuvvvvvutnfkrtuvwxyyyzzzzzzzzzzzzzzzzyyyxxwwwvvuuttttttttsssssssrrrqqpppoonnnmmllllllllllllllkkkkjjjiiihhhDDDDDCCCCDMUXZbdfghijklmnpsy2455542zvsoljihgfedcbaZYYWQOTZcddeffgfYJQfklmnoprsttuuvvvvuuskelstuvwxyyzzzzzzzz00zzzzzzzzyyyxxwwvvuuttttttssssssrrrrrqqpppoonnnmmmmlllllllllllllkkkkjjjiiihhhDDDDDCCCCDMUXZbdfghijklmnpsy2455542yvsoljihgfedcbaZYYXSNRYbcdeefgeVJTgklmnopqrstuuuvvvuuridmstuvwxyyzzzzzzz000zzzzzzzzyyyxxwwvvuutttttssssssrrrrrqqpppooonnnmmmmllllkkkkkkkkkkkkkjjjiiihhhDDDDCCCCCDLTWZbdeghijklmnpsy2455542zvspljihgfedcbaZYZYUOPWbcddeffdSIWhklmnopqrsttuuvvvutpfdntuuvwxyzzzzzzz00000zzzzzzzyyyxxwwvvuutttttsssssrrrrrqqqpppoonnnnmmmmlllkkkkkkkkkkkkkjjjiiihhhhDDCCCCCCCDKRVZbdeghijklmnosx1355542zwspmjihgfedcbaZZZZVPNSZbcddefcQJYhjklmnopqssttuuvuutncdotuuvwxyzzzzzz000000zzzzzzzyyyxxwwvvuutttttsssssrrrrrqqqpppoonnnmmmmllllkkkkkkkkkkkkjjjiiihhhggCCCCCCCCCDIOUYbdefhijklmnorx1355542zwtpmkjigfedcbaZZZZYSMOWabcdeeaNLahjklmnopqrsstuuuuuslaeptuvwwxyzzzz000000000zzzzzyyyxxwwwvvuutttttsssssrrrrqqqpppooonnnmmmmlllkkkkkkkkkkjjjjjiiihhhgggCCCCCCCCCCGMSXbdefghijlmnorw1345542zwtpmkjihfedcbaZZZaZVOLRXabcddYLNbhjjklmnopqrsttuuuuriYgquuvwxxyzzzz000000000zzzzzyyyxxwwvvvuutttttssssrrrrrqqqpppooonnnmmmllllkkkkkkkjjjjjjjiiihhhggggBBBBBBBBBCFLSXbcefghijkmnorw1345542zwtqnkjihgedcbaaZZaaYRLNTXZaccXLQdhijkklnopqrssttuuuqfXiruvvwxyyzzz0000000000zzzzzyyyxxwwvvvuuttttsssssrrrrqqqqpppoonnnmmmmllllkkkkkjjjjjjjjiiihhhggggfBBBBBBBBBCFLSXbcefghijklnorw0345442zwtqnljihgedcbaaZZaaZVMJOTWYbcbWYfhiijklmnopqrsttuutpeZksuvvwxyyzzz00000000000zzzzyyyxxwwvvvuuttttsssssrrrrqqqpppooonnnmmmmlllkkkkkjjjjjjjiiiihhhggggffBBBBBBBBBCFLRXacefghijklnoqv0344442zxuqnlkihgfdcbaaZaaaaXQIJOSVZcddegghijjklnopqrrsttutocbntuvwwxyyzz000000000000zzzzyyyxxwwvvvuuttttssssrrrrqqqqpppooonnnmmmllllkkkkjjjjjjiiiiihhhggggfffBBBBBBBBBCFLRXacefghijklmoqv03444420xuromkjhgfedcbaZaaaaZTKGJOSXbdeffghhijklmnopqrsttutmbdotuvwxxyzzz000000000000zzzzyyyxxwwvvvuuttttssssrrrrqqqqpppooonnnmmmlllkkkkjjjjjiiiiiihhhggggfffeBBBBBBBBBCFLRWacdfghijklmoqu02444420xuromkjhgfedcbaaaaaaZVMFFJPVacdefgghiijkmnopqrssttslbgqtvvwxxyzzz0001100000000zzzyyyxxwwvvvuuttttssssrrrrqqqpppooonnnmmmmlllkkkjjjjjiiiiihhhhggggfffeeBBBBBBBBBCFKRWacdfghijklmoquz2344420xurpmljigfedcbaaaaaaZWOGEGMTZcdeffgghijklmnppqrsttrjbiruvwwxyyzz00011110000000zzzyyyxxwwvvvuuttttssssrrrqqqqpppooonnnmmmllllkkkjjjjiiiiihhhhgggffffeeeBBBBBBBBBCFKRWacdefgijklmnpuz2344420yvspnljigfedcbaaaaaaZWPGDEKSYbddeffgghijlmnopqrsttqhclsuvwxxyyzz00011111000000zzzyyxxxwwvvuuuttttsssrrrrqqqqpppooonnnmmmlllkkkkjjjiiiiihhhhgggffffeeeeBBBBBBBBBCFKRWacdefghiklmnptz2344420yvspnlkigfedcbaaaaaaZWPHDEJRXbcdeeffghijklmopqrrstpgensuvwxxyyzz00111111100000zzzyyxxwwwvvuuuttttsssrrrrqqqpppooonnnmmmmlllkkkjjjjiiiihhhggggffffeeeddBBBBBBBBBCFKQWacdefghijlmnpty2344420yvsqnmkigfedcbaaaaaaZWQIDEJRXacddeeffghijlmnopqrssofgosuvwxyyzzz00111111100000zzzyyxxwwwvvuuuttttsssrrrqqqqpppooonnnmmmllllkkkjjjiiiihhhggggffffeeedddBBBBBBBBBCEKQWabdefghijlmnpty2344420yvtqomkigfedcbaaaaaaZXSKFEJRXaccddeefggijklnopqrssnfiptuvwxyyzz000111111100000zzzyyxxwwvvvuuuttttsssrrrqqqppppooonnnmmmlllkkkjjjjiiihhhggggfffeeeeddddBBBBBBBBBCEJQVZbcdefghjkmnpty2344420ywtqomkihfedcbbbbbbbaYTNHFKSYabcddeeffghjklnopqrssmfkrtuwxyyyzz000111111100000zzyyxxxwwvvvuuutttsssrrrqqqppppooonnnmmmllllkkkjjjiiihhhggggfffeeeeddddcBBBBBBBBBCEJPUYabcdefghjlnpty2334421ywtronljhgfedcbbbbbbaZVQKHMUYbccddeeffghjkmnoprstsmhnsuvwxyyzzz0001111100000zzzyyxxxwwvvuuutttssssrrrqqqpppoooonnnmmmlllkkkkjjjiiihhhhgggffffeeeedddccBBBBBBBBBCEIOSWYZbcdefgilnpty1334321ywtrpnljhgfedcccccccbaXUQORWZbccddeeffghjkmopqrsttokquvwxyyzzz000011110000zzzzyyxxxwwvvuuutttsssrrrqqqppppooonnnnmmmlllkkkkjjjiiihhhhgggffffeeeeddddccBBBBBBBBBCDHMQUXYZabcefilnquy1334321ywtrpnljigffedcccccccbZXVUWYabccdddeffghjlmoprstuutsuvwwxyzzzz00001110000zzzzyyxxxwwvvuuutttsssrrrqqqpppoooonnnmmmmlllkkkjjjjiiihhhhgggffffeeeeddddcccBBBBBBBBBCDGKOSVXYZabcehknquz1334321zwurpnmkihgfedddddddccbZYYYabbccdddeefghjlnoqrstuvwwwwwxyzzz000000011000zzzyyyxxxwwvvuutttsssrrrqqqppppooonnnnmmmllllkkkjjjjiiihhhhgggffffeeeeddddccccBBBBBBBBBBCEIMQTVXYZabcgknruz1334321zwuspomkihgffeddddddddcbaZabbccccddeefghjlnpqstuvwxxxxxyzz0000000000000zzzyyyxxxwwvvuutttsssrrrqqqpppoooonnnmmmmlllkkkkjjjiiiihhhhggggfffeeeeddddccccbBBBBBBBCCCDEGKNRUVWXYabfkorvz1333321zwusqomkjhhgfeeeeeeeeddcbbbbcccccddeefghjlnprstuwxxyyyyzz0000000000000zzzyyyxxxwwvvuutttssrrrqqqpppoooonnnmmmmllllkkkjjjjiiiihhhggggfffffeeeeddddccccbBBBBBCCDEEEEFILPSUVWXYaejorvz1333321zwusqomljihggfeeeeeeeeddcbbccccccddeefghjloqrtuvwxyyyyzz00000000000000zzyyyxxxwwvvuutttssrrrqqqpppooonnnnmmmmlllkkkkjjjjiiihhhhggggfffffeeeeddddccccbbBBCCDDEEEFFFFHJNQSUVWXZejoswz1333321zxusqonljihhgffffffffeeddccccccccddeeffhjmoqstuwxyzzzz000111110000000zzzyyxxxwwvvuutttssrrrqqpppooonnnnmmmmllllkkkkjjjiiiihhhhggggfffffeeeeddddccccbbbCCDDDEFGGFEFGHILORSTVWXdjoswz1233321zxusrpnljiihhggfffffffeedccccccccddeeffhjmorsuvwxzz000011111111000000zzyyxxxwwvvuutttssrrrqqpppooonnnmmmmllllkkkkjjjjiiiihhhhggggffffeeeeeddddccccbbbbDDEFGGFFHJHFFGIKNPSTUVXcioswz1233221zxvtrpomkjjiihhggggggffeeddccccccddeffghkmprtuwxyz000111111111100000zzyyyxxwwvvvuuttssrrrqqpppooonnnmmmmllllkkkkjjjjiiiihhhhggggffffeeeeeddddccccbbbbaFFFEGIJIGGIIHGHKMPRTUVXcinrvy0122221zxvtrqonlkkjjiiihhhhhgffedddddddddeefghilnqsuvwxy0001111111111100000zzyyxxxwwvvuutttssrrqqqpppoonnnmmmmllllkkkkjjjjiiiihhhhggggfffffeeeeddddccccbbbaaaEGIIHGHJKIGGIIIJLOQTUWXdinrvxz111110zxvtsqponmllkkjjjiiihhgfeeddddddddefghijmortvwxyz001111111111110000zzzyyxxwwvvvuuttssrrrqqpppooonnnmmmmllllkkkkjjjjiiiihhhhggggffffeeeeddddccccbbbaaaaGFGIKJHGHJKIGGIKLMPRUWYdinruxz011110yxvusrqponmmmllkkkjjihggfeeddddddeefghiikoruvxyyz011111111111110000zzzyyxxwwvvuutttssrrqqqpppooonnmmmmllllkkkkjjjjiiiihhhhggggffffeeeeddddccccbbbaaaZZGIIGGIKJHGHJKIGHKMOQTWYdinqtwyz00000yxvutsrqpoonnnmmllkjjihgffeeeddddefghigZYkruwxyz011111111211110000zzzyyxxxwwvvuuttsssrrqqpppooonnnmmmmllllkkkkjjjjiiiihhhhggggffffeeeedddccccbbbaaaZZZEGJKIGGIKJHGHJKIHJMPSVYdimqtvxzz000zyxvutssrqpppooonnmlkjjihgfeeeedddefghhaNLfrvxyz0011111122211110000zzzyyxxwwvvuuuttssrrqqqpppooonnnmmmllllkkkkjjjjiiiihhhhggggffffeeeeddddcccbbbaaaZZZYGGGHJKIGGIKJHGHJJIJMQUYdimpsvxyzzzzzyxwvutssrrqqqppponmlkjihggfeeeedeefghdRHSltwyz00112222222211110000zzzyyxxwwvvuuttsssrrqqpppooonnnmmmmllllkkkkjjjjiiiihhhhggggffffeeeddddcccbbbaaaZZZYYFIJIGHJKIGGIKJHGHJKLOSXdhmpsuwxyyzzzyxwvuuttsssrrrqqponmlkjihgffeeeeefghfVJNfrvxz00112222222221111000zzzyyxxxwwvvuuttssrrrqqpppooonnnmmmllllkkkkjjjjiiiihhhhggggffffeeeedddccccbbaaaZZZYYXFFHJKIGHJKIGGIKJHGILOSWdhlprtvxxyyzyyxwvvuuuutttsssrrponmkjihgfffeeeefgfZMJYouwyz01122222222221111000zzzyyxxwwvvuutttssrrqqpppooonnnmmmmllllkkkkjjjjiiiihhhhggggffffeeedddccccbbbaaZZZYYXXHHHGHJJIGHJKIGGIKJHJNSWchloqtuwxxyyyxxwvvvvvvvuuutttsrpomlkjihgffeeeefgcQHSjsvxz012222322222221110000zzzyyxxwwvvuuttssrrrqqpppooonnnmmmllllkkkkjjjjiiiihhhhggggffffeeeedddcccbbbaaZZYYXWVUEHKJHGIJJHGHJKIGGIKKMQVbhloqsuvwwxxxxwwvvvvvvvvvvuuutsqpnmlkjihgfffeffdUIMepuwyz12222332222221111000zzzyyxxwwvvuutttssrrqqpppooonnnmmmmllllkkkkjjjjiiiihhhhggggffffeeedddccccbbbaZZYXWVTSRFFGIKJHGIKJHGHJKIGGJNQUagknprsuuvwwwwwvvvvvvvvvvvvvuusrqpnmlkjihgggffeXKJYmsvxy01222233222221111000zzzyyxxwwvvvuuttssrrrqqppooonnnmmmllllkkkkjjjjjiiiihhhhggggffffeeeedddcccbbaaZYXVUTRQONGIIGGIKJHGIKJHGHJKIHKPUZfjmoprstuvvvvvvvvvvvvwwvvvvvutsrqponmkjihhhgfZNIUjruwyz012223322222111100zzzyyyxxwwwvvuuttssrrrqqpppoonnnnmmmlllkkkkjjjjiiiiihhhhggggffffeeeedddcccbaZYXWUTSQPNMKJEGJKIGGIKJHGIKJHGHJKKNRYejlnoqrsttuuuuuuuuvvvwwwwwvvvutsrqponmkjiihgbPHQgptvxyz01223332222111100zzzyyyxxwwwvvuuttsssrrqqqppooonnnmmmlllkkkkjjjjiiiihhhhhggggffffeeeeddddccbaYWVTSQPNMKJIGFGGGHJKIGGIKJHGIKJHGHKORXdikmnpqrrsttttuuuuvvvwwwwwwwwvutsrrqpnmkjjieTINdnsuwyz012233322221111000zzyyyxxwwvvvuuttsssrrqqqppooonnnmmmlllkkkkjjjjiiiihhhhhggggffffeeeeedddcbaYWUSQPNMKJHGFEDDFIJHGHJKIGGJKJHGIKJHIMRXdhklmoppqrssttttuuvvwwwwwwwwwwvuutsrqpnlkkjeRMZmrtvxy001223332222111000zzyyyxxwwvvvuutttssrrrqqpppoonnnmmmlllkkkjjjjjiiiihhhhhggggffffeeeeeddcbaYWUSQOMKJHGFEDDCCBEFIKJHGHJKIGGJKJHGIKKLQWchjklmnopqrrsssttuuvwwwxxxxxxxwvvuutsqomllkidckqtvwyz01223333222111000zzyyyxxwwvvvuutttssrrrqqpppooonnmmmlllkkkjjjjjiiiihhhhgggggffffeeeeddcbaYWUSQNLJHGFEDCCCBBBBHHGGIKJHGHJKIGHJKJHGIMQVbgijklmnoppqrrsstuuvwwxxxxxyyxxxwwvvtrpommlllmqsuwxz01122333322211100zzzyyxxwwvvuuutttssrrrqqqppooonnnmmlllkkkjjjjiiiiihhhhgggggffffeeeedcbaYWURPNLJHFEDCCBBBBBBBBFHKJGGIKJHGHJKIGHJKJHKPVafhijklmnnopqrrsttuvwwxxxyyyyyyyxxxwvtrpnnmmnpruwxz01122333332221100zzzyyxxwwvvuuuttsssrrrqqqpppoonnnmmmllkkkjjjjiiiiihhhhgggggffffeeedcbZYWTRPNKIHFEDCBBBBBBBBBBBFFGJKJGGIKJHGHJKIGHJKLOUZeghijkklmnopqrsstuvwxxxyyyzzzzzyyyywusqoonnoqtvxy012223333332211100zzyyxxwwvvuutttsssrrrqqqpppooonnmmmllkkkjjjiiiiihhhhhgggggffffeedcbZXVTROMKIGFDCCBBBBBBBBBBBBBGIIGHJKIGGIKJHGHJKIGHLPUZdghhijklmmnopqrstuvwwxxyyyzzzzzzzzzxvtrqpppqsuxy012233333333221100zzyyxxwwvvuutttsssrrrqqqpppooonnmmmlllkkjjjiiiiihhhhhgggggffffedcaZXVTQOMKIGEDCCBBBBBBBBBBBBBBBEGJKIGHJKIGGIKJHGHJKIINTYcfghijjklmnopqrsstuvwxxxyyzzzzzzzzzywutsrrrsuwyz01233333333221100zzyyxxwwvvuuttsssrrrqqqpppooonnnmmmlllkkkjjjiiiiihhhhgggggfffedcaYWUSQOMJHGEDCCBBBBBBBBBBBBBBBBBGGGHJJIGHJKIGGIKJHGHJKMQWbfghiijklmnoopqrstuvvwxxxyyzzzzzzzzzxwuttttuwyz112333333333221100zzyyxwwvvuuttsssrrqqqppppooonnnmmmlllkkkjjjiiiiihhhhhggggffedbaYWURPNLJHFEDCBBBBBBBBBBBBBBBBBBBBGIIGFHJJHGHJKIGGIKJGFHLQVaeghhijkklmnopqrsstuvwwxxyyzzzz0000zyxwvvvvwyz122334333333221100zzyyxxwvvuuttssrrrqqppppooonnnnmmmlllkkkjjjjiiiihhhhhggggfecbZXVTROMKIGFECCBBBBBBBBBBBBBBBBBBBBBBEEGHHFFGIIGFGIJIGGHHGFINTZdghhijjklmnoppqrstuvvwwxxyyzzz00000zyxxxxxy0123344443333222100zzyyxxwwvuuttssrrqqqpppooonnnnmmmllllkkkjjjjiiiihhhhhggffdcaYWUSQNLJHGEDCCBBBBBBBBBBBBBBBBBBBBBBBBFEDEFGFEEFHHFFFHIHFEEEGLRXcfghiijklmmnopqrsstuvvwwxyyzzz000100zzzzz002344455443332221100zyyxxwwvvuttssrrqqqppoooonnnmmmmlllkkkkjjjjiiiiihhhhgfedbZXVTRPMKIHFEDCBBBBBBBBBBBBBBBBBBBBBBBBBBBDDDDDDEEEDDEFFEEFGGEDCEJPVaeghhijjklmnoppqrstuuvwwxxyzzz0011111011123455555554333222100zzyyxwwvvuttssrrqqpppoonnnnmmmmllllkkkkjjjjiiiiihhggfdcaYWUSQOLJHGEDCCBBBBBBBBBBBBBBBBBBBBBBBBBBBBBBCCCCCCCDDDDDDEEDDDDCCDHMSYdfghiijklmmnopqrsstuvvwwxyyzz001122222344566666665443322110zzyyxxwvvuutssrrqqppooonnnmmmmllllkkkkjjjjjiiiihhgfecbZXVTRPNKIHFEDCBBBBBBBBBBBBBBBBBBBBBBBBBBBBBBBBBBBBBBBBBCCCCCCCDDCCBBCFJPVaeghhijkklmnoppqrsttuvvwxyyzz011223344566788887765543322100zzyxxwwvuuttsrrqqppoonnnmmmmlllllkkkkjjjjjiiihhgfdbaYWURPNLJIGEDCCBBBBBBBBBBBBBBBBBBBBBBBBBBBBBBBBBBBBBBBBBBBBBBBBBBBBBBBBBDGMSXcfghiijklmnnopqrrstuuvwxxyzz0112334567889++99887654332110zzyyxwwvvuttsrrqqppoonnmmmmllllkkkkkjjjjjiiihgfecaYWUSQOMKIGFEDCBBBBBBBBBBBBBBBBBBBBBBBBBBBBBBBBBBBBBBBBBBBBBBBBBBBBBBBBBBBBCEJOUZceghijkklmnnopqrrstuuvwxyyz012234567899+//+9987654322100zyyxxwvvuttsrrqqppoonnmmlllllkkkkkjjjjjiihhfecbZXVTQOMKIHFEDCCBBBBBBBBBBBBBBBBBBBBBBBBBBBBBBBBBBBBBBBBBBBBBBBBBBBBBBBBBBBBBBBDGLQUXadfhijkklmmnoppqrstuuvwxyz01123456789++//+998765432210zzyxxwvvuttsrrqqpponnnmmlllkkkkkkjjjjiiihgedbZXVTRPNLJHGEDCCBBBBBBBBBBBBBBBBBBBBBBBBBBBBBBBBBBBBBBBBBBBBBBBBBBBBBBBBBBBBBBBBBBCEILORVYbegijjkllmnoopqrstuuvwxyz0123456789++//+998765432110zyyxwvvuttsrrqppoonnmmlllkkkkkjjjjjiihgfdbaYWTRPNLJHGEDCCBBBBBBBBBBBBBBBBBBBBBBBBBBBBBBBBBBBBBBBBBBBBBBBBBBBBBBBBBBBBBBBBBBBBBBCEGILOSVZcfhijkklmmnopqrstuvwxyz0123456889++//++9876543210zzyxwwvuttsrrqppoonnmmllkkkkjjjjjiihgfdcaYWUSQNLKIGFEDCCBBBBBBBBBBBBBBBBBBBBBBBBBBBBBBBBBBBBBBBBBBBBBBBBBBBBBBBBBBBBBBBBBBBBBBBBBCDEGJMPSWZceghjkklmnopqrstuvwyz0123457899++//++9876543210zyxxwvuutsrrqpponnmmllkkkjjjjjiihgfecaYWUSQOMKIGFEDCCBBBBBBBBBBBBBBBBBBBBBBBBBBBBBBBBBBBBBBBBBBBBBBBBBBBBBBBBBBBBBBBBBBBBBBBBBBBBBBCDEGJMQTWYaceghjklnopqrstuwxy0123467899++//++9876543210zyxwvuutsrrqpponnmmllkkkjjjiihgfecaZXUSQOMKIHFEDCCBBBBBBBBBBBBBBBBBBBBBBBBBBBBBBBBBBBBBBBBBBBBBBBBBBBBBBBBBBBBBBBBBBBBBBBBBBBBBBBBBBBCDFHKNPRTWYacegikmnpqrsuvxy012356789+++//++9876543210zywwvutssrqpponnmmlkkjjjiihgfdcaYXVTQOMKJHFEDCCBBBBBBBBBBBBBBBBBBBBBBBBBBBBBBBBBBBBBBBBBBBBBBBBBBBBBBBBBBBBBBBBBBBBBBBBBBBBBBBBBBBBBBBBCDFHJKMOQSVXZcehjlnprtuwyz12356789+++//++987654310zyxwvuttsrqpponnmllkkjjihgfdcaYWUSQPNLJHGEDCCBBBBBBBBBBBBBBBBBBBBBBBBBBBBBBBBBBBBBBBBBBBBBBBBBBBBBBBBBBBBBBBBBBBBBBBBBBBBBBBBBBBBBBBBBBBBBCDEFGIKLNPSUXZcehjmoruwy02356789+++//++988654310zyxwvutsrqpponnmllkkjihfdbaYWUSQOMLJHGEDCCBBBBBBBBBBBBBBBBBBBBBBBBBBBBBBBBBBBBBBBBBBBBBBBBBBBBBBBBBBBBBBBBBBBBBBBBBBBBBBBBBBBBBBBBBBBBBBBBBBCCDDEGHJKNPRUWYbehknqux0246799++///++998654210zywvutsrrqponnmllkjjigeaYWUSQOMKJHGEDDCCBBBBBBBBBBBBBBBBBBBBBBBBBBBBBBBBBBBBBBBBBBBBBBBBBBBBBBBBBBBBBBBBBBBBBBBBBBBBBBBBBBBBBBBBBBBBBBBBBBBBBBBBCCDEFGIKMOQSVYbehlptx04689++///++998654210zxwvutsrqponnmllkjjigdaWSPOMKIHFEDCCCBBBBBBBBBBBBBBBBBBBBBBBBBBBBBBBBBBBBBBBBBBBBBBBBBBBBBBBBBBBBBBBBBBBBBBBBBBBBBBBBBBBBBBBBBBBBBBBBBBBBBBBBBBBBBBCCCDEFHIKMORUXaejosx1479+///++998654210yxwutsrqpponmllkjjigdZVRNKIHFEDCCCBBBBBBBBBBBBBBBBBBBBBBBBBBBBBBBBBBBBBBBBBBBBBBBBBBBBBBBBBBBBBBBBBBBBBBBBBBBBBBBBBBBBBBBBBBBBBBBBBBBBBBBBBBBBBBBBBBBBBCCDDEGHJLORVZeinsx27+///++998654210yxvutsrqponmmlkkjiheaWRNJGEDCCBBBBBBBBBBBBBBBBBBBBBBBBBBBBBBBBBBBBBBBBBBBBBBBBBBBBBBBBBBBBBBBBBBBBBBBBBB", "b": "JIHFEDCCCCDDENVbehjlnptwz13455542zwurplheacimpsrrqpnkigfeddeffdcaYTOPVZcfikmoqsstttuuuvvusqonllkjjkklmnpqrstuuuuvvvuuttssssssssrqponmlkjihgilnqstuvwxyyyyxxwwwwwwwvvvvutsrpomkjhfeedeghjjjJIHFDDCCCCDDENVaehjlnptwz13455542zwurplhebcimpsrqqpnkigfeddeffecaYTOPVZcfikmoqsstttuuuvvusqonllkjjjklmnoqrsttuuuvvvvuuttsssssssrqponmlkjihgiknqstuvwxyyyyxxwwwwwwwvvvvutsrpomkjhfeedeghjjjJIHFDDCCCCDDENVaehjlmptwz13455542zwtrplhebcimprrqqpnkigfeddeffecaYUOPVZdfikmoqsstttuuuuvusqomllkjijklmnoqrsttuuuvvvvuuttsssssssrqponmlkjihgiknpstuvwxyyyyxxxwwwwwwvvvvutsrpomkjhfeddegijjjJIHFDDCCCCDDENVaehjlmptwz13455542zwtrplhebcimprrqqpnkigfeddeffecaYUOPVZdfikmoqsstttuuuuutrqomlkkjijklmnoprsttuuuvvvvuuttttttsssrqponmlkjihgiknpstuvwxyyyyxxxwwwwwwvvvvutsrpomkjhfeddegijjjJIHFDDCCCCDDENVaehjlmptwz13455542zwtrolhebdimprrqqpnkigfeddeffecaYUOPVZdgikmoqsstttuuuuutrpomlkkjijklmnoprsttuuuvvvvuuttttttttsrqponmlkjihgiknpstuvwxyyyyxxxwwwwwwvvvvutsrpomkjhfeddegijjjJIHFDDCCCCDDENVaegjlmptwz13455542zwtrolhebdimprrqqpnkigfeddeffecaYUOPVZdgikmoqsstttuuuuutrpomlkkjijjklmopqstttuuvvvvuuttttttttsrqpoonmkjihgiknpstuvwxyyyyxxxwwwwwwvvvvutsrpomkjhfeddegijjjJIHFDDCCCCDDENVaegjlmptwz13455542ywtrolhebdimprrqqpnkigfeddeffecaZUOOVZdgikmoqssttttuuuutrpomlkjjiijklmopqrsttuuvvvvuuutttttttsrqqponmljihgiknpstuvwxyyyyxxxwwwwwwvvvvutsrpomkjhfeddegijjjJIHFDDCCCCDDENVaegjlmptwz13455542ywtrolhebdimorrqqpnkigfeddeffecaZUOOUZdgikmoqssttttuuuutrpnmlkjjiijklmopqrsttuuvvvvvuutttttttsrrqponmljihgiknpstvvwxyyyyxxxwwwwwwvvvvutsrpomkjhfeddegijjjJIHFDDCCCCDDENVaegjlmptwz13455542ywtrolhebdimorrqqpnkigfeddeffecbZUOOUZdgikmoqssttttuuuutrpnmlkjiiijklmnpqrsttuuvvvvvuutttttttssrqponmlkihgiknpstvwwxyyyyxxxwwwwwwvvvvutsrpomkjhfeddegijjjJIHFDDCCCCDDENVaegjkmptwz13455542ywtrolhebdimorrqqpnkigfeddeffecbZUOOUZdgikmoqsstttttuutsrpnmlkjiiijjkmnpqrsttuuvvvvvuuutttttttsrqponmlkihgiknpsuvwwxyyyyyxxwwwwwwvvvvutsrpomkjhfeddegijjjJIHFDDCCCCDDENVaegikmptwz13455541yvtqolhebdilorrqqpnkigfeddeffecbZVOOUZdgikmoqssttttttttsqpnmlkjihiijklnpqrsttuuvvvvvuuuuuuttttsrqponmlkihgikmpsuvwwxyyyyyxxwwwwwvvvvvutsrpomkihfeddegijjjJIHFDDCCCCDDENVaegikmptwz13455541yvtqolhebdilorrqqpnkigfeddeffecbZVOOUZdgikmoqssttttttttsqpnmkkjihhijklnpqrstttuvvvvvvuuuuuutttsrqponmlkihgikmpsuvwxxyyyyyxxwwwwwvvvvvutsrpomkihfdddegijjjJIHFDDCCCCDDENVaegikmptwz13455541yvtqolhebdilorrqqpnkigfeddeefecbZVONUZdgikmoqssttttttttsqonlkkjihhijklnoqrssttuvvvvvvuuuuuuuttsrqpoonlkihgikmpsuvwxxyyyyyxxwwwwwvvvvvutsrpomkihfdddegijjjJIHFDDCCCCDDENUaegikmptwz13455541yvtqolhebdilorrqppnkigfeddeefecbZVONUZdgikmoqrsttttttttsqonlkkjihhiijlnoqrssttuvvvvvvuuuuuuuttsrqpponlkjhgikmpsuvwxxyyyyyxxxwwwwvvvvvutsrpomkigfdddegijjjJIHFDDCCCCDDEMUaegikmptwz13455541yvtqolhecdiloqrqppnkigfeddeefecbZVONUZdgikmoqrsttttttttsqonlkjjihhhijlmoqrssttuvvvvvvuuuuuuuutsrrqponmkjhgikmpsuvwxxyyyyyxxxwwwwvvvvuutsrpomkigfdddegijjjJIHFDDCCCCDDEMUaegikmptwz13455541yvtqolheceiloqqqppnkigfeddeefecbZVONTZdgikmoqrstttttttsrqonlkjjihhhijkmoqrssttuvvvvvvvuuuuuuutssrqponmkjhgikmpsuvwxxyyyyyxxxwwwwvvvvuutsrpomkigedddegijjjJIHFDDCCCCDDEMUadgikmpswz13455541yvtqolheceiloqqqppnkigfeddeefedbZVONTZdgikmoqrssttttttsrpomlkjiihhhijkmoqrssttuuvwvvvvuuuuuuutssrqponmkjhgikmpsuvwxxyzyyyxxxwwwwvvvvuutsrpomkigedddegijjjJIHFDDCCCCDDEMUadgikmpswz13455541yvsqolheceiloqqqppnkigfeedeefedbaVONTZdgikmoqrsstttttssrpomlkjihhghiikmoprrsttuuvwwvvvvvvuuuuttsrqponmkjhgikmpsuvwxyyzyyyxxxwwwwvvvvuutsrpomkigedddegijjjJIHFDDCCCCDDEMUadgikmpswz13455541yvsqolheceiloqqqppnkigfeedeefedbaWOMTZdgikmoqrsstttttssrpomlkjihgghhikmopqrsstuuvwwvvvvvvvuuuttsrqponmljhgikmpsuvwxyyzzyyxxxwwwwvvvvuutsrpomkigedddegijjjJIHFDDCCCCDDEMUadgikmpswz13455541yvsqnkheceiloqqqppnkigfeedeefedbaWOMTZdgikmoqrsstttttssrpnmlkjihggghijmopqrsstuuvwwvvvvvvvvuuutsrqppomljhgikmpsuvwxyyzzyyyxxwwwwvvvvuutsrpomkigedcdegijjjJIHFDDCCCCDDEMUadgikmpswz13455541yvsqnkheceiloqqqppnkigfeeeeefedcaWOMTZdgikmoqrssttttsssqpnmlkjihggghijlopqrsstuuvwwwvvvvvvvuuutsrqqpomljhhikmpsuvwxyyzzyyyxxwwwwvvvvuutsrpomkigedcdegijjjJIHFDDCCCCDDEMUadgikmpswz13455541yvsqnkheceiloqqqppnkigfeeeeefedcaWOMSZdgikmoqrssstttssrqpnmlkjihggghijlopqrsstuuvwwwvvvvvvvvuutsrrqponljhhikmpsuwwxyyzzyyyxxwwwwvvvvuutsrpomkigeccdegijjjJIHFDDCCCCDDEMUadgikmoswz13455541yvsqnkheceiloqqqppnkigfeeeeefedcaWOMSZdgikmoqrssssssssrqpnmkjjihgfgghjlnpqrsstuuvwwwwvvvvvvvuutsrrqponljhhijmpsuwwxyyzzyyyxxwwwwvvvvuutsrpomkigeccdegijjjJIHFDDCCCCDDEMUadgijmoswz13455541yvsqnkheceiloqqqppnkigfeeeeefedcaWPMSZdgikmoqrssssssssrqonmkjjihgffghjlnpqrsstuuvwwwwvvvvvvvuutssrqponljhhijmpsuwwxyyzzzyyxxwwwwvvvvuutsrpomkigeccdegijjjJIHFDDCCCCDDEMUadghjloswz13455541yvspnkheceilnqqqppnkigfeeeeefedcaWPLSZdgikmoqrssssssssrqonlkjiihgffghilnpqrrstuuvwwwwwvvwvvvvuttsrqponljhhijmpsuwwxyyzzzyyxxxwwwvvvvuutsrpomkigeccdegijjjJIHFDDCCCCDDEMUadfhjloswz13455541yvspnkheceilnqqqppnkhgfeeeeefedcaWPLSZdgikmoqrsssssssrrqonlkjiihfffghilnpqrrsttuvwwwwwwwwwvvvuttsrqponljihijmpsuwxxyyzzzyyxxxwwwvvvvuutsrpomkigeccdegijjjJIHFDDCCCCDDEMUadfhjloswz13455541yvspnkhedfilnpqqppnkhgfeeeeefedcaXPLRZdgikmoqrsssssssrrponlkjiigffffgiknpqrrsttuvwwwwwwwwwvvvuutsrqppnljihijmpsuwxxyyzzzyyxxxwwwvvvvuutsrpomkigeccdegijjjJIHFDDCCCCDDEMUadfhjloswz13455541yvspnkhedfilnpqqppnkhgfeeeeefedcaXPLRZdgikmoprsssssssrqpomlkjihgffffgiknpqqrsttuvwwwwwwwwwwvvuutsrqqpnljihijmpsuwxxyyzzzyyxxxwwwvvvvuutsrpomkigeccdegijjjJIHFDDCCCCDDEMUadfhjlosvz13455541yvspnkhedfilnpqqppnkhgfeeeeefedcbXPKRYdgikmoprsssssssrqpomlkjihgfeefgiknpqqrsstuvwwwwwwwwwwvvuutsrrqpnmkihijlpsuwxxyyzzzyyxxxwwwvvvvuutsrpomkigeccdegijjjJIHFDDCCCCDDEMUZdfhjlosvz13455541yvspnkhedfilnpqpppnkhgfeeeeefedcbXPKQYdgikmoprsssssssrqpnmlkjihgfeefghknopqrsstuvwwwwwwwwwwvvvutssrqpomkihijlpsuwxxyyzzzyyxxxwwwvvvvuutsrpomkigeccdegijjjJIHFDDCCCCDDEMUZdfhjlosvz13455541yvspnkhedfilnpqpppnkhgfeeeeefedcbXPKQYdgikmoprssssssrrqpnmlkjihgfeeffhknopqrsstuvwwwwwwwwwwwvvutssrqpomkihijlpsvwxxyyzzzyyyxxwwwvvvvuutsrpomkigeccdfgijjjJIHFDDCCCCDDEMTZdfhjlosvy13455541yurpnkhedfilnpqpppnkhgfeeeeefedcbXPKQYdgikmoprssssssrrqpnmlkjihgfeeefhkmopqrrstuvwwwwwwwxwwwvvuttsrqpomkihijlpsvwxxyyzzzyyyxxwwwvvvvuutsrpomkigdccdfgijjjJIHFDDDCCCDDEMTZdfhjlosvy13455541yurpnkhedfilnpppppnkhgfeeeeeeeddbXPJQYdgikmoprssssssrqqonmljjihgfedefhkmopqrrstuvwwxwwwxxxwwvvuutsrqpomkihijlosvwxyyzzzzyyyxxwwwvvvvuutsrpomkigdbcdfgijjjJIHFDDDCCCDDELTZdfhjlosvy13455541yurpnkhedfilnpppppnkhgfeeeeeeeedbXPJPYdgikmoprssssssrqponmkjiihgeddefhjmopqrrstuvwxxxxxxxxwwvvuutsrqqomkihijlosvwxyyzzzzzyyxxwwwvvvvuutsrpomkigdbcdfgijjjJIHFDDDCCCDDELTZdfhjlosvy13455541yurpmkhedfilnpppppnkhgfeeeeeeeedbXPJPYdgikmoprssssssrqponlkjiihgeddeegjmopqrrstuvwxxxxxxxxwwwvuutsrrqomkihijlosvwxyyzzzzzyyxxwwwvvvvuutsrpomkigdbcdfgijjjJIHFDDDCCCDDELTZdfhjlosvy13455541xurpmkhedfjlnpppppnkhgffeeeeeeedbYPJPYdgikmoprssssssrqponlkjihhgedddegjmopqqrstuvwxxxxxxxxxwwvvutssrqomkihijlosvxxyyzzzzzyyxxwwwvvvvuutsrpomkigdbbdfgijjjJIHFDDDCCCDDELTZdfhjlosvy13455541xurpmkhedfjlnpppppnkhgffeeeeeeedbYPIOYdgikmoprsssssrrqpomlkjihhfedddegjmopqqrstuvwxxxxxxxxxwwvvutssrqomkihijlosvxxyyzzzzzyyxxwwwvvvvuutsrpomkigdbbdfgijjjJIHFDDDCCCDDELTZdfhjlosvy13455541xuromkhedgjlnpppppnkhgffeeeeeeedbYPIOYdgikmopqsssssrrqpomlkjihgfedcdegjmopqqrstuvwxxxxxxxxxwwvvuttsrqpmkihijlosvxxyyzzzzzyyxxwwwvvvvuutsrpomkigdbbdfgijjjJIHFDDDCCCDDELTZdfgilosvy13455541xuromkhedgjlnoppppnkhgffeeeeeeedbYPIOXdgikmopqsssssrrqpnmlkjihgfeccddfjmoppqrstuvwxxxxxxyxxwwvvuttsrqpnkihijlosvxxyyzzzzzyyxxwwwvvvvuutsrpomkigdbbdfgijjjJIHFDDDCCCDDELTZdfgilosvy13455541xuromkheegjlnoppppnkhgffeeeeeeedbYPINXdgikmopqssssrrrqonmlkjihgfecccdfimoppqrstuvwxxxxxyyxxxwwvuutsrqpnkihijlosvxxyyzzzzzyyxxxwwvvvvuutsrpomkigdbbdfgijjjJIHFDDDCCDDDDLTZdfgilosvy13455541xuromkheegjlmoppppnkhgffeeeeeeedcYPINXdgikmopqrsssrrqponmlkjihgfdcccdfiloopqrstuvwxxxxyyyyxxwwvuutsrrpnkihijlosvxxyyzzzzzyyxxxwwvvvvuutsrpomkigdbbdfgijjjJIHFDDDCCDDDDLTZdfgilosvy13455541xuromkheegjlmoppppnkhgffeeeeeeedcYQHNXdgikmopqrsssrrqponmljjihgfdcbcdfilnopqrstuvwxxxxyyyyxxwwvvutssrpnkihijlosvxyyyzzzzzyyxxxwwvvvvuutsrpomkifdbbdfgijjjJIHFDDDDDDDDDLTZdfgilosvy13455541xuromkheegjkmoppppnkhgffeeeeeeedcYQHMXdgikmopqrsssrrqponmkjiihgfdcbcdfilnopqrstuvwxxxyyyyyxxwwvvutssrpnkihijlosvxyyyzzzzzyyxxxwwvvvuuutsrpomkifdbbdfgijjjJIHFDDDDDDDDDLTZdfgilorvy13455541xuromkheegjkmoppppnkhfffeeeeeeedcYQHMXdgikmopqrssrrrqponlkjiihgfdcbcceilnopqrstuvwxxyyyyyyyxxwvvuttsrpnlihijlosvxyyyzzzzzyyyxxwwvvvuuutsrpomkifdabdfgijjjJIHFDDDDDDDDDLTZdfgilorvy13455541xuromkheegjkmoppppnkhgffeeeeeeedcZQHMXdgikmopqrssrrrqpomlkjihhgfdbbbceilnopqqstuvwxxyyyyyyyxxwvvuttsrqnlihijlosvxyyyzzzzzyyyxxwwvvvuuutsrpomkifdabdfgijjjJIHFDDDDDDDDDLTZdfgilorvy13455541xuqoljheegjkmoppppnkhgffeeeeeeeecZQHMXdgikmopqrsssrrqpomlkjihhgfdbbbceilnopqqstuvwxxyyyyyyyxxwvvuttsrqnljiijlosvxyyyzzzzzyyyxxwwvvvvuutsrpomkifdbbdfgijjjJIHFDDDDDDDDDLTZdfgilorvy13455541xtqnljheegjlmoppppnkhgfffeeeeeeecZQHMXdgikmopqrsssrrqpomlkjihhgfdbbbceilnopqrstuvwxxxyyyyyyxwwvvuttsrqnljiijlosvxxyyzzzzzyyxxxwwvvvvuutsrpomkifdbbdfgiijjIIHFDDDDDDDDDLTZdfgilorvy13455541xtqnljheegjlmoppppnkhgfffeeeeeeecZQHLXdgikmopqrsssrrqpnmlkjihhgfdbabceilnopqrstuvwxxxyyyyyxxwwvvuttsrqnljijjlosvxxyyyzzzzyyxxxwwvvvvuutsrpomkifdbbdfgiijjIIHFDDDDDDDDDLTZdfgilorvy13455540xtqnljheegjlmoppppnkhgfffeeeeeeecZQHLXdgikmopqrsssrrqpnmlkjihhgfcZWXbeilnopqrstuvwxxxyyyyyxxwwvvuutsrqoljijklpsvxxyyyzzzzyyxxxwwwvvvuutsrpomkifdbbdfgiijjIIHFDDDDDDDDDLTZdfgikorvy13455540wtpnljgeehjlmoppppnkhgfffeeeeeeecZQHLXdhjkmopqrsssrrqpnmlkjihhgebVPSZeilnopqrstuvwxxxyyyyyxxwwvvuutsrqomjjjkmpsvxxxyyzzzzyyxxxwwwvvvuutsrpomkifdbbdfgiijjIHHFDDDDDDDDDLTZdegikorvy13455540wtpmkigeehjlmoppppnkhgffffeeeeeecZQHLXehjkmopqssssrrqpnmlkjihhgebTMQZeilnopqrstuvwxxxxyyyyxxwwvvuutsrqomkjjkmpsvxxxyyyzzzyyxxxwwwvvvuutsrpomkifdbbdfgiiijIHGFDDDDDDDDDLTZdegikorvy13455540wspmkigefhjlmoppppnkhgffffeeeeeecZQHLXehjlmopqssssrrqpnmlkjihhgebUMPYeilnopqrstuvwxxxxyyyyxxwwvvuutsrqomkjkkmpsvwxxyyyzzyyyxxxwwwvvvuutsrpnmkifdbbdfgiiijIHGFDDDDDDDDDLTZdegiknrvy13455540wspmkigefhjlmoppppnkhgffffffffeecZRHLXehjlmoprssssrrqonmlkjihhgebUMPYeilnopqrstuvwxxxxyyyyxxwwvvuutssqomkjkkmpsvwxxyyyzzyyyxxxwwwvvvuutsrpnmkifdbbdfgiiijIHGFDDDDDDDDDLTZdegiknrvy13455530wsomkigefhjlmoppppnkhgffffffffeedZRHLXehjlmoprssssrrqonmlkjihggebUMPYeilnopqrstuvwxxxxyyyyxxwwvvuutssqomkkklmpsvwxxxyyzzyyyxxxwwwvvvuutsrpnmkhfdbbdfgiiijHHGEDDDDDDDDDLTZdegiknrvy13455530wsomjigefhjlmoppppnkhgfffffffffedZRHLXehjlnoprssssrrqonmljjihggfbUMOYeilnopqrstuvwxxxxyyyyxxwwvvuutssqomlkklnpsvwxxxyyyzyyyxxxwwwvvvuutsrpnmjhfdbbdfgiiiiHHGEDDDDDDDDDLTZcegiknrvy13455530wsoljigefhjlmoppppnkhgfffffffffedaRHLXehjlnoqrssssrrqonmljiihggfcUMOYeilnopqrstuvwwxxxxyyyxxwwvvuutssqonlkklnpsvwwxxyyyyyyyxxxwwwvvvuutsrpnljhfdbcdfgiiiiHHGEDDDDDDDDEMTZcegiknrvy13555530wroljhgefhjlmoppppnkhgfffffffffedaRHLXehjlnoqrssssrqqonmkjiihggfcVMOXeilnopqrstuvwwxxxxyyxxxwwvvuutssqpnlkllnpsuwwxxyyyyyyyxxxwwwvvvuutsrpnljhfdbcdfgiiiiHHGEDDDDDDDDEMTZcegiknrvy13555530vroljhgefhjlmoppppnkhggffffffffedaRHLXehjlnoqrssssrqponmkjiihggfcVMNXeilnopqrstuvwwxxxxyyxxxwwvvuutssqpnlllmnpsuwwxxxyyyyyyxxxwwwvvvuutsrpnljhfdbcdfgiiiiHGGEDDDDDDDDEMTZcegiknrvy13555530vrnlihfefhjlmoppppnkhggffffffffedaRHLXehjlnoqrssssrqponmkjiihggfcVMNXeilnopqrstuvwwxxxxxyxxxwwvvuutssrpnlllmnqsuwwxxxyyyyyyxxxwwwvvvuutsqpnljhfdccdfghiiiHGGEDDDDDDDDEMTZcegiknrvy1355553zvrnkihfefhjlmoppppnkiggffffffffedaRHLXehjlnoqrssssrqponlkjiihggfcVMNXeilnopqrstuvwwxxxxxxxxxwwvvuuttsrpnmllmnqsuwwwxxyyyyyyxxxwwwwvvvutsqpnljhfdccdfghiiiHGFEDDDDDDDDEMTZcegiknrvy1355553zvrnkihfefhjlmoppppnkiggffffffffedaRHLXehjlnpqrssssrqponlkjihhggfcVMMWeilnopqrstuvwwwxxxxxxxwwwvvuuttsrpnmlmmoqsuwwwxxyyyyyyxxxwwwwvvvutsqpnljhfdccdfghiiiGGFEDDDDDDDDEMTZcegiknrvy1355553zvqnkigfffhjlmoopppnkiggffffffffedaRHLXehjlnpqrssssrqponlkjihhggfcWMMWeilnopqrstuvwwwxxxxxxxwwwvvuuttsrpommmmoqsuvwwxxxyyyyyxxxwwwwvvvutsqpnljhfdccdfghiiiGGFEDDDDDDDDEMTZcegiknrvy1355553zvqmkigfffijlmoopppnkiggffffffffedaRHLXehjlnpqrssssrqponlkjihhggfcWMMWeilnopqrstuvvwwxxxxxxxwwwvvuuttsrpommmnoqsuvwwxxxyyyyyxxxwwwwvvvutsqpnljhfdccdfghiiiGGFEDDDDDDDDEMUZcegiknruy1355553zvqmkhgffgijlmoopppnkiggffffffffedaRHKXehjlnpqrssssrqpomlkjihhggfcWMLVeilnopqrstuvvwwxxxxxxxwwwvvuuttsrponmmnoqsuvwwwxxyyyyyxxxwwwwvvvutsqpnljhfdccdfghiiiGGFEDDDDDDDDEMUZcegiknruy1355553zvqmjhgffgijlmoopppnkiggffffffffedaRHLXehjlnpqrssssrqpomlkjihhggfcWMLVeilnopqrstuvvwwxxxxxxxwwwvvuuttsrqonmnnoqsuvwwwxxyyyyyxxxwwwwvvvutsqpnljhfeccdfghiiiGFFEDDDDDDDDEMUZcegiknruy1455552zuqmjhgffgiklmoopppnkigggffffffffdaSHLXehjlnpqrssssrqpomlkjihhggfdXNLVeilnopqrstuvvwwwxxxxxxwwwvvuuttsrqonnnnpqsuvvwwxxxyyyxxxxwwwwvvvutsqpnljhfeccdfghiiiGFFEDDDDDDDDEMUZcegiknruy1455552zupmjhgffgiklmoopppnkigggffffffffdaSHLXehjlnpqrssssrqpomlkjihhggfdXNKUeilnopqrstuvvwwwxxxxxxwwwvvuuttsrqonnnopqsuvvwwxxxyyyxxxxwwwwwvvutsqpnljhfeccdfghiiiGFFEDDDDDDDDEMUZcegiknruy1455552zupljgfefgiklmoopppnkigggffffffffeaSHMYehjlnpqrssssrqpomlkjihhggfdXNKUeilnopqrstuuvwwwxxxxxxwwwvvuuttsrqpnnnoprsuvvwwwxxxyyxxxxwwwwwvvutsqpnljhfeccdfghiiiFFFEDDDDDDDDEMUZcegiknruy1456552zupligfefgiklmoopppnkigggffffffffeaSIMYehjlnpqrsstsrqpnmlkjihhggfdXNKUdilnopqrstuuvwwwxxxxxxwwwvvuuttsrqponooprsuvvwwwxxxxyxxxxwwwwwvvutsqpnljhfeccdfghiiiFFFEDDDDDDDDEMUZcegiknruy1456542yupligfefgiklmoopponkigggffffffffebSIMYfhjlnpqrsstsrqpnmlkiihhggfdXNJTdilnopqrstuuvwwwxxxxxwwwwvvuuttsrqponooprsuvvvwwxxxxxxxxxwwwwwvvutsqpnljhfeccdfghiiiFFEEDDDDDDDDEMUZcegiknruy1456542yupligfefgiklmoopponkigggffffffffebSINYfhjlnpqrsstsrqpnmlkiihhggfdYNJTdilnopqrstuuvwwwxxxxxwwwwvvvuttsrqpooopprsuvvvwwxxxxxxxxxwwwwwvvutsqonljhfeccdfghiiiFFEEDDDDDDDDEMUZcegiknruy1456542yuokiffefgiklmoopponkiggggfffffffebSINZfhjlnpqrsstsrqpnmljihhhggfdYNJTdilnopqrstuuvvwwwxxxxwwwwvvvuutssqpooopqrsuuvvwwwxxxxxxxxwwwwwvvutrqonljhfedcdfghiiiFFEEDDDDDDDDEMUZcegiknruy1456542ytokhfeefgiklmoopponkiggggfffffffebSINZfhjlnpqrsstsrqpnmljihhhggfdYOJSdilnopqrstuuvvwwwxxxxwwwvvvvuutssrqpoppqrsuuvvwwwxxxxxxxxwwwwwvvutrqonljhfedcdfghiiiFEEEDDDDDDDDEMUZcegiknruy1456542ytokhfeefgiklmoopponkiggggfffffffebSJOZfhjlnpqrsstsrqpnmljihhgggfdYOISdilmopqrstuuvvwwwxxxxwwwvvvvuutssrqpoppqrstuvvvwwxxxxxxxxwwwwwwvutrqonljhfedcdfghiiiFEEDDDDDDDDDEMUZcegiknruy1456542ytokhfeefhiklmnoppomkiggggfffffffebSJOZfhjlnprrsstsrqpnmljihhgggfdYOISdilmopqrstuuvvwwwxxxxwwwvvvvuuttsrqppppqrstuvvvwwxxxxxxxxwwwwwwvutrqonljhfedcdfghiiiEEEDDDDDDDDDEMUZcegiknquy1456542ytojheedfhiklmnoppomkiggggfffffffebSJPZfhjlnprrsstsrqpnmkjihhgggfdYNJTdilmopqrstuuvvwwwxxxwwwwvvvvuuttsrqpppqqrstuuvvwwwxxxxxxxwwwwwwvutrqomljhfedcdfghiiiEEEDDDDDDDDDEMUZcegiknquy1456542ytnjgdddfhjklmnoppomkihggggffffffebSJPafijlnprrsstsrqonmkjihhgggfdXMJUeilmopqrstuuvvwwwxxxwwwwvvvvuuttsrqppqqrrstuuvvwwwxxxxxxxwwwwwwvutrqomljhfedddfghiiiEEEDDDDDDDDDEMUZcegiknquy1456541ytnieaabehjklmnoppomkihggggffffffebSJPafijlnprrsstsrqonmkjihhgggfdXMJUeilmopqrstuuvvwwwxxxwwwwvvvvuuttsrqqpqqrsstuuvvvwwxxxxxxxxwwwwwvutrqomljhfedddfghiiiEEEDDDDDDDDDENUZcegiknquy1456541ytnhcXWZehjklmnoppomkihggggffffffebSKQafikmoprrsttsrqonmkjihhgggfdWLKVfilmopqrstuuvvvwwxxxwwwwvvvvuuttsrrqqqqrsstuuvvvwwxxxxxxxxwwwwwvutrqomkjhfedddfghhiiEEDDDDDDDDDDENUZcegiknquy1456541xtnhbVVZdhjklmnoppomkihggggffffffebSKQafikmoprrsttsrqonlkjihhgggfdWLKWfjlmopqrstuuvvvwwwxwwwwwvvvvuuttsrrqqqrrsstuuuvvwwwxxxxxxxwwwwwvutrqomkjhfedddfghhiiEEDDDDDDDDDDENUZcegiknquy1466541xsmhaUUYdhjklmnoppomkihggggffffffebSKQbfikmoqrrsttsrqonlkjihhgggfcVKLXfjlmopqrstuuvvvwwwxwwwwwvvvvuuttssrqqqrrsstuuuvvwwwxxxxxxxwwwwwvutrqomkihfedddfghhiiDDDDDDDDDDDDENUZcegiknquy1466541xsmgZTTYdhjklmnoppomkihgggggfffffebSKRbgikmoqrssttsrqonlkjihhgggfcUKLXfjlmopqrstuuuvvwwwwwwwwwvvvvuuttssrrqrrrstttuuvvvwwxxxxxxxwwwwwvusrqomkihfedddfghhiiDDDDDDDDDDDDENUZcegiknquy1466541xsmgYSSXdhjklmnoppomkihgggggffffffbSLRbgikmoqrssttsrqonlkjihggggfcUJMYgjlmopqrstuuuvvwwwwwwwwwvvvvuuttssrrrrrsstttuuvvvwwxxxxxxxwwwwwvusrqomkihfedddfghhiiDDDDDDDDDDDDENUYcegiknquy1466541xsmfYRRXdhjklmnoppomkihgggggffffffbSLRbgikmoqrssttsrqonlkjhhggggfcTJNZgjlmopqrstuuuvvwwwwwwwwvvvvvuuttssrrrrssstttuuuvvwwxxxxxxxwwwwwvusrqomkihfedddfghhiiDDDDDDDDDDDDENUYcegiknquy1466541xsmfXQRXdhjklmnoopomkihgggggffffffbSLSbgikmoqrssttsrqonlkjhhggggfbSJNagjlmopqrstuuuvvwwwwwwwwwvvvvuutttssrrrssstttuuuvvwwwxxxxxwwwwwwvusrqomkigfedddeghhiiDDDDDDDDDDDDEMUYbegikmquy1466541xsmfWPQXdhjklmnnopomkihgggggffffffbSLScgikmoqrsstttrqonlkjhhggggfbSJOahjlnopqrstuuuvvwwwwwwwwwvvvvuutttssrrrssstttuuuvvwwwxxxxwwwwwwwvusrqomkigfedcdeghhiiDDDDDDDDDDDDEMTXbegikmquy1466641xsmfWOPWdhjklmmnooomkihggggfffffffbSMTcgikmoqrsstttrqonlkjihggggfbRIPbhklnopqrstuuvvvwwwxwwwwwvvvvuuuttssrrrssstttuuuvvvwwxxxwwwwwwwwvusrpomkigfedcdeghhhiDDDDDDDDDDDDEMSXbegikmquy1456651ytmfVNPWdhjkklmnnonlkihggggfffffffbSMTchikmoqrsstttrqonlkjihggggfbQIQciklnopqrstuuvvvwwwxwwwwwwvvvvuuttssrrsssstttuuuvvvwwwxwwwwwwwwvvtsrpomkigfedccegghhiDDDDDDDDDDDDDLSXbegijmquy1456652ytnfVMOWdhijklmmnonljihggggfffffffbSMUdhjkmoqrsstttrqonmkjihggggfaQIRdikmnppqrstuuvvvwwwxwwwwwwvvvvuuttssrrsssstttuuuvvvwwwwwwwwwwwvvvtsrpomkigfedbcefghhiDDDDDDDDDDDDDLRWbegijmqux1456652ytnfVNOXdhijkllmnnnljihgggfffffffeaRMUdhjlnoqrsstttrqonmkjihggggfaPISdikmopqrsstuuvvwwwxxxwwwwwvvvvuuttsssrsssstttuuuvvvwwwwwwwwwwvvvutsrpomkigfecbcefghhhDDDDDDDDDDDDDLRWbdghjmqux1456652ytngVOQXehijkklmmnmljhggggfffffffeaRNVehjlnpqrsstttrqonmkjihggggfaOJTejlmopqrsttuvvvwwwxxxwwwwwwvvvuuttsssssssstttuuuvvvvwwwwwwwwvvvvutsrpomkigfdcbcefghhhDDDDDDDDDDDDDKQVadghjmqux1456652yungWPRYehijjkllmnmljhggggfffffffeaRNWehjlnpqrsstttrqonmkjihggggeZOJUfjlnopqrstuuvvvwwwxxxxwwwwwvvvuuttsssssssttttuuuuvvvwwwwwwwvvvvvutsrpomkigfdcbcdfgghhDDDDDDDDDDDDDKQVadfhjmqux1456652zuogXQSZehijjkklmmmkjhggggfffffffeaQOWeijlnpqrsstttrqpnmljihggggeZNJVfjlnopqrstuuvvvwwwxxxxxwwwwvvvuuttsssssssttttuuuuvvvwwwwwwvvvvvvutsqpomkigfdcabdfgghhDDDDDDDDDDDDDKPVadfhjmqux1456652zuohYSUafhiijjkllmmkjhggggfffffffeZQOXfiklnpqrsstttrqpnmljihgggfeYMKWgkmnpqqrstuuvvwwwwxxxxxwwwwvvvuuttsssssssttttuuuuvvvvwwwwvvvvvvvutsqpomkigfdbabdfgghhDDDDDDDDDDDDDJOUadfhjmqux1356652zuohZTVbfhiijjkklmlkihggggfffffffeZQOYfikmnprssstttrqpnmljihgggfeYMKXgkmnpqrrstuuvvwwwxxxxxxxwwwwvvuuttsssssssttttuuuuvvvvwwwvvvvvvvvutsqpomkigfdbabdfggghDDDDDDDDDDDDDJOUadfhjmqtx1356652zvpiaVWbfhiiijjklllkihgggfffeefffeZQPYfikmnprssstttrqpnmljihgggfeXLLYhkmopqrsstuvvvwwwxxxxxxxwwwwvvuutttsssssstttttuuuvvvvvvvvvvvvvvuutrqpomkigfdbZbdffgghDDDDDDDDDDDDDINTadfhjmqtx1356653zvpjbWYcfhhiiijkklljihgggfffeefffeZQPZgjkmoprssstttrqpnmljihgggfeWLLZilmopqrsttuvvvwwwxxxxxxxxwwwvvuutttsssssttttttuuuuvvvvvvvvvvvvuuutrqpomkigedbZadefgghDDDDDDDDDDDDDINTZdfhjmqtx13566530vpjcYZdghhiiijjklkjihgggfffeefffeYPQZgjkmoprssstttrqpnmljihgggfeWKMailnopqrsttuvvwwwwxxxxxxxxwwwvvuutttsssssttttttuuuuvvvvvvvvvvvuuuusrqpomkigedaZadefgghDDDDDDDDDDDDDIMTZdfhjmqtx13566530vqkdZbeghhhiiijkkkjihgggffeeefffeYPQagjlmoqrssstttrqpomljihgggfdVKNbjlnoqrrstuuvvwwwwxxxxxxxxwwwvvuuuttsssssttttttuuuuuvvvvvvvvvuuuutsrqpomkigecaYacefgggDDDDDDDDDDDDDHMSZcfhjmptx13566530wqlfbceghhhhhijjkkjihgggffeeeeffeYPRbhjlmoqrssstttrqpomljihgggfdUJOcjmnpqrsstuuvvwwwxxxxxxxxxxwwvvvuuttsssstttttttuuuuuvvvvvvvvuuuuutsrqpomkigecaYaceffggDDDDDDDDDDDDDHLSZcfhjmptx03566530wrmifffghhhhhiijkjjihgggffeeeeffeXPSbhjlnoqrssttttrqpomlkihgggfcSJQdkmopqrsstuuvvwwwxxxxxxxxxxwwvvvuutttssstttttttuuuuuuvvvvvuuuuuuutsrqpomkigecaYaceffggDDDDDDDDDDDDDHLRZcfhjmptx03566530wrnkihghhhhhhhijjjihhgggffeeeeffdXPSchklnoqrssttttrqponlkihgggfbRJSfkmopqrsttuvvvwwwxxxxxxxxxxwwwvvuutttssttttttttuuuuuuvvvvuuuuuuuutsrqpnmkigecaYZceffggDDDDDDDDDDDDDGKRZcegjlptx03566530wsoljihhhhhhhhiijjihggggffeeeeffdXPTchklnoqrssttttsqponlkihgggfaPKUglnoqrrsttuvvwwwwxxxxxxxxxxwwwvvuuttttsttttttttuuuuuuuuuuuuuuuuuutsrqpnmkigecZXZceffggDDDDDDDDDDDDDGJRYcegilptx03566531xsomjihhhhggghhijjihggggffeeeeffdWPTcikmnpqrssttttsqponlkihgggeZOKWhlnoqrsstuuvvwwwxxxxxxxxxxxwwwvvuutttttttttttttuuuuuuuuuuuuuuuuuttsrqpnmkigecZXZceeffgDDDDDDDDDDDDDGJQYcegilptx03566541xspmkihhhggggghiiiihgggfffeeeeffdWPUdikmnpqrssttttsqponlkihggfeYMMYimnpqrsttuuvvwwwxxxxxxxxxxxwwwvvuutttttttttttttuuuuuuuuuuuuuuuutttsrqpnmkigecZXZceeffgDDDDDDDDDDDDDFIQYcegilptx03566541xtpnkjihhgggggghiihhgggffeeeeeffdWPUdilmnpqrssttttsqponlkihggfeWLNajmopqrsttuuvvwwwxxxxxxyyyxxxwwvvuutttttttttttttuuuuuuuuuuuuuuuttttsrqonmkigebZWZbdeffgDDDDDDDDDDDDDFIPYcegilptx03466541xtqnkjihhgggffghiihhgggffeeddeffdVQVeilmoprsssttttsqponmkihggfdVLPckmoprssttuvvwwwxxxxxxyyyyxxxwwvvuutttttttttttttuuuuuuuuuuuuutttttssqponmkigebYWYbdeffgDDDDDDDDDDDDDFHPYbegilptx03466541xtqnljihhggfffghhhhggggffeeddeffcVQWejlmoprsssttttsqponmkihggfcTKRelnoqrsttuuvvwwwxxxxxyyyyyyxxwwvvuuttttttttttttttuuuuuuuuuuuttttttsrqponmkigebYWYbdeeffDDDDDDDDDDDDDEHPYbegilptw03466542yuqoljihhgfffffghhhggggffeeddeffcVQWejlnoprsssttttsrponmkihggfcSKTflnpqrsttuuvvwwwxxxxxyyyyyyxxwwvvuuttttttttttttttuuuuuuuuuttttttttsrqponmkigebYVYbdeeffDDDDDDDDDDDDDEGOXbegilptw03466542yuromkihggffeefghhhggggffeeddeefcVQXfjlnoqrsssttttsrponmkihggfbQLVhmnpqrsttuuvvwwxxxxxxyyyyyyxxwwvvuuttttttttttttttuuuuuuuutttttttttsrqponmkigebYVYbdeeffDDDDDDDDDDDDDEGOXbegilptw03466542yuromkjiggfeeefggggggggffeeddeefcURXfjmnoqrsstttttsrponmkihgffaPLXimopqsttuuvvvwwxxxxxyyyyyyyxxwwvvuuuttttttttttttttuuutttttttttttttsrqponmligebXVXbdeeffDDDDDDDDDDDDDDFNXbegilptw02466652yvrpmkjigffeeeefgggggggffedddeefcURYfkmnpqrsstttttsrqonmkihgfeZOMZjnoprsttuuvvwwwxxxxxyyyyyyyxxwwwvvuutttttttttttttttttttttttttttttssrqponmligebXUXbddeefDDDDDDDDDDDDDDENXbdgilptw02466652zvspnljigffeddefgggggggffedddeefbURYgkmnpqrsstttttsrqpnmkihgfeXNNbknoqrstuuuvvwwwxxxxxyyyyyyyyxxwwvvuuttttttttttttttttttttttttttttsssrqponmligebXUXaddeefDDDDDDDDDDDDDDENXbdgilptw02466653zvspnljigfeeddeffgggggfffedddeeebUSZgkmopqrsstttttsrqpnmkihgfdWMPclnpqrttuuvvvwwxxxxxyyyyyyyyyxxwwvvuuttttttttttttttttttttttttttsssssrqponmligeaXUXaddeefDDDDDDDDDDDDDDEMXbdgilpswz2456653zwsqnlkihfeeddeeffffffffeeddddeebTSZgkmopqrsstttttsrqpomkihgfcTLSflopqstuuuvvwwwxxxxyyyyyyyyyyxxwwvvuutttttttttttttttttttttttttssssssrqponmligebXUXaddeefDDDDDDDDDDDDDDDMWbdgilosvz13566530wtromkihgfeddeeffffffffeeddddeebTSahknopqssttttttsrqpnmkjhgfaQMWhmoqrstuuvvvwwwxxxyyyyyyyyyyyxxwwvvuuuuutttttttttttttttttttttssssssrrqponmligebXVXbddeefDDDDDDDDDDDDDDDLWbdgikorvy13565530xurpmljhgfeddeeffffffffeddccdeeaTTbhlnoprssttttttsrqpnmkjhgeXNOaknpqrstuuvvwwwxxxxyyyyyyyyyyyxxwwvvuuuuuuuutttttttttttttttttsssssssrqqponmljgebYVYbddeefDDDDDDDDDDDDDDDLWbdgikoruy03555530xuspnljhgfeddeefffffffeeddccdeeaTUbhlnoqrstttttttsrqpnmljhgdUMSelopqrsuuvvvwwwxxxyyyyyyyyyyyyxxwwvvuuuuuuuuutttttttttttttttssssssssrqpponmljhecZWYbdeeefDDDDDDDDDDDDDDDLVbdghknrux02455530yvtqnlkigfeedeefffffffeeddccdddZTUcilnpqrstttttttsrqpnmljigbRMWhnoqrstuvvvwwwxxxyyyyyyyyyyyyyxxwwvvvuuuuuuuuuttttttttttttttsssssssrrqpponmljhfcZXZbdeeefDDDDDDDDDDDDDDDKVbdghknqtwz2455531ywtqomkihffedeeffffffeeddcccdddZTVcilopqrstttttttsrqpnmljifYOPaknpqrstuvvwwwxxxxyyyyyyyyyyyyyxxwwwvvuuuuuuuuutttttttttttttsssssssrrrqpoonmljhfdaXZcdeeffDDDDDDDDDDDDDDDKVbdghknqtwz1455541zwuromkihgfeeeeeffffeeeddccccddZTVdimopqrsttttuttsrqpnmljieVNSelopqrstuvvwwwxxxyyyyyyyyyyyyyyxxxwwvvuuuuuuuuuttttttttttttsssssssrrrrqpoonmljhfdaYacdeeffDDDDDDDDDDDDDDDJVaeghkmpsvy1355541zxuspnljhgfeeeeeffeeeeeddccccddYTWdjmopqrsttuuuutsrqpnmlkhcSNWhmpqrstuvvwwwxxxxyyyyyyyyyyyyyyxxxwwvvvuuuuuuuuutttttttttttsssssssrrrqqpoonmljhgdbZaceeeffDDDDDDDDDDDDDDDJUaeghjmpsvy03455420xvspnljhgfeeeeeeeeeeeddccbbcdcYTXejmoqrssttuuuutsrqpnmlkhZPPbjnpqrstuvvwwxxxxyyyyyyyzzzyyyyyxxxwwvvvuuuuuuuuuttttttttttsssssssrrrrqqpoonmljigebZbdeeeffDDDDDDDDDDDDDDDJUaeghjmorux03455420ywtqoljhgfeeeeeeeeeeeddccbbcccYTXfjmoqrsttuuuuuttrqpnmljfWOTeloqrsttuvwwwxxxyyyyyyzzzzzzyyyyxxxwwwvvvuuuuuuuuttttttttttsssssssrrrrqpponnmljigecabdeefffDDDDDDDDDDDDDDDIUaeghjloruwz2455420zwtqomkigffeeeeeeeeedddccbbcccXTYfjmpqrsttuuuuuttsqpnmljdSOXhmpqrstuvvwwxxxyyyyyyzzzzzzzzyyyxxxwwwvvvuuuuuuuutttttttttssssssssrrrqqpponnmljigfcbcdeefffCCCCCCCCCCCCCCDHSZdghjloqtwz2455431zxuromkihgfeeeeeeeeeddccbbbbcbXUZgknpqrsttuuuuuttsqpnmliaQQbknprsttuvwwwxxyyyyyzzzzzzzzzzyyyyxxwwwvvvvuuuuuuutttttttttsssssssrrrrqqpponnmlkihfdbcdeefffCCCCCCCCCCCCCCDGPXcfhjlnqsvz24455310yvrpnkihgfeeeeeeeedddcbbaabcbXUZgknprrstuuuuuuttsqpnmlhXOTfloqrstuuvwwxxxyyyyzzzzzzzzzzzyyyyxxwwwvvvvvuuuuuuttttttttssssssssrrrqqqpoonnmlkihfdcceeffffCCCCCCCCCCCCCCCEMTZehjknpsvy13455321yvspnlihgfeeeeeeedddccaZZabcbWUagknprsstuuuuuuttsqpnmkeTPXimpqsttuvvwxxxyyyyzzzzzzzzzzzzyyyyxxxwwwvvvvuuuuuuttttttttsssssssrrrrqqqpoonnmlkjhgecdefffffCCCCCCCCCCCCCCCDJQYehikmpruy13455421zwsqnljhgfeeeeeeddddcbZXXYabaWUbhlnqrsttuuuuuuutsqpnmjbRRcknprstuuvwwxxyyyyzzzzzzzzzzzzzyyyyxxxwwwvvvvvuuuuuttttttttsssssssrrrqqqppoonnmlkjigfddefffffBBBBBBBBBBBBBBBCHPXdhikmorux134554320wtqoljhgffeeeeddddccbZXWYabaWVbhloqrsttuuvuuuutsqpnlhYPUfloqstuuvvwxxxyyyzzzzzzzzzzzzzzyyyyxxxwwwvvvvvuuuuutttttttsssssssrrrrqqqppoonnmlkjigfeeefffffBBBBBBBBBBBBBBBCHPXdhijloqtx034554320xuromjihgfeeeeddddccbZXWXZbaWVciloqrsttuvvuuuutsqpnlfUQYinpqstuvvwwxxyyyzzzzzzzzzzzzzzzyyyyxxxwwwwvvvvvuuuutttttttsssssssrrrrqqqppoonnmlkjihgeeffffffBBBBBBBBBBBBBBBCHOWdgijlnptw034555431yuromjihgfeeedddddccbaYWXZaZWWciloqsstuuvvvuuutsqpnkcRScknprtuvvwwxxxyyzzzzzzzzzzzzzzzzyyyyxxxxwwwvvvvvuuuutttttttssssssrrrrqqqppoonnnmlkjihgffffffffBBBBBBBBBBBBBBBCGOWcgijknpsw024555442yvrpmkihgfeedddddccbbaYWWYaZVWdjmoqsttuuvvvuuutsqpmiYQWgloqstvvwwwxxyyyzzzzzzzzzz00zzzzzyyyxxxxwwwwvvvvuuuutttttttssssssrrrrqqqppoonnmmlkkjihgfffffffBBBBBBBBBBBBBBBCGNVcghikmorvz24565542zvspnkihgfeedddddccbbaYWWXZZVWejmorsttuuvvvuuutsrpmfURaimoqsuvwwwxxyyyzzz0000000000zzzzzyyyxxxxwwwwvvvvuuuuttttttssssssrrrrrqqpppoonnmmllkjihggffffffBBBBBBBBBBBBBBBCFNUbfhijmorvz23555553zwtqnljihgfeeddddccbbaZXWXZYVXejmorsttuuvvvvuuutrplcSTelnprtuwwwxxxyyyzzz000000000zzzzzyyyyxxxxwwwvvvvuuuutttttssssssrrrrrrqqpppoonnnmmlkkjihggffffffBBBBBBBBBBBBBBBCFLTZdghjlnquy134555530wtromkjihffeeedddccbbaYWXZYWYfjmoqsttuuvvvvvuutspkZRXinoqstvwwxxxyyyyzzzzzzzzzzzzzzzzyyyxxxxwwwwvvvvuuuuttttsssssrrrrrrqqqqpppoonnmmmllkjiihgfffffffBBBBBBBBBBBBBBBCFKRXcfgiknqtx024555530xuspnlkjhggfeeedddccbaYXXYYWZfjmoqsstuuvvvvvvvuspiWScloprsuvwxxxxyyyzzzzzzzzzzzzzzzzyyyxxxxwwwvvvvuuuuttttssssrrrrrrqqqqqpppooonnmmmllkjjihhgfffffffBBBBBBBBBBBBBBBCEJPVaegikmpswz13455531yvtromlkihggfeeeddccbbZXXYYWagjmoqrstuvvwwvvvvutpfUWhopqstuwxxxxyyyyzzzzzzzzzzzzzzyyyyxxxwwwwvvvuuuuttttssssrrrrrqqqqqpppppoonnnmmlllkkjiihggffeeeeeBBBBBBBBBCCCCCCDEJOTYcfhjmosvy02445531ywuspomljihggfeeeddccbaYXYYXagjlnqrstuvvwwwwwvvtnbTalqrrtuvwxxxyyyyyzzzzzzzzzzzzyyyyyxxxwwwvvvvuuuttttssssrrrrqqqqqpppppoooonnnmmlllkkjiihhgffeeeeeeBBBCCCCCCDDDDDDEGJNRWbegjloruxz2345541zxvtrpnmkjihgffeeeddccbZXXYXbgjlnprstuvvwwwwwwuriXVforsstvwxxyyyyyyzzzzzzzzzzzyyyyyyxxxwwwvvvuuuttttssssrrrrqqqqppppppoooonnnmmmllkkkjjihhggfeeeeeddCDDDCDEEDDDEFFEEGJMQVaegilnqtwz13445420ywusqonlkjihgffeedddcbaYXXYchjlnpqstuvwwwwwwvskaVZkrsttuvwxyyyyyyzzzzzzzzzzyyyyyyyxxxwwwvvvuuutttssssrrrrqqqqpppppooooonnnmmmlllkkjjjiihggffeeeddddCDEFEEDEFGFEEGHGFHLOTZdfiknpsvy13445421zxvtrqomljihggffeedddcbYXXYchjlnpqrstvwwwwwwtmcWajqtuuuvwxyyyyyzzzzzzzzzzzyyyyyyyxxxwwwvvvuuutttsssrrrrqqqqppppooooonnnnnmmmlllkkjjjiihhgffeeddddddDEEEFGGFEFHHGFFHHIJMRYcfhkmprux023454310ywusrpnmkjihggffeedddbZXXYdhjlnoqrstvwwxxwtndYckruvvvvwxxyyzzzzzzzzzzzzzyyyyyyxxxxwwwvvvuuuttssssrrrqqqqppppoooonnnnnmmmmlllkkkjjiiihhggfeedddddccCEGGFFHIIGFGIIHFFIJLPWbehjloqtwz23454320zxvusqomlkihggffeeeddcaXXYdhjkmoqrstvwwxwuneZdmsvwwwwwxxyzzzzzzzzzzzzzzyyyyyyxxxxwwwvvvuutttsssrrrrqqqppppoooonnnnmmmmmlllkkkjjjiiihhggffeedddccccCDEHIHFFHJIGFHIIGGHKOUadgjkmpswz134544310yxvtrpnmkjihggffeeeedbYXYdhjkmoprstvwwwtnfaenuwxxxxxxyyzzzzzzzzzzzzzzzyyyyxxxxxwwwvvvuutttsssrrrqqqppppoooonnnnmmmmlllllkkkjjjiihhhggffeedddccccbDEEEGIJHFGHJIGFHIIHHLTZdgiihmrvy124554321zywusqonlkihhggffeeeecZXYdhjkmopqstvwvtnfbfovyyyyyyyyzzzz00zzzzzzzzzzyyyyyxxxxwwwvvvuutttsssrrqqqqpppoooonnnnmmmmllllkkkkjjjiiihhgggffeedddccccbbCEGHGFGIJHFGHJIGFHIIKRYcfhfYgpuy0245544320zxvtrpnmkjhhggffffeedaXYdhikmnpqstuvsmgeiqwzzzzzzzzzz00000000zzzzzzzyyyyxxxxwwwvvvuutttssrrrqqqppppooonnnnmmmmllllkkkkjjjjiiihhgggffeedddcccbbbbDDEGIIGFGIJHFGHJIGFHKRXbfhfXcntx02455554320ywusqomljihhggfffffebYZcgiklnpqsttrmhglsxz00000000000000000000zzzzyyyyxxxxwwwvvvuutttssrrrqqqpppooonnnnmmmllllkkkkkjjjiiiihhhggfffeedddcccbbbbaDEFFFHIIGFGIJHFGHJIGHOWbeggZZlsw024555554310xvtrpnlkiihhggfffffdaZcgiklnoqrsqmjjotxz011111111111111100000zzzzyyyyxxxwwwwvvuuuttssrrrqqpppoooonnnmmmmlllkkkkjjjjiiiihhhgggfffeedddcccbbbaaaCDFHIGFHJIGFGIJHFGHIJNTaeggbXjrwz13455554320ywusqonlkjjihhhggggebZbfiklnoqrpmklquyz0111222222222111110000zzzyyyyxxxwwwvvvuutttssrrqqqppoooonnnmmmmlllkkkkjjjjiiiihhhhgggffeeedddcccbbbaaaZDDEFHJIGFHJIGFGIJHFGINTZeghdWgqvy02344554321zxvtsqonmllkjjiiihhgcabeiklmoqqplmqvxz00112222222222111110000zzzyyyxxwwwvvvuuuttsssrrqqpppooonnnmmmmlllkkkkjjjjiiiihhhhgggfffeeeddcccbbbaaaZZZCEGGFGIJIGFHJIGFGIJHGLSZegheXdpuxz1234444321zywutsqponnmmlkkjjihebbfiklmoppmikrwyzz011222222222221111000zzzyyyxxwwwvvuuutttssrrqqqppooonnnmmmllllkkkjjjjiiiiihhhhgggfffeeedddccbbbaaZZZZYYCDEHIHFGIJIGFHJIGFGIJLQXeghgYbntwy02234433310zxwvtsrqppoonmmlkkjhffhjklmoomdTXmvyzz011222222222221111000zzzyyxxwwwvvuutttssrrrqqppooonnnmmmllllkkkjjjjiiiihhhhggggffffeeedddccbbaaaZZYYYYXDEEEGIJHFGIJIGFHJIGFHLQXdghhaYlsvxz1233333321zyxwvutsrrqqponmmlkjiijkklmnmfSIPjuyzz011222222222222111000zzyyxxxwwvvuuttsssrrqqpppoonnnmmmlllkkkkjjjjiiiihhhhggggffffeeedddcccbbaaZZYYYXXWWCEGHGFGIIHFGIJHGFHJIHIOXeghhcXiruwy01233333210zyyxwvuuttsrqponmllkkkkllmlhVJJYnvyzz011222222223222111000zzyyxxwwvvuuttssrrrqqppoonnnmmmlllkkkkjjjiiiihhhhhggggffffeeeedddcccbbaaZZYXXWVVUTDDEGIIGFGIIHFGIJHGFHJKNVdhhieXfptvxz012233322100zzyxwwvvutsrqonmmllklllliYLHSjtxyzz01122222223332211100zzzyxxwwvvuuttssrrqqpppoonnmmmlllkkkjjjjiiiihhhhggggfffffeeeedddcccbbbaZYYXWVUTSRQPDEFFFHJIGFGIIHFGIJHGGJOWdghigYcosuwyz11233332211100zyyxxwvusrqponmllllljbOGNeqvxyzz01122222233332211100zzyyxxwwvuuttsrrrqqppoonnnmmlllkkkjjjjiiihhhhgggggffffeeeeedddccccbbbaYXWUTSRPONMLLCDFHHGFHJIGFHIIHFGIJIHLVehhihbcnrtvxz01223333332222100zzyxwutrqponmllljdSHKYmuwxyzz01122222333332221100zzyyxwwvvuttsrrqqpppoonnmmlllkkkjjjiiiihhhhggggfffffeeeeddddccccbbbaaYVTRQPNMLKJIHGDDEFIJHFFHJIGFHIIHFGIKMTbgiijikoqsuwyz0123333344443322110zywusrqonmmlkgVJHTirvwxyyz01122222333333221100zzyxxwwvuutssrqqppoonnnmmllkkkjjjiiiihhhhggggffffeeeeedddddcccbbbaaaYVSPNLKJIHGFFEDDEFFFGIJHFFHJIGFHIIHFHMVcfhijlmoqsuvxz01233334444443332210ywvtrqponmliZMGOepuwxxyzz01122222333333221100zzyxxwvvuttsrrqpppoonnmmllkkkjjjiiiihhhggggfffffeeeeeddddccccbbbaaaYVSOLIHGFEEDDCCCCDFHIHFGIJHFGHJIGFHIJIKScghijlmoprtvxyz012333333333322111zywvtrqponnkdQGLZmsvxxyyzz0112222233333221100zzyyxxwvvuttsrrqppooonnmmllkkkjjjiiiihhhggggfffffeeeedddddccccbbbaaYWSPLIFEDCCCCBBBBDEEEHIIGFGIJHFGHJIGFHKNTaehhjkmoprtvwyz001222222232221100zxwutrqppomgUIIVjruwxyyzz00112222223333221100zzyyxxwvvuttsrrqpppoonnmmlllkkjjjiiiihhhggggffffeeeeeddddccccbbbbaYWTPLIFDCBBBBBBBBBCEGGGFHIIGFGIJHFGHJIGHMUbeghjkmnprtuwxyz011111222221100zzyxvutrqqpokZLHRgquwxyyzz000112222222332211100zzyyxwwvvuttsrrqpppoonnmmlllkkjjjiiiihhhggggffffeeeeeddddccccbbbaZWTPLIFDCBBBBBBBBBBCDEGJIGFHIIGFGIJHFGHJJLRZeghiklnpqsuwxyyz011111111100zzzyxwvusrrqpoiTHNdotvxyyzz000111222222222221100zzzyyxwwvuuttsrrqqppoonnmmlllkkjjjiiiihhhggggffffeeeedddddccccbbbaXUQMIFDCBBBBBBBBBBBDEFEGIJIGFHJIGFGIJHFGJOTYcghiklnoqsuvwxyz0000000000zzzyyxxwutsrrqqpkZSamtvwxyzz0000111222222222211100zzyyyxwwvuuttsrrqqppoonnmmmllkkjjjiiiihhhggggffffeeeedddddccccbbaYVRNJFDCBBBBBBBBBBBBCDFHHFGIJIGFHJIGFGIJHHLSZdfgijlmoqstvwxxyzzzzzzzzzzzyyxxxwvutsrrqqqpmkotvxyyz000011111222222222211000zzyyxxwwvuuttsrrqqppoonnmmmllkkjjjiiiihhhggggffffeeeeddddccccbbbZXTOKGDCBBBBBBBBBBBBBDDEFIJHFGIJIGFHJIGFGIKMQWcfghjlmoqrtuvwxyyzzzzzyyyyyxxxwwvuutsrrqqrsstvwxyzz001111111122222222211100zzzyyxxwwvuuttsrrqqppoonnmmmllkkjjjiiiihhhggggffffeeeeddddccccbbaYUQLHECBBBBBBBBBBBBBBDEFFFGIJHFGIJIGFHJIGFHMRVZdghjkmoprtuvvwxyyyyyyyyyxxxwwvvvuttsrrqrstuwxyzz00111111111122222222111000zzyyyxxwvvuuttsrrqqppoonnnmmllkkkjjiiiihhhggggfffeeeeeddddccbbaZXVRNJFDBBBBBBBBBBBBBBBCDFHIGFGIJHFGIJHGFHIIGIOUZcfhjkmnprstuvwwxxxxxxxxxxwwvvvuuttssrrrrsuwxz0001122222211112222222111100zzzyyyxxwvvuuttsrrqqppoonnnmmllkkkjjiiiihhhggggfffeeeeddddcbaZYWVTROKGDCBBBBBBBBBBBBBBBDEEFHJIGFGIIHFGHIGFFGHILQWbehiklnpqstuuvwwxxxwwwwwwvvvuutttsssrrrrtvxy01122222222221122222222111000zzzyyxxwwvvuuttsrrqqppoonnnmmllkkkjjiiiihhhggggfffeeeeddcbaYXVTSQOMKHECBBBBBBBBBBBBBBBBCEGGFFHJIGFGHHFEEGGFEEGKPUZdgiklnoqrttuvvwwwwwwvvvvvuutttsssssrrrsuwy02333333333222222222222111000zzzyyyxxwwvvuutssrrqqppoonnnmmllkkkjjiiiihhhggggfffeedcbaZXVUSQOMLJHGFCBBBBBBBBBBBBBBBBBCDEGIHFFGHGEEEFFEDDEEDDGMRXcgijlmoprsttuuvvvvvvvvvuuutttssssssssstvxz1344444443332221111111111000zzzyyyxxwwvvuuttssrqqppooonnmmmllkkkjjiiiihhhgggfffedcbZXWUSQONLJIGFEDCCBBBBBBBBBBBBBBBBBDEEEFGGFEEEFEDDDDDCCCCCEJOUaehjkmnpqrsstuuuuuuuuuuuutttttssssssttuwy0234444444433222111111111000zzyyyxxxwwvvuuttsrrqqppoonnnmmlllkkkjjiiiihhhhggfedcbZYWUSQPNLJIGFEDCCBBBBBBBBBBBBBBBBBBBBCDFFEDDEEDDCDDCCCCCBBBCDHMSXbfiklnopqrrsttuuuuuuuuutttttttttttttuvxz12455555444332211111111000zzzyyxxxwwvvuuttssrrqqppoonnmmmllkkkjjjiiiihhhggfedbaYWUSQPNLJIGFEDCCBBBBBBBBBBBBBBBBBBBBBBBCDDDEDDCCCCCCBBBBBBBBBBCFJNSWbfikmnopqrrsstttttttttttttttttttuuuvwy02356665554433221111100000zzyyyxxwwwvvuuttssrrqqppoonnmmlllkkkjjjiiiihhgfedbaYWUSQONLJIGFEDCCBBBBBBBBBBBBBBBBBBBBBBBBBBCDCCCCCBBBBBBBBBBBBBBBBCDFJMRWafikmnopqqrrssssstttttttttttttuuvvwxz134676666554432211110000zzzyyyxxwwvvuuutssrrqqppoonnmmmllkkkjjjjiiihgfedbZYWUSQOMKJHGFEDCCBBBBBBBBBBBBBBBBBBBBBBBBBBBBBBBBBBBBBBBBBBBBBBBBBBBBBCDFILQVZegjlnoppqrrrrssssstttttttttuuvwwxz024577776665443221110000zzzyyxxwwwvvuuttssrrqqppoonnmmlllkkjjjjiiihgedbZXVUSQOMKIHGEDDCCBBBBBBBBBBBBBBBBBBBBBBBBBBBBBBBBBBBBBBBBBBBBBBBBBBBBBBBBBBCEHKPTXadgikmopqqqrrrrssssttttttuuvvwxy013467887766554322110000zzzyyxxwwvvuuuttssrqqppooonnmmllkkkjjjiihgfdbZXVTRPNLKIHFEDCCBBBBBBBBBBBBBBBBBBBBBBBBBBBBBBBBBBBBBBBBBBBBBBBBBBBBBBBBBBBBBBBCDGJNQSVYbegjlnopqqrrrssssttttuuuvwxy012457898877665432211000zzyyyxxwwvvuuttssrrqqppoonnmmmllkkjjiihgfdbaYVTRPNLJIGFEDCCBBBBBBBBBBBBBBBBBBBBBBBBBBBBBBBBBBBBBBBBBBBBBBBBBBBBBBBBBBBBBBBBBBBCDFHJLNQTWZbehjmnpqqrrsssttttuuvvxyz12456899998776543211100zzyyyxxwwvvuuttssrrqqpooonnmmllkkjjihgfdbZXVTRPNLJHGEDDCCBBBBBBBBBBBBBBBBBBBBBBBBBBBBBBBBBBBBBBBBBBBBBBBBBBBBBBBBBBBBBBBBBBBBBBBBCDEFHJLOQTWZcfilnpqrrsssttuuuvwxz0235679+++9887654321100zzzyyxxwwvvuuttsrrqqppoonnmmmllkkjigfdbZXVTRPNLJHGEDCCBBBBBBBBBBBBBBBBBBBBBBBBBBBBBBBBBBBBBBBBBBBBBBBBBBBBBBBBBBBBBBBBBBBBBBBBBBBBBBCCDEFHJLORUXaehkmoqrrssttuuvwyz1245789+/+9987654321100zzyyxxwwvuuttssrrqqpponnmmmllkjihfecaXVTRPNLJHGEDCCBBBBBBBBBBBBBBBBBBBBBBBBBBBBBBBBBBBBBBBBBBBBBBBBBBBBBBBBBBBBBBBBBBBBBBBBBBBBBBBBBBBBCCDEFHJMPSWZdgjmoqrssttuvwxz1245789+/+998765432100zyyxxwwvvuuttsrrqqppoonnmmllkjigecaYWTRPNLJHGEDCCBBBBBBBBBBBBBBBBBBBBBBBBBBBBBBBBBBBBBBBBBBBBBBBBBBBBBBBBBBBBBBBBBBBBBBBBBBBBBBBBBBBBBBBBBBCCDEGIKNRUYbeilnprsttuwxz1245789+/+99876542100zyyxxwvvuuttssrrqqpponnmmlkjigecaYWURPNLJHGEDCCBBBBBBBBBBBBBBBBBBBBBBBBBBBBBBBBBBBBBBBBBBBBBBBBBBBBBBBBBBBBBBBBBBBBBBBBBBBBBBBBBBBBBBBBBBBBBBBBCCDFHJMPTWadhknprtuvxz1245689+/+9987653210zyyxxwvvuttssrrqqppoonmmlkigfdaYWURPNLJHGEDCCBBBBBBBBBBBBBBBBBBBBBBBBBBBBBBBBBBBBBBBBBBBBBBBBBBBBBBBBBBBBBBBBBBBBBBBBBBBBBBBBBBBBBBBBBBBBBBBBBBBBBBCDEGILORVZcgknqtvxz1245689+/+9887653210zyxxwvvuttsrrqqppoonmlkihfdaYWURPNLJHGEDCCBBBBBBBBBBBBBBBBBBBBBBBBBBBBBBBBBBBBBBBBBBBBBBBBBBBBBBBBBBBBBBBBBBBBBBBBBBBBBBBBBBBBBBBBBBBBBBBBBBBBBBBBBBBCCDFHKNQUYcgkosvy0245689+/+988764320zyxxwvvutssrqqppoonmkjhfdaYWTRPNLJHFEDCCBBBBBBBBBBBBBBBBBBBBBBBBBBBBBBBBBBBBBBBBBBBBBBBBBBBBBBBBBBBBBBBBBBBBBBBBBBBBBBBBBBBBBBBBBBBBBBBBBBBBBBBBBBBBBBBBBCDEGJMPTXchmqvz235689+/+988764310zyxwvvutssrqpponmkjhfdaYWTRPNLJHFEDCCBBBBBBBBBBBBBBBBBBBBBBBBBBBBBBBBBBBBBBBBBBBBBBBBBBBBBBBBBBBBBBBBBBBBBBBBBBBBBBBBBBBBBBBBBBBBBBBBBBBBBBBBBBBBBBBBBBBBBBCCEFILPTYdioty14689+++987754310yxwvvutssrqppomkhecaYVTROMKIHFEDCCBBBBBBBBBBBBBBBBBBBBBBBBBBBBBBBBBBBBBBBBBBBBBBBBBBBBBBBBBBBBBBBBBBBBBBBBBBBBBBBBBBBBBBBBBBBBBBBBBBBBBBBBBBBBBBBBBBBBBBBBBBBBCDFHLPUZfkqv0479+++987654210yxwvutssrqpoomjeaXVSQOMKIGFEDCCBBBBBBBBBBBBBBBBBBBBBBBBBBBBBBBBBBBBBBBBBBBBBBBBBBBBBBBBBBBBBBBBBBBBBBBBBBBBBBBBBBBBBBBBBBBBBBBBBBBBBBBBBBBBBBBBBBBBBBBBBBBBBBBBBCDFHLPUagmt069+++98765421zywvuttsrqpoomjfZTQNLJIGFEDCCBBBBBBBBBBBBBBBBBBBBBBBBBBBBBBBBBBBBBBBBBBBBBBBBBBBBBBBBBBBBBBBBBBBBBBBBBBBBBBBBBBBBBBBBBBBBBBBBBBBBBBBBBBBBBBBBBBBBBBBBBBBBBBBBBBBBBBCDFIMRWclw49+++98765421zywvutsrrqponlhbVOKIGFDDCCBBBBBBBBBBBBBBBBBBBBBBBBBBBBBBBBBBBBBBBBBBBBBBBBBBBBBBBBBBBBBBBBBBBBBBBBBBBBBBB", "c": "FFFFEBAAAAAAAABFXouxyyxxwvusrpnlifcYUUXWVVTVWWUSRSSTUTYbdcYagjkmnngajqsrlagplafqrfUjy56650roqsvz222333321zyxwusqomkjhgfeedcccccaVTYcddeeefffcUQXefffffbSPZgijjklmnopqstvxz0011221zxvpjjkllFFFFEBAAAAAAAABFXouxyyxxwvusrpnlifcYUUXWVVTVWWURRTSTTTYbdcYbhjkmnmfajqsrkahqlZgqqfUjz56650roqswz222333321zyxwusqomkjigfeedcccccbWSWbddeeeefeaSRZefffffaRQbgiijklmnopqrtvxy0011221zxuojjkllFFFFEBAAAAAAAABFXouxyyxxwvusrpnlifcYUUXWVUTVWWURSTSSTUYbdbYchjkmnmeakrsrjaiqkZgrqeUkz56650spqsw0222333321zyxwusqomkjigffeddccccbYSUZcdeeeeedYQTbfffffeZQSchiijklmnopqrtuwy0011221zxuojjkllFFFFEBAAAAAAAABFXovxyyxxwvutrpnlifcYUUXXUUTWWWURSTTSSUZbcaYdhjlmnmeblrsqiajqkZhrqdUlz56651sprtw0222333320zyxvusqomkihgffeddcccccZTSXcdeeeeecVPWdfffffeXPUdhiijklmnopqrsuwyz011221zxuoijkklFFFFEBAAAAAAAABFYovxyyyxwvutrpnlifcYUUYXUUTWXWURSTTSSUZbcZYehjlmnldcmrsqhakqjZirqdVm056651sqrtw0222333210zyxvusqomkgeeffedddccccaVRVbdeeeeeaSQYefffffdVPWehhijklmnopqrsuwyz011221zxuoijkklFFFFEBAAAAAAAABFYovxyyyxwvutrpnlifcYUUYXUTTWXWTRSTTSSVZbcYYfijlmnlccnrspfamqiZjrqcVn056651tqrtw0222333210zyxvusqomjcYaefedddccccbXRSZddeeedYQRaefffffcUPXfhhijkllmnopqsuwyz011221zwtniikklFFFFEBAAAAAAAABFYovxyyyxwvutrpnlifcYUUYXUTTWXWTRSTTSSVZbbYZfijlmnkbdnrspebnqhZkspbVn056651tqsux0222333210zyxvusqomjcWYdeedddcccccZSQXcdeeecVPUcfffffebTQZfhhijjklmnopqsuwyz011221zwtnhijklFFFFEBAAAAAAAABFYovxyyyxwvutrpnlifcYUUYYUTTWXWTRSTTSRVabbXagijlmnjbeorsodcoqhZkspbWo056651trsux0222333210zyxvusromjdWXceeddddccccaUPUbdeeebTPWdfffffeaRSbfhhiijklmnopqstvyz011221zwtnhijkkFFFFEBAAAAAAAABFYpvxzyyxwvutrpnlifcYUVYYVTTWXVTRSTTRRWabaXbgijlmnjafossncdoqgZlspaWp156661ursux0222333210zyxvutrpmkfXWbeeddddccccbWPRZdeedZQQZefffffeYRTcghhhijklmnopqrtvxz011221zwsmhijkkFFFFEBAAAAAAAABFYpvxzyyxwvutrpnlifcYUVYYVSTWXVSRSSSRRWabZXcgijlmniagpsrmbepqfamsoZXq156661ustvx0222333210zyxvutrpnkgYVZdeddddcccccYRPWceecWOSbefffffdXQVdgghhijklmmnoqrtvxz011221zwsmgijkkFFFFEBAAAAAAAABFYpvyzyyxwvutrpnlifcYUVYYVSTWXVSQQRRRRWabYXdgijlmmhahpsrlafqpeansoZXq166661ustvy1222233210zyxvutrpnlhZUYdeddddcccccaTOTbddbTOVcefffffdWQWegghhijkllmnoprtvxz011221zwsmghjkkFFFFEBAAAAAAAABFZpvyzzyxwvutrpnlifcYUVYYVSTXXVRPOOQQRWaaXXdhijlmmgaiqsrkahqpdbntoYYr166662vsuvy1222232210zyxvutrpnlibUWceddddcccccbWOQZddZQOXdfffffecURYegghhijjklmnoprtvxz011222zwslghjkkFFFFEBAAAAAAAABFZpvyzzyxwvutrpnlifcYUVYYVSTXXUQNLLOPRWaaXYehijlmmfajqsrjairpdbotnXZs266662vtuwy1222222210zyxvutrpnljcVVbdddddccccccYPNWccWOQZefffffebTSZeggghiijklmnoprsvxz011222zvrlfhjkkFFFFEBAAAAAAAABFZpvyzzyxwvutrpnlifcYUVYYVSTXXUPLIIMPRWZZWZehijlmleakqsqiajroccotnXZs266662vtuwy1222222210zyxvutrpnljeWUZdddddccccccaSMSabTMSbeffffeeaSTbfggghhijklmmopqsuxz011222zvrlfhjjkFFFFEBAAAAAAAABFZpvyzzyxwvutrpnlifcYUVYYWSTXXUPLHHLORWZZWafhijlmldblqsqgalrobdptmWat266662wuvwy1232222210zyxvutrpnmkfXTYcddddccccccbVMOXYQMVceeeeeedYSUcfggghhijkllmnpqsuxz011222zvrkfhjjkFFFFEBAAAAAAAABFZpvyzzyxwvutrpnlifcYUVYYWSTXXUPLHHLOSWZYWbfhijlmlcbmrspfamsnbdqtmWbt266662wuvwz1232222210zyxvutrpnmkgZSWbddddcccccccYOLTVMNXdeeeeeedXRWcffggghijkklmnoqsuwy011222zvrkegjjkFFFFEBAAAAAAAABFZpwyzzyxwvutrpnlifcYUVYYWSTXWUPNKKMPSWZXWbfhijlmkccmrspebnsnaeqtlVcu266662xvvxz1332222210zyxvutrpnmkhaTUaddddcccccccaSJOQKPZeeeeeeecWRXdffggghijjklmnoqsuwy011222zvqkegijkFFFFEBAAAAAAAABFZpwyzzyxwvutrpnlifcYUVYYWSTXWUQPNNOQSVYXWcfhijlmjbdnrrodcosmafqtlVcu266662xvwxz1332222210zyxvutrpnmlicUTZddddcccccccbVKKMJSbeeeeeeebVSYdffggghiijklmnoqruwy012222zvqjegijkFFFFEBAAAAAAAABFaqwyzzyxwvutrpnlifcYUVYYWSTWWURRQQQRTVYWXdfhijlmjaeorrncdpslagrtkVdv366663xvwxz2333222210zyxvutrpomljdVSXcdddccccccccYNHHJVceeeeeeebUTaefffgghhijkllmopruwy012222zvqjdgijkFFFFEBAAAAAAAABFaqwyzzyxwvutrpnlifcYUVYYWSTWWTRSSRRRTVXVYdfhijlmiaforrmbepslZhrtkUev366663ywxy02333222110zyxvutrpomljfWRWbddddcccccccaQGFKXdeeeeeedZSUbefffgghhijkklmoprtwy012222zupjdgijjFFFFEBAAAAAAAABFaqwyzzyxwvutrpnlifcYUVYYWSTWWTSTTSRSUVWVZdghijlmhagprrlafqskZhstjUfw366663ywxy02333222100zyxvutrqomljgYRUaddddccccccdbTGEMZdeeeeeedXRUbeffffgghijjklmnprtwy012222zupidfijjFFFFEBAAAAAAAABFaqwyzzyxwvutrpnlifcYUVYYVSTWWTSTUTRSUUWVZeghijllgahprrkahrrjZissiUgw366663yxxy0233322210zzywvutrqomlkhaSSZcdddccccccdcVIFNadeeeeeecVPVceffffgghiijklmnprtwy012222zupicfijjFFFFEBAAAAAAAABGaqwyzzyxwvutrpnlifcYUVYYVSTWWTSUUTRTUUVVaeghijllfaiprqjairriZjssiUgx366663zxyz0233322210zyywvutrqonlkhcTRXcdddccccccdcZQNUcdeeeeedbTPWceefffgghiijkklnpqtvy012222zupicfijjFFFFEBAAAAAAAABGaqwyzzyxwvutrpnlifcYUVYYVSTWWTSUUTRTVUUVbeghijllfajqrqiajrrhZksshUhx366663zxyz1233322210zyywvutrqonlkieVQUadddccccccddcaZbdeeeeeedZQPYdeeffffghhijjklnoqtvy012222zuohcfijjFFFFEBAAAAAAAABGaqwyzzyxwvutsqnlifcYUVYYVSTVVSSUUSRUVUTWbefhijlkeakqrqgalsrhZltsgUix366663zyyz1233322210zyxwvutsqonlkifYRSZcddccccccdddddddeeeeedcWNPZdeeefffghhijjklmoqsvy012222zuohbfiijFFFFEBAAAAAAAABGbqwy0zyxwvutsqnlifcYUVYYVTTVVSTUUSRUVUTWcefhijlkdblqrpfamsqgaltsgUjy4666630yz01233322210zyxwvutsqonmkjgbSQWbddccccccddddddddeeedcaTLQadeeefffgghiijklmoqsvy012222zuohbehijFFFFEBAAAAAAAABGbqwy00zxwvutsqolifcYUVYYVTUVVSTUUSRUVTTXcefhijlkcblqroebnsqfamtsfUky4666640zz01333322210zyxwvutsqonmkjhdVQUacdccccccdddddddddeddbWOJRadeeeeffgghhijjlmoqsvy012222ztogbehijFFFFEBAAAAAAAABGbrwy00zxwvutsqolifcYUVYXUTUVVSTUTRRUVTSYcefhijljbcmqrodcosqeantreUly4666640z001333322110zyxwvutsqpnmkjheYQSYccccccccdddddddddddcZSJHRbdeeeefffghhijjkmopsvx012222ztngaehijFFFFEBAAAAAAAABGbrwz00zxwvutsqoljfcYUVYXUTUUUSTUTQQTVTSYcefhijlibdnrrncdpspebotrdVlz4666641z012333322110zyxwvutsqpnmljifaSQWbcccccccdddddddddddcXNGGRbdeeeeeffgghiijkmnpsvx012232ztngaehijFFFFEBAAAAAAAABGbrwz00zxwvutsqoljfcYUVYXUTUUUSTUSPPSUSSYdefhijliaenrrmbeptpdbotrdVmz46666410012333322110zyxwvutsqpnmljigcUQUacccccccdddddddddddbVKEGSbddeeeeffgghhijklnpsvx012232ztnfaehijFFFFEBAAAAAAAABGbrxz00zywvutsqoljfcYUVYXUUVUTSUTQMMQTSTZdefhijlhaforrlafqtoccpurcVnz46666410112333322110zyxwvutsqpnmljigdXQSYcccccccdddddddddddbUJDHTbdddeeeefgghhijklnprux012232ztmfZehijFFFFEBAAAAAAAABGbrxz00zywvutsqoljfcYUWYXUUVUTSUTPKJNRRTZdefgijkgZgorqkahrtocdpuqbWoz46666421122333322110zyxwvutsqpomljiheZSQWbccccccdddddddddddbTIEJVbccddeeeffghhiijlnprux012232ztmfZdhiiFFFFEBAAAAAAAABGbrxz00zywvvtsqoljfcYUWYXUUVUTSUSNIHLQRTZcefgijkgZhprqjairtnbequqbWo046666421123343322110zyxwvutsrpomlkihfbUPUacccccccddddddddddZQGGOXbbabcdeeffgghhijlnorux012232ztmeYdhiiFFFFEBAAAAAAAABGcrxz00zywvvtsqoljfcYUWYXUUWUSSUSNHGKPRTYcefgijkfZiprqhajssnaequqaXp046666522223343322100zyxwvutsrpomlkihfdXQRYbccccccdddddddddcWLGMVaaYXYbdeeffgghhijlmorux012232zsmeYdhiiFFFFEBAAAAAAAABGcrxz00zywwvtsqoljfcYUWYXTUWUSSUSNIHKPRUYcefgijkeajprpgakssmafrupZXq056666532223443322100zyxwvutsrponlkihgeZSQWbccccccddddddddcZQHLUZbZURTZcdeeffgghijkmorux012232zsleYdgiiFFFFEBAAAAAAAABGcrxz00zyxwvusqoljfcYUWYWTUWUSTUTOKKNQSUYcefgijjdajqrpfalsslZgruoYYr056666532333443322100zyxwvutsrponlkihgebUPTZccccccddddddddbUKJSZcbXQLPWbdeeffgghhikmoqux012232zsleXdghiFFFFEBAAAAAAAABGcrxz00zyxwvusqoljfcYUWYWTVWUSTVTPNNPRSVYcefgijjdakqroebmsskZisunXas15666653333344332110zzyxwvutsrponlkjhgfcXQRXbcccccdddddddcXOIPYccbWNHLVbdeeffgghhikmoqux012232zsldXcghiFFFFEBAAAAAAAABGcsxz00zyxwvusqoljfcYUWYWTVXURTVTQPQRRTWXcefgijjcalqrodbnssjZjsunWbs15666654333444332110zzyxwvutsrqonmkjhgfdZSPVaccccccdddddcaSJMWbdcbWNHLVbddeeffgghikmnqtx012233zskdXcghiFFFFEBAAAAAAAABGcsxz00zyxwvusqoljfcYUWYWTVXURTVTQRSTSUWXbefgijjcblqrnccotrhZkttmVct15666654444444332110zzyxwvuusrqonmkjhgfebVPSZccccccddddcbWMKSacddbXQLOWbddeeffgghijlnqtx012233zskdWcghiFFFFEBAAAAAAAABGcsxz00zyxwvusqoljfcYUWYWTVXURTVTRSUTSVXXbefgijibbmqrmcdptrgZlttlVdu15666654444444332110zyyxwvuusrqonmkjhgfecXQQXbccccccdddcYQKPYcdddcZURTYcddeefffggijlnqtw012233zskcWcghiFFFFEBAAAAAAAABGdsxz00zyxwvusqoljfcYUWYWTVXURTVTRTUTSWXXbefgijibcmqrmbeptqfamttkUfv25666655444444332110zyyxwvuusrqpnmkjhgfedZTPUacccccccccaULMVbcdddcbYWXacdddeeffgghjlnqtw012233zrkcWcghiFFFFEBAAAAAAAABGdsxz10zyxwvusqomjfcYUWXVTWXURTVSRTUTSWXXaefgijiadnrqlafqtqebnttiUgv25666665555554332110zyyxwvuutrqpnmljigfeebVPSYccccccccbYSNSZccddcccaaabcdddeefffghjlnptw022233zrjcVbghiFFFFEBAAAAAAAABGdsxz11zyxwvusqomjfcYUWXVTWXURTVSRTUSTXYXadfgijhadnrqkagqtpdboushUhw25666665555554332110zyyxwvuutrqpomljigfeecYRQWbcccccccaURUYbccccccccbcccdddeeeffghjlnptw022233zrjbVbghiFFFFEBAAAAAAAABGdsxz11zyxwvusqomjfcYUWXVTWXURTUSRUUSTXYXadfgijhZenrqjahrtoccpusgUjw25666666665554332100zyyxwvvutrqpomljigffedaTPTZcccccccYSSYbccccccccccccccdddeeffghikmptw022233zrjbVbghhFFFFEBAAAAAAAABGdsxz11zyxwvusqomjgcYUWXVTWXURTUSSUUSUXYXZdfgijgZforqiZirtnbdqusfUkx26666666665554332100zyyxwvvutsqpomljigffedbWQRYbcccccbWQTacccccccccccccccdddeefffhikmpswz12233zrjbVbfhhFFFFEBAAAAAAAABGdsxz11zyxwvusqomjgcXUWXVTWXUSTUSSUTSUYZXZdfgijgZforphajssnaequreVlx26666666655544332110zyyxwwvutsrponlkihffedcYRQVbcccccaUQVbcccccccccccccccdddeefffhikmpswz12222yribVbfhhFFFFEBAAAAAAAABGdsxz110yxwvusqomjgcXUWXVTWXTSTURTUTSVYZYYdfgijfZgorpgakssmagrurcVmx25666666655444332110zzyxwwvutsrponlkihgfeedaUPTZcdddcZSRXccccccccccddddddddeeeffghikmpswz11222yqibVbfghFFFFEBAAAAAAAABGdsxz110yxwvusqomjgcXUWXVUXXTSTTRTUTSVYZYYcfgiieZhprpfalsslZhruqbWoy25666666554444322110zzyxxwvvusrqonlkihgfeedbXQRXcdddbXQSZcdddddddddddddddddeeeffghikmpsvz01121yqiaVbfghFFFFEBAAAAAAAABGdsxz110yxwvusqomjgcXUWXVUXXTTTTSTUSSWYZYYcfgiieZhproebmssjZisupaXpy25666666554443322110zzyyxwwvutrqpnmkjhgffedcZSPVbcddbUPUacdddddddddddddddddeeeffghikmpsvy01111xqiaVbfghFFFFEBAAAAAAAABGdrxz010zxxwutqomjgcXUWXUUXWTTTTSUUSTWYZZYcfgiidZipqndbnsriZjsupZYqy256666655444333221100zyyxwwvutrqpnmkjhgffeedbVPSZcdcZSQWbddddddddddddddddddeefffghikmpsvy00111xpiaVbfghFFFFEBAAAAAAAABGcrxz010zyxwutqomjgcXTWXUUXWTUTSSUUSTWYaZYbfgiidZjpqnccosrhZktuoYZrz256666655443333221100zyyxxwvutsqpomkjhggfeedcXRQXcdcXQRYcddddddddddddddddddeefffghikmosvyz0010wpiaVbfghFFFFEBAAAAAAAABGcrxz010zyxwutromjgcXTWXUUXWTUTSSUUSUXYaZYbeghicajpqmbdpsqgZltunXasz256666655433332221100zzyxxwwvtsrpomljiggfeeddaTPUacbVPTaddddddddddddddddddeeefffghikmoruxz0000wphaVbfghFFFFEBAAAAAAAABGcrwz010zyxwvtromkgcXTWXUVXWTVTSTVUSUXZaaYbeghhbakpqlbepsqfamttmWbtz356666654433332221110zzyyxwwvtsrpomljihgffeedbWQRYcaSPVbddddddddddddddddddeeeffgghjkmoruxzz000wphaVbfghFFFFEBAAAAAAAABGcrwz010zyxwvtromkgcXTWXUVXWUVTSTVTSVXZaaYaeghhbbkpqkafqspebnttlVctz356666654333222222110zzyyxxwvusrqonljihgffeeedZSPVaYQQYcddddddddddddddddddeeeffgghjkmoruxyzz0zvohaVbfghFFFFEBAAAAAAAABGcrwz010zyxwvtrpmkgcXTWXUVYVUWTRTVTSVXZaaYaeghhablpqjagqspdboutkVeuz3566666543222222221100zzyxxwvutrqonlkihgffeeedbUPSYVOSadddddddddddddddddddeefffgghjkmoruwyzzzzvohaVbfghFFFFEBAAAAAAAABGcrwz010zyxwvtrpmkgcXTWXUVYVUWTRUVTTWXZabZZeghgaclppjZhrsoccputjUfv03566666543222222221100zzyyxwwutrqpnlkihggfeeeecXQPUSOUbdddddddddddddddddddeefffgghjkmoruwyyzzyvohaVbfggFFFFEBAAAAAAAABGcrwy010zyywvtrpnkgcXTWXUWYVUWTRUVSTWXZabZZdghgacmppiZirsnbdqusiUgv03566666543222222221100zzyyxxwutsqpnmkihggffeeedaTOQPOXcddddddddddddddddddeeefffgghjkmortwxyyzyuohZVbfggFFFFEBAAAAAAAABGcqwy0110zyxvtrpnkhcXTVWUWYVVXTRUUSUWXZabZZdghfZdmppgZjrsmafqushUiw035666655422222222211000zzyyxwvtsqpnmkjhhgffeeeecWONMQZdddddddddddddddddddeeefffgghjkmoqtwxyyyyungZVbeggFFFFEBAAAAAAAABGcqwy0110zyxvtrpnkhcXTVWUWXVVXTSUUSUWXZabaYdghfZdmpofakrslagrusfUjw035666655321111122221100zzyyxwvtsrpomkjihgfffeeedZQLLSadddddddddddddddddddeeeedefghjkmoqtvxxyyxtngZVaeggFFFFEBAAAAAAAABGcqwy0110zyxvtrpnkhcWTVWUWXUVXTSUUSUVWYabaYcfheZenpoealsskZhrureUkx035555555321111112221100zzyyxxvusrpomljihggfffeeebSKKTbddddddddddddddddddeeeecYYdghjkmoqtvwxxyxtngZVaefgFFFFEBAAAAAAAABGcqwy0110zyxvtrpnkhcWTVWUWXUWXTSUTSTTUXabaYcfheYfnpndbmsrjZisurdVmx0355555553211111122211000zzyyxvutrqomljihggffffeecVLLVcdeddddddddddddddeeeeeeaUVcghjkmoqsvwxxxwtmgZVaefgFFFFEBAAAAAAAABGbqvy0110zyxvtrpnkhcWTVWUXXUWXTSUSRRQRWZbbYbfgdYfnpndcnsriZjsuqcVny0355555543100111122211100zzyyxwutrqonljihhgfffffedZTTZdeeeddddddddddddeeeeeecWSXeghjkmoqsuwwxxwsmgZVaefgFFFFEBAAAAAAAABGbqvy0110zyxvtrpnlhcWTVWUXXUWXTTUSQOMOUZbbZbfgdYgnpmccosqhZksuqbWoy1355555543100011122211100zzzyxwutrqonljihhggfffffedbbdeeeeeddddddddddeeeeeeeaTSafhijkmnqsuvwwxwsmgZVaefgFFFFEBAAAAAAAABGbqvy0110zzxwtrpnlhcWTVWUXXUXXTTTRQLILSYbbZafgcYhnplbdosqfZltupZXpy13555555431000011122211000zzyxwvtsqpnlkihhggffffffeeeeeeeeeeddddddddeeeeeeedXQUcghijklnqsuvvwwvsmfZVaefgFFFFEBAAAAAAAABGbpvy01100zxwurpnlhcWTVWUXXUXWTTTRQKGKRYbcZaegcZhopkaepspeamtuoYYqz13555555421000011122211100zzzywvtsqpnlkiihgggffffffeeeeeeeeeeddddddeeeeeeeebTPXeghijklnpstvvwwvrlfZVaefgFFFFEBAAAAAAAABGbpvy01100zywurpnlhcWTVVUXWUXWUUSRQLILSYbcaaefbZiopkafpspdbnttnXZrz13555555420zz00011222111000zzyxvusrpnmkjihhggffffffeeeeeeeeeeeddddeeeeeeeedYPRafghijklnprtuvvvvrlfZVaefgFFFFEBAAAAAAAABGbpvy01110zywurpnlhcWTVVUXWVYWUUSSSOLNUZccaZefbZiopjZgqsoccottnWasz13555555420zzz00112221111000zyxvusrpnmkjihhgggffffffeeeeeeeeeeeddeeeeeeeeebTNUcghhijklnprtuuvvuqlfYVaefgFFFFEBAAAAAAAABGbpvy01210zywurpnlhcWTVVVYWVYVUVSTURPRWZccaZdfaajooiZhqsnbcpttmWbtz13555555420zzzz0112222111000zyxwusrpomkjihhggggfffffeeeeeeeeeeeeeeeeeeeeedYPOXeghhijklnprtuuvvuqlfYVaefgFFFFEBAAAAAAAABGbpvy01210zywuspnlhcWTVVVYWVYVVVSTWUTUXacdbZdeaajoohZirsmaequtlVctz1355555542zyzzz01122221111000zxwutrpomljiihgggggfffffeeeeeeeeeeeeeeeeeeedbUMQafghhijklnprstuuutqkfYVaeffFFFFEBAAAAAAAABGbpuy012100ywusqolicWSVVVYVWYVVVSUXWWXZbcdbZceZakoogZjrsmafqutkUdu01355555542zyyzz01122222111000zxwutrqomljiihhggggfffffeeeeeeeeeeeeeeeeeedbXPLUdgghhijklnpqsttuutpkeYVaeffFFFFEBAAAAAAAABGbpux012100ywusqolicWSUVVYVWXVWVRTXXXYZbcdcZcdZbkonfakrrlZgrusiUfv01355555541zyyyz00122222111100zywvtsqonljiihhgggggfffffeeeeeeeeeeeeeeeedbXRKMYeghhhijklnpqsttuutpkeYVaeffFFFFEBAAAAAAAABGbpux022110ywusqolicVSUUVYVWXVWVQRWYYYabcdcZbdYclonealrrkZhrushUgv02355555541zyyyz00122222211110zywvtsqonlkjihhhggggfffffeeeeeeeeeeeeeeeecYRKHPbfghhhijklnoqrstttspkeYVadffFFFFEBAAAAAAAABGboux022110zwusqolicUQSUVYVXXVXUQQWYYZabcdcZbcYclomdbmsriZisusgUhw02355555541yxxyyz01232222211110yxvusqpnlkjiihhhggggfffffeeeeeeeeeeeeeeebVLGGScgghhhijklnoqrssttsojeYWadefFFFFEBAAAAAAAABGaoux022110zwusqomiaQMPTWXVXXVXUQRWYYZabcddaacYdlomccnsqhZjsurfUiw02455555531yxxyyz01232222211110yxvusqpnlkjiihhhggggffffffeeeeeeeeeeeeeebSHDIVdgghhiijklnoqrssttrojeYWadefFFFFEBAAAAAAAABGaoux022210zxusqomiaPKOTWXVXWVXTQRXZZZabcddbbdafmolbcosqgZksureUjw02455555531yxxxyz01233222221110zxwusrpnmkjiihhhhggggffffffeeeeeeeeeeeeebRGDKXegghhiijklmoprrsssrnjeYWadefFFFFEBAAAAAAAABGaoux022210zxusqomiaPKOTWXVXWVXSQTYZZZabcdeeeghknokaeospfalsureUjw02455555530ywxxyz01233222222210zxwutrpnmkjjiihhhggggffffffeeeeeeeeeeeeebTJGPZfghhhiijklmopqrrssrnidYWadefFFFFEBAAAAAAAABFaoux022211zxusqomiaPKOTWXVXWWWSQVYZZZabcdeffhjmnojafpspeantureUkw12455555530xwwxyz01233322222221zywutrpomkjjiihhhhggggffffffeeeeeeeeeeeedYRPVcfghhhiijklmopqrrrsqnidXWadefFFFFEBAAAAAAAABFaotx022211zxusqomiaPKOTWXVXVWWRRWZZZZabcdeffhjmnniZgqsocbntureUkx12455555530xwwxxz01233332222221zywvtrqomkjjiiihhhggggfffffffeeeeeeeeeeeebYXaegghhhiijklmopqqrrrqmidXWadefFFFFEBAAAAAAAABFaotx023211zxusqomiaPKOTXWVXVXVRRXZZZZabcdeffhjmnnhZhqsnbcotureUkx12455555530xwwwxz012333333222210ywvtrqomlkjjiihhhhgggfffffffeeeeeeeeeeeedccdfgghhiiijklmnopqqrrqmidXWadefFFFFEBAAAAAAAABFantxz23221zxusqomiaOKOTXWWXVXUQSXZZZZabcdeffhjmnngZiqsmadptureUkx12455555530xvwwxy012333333332210yxvtsqomlkjjiiihhhggggfffffffeeeeeeeefffeeeffgghhiiijklmnopqqqrpmhdXWadefFFFFEBAAAAAAAABFantxz232210xvsqomiaOKOTXWWXVXTQSYaaZZabcdeffhjmnmfZkrrlafqtureUkx12455555530wvvwxy012333333333320yxvusqonlkjjiiihhhhgggfffffffeeeeeeeefffffffgghhhiijjklmnoppqqqplhdXWadefFFFFEBAAAAAAAABFantxz232210xvsqomiaOKOTXWWXVXSQUZaaZZabcdeffhjmnmealrrkZgqturdUkx1345555553zwvvwxy012333333333320zxvusqpnlkjjjiiihhhgggffffffffeeeeeeffffffffgghhhiijjklmnooppqqolhcXWadeeFFFFEBAAAAAAAABFantxz233210xvsqpmiaOKOTXVWWVWSPVaaaZZZacdeffhjmnldamrrjZhrturdUkx1345555553zwuvvwyz12333333333321zxwusqpnlkkjjiiihhhggggfffffffeeeeeefffffffggghhhiijjklmnoopppqokhcXWadeeFFFFEBAAAAAAAABFantxz233220xvsqpmiaOKOTXVXWWWRPWaaaZYWXbdeffhjmnlcbmrqiZirturdUlx1345555543zwuuvwyz13333333333321zxwusrpnlkkjjiiihhhhgggffffffffeeeeffffffffggghhiiijjklmnnoopppokgcXWadeeFFFFEBAAAAAAAABFantwz233220xvsqpmiZOKOTXVXWWVQQXaaaZXUWbdeffhjmnkbcnsqgZksturdUlx1345554442zvuuvwyz13333333333331zywutrpnmlkjjjiiihhhgggffffffffeeeeffffffffggghhiiijjklmmnoooppnkgcXWadeeFFFFEBAAAAAAAABFZnswz233220xvsqomiZOKOTXVXVWUPRYbaaZWTXcdeffhjmnjadospfZlstuqdUlx1244444442yvuuvwyz12333333333331zywvtrpomlkkjjiiihhhggggfffffffeeeeffffffffggghhhiijjkllmnnooppnkgcXWadeeFFFFEBAAAAAAAABFZnswz233210xusqomiZOKOTWVXVWTOSZbaaYUUZcdeffhjmniZepspeamstuqdUlx1234444331yvuuvwyz123333333343310ywvtrqomlkkjjiiihhhggggfffffffeeeeefffffffggghhhiiijkklmnnooppnkgcXXadefFFFFEBAAAAAAAABFZnswz233210xusqomiZOKOTWVWVWSOTZbaZXTUacdeefhjmmhZfpsodbnsttqdUlx1234443320xvtuvwyz123333334443310yxvtsqonllkjjjiiihhhggggffffffeeeeeffffffffgghhhiiijjklmnnooopnkgdYXbdefFFFFEBAAAAAAAABFZmswz23321zxusqomiZNKOTWVWVVQOUabaZVSWacdeefhkmmgZhqrnccottureUjw0234433220xutuvwyz123333344443310yxvusqpnmlkkjjiiihhhggggffffffeeeeeffffffffggghhiiijjklmnnnooonkgdYXbdefFFFFEBAAAAAAAABFZmswz23321zxusqomhZNKOTWVWVVPOVabaYTSXbcdeefhkmmfZiqrmbdotturgUhw023333221zxutuvwyz123333344444310yxvusrpnmlkkjjiiihhhggggffffffeeeeeefffffffggghhhiijjklmmnnooonkgdYYbdefFFFFEBAAAAAAAABFZmswz23321zxusqomhZNKOTVVWVUOOXbbaXSTYbcdeefhkmleZjqrlaepttusiUfv013333210zwutuvwyz123333444444310zxwutrpomllkjjiiihhhhggggfffffeeeeeefffffffggghhhiijjklmmnnnoonkhdZYbeefFFFFEBAAAAAAAABFZmswz23221zwusqolhYNKOTVVVVTOPYbbZVRVZbcdeefhkmldZkrrkZfqttusjUdu012332210ywttuvwyz123333444444320zxwutrqommlkkjjiiihhhggggfffffeeeeeeefffffffgghhhiiijkllmmnnoonkhdZYbeefFFFFEBAAAAAAAABFZmswz13221zwurpnlhYNKOTVVVVSNRZbaYTRWabcdeefhkmlcalrrjZgqttutlVctz1233210zxvttuvwyz123333444444320zxwvtsqonmlkkjjiiihhhggggfffffeeeeeeefffffffggghhiiijkllmmnnoomkhdZZceffFFFFEBAAAAAAAABFZmswz13221zwurpnlhYNKOTVVVVSQUabaXRSXabcdeefhkmkcbmrqiZirttutmWasz1222210yxvtstvwyz123333444444320zywvtsqonmllkjjiiihhhggggfffffeeeeeeeeffffffggghhhiijkklmmnnnomkheZZceffFFFFEBAAAAAAAABFZmswz13221zwurpnlhYNKOTUVUVUWZbbZVQUYabcdeefhkmleenrqhZjrttttnXYqz122220zywutstvwyz123334444444320zywvusrpnmllkjjjiiihhhggggffffeeeeeeeeefffffggghhhiijjklmmmnnnmkheaZceffFFFFEBAAAAAAAABFZmswz13220zwtrpnlhYNKPTUVUVVYbbbYSQWZabcdeefhkmnmmqrpgZkrttttoZXpy012210zxwusstvwyz123334444444321zyxvutrponmlkjjjiiihhhggggffffeeeeeeeeeefffffgghhhiijjkllmmnnnmkheaacefgFFFFEBAAAAAAAABFZmswz13220ywtrpnlgYNKPTUVUVVZbbaXQRXZabcdeefhkmooprrpeZlsttttpaWny012210yxvtsstvwxz023334444444321zyxwutrponmlkkjjiiihhhggggffffeeeeeeeeeeeffffggghhiiijkllmmmnnmkheaadefgFFFFEBAAAAAAAABFZmswy12220ywtrpnkgXNKPTUVUVVabbZUPTXZabcdeefhkmopqrrodamsttttqcVmx01111zywutsstvwxz0233344444443210yxwvtsqonmlkkjjiiihhhggggffffeeeeeeeeeeeefffggghhhiijkllmmmnnmjhebadffgFFFFEBAAAAAAAABFYmrvy12210ywtrpnkgXNKPTUUUUWabbYROTXYabcddefikmopqrrncbnsttttreUkx01110zxvutrstuwxz0233344444443210zxwvusqonmllkjjjiiihhhgggffffeeeeeeeeeeeefffggghhhiijkkllmmmnmjhebadffgFFFFEBAAAAAAAABFYmrvy12210yvtrpnkgXNKPTUUUUXabaWPOSVXZbcddefikmopqrrnbcosttttrfUiwz1110ywvtsrrtuwxz0233344444443210zywvusqpommlkjjjiiihhhgggffffeeeeeeeeeeeeeffggghhhiijkkllmmmnmjhfbbdfggFFFFEBAAAAAAAABFYmrvy12210yvtromkgXMLPTUUUUXabZTNOPRVZacddegikmopqrrmadpsttttshUgvz0110ywutsrrtuwxz0233344444443210zyxvutrponmlkjjjiiihhhggggfffeeeeeeeeeeeeefffggghhiijjklllmmmljhfcbdfggFFFFEBAAAAAAAABFYlrvy12210yvtqomkgXMLPTUUUUYbbYRMNLNTYacddegikmopqrrlZfpsttttsjUeuz010zxvtsrrrtuwxz0233344444443210zyxwutrponmlkkjjiiihhhggggfffeeeeeeeeeeeeefffggghhhijjkkllmmmljhfcbefggFFFFEBAAAAAAAABFYlrvy12210yvtqomkgXMLPTUTUVZbaWOMLIKRXacddegikmopqrqjZgqsttttskVctz000zxvtrrqrtuwxz0233344444443210zyxwvtrqonmlkkjjjiihhhhgggfffeeeeeeeeeeeeefffggghhhijjkklllmmljhfccefggFFFFEBAAAAAAAABFYlrvy12210xvsqomkfWMLPSTTUVZbZTNOLHJRXacddegiknopqrqiZhqstttttmWasy000zxusrqqrsuwxz0233344444443310zyxwvusqonmlkkjjjiiihhhgggfffeeeeeeeeeeeeeeffggghhhiijkklllmmljhfccegggFFFFEBAAAAAAAABFYlrvy12210xvsqomjfWMLPSTTUWabZRNQNJLRXabcdegiknopqrphZirstttttnXZryz00zwurqqqrsuwxz01233444444443210zyxvusqpnmlkkjjjiiihhhgggfffeeeeeeeeeeeeeefffggghhiijkkklllmljhfdcegggFFFFEBAAAAAAAABFYlrvy1221zxvsqomjfWMLPSTTTWabZVTUQNOTYabcdegiknopqrpgZkrstttttoYXpxz0zywtrqppqsuwxz01233444444443210zyxwusqponmlkkjjiiihhhgggfffeeeeeeeeeeeeeefffggghhiijjkklllmljhgddfgghFFFFEBAAAAAAAABFYlrvy1221zxvsqomjfWMLPSTTUXabaZYXURSVYabcdegilnopqqoeZlrstttttpaWoxzzzyvtqpppqsuwxz01233444444443210zyxwvtrponmlkkjjjiihhhgggfffeeeeeeeeeeeeeefffggghhhijjkkklllljigddfgghFFFFEBAAAAAAAABFYlrvy1221zxusqoljfWMLPSTTUYabbaaYWVVXZabcdegilnopqqodamsstttttqcVmwzzzyvsqoopqsuwxz01233444444443210zyxwvtrponmlkkjjjiiihhgggfffeeeeeeeeeeeeeefffggghhhiijkkklllljigedfghhFFFFEBAAAAAAAABFYlrvy1221zxusqoljfWMLPSTTUYabaaaZYXYYZabcdegilnopqqncbnsstttttqdUkwyzzxvspoopqsuwxz01233444444443210zzyxvtrqonmlkkjjjiiihhhggfffeeeeeeeeeeeeeeefffggghhiijjkkkllljigeefghhFFFFEBAAAAAAAABFYlrvy1221zxusqnljeVMLPSSTVZaaaaaaZZZZaabcdegilnopqqmbcosstttttrfUivyzzxuronooqsuwxz012334444444432100zyxwtsqonmlkkkjjiiihhhggfffeeeeeeeeeeeeeeefffggghhiijjkkkllkjigeefghhFFFFEBAAAAAAAABFYlrvy1221zxuspnlieVMLPRSTVZaaaaaaZZZZaabcdegilnopqqladosstttttrhUguyyyxuronnoqsuwxz012334444444432110zyxwusqpnmlkkkjjjiihhhgggffeeeeeeeeeeddeeefffggghhiijjjkkklkjigfeghhhFFFFEBAAAAAAAABFYlquy0221zwuspnlieVMLPRSTWaaaaaaaaZZZaabcdegilnopqqkZepsssttttsjVcsxyywtqnmmopsuwxz012334444444432210zzywusqpomlkkkjjjiihhhgggffeeeeeeeeddddeeefffggghhhiijjkkklkjihffghhhFFFFEBAAAAAAAABFXlquy0221zwurpnlieVMLPRSTXaaaaaaaZZZZaabcdegilnopqpjZgqssstttttnYXowyywtqmkkmpsuwxz0123344444444332100zyxusrponllkkjjjiiihhgggffeeeeeeeddddddeeefffggghhiijjjkkkkjihffghhhFFFFEBAAAAAAAABFXlqux0221zwurpnlieVMLPRSTXaaaaaaaZZZZaabcdegilnopqpiZhqssstttttqeUivxywtplgcioruwxy0123344444444332110zyxvtrponllkkkjjiiihhgggffeeeeeeeddddddeeefffggghhiijjjkkkkjihffghhhFFFFEBAAAAAAAABFXkqux0221ywurpnkieVMLPRSTYaaaaaaZYYYZZabcdegilnopqphZirssstttttsjVdsxxvsokeZhoruwxy0123344444444332110zzxvtrponmlkkkjjiiihhgggffeeeeeedddddddeeefffggghhiiijjjkkkjihgghhhiFFFFEBAAAAAAAABFXkqux0221ywtrpnkieUMMPRSUZaaaaaZYXWWYZabcdegilnopqofZjrsssstttttnYYowxvsojdYhoruwxy01233444444443322100zxvtrqonmlkkkjjjiihhgggffeeeeeddddddddeeeefffgghhhiijjjkkkjihgghhiiFFFFEBAAAAAAAABFXkqux0220ywtrpnkhdUMMPRSVZaaaaaZXVTUWYabcdegilnoppnfblqrrqrsssssqeXktvurnjcYhoruwxy01233444444444322110zywusqonmllkkjjjiihhhggffeeeeedddddddddeeefffggghhiiijjjkkjihgghiiiFFFFEBAAAAAAAABFXkqux0220ywtrpmkhdUMMPRSVZaaaaZZWROQUYabcdegilnnoongempqpmmpqqrrqjbhqsrpmjcYhoruwxy012334444444443321100ywusqpnmllkkjjjiihhhggffeeeeddddddddddeeefffggghhiiijjjkjjiihhhiiiFFFFEBAAAAAAAABFXkqux0220yvtromkhdUMMPRSWaaaaaZYUOKMSXZbcdegilmllnmiimoonjjnoppppmghnppomjbXhoruwxy012334444444443322110ywusqpnmllkkkjjiiihhggffeeeeddddddddddeeefffggghhhiiijjjjjiihhhiiiFFFFEBAAAAAAAABFXkqux0220yvtromkhdTLMPQSXaaaaaZYTMHKRWZbcdegilkeglmllmnnmiilnnnnnmkkmnnmmjbXhoruwxy012334444444443322110zxusqpomllkkkjjiiihhggffeeeeddddddddddeeeefffgghhhiiijjjjjiihhiiiiFFFFEBAAAAAAAABFXkqux0220yvtqomkhdTLMPQTYaaaaaZYTMHKRWZbcdegiljbekmmmmmmlhhlmmmmmmmmmmmmmjaXhnruwxyz12334444444443322211zxvsrpomlllkkjjjiihhggffeeeedddddddddddeeefffggghhhiiijjjjiiiiiiiiFFFFEBAAAAAAAABFXkqux0110yvtqomjhcTLMPQTYaaaaZZYUOKMSXZbcdegjljbdkmmmmmmlhgkmmmmmmmmmmmmliZXhnruwxyz12334444445444332211zxvtrpomlllkkjjjiihhggffeeeddddddddddddeeefffggghhhiiijjjjiiiiiiiiFFFFEBAAAAAAAABFXkqux0110yvsqomjhcTLMPQUZaaaaZZYWROQUYZbcdegjlkbckmmmmmmlhgkmmmmmmmmmmmmliYXhnruwxyz123344444454443322210yvtrpommllkkkjjiihhggffeeeddddddddddddeeeffffggghhhiiijjjjiiiiiiiFFFFEBAAAAAAAABFXkqux0110yvsqomjgcTLMORVZaaaZZZZXUTTWYabcdegjlkbckmmmmmmlhgkmmmmmmmmmmmmlhXXhnruwxyz123344444454443332210yvtrqonmllkkkjjiihhggffeeeddddddddcddddeeefffggghhhiiijjjjjiijjjjFFFFEBAAAAAAAABFWjptx0110xvsqomjgcSLMORWZaaaZZZZYXWWYZabcdegjlkcbjmmmmmmlhgkmmmmmmmmmmmmlgVYinruwxyz123344444444443332210yvtrqonmllkkkjjiihhggffeeeddddddddccdddeeefffgggghhhiiiiiiiiiiiiiFFFFEBAAAAAAAABEWjptwz110xvsqomkhcSMMORXaaaaaZZZZYYYZZabcdegilkcbjmmmmmmlhfkmmmmmmmmmmmmleUajoruwxy0123344444444433322110yvtrqonmllkkkjjiihhggffeeddddddddcccdddeeeefffgggghhhiiiiiiiiiiiiFFFFEBAAAAAAAABEViptwz00zxvsqomkhdSMMOSXaaaaaZZZZZZZZZabcdegilkcajlmmmmmlifkmmmmmmmmmmmmkbUclpsuwyz012334444444443322211zxvtrpommllkkjjjiihhggffeedddddddccccddddeeeefffgggghhhiiiiiiiiiiiFFFFEBAAAAAAAABEViosvy00zxvtrpnkhdSMMPSYaaaaaZZZZZZZZaabcdegikkcZilmmmmmlifjmmmmmmmmmmmmjZUfmpsvxyz012333444444433222110zxvtrpomlllkkjjjiihhggffeedddddddcccccddddeeeefffgggghhhhhhhhhhhhhFFFFEBAAAAAAAABEUhosvyz0zxvtrpnlidSMMPTZaaaaaaZZZZZZaaabcdegikkcZilmmmmmlifjmmmmmmmmmmmliWWhnqtvxyz012333344444433221100yxusrpomlllkkjjjiihhggffeeddddddccccccddddeeeeefffgggghhhhhhhhhhhhFFFFEBAAAAAAAABEThnsvyzzzxvtrpnlidSMNPUZaaaaaaZaaaaaaaabcdegikjdYhlmmmmmlifjlmmmmmmmmmmlgUYjortwxyz01233333334433221100zywusqpomllkkkjjiihhhggffeeddddddcccccccddddeeeeeffffgggghhhgggggggFFFFEBAAAAAAAABETgnruxzzyxvtrpnlidSMNPVabaaaaaaaaaaaaaabcdegijjdYhlmmmmmliejlmmmmmmmmmmkdUblpruwyzz01233333333333221100zywusqpomllkkkjjiihhggfffeedddddccccccccdddddeeeeeffffgggggggggggggFFFFEBAAAAAAAABESgnruxyzyxvtrpoljeSMNPWabaaaaaaaaaaaaabbcdegijjdXglmmmmmliejlmmmmmmmmmmkbUempsuwyz00123333333333221100zzxwusqpnmllkkkjjiihhggffeeddddddcccccccccdddddeeeeefffffggggggggggfFFFFEBAAAAAAAABESfmquwyyywvtrqomjeSMNQXbbaaaaaaaaaaaaabbcdeghjjdXflmmmmmlieilmmmmmmmmmliYVhnqsuxyz0112333333333322100zzyxvtsqpnmllkkjjjiihhggffeeddddddccccccccccddddddeeeefffffffffffffffFFFFEBAAAAAAAAADRfmqtwxyywvtrqomjeSMNQYbbbaaaaaaaaaaaabccdeghjidXflmmmmmlieilmmmmmmmmmkeUZkprtvxyz0122333333333221100zyyxvtrqpnmllkkjjjiihhggffeedddddccccccccccccddddddeeeeefffffffffffffFFFFEBAAAAAAAAADQemqtvxxxwvtsqomjeRMMRZbbbaaaaaaaaaaaabccdeghiidXelmmmmmljeilmmmmmmmmliYWgnqsuvxzz012233333333322100zzyxwvtrqonmllkkjjiiihhggffeedddddcccccccccccccdddddddeeeeefffffeeeeeeFFFFEBAAAAAAAAADQelpsvxxxwvtsqpnjdQLMRZbbbaaaaaaaaaaaabccdefhiieWelmmmmmmjehlmmmmmmmmkdVcmprsuwyz0012233333333221100zyyxwutrponmllkkjjiiihhggffeeddddccccccccccccccccddddddeeeeeeeeeeeeeeeFFFFEBAAAAAAAAADPdlpsvwxxwvtsqpnjcPKLRZbbbbaaaaaaaaaabbcddefhiieWdkmmmmmmkfglmmmmmmmliYYkpqrtvwyz011223333332222110zzyxwvusrponmllkkjjiihhhggffeeddddccccccbbccccccccccddddddeeeeeeeeeedddFFFFEBAAAAAAAAADOdlpsuwwwwvtsrpnjaNIJRZbbbbaaaaaaaaaabbcddefhhheWckmmmmmmkggkmmmmmmmkcWgprrsuvxyz011233333322222100zyxxwvtsqponmlkkkjjiihhgggffeeddddccccccbbbcccccccccccdddddddedddddddddFFFFEBAAAAAAAAACNckoruvwwwvtsrpniYKGIQZbbbbaaaaaaaaaabbcddefghheWbkmmmmmmlhgkmmmmmmlhXbossstuwxz001223333322222110zzyxwwvtsqponmlkkkjjiihhggfffeedddccccccbbbbbbcccccccccccdddddddddddddddFFFFEBAAAAAAAAACNckortvwwwvusrqniXJFHQZbbbbbaaaaaaaabbbcddefghheWbkmmmmmmligkmmmmmmkbYktuttuvwyz011223333322222100zyyxwvutrqponmlkkjjjiihhggffeeedddccccccbbbbbbbbbbccccccccccddddddccccccFFFFEBAAAAAAAAACMbknrtuvwwvusrqoiYKFHRZbbbbbaaaaaaaabbbcdeefgggeWajmmmmmmljgjlmmmmlgYervvtuvwxyz01122333322222110zzyxwwvusrqponmlkkjjjiihhggffeeddddccccccbbbbbbbbbbbbbcccccccccccccccccccFFFFEBAAAAAAAAACLajnqtuvvvvutrqojaMHJTacbbbbaaaaaaabbbccdeefgggeWZjmmmmmmljgjlmmmmkcYlvwvuuvxyz011222333322221110zyyxwvutsrqpnmllkkjjiiihhggffeedddccccccbbbbbbbbbbbbbbbbbcccccccccccccbbbFFFFEBAAAAAAAAACLajnqsuvvvvutsrokcPJMVbccbbbaaaaaaabbbccdeefggfeWZjmmmmmmmkgilmmmlhYesxxwvvwxyz011223333322221110zyxwwvutsrponmllkkjjiihhhggffeedddccccccbbbbbbbbbbbbbbbbbbbbbccccbbbbbbbbFFFFEBAAAAAAAAACKZimpstuvvvutsrpleRLOYcccbbbbaaaaabbbbccdeefggfeXYilmmmmmmkhilmmmkdZlwyxxwwxyz0012223333222211100zyxwvuutrqponmllkkjjiihhgggffeedddcccccbbbbbbbbbbbbbbbbbbbbbbbbbbbbbbbbbaFFFFEBAAAAAAAAACJYimprtuvvvutsrpmhVPSacccbbbbaaaabbbbbccdeefgffeXXhlmmmmmmliilmmlhZdryyyxxxyzz011222333322221110zyyxwvutsrqponmllkkjjiihhgggffeedddcccccbbbbbbbbbbaaaaaaabbbbbbbbbbbaaaaaaFFFFEBAAAAAAAAABJYimprstuvvutsrqnjdYacdccbbbbaaabbbbbbcddeefffeeYVglmmmmmmlihlmmkdZlwyzyyyyzz0112223333322211100zyxwvvutsrqponmllkkjjiihhggfffeeddccccccbbbbbbbaaaaaaaaaaaaaaaaaaaaaaaaaaaFFFFEBAAAAAAAAABIXhlorstuvvuttsqnlheddddcbbbbaaabbbbbccddeefffeeZUelmmmmmmljhkmliadrxzzzzzz001122223333322211100zyxwvutsrqqponmlkkkjjiihhggffeeeddcccccbbbbbbbaaaaaaaaaaaaaaaaaaaaaaaaZZZZFFFFEBAAAAAAAAABIWhloqrtuvvuttsqoljgeeddccbbbbabbbbbbccddefffeeebUdkmmmmmmlkiklkeZkvyzzzz0001122223333332221100zzyxwvutsrqpoonmlkkjjjiihhggffeeeddcccccbbbbbbaaaaaaaaaaaaaaaaaaaaaZZZZZZZZFFFFEBAAAAAAAAABHWgknqrstvvuutsromjhfeedccbbbbbbbbbbbccddefffeddcUbkmmmmmmmkjkliadrxzzz000111222233333322211100zyxwvuttsrqponnmlkkjjiihhhggffeedddcccccbbbbbaaaaaaaaaZZZZZZZZZZZZZZZZZZZYYFFFFEBAAAAAAAAABHUfjnprstuvuuttrpmkigffeddcccccccccccddeeffgfedecVZjmmmmmmmlllkfZkvyzz0001122222233333322211000zyxwvutsrqpponmmlkkjjiihhgggffeedddccccbbbbbbaaaaaaaZZZZZZZZZZZZZZZZZZZYYYYFFFFEBAAAAAAAAABGTdimoqstuvuuttsqoljihggffeeeeeeeeeeefffggghgfeedWXilmmmmmmmmliadqxzzz001112222222333322211000zyxxwvutsrqpoonmllkkjjiihhggfffeeddcccccbbbbbaaaaaaaZZZZZZZZZZZZZZZZZZYYYYYYFFFFEBAAAAAAAAABFRbgkoqrtuvuuutsrpnlkjiihhggggggggggghhhhhiihgeeeXVhlmmmmmmmmkeZkvyzz000111222222222322211000zzyxwvutsrqqponnmlkkjjiiihhggffeeeddccccbbbbbbaaaaaaZZZZZZZZZZZZZZZZZYYYYYYYYFFFFEBAAAAAAAAABFPZfjnqrtuvuuuutrqomllkkjjiiiiiiiiiiiijjjjjjigfffYUflmmmmmmmliadqxyzz00111122222222222211100zzyxwwvutsrqpoonmmlkkjjiihhgggffeeeddccccbbbbbaaaaaaaZZZZZZZZZZZZZZZZYYYYYYYYYFFFFEBAAAAAAAAABEOXdinprsuuvuuuusrqonmmlllkkkkkkkkkkkklllkkkjhgffaTdlmmmmmmmkeZkvyzz00011112222222222211100zzyyxwvutsrqqponnmllkkjjiihhggfffeedddcccbbbbbbaaaaaaZZZZZZZZZZZZZYYYYYYYYYYYYXFFFFEBAAAAAAAAABEMVbhmprsuuvvvvutsrqpoonnnmmmmmmmmmmmmmmmmllkigffbTbkmmmmmmlhZdrxyzz0011111222222222211100zzyyxwwvutsrqpoonmmllkjjiihhhggfffeedddcccbbbbbaaaaaaZZZZZZZZZZYYYYYYYYYYYYYYXXXFFFFEBAAAAAAAAABDLTaglpqstuvvvvvutsrqqqpppooooooooooooooonmmkjhgfcTZjmmmmmmkdZkvyzz00111111222222211111000zyyxxwvutsrrqponnmmlkkjjiihhgggffeeeddccccbbbbaaaaaaaZZZZZZZYYYYYYYYYYYYYYYYXXXXFFFFEBAAAAAAAAABDJRYfloqstuvvvwvvvutssrrrrqqqqqqqqqqqqqqqponljhggdUXimmmmmlhZdrxyzz0011111122222211111000zzyxxwvvutsrqpoonmmllkjjjiihhggfffeeeddcccbbbbbaaaaaaZZZZZZZYYYYYYYYYYYYYYYXXXXXXFFFFEBAAAAAAAAABCIQXekoqstuvvwwwwwvuuuttttssssssssssssssrqpomkiggeVVhlmmmmjcYkvyzz0011111122221111111000zzyyxwwvutsrrqponnmmlkkjjiihhgggfffeedddcccbbbbaaaaaaZZZZZZZYYYYYYYYYYYYYYXXXXXXXXFFFFEBAAAAAAAAAACGOVcjoqrtuvvwwxxxxwwvvvvvuuuuuuuuuuuuuutrqpnliggfXUglmmmlgYdqxyzz001111122211111111000zzyyxxwvuutsrqpoonmmllkkjjiihhgggffeeedddcccbbbbaaaaaaZZZZZZYYYYYYYYYYYYYYXXXXXXXXXFFFFEBAAAAAAAAAACFMTbjnprtuvvwxxyyyyxxxxxxxwwwwwwwwwwvvvutrqomjhgfYTelmmljbYkvyzz000112222221111111000zzzyyxwvvutsrrqponnmllkkjjiiihhggfffeeedddccbbbbaaaaaaZZZZZZYYYYYYYYYYYYXXXXXXXXXXXXFFFFEBAAAAAAAAAABEKSainprtuvwwxyzzzzzzzzzzzyyyyyyyyyxxxxwusrpmjhggaSckmmlfXcpwyzz00112222222111111000zzzyyxxwvuttsrqpoonmmllkkjjiihhgggfffeedddcccbbbbaaaaaaZZZZZZYYYYYYYYYYXXXXXXXXXXXXWWFFFFEBAAAAAAAAAABCIQZhnprsuvwxyzz011110000000000000zzzzzywusqnkhggbSakmliaXjtxyzz0011222222111111000zzzyyxxwvvutsrqqponmmllkkjjjiihhggfffeeedddcccbbbaaaaaaZZZZZZYYYYYYYYYXXXXXXXXXXXXXWWWFFFFEBAAAAAAAAAABCHPYhmoqstuwxyz00111111111111111100000zywusqolihhdTYjlibVcpvxzz0011122221111111000zzyyyxxwwvutssrqpoonmlllkkjjiihhhggfffeeedddcccbbbaaaaaaZZZZZZYYYYYYYYYXXXXXXXXXXXXWWWWFFFFEBAAAAAAAAAABCHPYglnprtuvwxyz0001111111111110000000zywutroljiifUWhibVamtwyz000111221111110000zzzyyxxxwwvuttsrqqponmmllkkjjiiihhggfffeeedddccccbbbaaaaaaZZZZZZYYYYYYYYYXXXXXXXXXXXXWWWWFFFFEBAAAAAAAAAABCHPXfknpqstuvwxyz0000000000000000000zzzywvtrpmkkkhWUebUZksvxzz0001111111100000zzzyyxxxwwvvuttsrqqpoonmllkkjjjiihhhggfffeeedddcccbbbbaaaaaaZZZZZZYYYYYYYYYXXXXXXXXXXXXWWWWFFFFEBAAAAAAAAAABCGOXfkmoqrstuvwxyzzzzzzzz0000000zzzzzzzywvtrpnllmkYSYUXjruwyz000011111100000zzzyyyxxwwwvvuttsrrqpponmmlkkkjjiihhhgggffeeeedddcccbbbbaaaaaaZZZZZZYYYYYYYYYYXXXXXXXXXXXWWWWFFFFEBAAAAAAAAAABCGOWejlnpqstuvwwxyyzzzzzzzzzzzzzzzzzzzzywvtsqonnnmaQRWiruwxy00000111110000zzzyyyxxxwwvvuuttsrrqpponnmllkkjjiiihhgggfffeeedddccccbbbaaaaaaaZZZZZZZYYYYYYYYYXXXXXXXXXXXWWWWFFFFEBAAAAAAAAAABCGOWdikmoprstuvwxxyyyyyyyyyzzzzzzzzzzzyywvtsqpoopnbQSgrvwxyz011111100000zzzyyyyxxwwvvvuuttsrrqppoonmmlkkjjjiihhhggfffeeeedddcccbbbbaaaaaaaZZZZZZZYYYYYYYYYYXXXXXXXXXXWWWWFFFFEBAAAAAAAAAABCGNVdhjlnpqrstuvwwxxxxxyyyyyyyyyyyyyyyyywvusrqppqpeUbqwxyyz011111100000zzzyyyxxwwwvvuutttsrrqppoonmmllkkjjiihhhgggfffeeeddddcccbbbbaaaaaaaZZZZZZZYYYYYYYYYYXXXXXXXXXXWWWWFFFFEBAAAAAAAAAABBFNVchjkmoprsstuvwwwxxxxxxxxyyyyyyyyyyyxwvutrrqrstqmqwyzzz011111110000zzzyyxxxwwvvuuuttssrrqppoonnmllkkjjiihhhgggfffeeeedddccccbbbbaaaaaaaZZZZZZZZYYYYYYYYYXXXXXXXXXXWWWWFFFFEBAAAAAAAAAAABFMUbgiklnpqrsstuvvwwwwwwxxxxxxxxxyyyyyxwvutsrssuvvwxz000111222111000zzyyyxxwwwvvuuttsssrrqppoonnmmlkkjjiiihhgggffffeeeddddcccbbbbaaaaaaaaZZZZZZZZYYYYYYYYYYXXXXXXXWWWWWVFFFFEBAAAAAAAAAAABELTafhjlmopqrsttuvvvvwwwwwwwxxxxxxxxxyxwvutsstuvwxyz012222222211100zzzyyxxwwvvvuuttssrrqqppoonnmmllkkjjiihhggggfffeeeddddccccbbbbaaaaaaaaZZZZZZZZYYYYYYYYXXXXWWWVVVUUTTTFFFFEBAAAAAAAAAAABDJSaegikmnopqrsttuuvvvvvvwwwwwwxxxxxxxxwvvuttuvxyz01233333333221100zzyyxxwwvvuuttssrrrqqpponnmmmllkkjjiihhhgggfffeeeeddddccccbbbbaaaaaaaaZZZZZZZYYYXXXWWWVVUUUTTSSSRRQQQFFFFEBAAAAAAAAAAAACHPZdfhjlmoppqrsttuuuuvvvvvvwwwwwwxxxxxwwvuuuvxyz01244554443322110zzyyxxwwvvuuttssrrqqppoonnmmlllkkjjiiihhgggfffeeeeddddccccbbbbaaaaaaaZZZZZYYXWWVVVUUTTSSSRRQQQPPPOOONNFFFFEBAAAAAAAAAAAABFMWcegijlmnopqrrsttttuuuuvvvvvwwwwwxxxwwvuuvwxz012456665544332110zzyyxwwvvuuttssrrqqppoonnmmlllkkjjiiihhgggffffeeeeddddccccbbbbaaaaaZZYXXWWVVUTTSSRRRQQPPPOONNNMMMLLLKKFFFFEBAAAAAAAAAAAABDJSadegiklmnnopqrrssttttuuuuuvvvvwwwwwwvvvvvxy0123456666554432110zzyxxwwvvuttssrrqqppoonnmmlllkkjjjiihhhgggffffeeeedddddcccbbbaZZYXXWWVUUTTSRRQQPPOONNNMMMLLKKKJJJIIIHHFFFFEBAAAAAAAAAAAAABGOWbdegijklmnoppqrrrssttttuuuuvvvvwwwwvvvvwxz0123567766554432210zzyxxwvvuuttsrrqqppoonnmmlllkkjjiiihhhgggfffffeeeeddddccbbaZYXWWVUTTSSRQQPPONNMMLLLKKJJJIIIHHHGGGFFFEEFFFFEBAAAAAAAAAAAAABDKRXbdeghijklmnoppqqrrsssttttuuuuvvvvvvvvvwyz0234567776655433210zzyxwwvvuttssrqqppoonnmmlllkkjjiiihhhhgggfffffeeedddcbaZYXWVVUTSRRQPPOONMMLLKKJJIIHHHGGFFFEEEEDDDCCCCCFFFFEBAAAAAAAAAAAAAABGLQVaceghijklmnnoppqrrrsssstttuuuuvvvvwwwxyz1234578877665543210zyyxwvvuutssrrqppoonnmmmllkkjjiiihhhhggggffffeeecbaZYXWVUUTSRQPPONMMLLKKJIIHHGGFFEEEDDDCCCCCCBBBBBBBBBFFFFEBAAAAAAAAAAAAAAACFJOTYcefghijklmnoopqqqrrrssstttuuuvvvwwwxz01345678887766543210zyyxwvvuttsrrqqpoonnmmmllkkjjiiihhhhggggfffeedcaZXWVUTSSRQPONNMLKKJIIHHGFFEEDDCCCCCCBBBBBBBBBBBBBBBBBBFFFFEBAAAAAAAAAAAAAAAABDHLQVadefhijklmnnoppqqqrrrssstttuuvvwwxyz02345689988766543210zyxwwvuutssrqqpoonnmmmllkkjjiiihhhgggggffedcbZYWVUSRQQPONMLLKJIHHGFFEEDDCCCCBBBBBBBBBBBBBBBBBBBBBBBBBBFFFFEBAAAAAAAAAAAAAAAAABBEINSXcefghijklmnooppqqqrrrsssttuuvwxxy012356789998776554310zyxwvvuttsrrqpponnmmlllkkjjiiihhggggggfecbZYXVUSRQONMMLKJIIHGFFEDCCCCCBBBBBBBBBBBBBBBBBBBBBBBBBBBBBBBBFFFFEBAAAAAAAAAAAAAAAAAAABCGKPUZdeghijklmnoooppqqqrrsssttuvwxyz01345679++99877654321zyxwvvutssrqqpoonmmlllkkjjiiihhgggggfedbZXVUTRQONMLJJIHGFFEDCCCCBBBBBBBBBBBBBBBBBBBBBBBBBBBBBBBBBBBBBBFFFFEBAAAAAAAAAAAAAAAAAAAAABDHMRVadfhijkmmnnoooppqqqrrsstuvwxyz12345789+++9887654321zyxwvuutsrrqpponmmlllkkjjiiihhggggfedbZXVTRQPNMLJIHFFEDDCCCBBBBBBBBBBBBBBBBBBBBBBBBBBBBBBBBBBBBBBBBBBBFFFFEBAAAAAAAAAAAAAAAAAAAAAABBFJNRVaegijklmmnnnooppqqrrrstvwxy012346789+/+9887654320zyxwvutssrqqponnmlllkkjjjiihhhggffdbZXVTRPNMLJIHFEDCCCBBBBBBBBBBBBBBBBBBBBBBBBBBBBBBBBBBBBBBBBBBBBBBBBFFFFEBAAAAAAAAAAAAAAAAAAAAAAAABCFIMRVaehjkkllmmnnooppqqrrtuvxy012356789+/+9887654310zywvuttsrrqpoonmmllkkkjjiiihhhgfdbZXVTRPNLKIHFEDCCBBBBBBBBBBBBBBBBBBBBBBBBBBBBBBBBBBBBBBBBBBBBBBBBBBBBFFFFEBAAAAAAAAAAAAAAAAAAAAAAAAAABBEIMQVZehjjkllmmnnooppqrsuvwyz12356789+/+9877654210zxwvutssrqpponmmllkkkjjjiiihhhfcaYWUSQOMKIGEDCCBBBBBBBBBBBBBBBBBBBBBBBBBBBBBBBBBBBBBBBBBBBBBBBBBBBBBBBFFFFEBAAAAAAAAAAAAAAAAAAAAAAAAAAAABBDHLPUYcgijkklmmnnoopqrtuwyz12356789+++9877653210yxwuttsrqqponnmllkkkjjjjiiihhfcZWUSQOMKIGECCBBBBBBBBBBBBBBBBBBBBBBBBBBBBBBBBBBBBBBBBBBBBBBBBBBBBBBBBBBFFFFEBAAAAAAAAAAAAAAAAAAAAAAAAAAAAAABBCGKOSVZcfijklmmnnoprsuwxz12356789+++987664321zyxvutsrrqpoonmmlkkjjjjjiiiihfcZWTQOMKIGECCBBBBBBBBBBBBBBBBBBBBBBBBBBBBBBBBBBBBBBBBBBBBBBBBBBBBBBBBBBBBFFFFEBAAAAAAAAAAAAAAAAAAAAAAAAAAAAAAAAABCFHKORVYcfiklmmnoqstvxz12356789+++987654320zywvtssrqqponnmlkkjjjjjiiiihebYVSPNKIGECCBBBBBBBBBBBBBBBBBBBBBBBBBBBBBBBBBBBBBBBBBBBBBBBBBBBBBBBBBBBBBBFFFFEBAAAAAAAAAAAAAAAAAAAAAAAAAAAAAAAAAAABBCEHKNRUYcfjlmnprtvxz12356789+++987654310zxwutsrrqpoonmllkjjjjiiiiihfbYVSPMJGEDCBBBBBBBBBBBBBBBBBBBBBBBBBBBBBBBBBBBBBBBBBBBBBBBBBBBBBBBBBBBBBBBBFFFFEBAAAAAAAAAAAAAAAAAAAAAAAAAAAAAAAAAAAAAABBCEHKOSVaglnprtvxz12356789+++987654310yxwutsrqqponnmlkkjjjiiiiiigdZVSPMJGDCBBBBBBBBBBBBBBBBBBBBBBBBBBBBBBBBBBBBBBBBBBBBBBBBBBBBBBBBBBBBBBBBBB"};
for(var k in D){var c=document.getElementById('c'+k),x=c.getContext('2d'),w=c.width,h=c.height,im=x.createImageData(w,h),s=D[k],d=im.data;
for(var j=0;j<w*h;j++){var v=M[s.charAt(j)]*6;d[4*j]=parseInt(L.substr(v,2),16);d[4*j+1]=parseInt(L.substr(v+2,2),16);d[4*j+2]=parseInt(L.substr(v+4,2),16);d[4*j+3]=255;}
x.putImageData(im,0,0);}
})();
</script>
</body></html>
